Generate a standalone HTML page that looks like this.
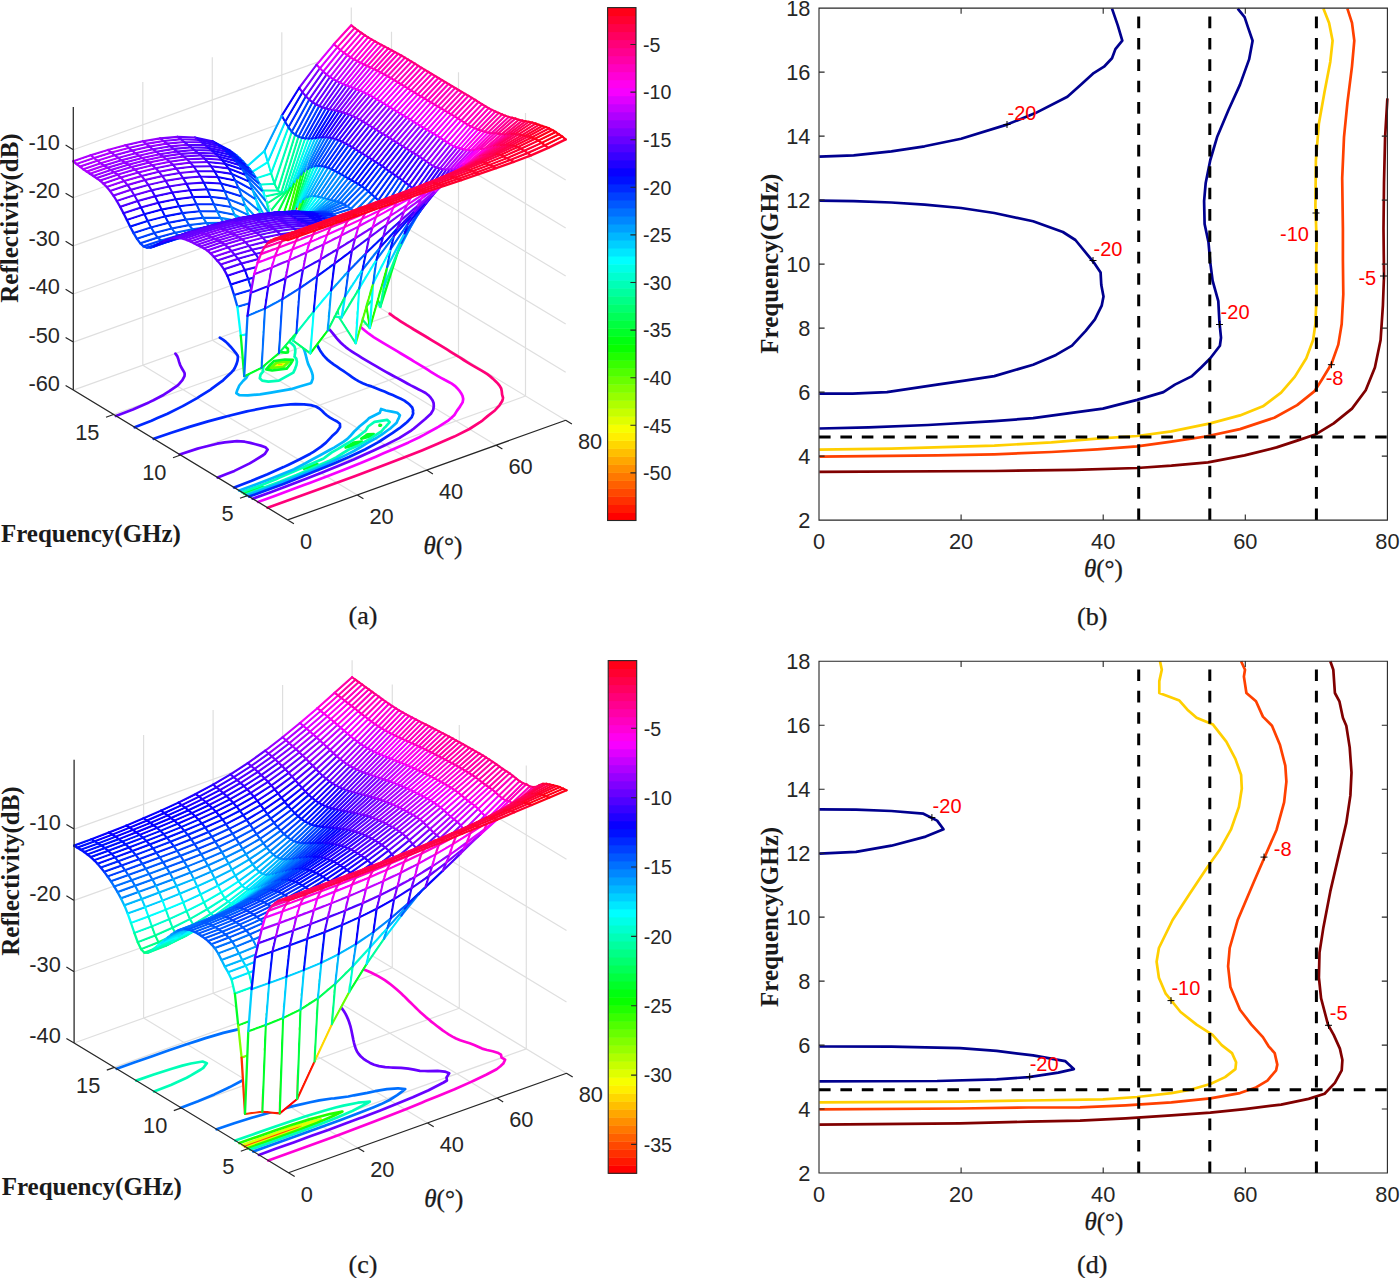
<!DOCTYPE html><html><head><meta charset="utf-8"><style>
html,body{margin:0;padding:0;background:#fff}
svg{display:block}
text{font-family:"Liberation Sans",sans-serif}
.tk{font-size:21.8px;fill:#262626}
.cb{font-size:19.6px;fill:#262626}
.cl{font-size:20px;fill:#f00}
.lb{font-family:"Liberation Serif",serif;font-weight:bold;font-size:25px;fill:#1a1a1a}
.lb text,.th text,.cp text{font-family:"Liberation Serif",serif}
.th{font-size:25px;fill:#1a1a1a;stroke:#1a1a1a;stroke-width:.3px}
.cp{font-size:26px;fill:#1a1a1a;stroke:#1a1a1a;stroke-width:.25px}
.m path{fill:#fff}
.m .s{fill:none;stroke-width:2.3px;stroke-linejoin:round;stroke-linecap:round}
</style></head><body><svg width="1400" height="1278" viewBox="0 0 1400 1278">
<rect width="1400" height="1278" fill="#fff"/>
<path stroke="#000" stroke-opacity=".13" stroke-width="1.2" fill="none" d="M287.7 519.9L73.3 390.1M73.3 390.1L73.3 107M357.2 495L142.8 365.2M142.8 365.2L142.8 82.1M426.7 470.1L212.3 340.3M212.3 340.3L212.3 57.2M496.2 445.2L281.8 315.4M281.8 315.4L281.8 32.3M565.7 420.3L351.3 290.5M351.3 290.5L351.3 7.4M247.5 495.6L525.5 396M525.5 396L525.5 112.9M180.5 455L458.5 355.4M458.5 355.4L458.5 72.3M113.5 414.5L391.5 314.9M391.5 314.9L391.5 31.8M73.3 149.7L351.3 50.1M351.3 50.1L565.7 179.9M73.3 197.8L351.3 98.2M351.3 98.2L565.7 228M73.3 245.9L351.3 146.3M351.3 146.3L565.7 276.1M73.3 294L351.3 194.4M351.3 194.4L565.7 324.1M73.3 342.1L351.3 242.5M351.3 242.5L565.7 372.2M73.3 390.1L351.3 290.5M351.3 290.5L565.7 420.3M351.3 290.5L351.3 7.4M565.7 420.3L351.3 290.5"/>
<g fill="none" stroke-width="2.7" stroke-linejoin="round" stroke-linecap="round">
<path d="M281.1 365.2l-4.5 .5 2.3-1.8 4.2-.5-2 1.8" stroke="#ff7800"/>
<path d="M282.3 365.9l-9.1 1.1 4.6-3.8 8.6-1-4.1 3.7" stroke="#f7ff00"/>
<path d="M283.7 366.8l-1.7 .2-12.3 1.2 7-5.6 13-1.6-5.6 5.2-.4 .6" stroke="#68ff00"/>
<path d="M243.9 493.4l17.6-6.1 1.2-.4-1.1 .4-17.3 6.3" stroke="#00ff28"/>
<path d="M310.8 466.9l-6.7 1.9 5.7-2.5 7.6-2.2-6.6 2.8" stroke="#00ff28"/>
<path d="M356.9 444.6l-11.3 2.9 8.1-4.8 8.3-1.1-5.1 3" stroke="#00ff28"/>
<path d="M370.7 436.2l-9.4 2.5 6.3-4.4 6.1-.1-3 2" stroke="#00ff28"/>
<path d="M380.7 425.5l-1.2 .2 .2-.8 1.3 .2-.3 .4" stroke="#00ff28"/>
<path d="M286.7 368.6l-.5 .1-14.1 1.8-5.8-1.1 4-4.7 3.8-3.7 10.9-1.5 8 .3-2.5 4.2-3.8 4.6 0 0" stroke="#00ff28"/>
<path d="M287.8 352.5l-2 .2-7.1-.7-2.9-2.1-.7-3-.2-2.2 4.9 .5 5.4 1.3 2.7 2.3 0 3.2-.1 .5" stroke="#00ff28"/>
<path d="M241.8 492.1l17.3-6.2 16.9-6.6 2.4-1.3 13.5-5.8 16.2-6.9 15-6.5 1-.6 7.7-5.8 5.4-3 9.1-5.4 4.8-2.9 6.9-4.5 5.8-4.6 1.9-1.4 2.4-4.1 6.4-4.7 12.6-2 2.5 2.3-3.9 4.6-1.3 1.1-3.1 3.7-8.9 5.7-2.6 1.6-11.5 6.6-9.4 4.1-5.8 3.5-6.5 4.2-7.8 3.9-16.2 6.9-13.7 5.9-2.5 1.1-16.5 6.7-17 6.4-17.3 6.3" stroke="#00ffb7"/>
<path d="M278.8 380.6l-10.4 1-6.2-1-2.4-2.4 .7-3.5 2.8-3.5-.4-.6 .3-3.3 2.6-4.2 3.7-4.5 .2-.3 .5-3.2-1.6-2.7-1.2-2.8-1.1-2.8-1.2-2.8-1.3-2.8-1.4-2.7-1.1-2 2.2-1.6 9.6-6.7 1.2-.6 .3 .1 5 1.4 3.5 2 2.4 2.4 .9 1.5-.7 1.6 1 2.9 2.6 2.3 2.9 2.2 2.2 2.4 .9 2.9-.1 3.3-.6 3.5-.1 .5 1.8 2.1 .6 3-.5 3.4-1.3 3.7-1.8 3.8 0 0-14.5 8" stroke="#00ffb7"/>
<path d="M239.2 490.6l17.2-6.4 16.8-6.5 16.6-6.7 4.2-1.8 11.1-5.7 7.1-4 7.5-4 10.4-5.7 4-2.2 9.2-5.7 4.1-3 2.6-2.6 4.2-4.8 3.5-3.2 2-2 7-5.7 2.1-2.3 11-5.6 1.3-3.7 4.6 1.5 6.1 1.1 5.5 1.2 2.6 2.4-1.5 3.7-.3 .4-1.5 3.5-5.8 5.3-2.7 1.9-6.4 4.6-6.8 4.2-7.4 4.1-6.7 4.1-6.9 4-7.6 3.9-15.6 7.3-4 1.8-12.1 5.2-16.4 6.8-16.9 6.6-17.1 6.3-17.3 6.3" stroke="#00b7ff"/>
<path d="M260.3 323.1l4.9-1 6.1 .3 6.9 .8 5.5 1.2 4.3 1.7 3.4 2 2.8 2.3 2.2 2.4 1.8 2.6 1.3 2.8 .8 2.9 .3 2.5 .4 .5 1.7 2.6 1.3 2.7 1 2.9 .8 3 .7 2.9 .8 3 .9 2.9 .5 1.1 .8 1.6 1.3 2.8 1.1 2.8 .8 3 .1 3.2-1.3 3.7-.7 .9-11.2 3.3-7.2 2.3-15.9 2.8-5.6 1-10.9 1.7-12.1 1.1-.1 0-8.5-.2-3-2.1 1.2-3.7 .2-.2 1.6-3.7 3.7-4.5 3.4-3.3 .7-1.4 3.1-4.4 4.5-4.8 .6-.7 .8-3 1.4-3.7 1.2-3.7 .9-3.6 0-.2-1.8-2.3-2.1-2.5-2.1-2.5-2.2-2.4-2.3-2.4-2.2-2.5-2.1-2.4-1.9-2.6-1.3-2.7" stroke="#00b7ff"/>
<path d="M234.1 487.5l.1-.1 16.9-6.4 16.4-6.8 16-7.1 5.1-2.4 10.2-5 11.6-6 3.1-1.9 7.6-5.2 4.9-4 1.4-1.5 4.5-4.8 4.5-4.1 1-1.1 2.7-4.2-.2-3.2-2.8-2.2-3.6-1.9-3.5-2-3-2.1-2.6-2.3-2.4-2.4-2.7-2.3-3.5-2-4.9-1.4-6.8-.8-8.6-.2-5 .3-6.5 .6-14.4 1.9-2 .4-17.7 3.5-3.1 .6-19.7 4.8-6 1.7-13.1 3.5-18.6 5.5-18.1 5.8-17.6 6.1" stroke="#0028ff"/>
<path d="M134.7 427.3l16.8-6.5 5.9-2.7 10.1-4.4 15.2-7.6 1.4-.8 13-7.2 2.2-1.5 11.3-7 .5-.4 8.5-6.3 3.5-2.6 3.1-3 5.4-5.1 2-2.2 1.3-2.2 1.7-3.9 1-3.6 .3-3.3-.3-1.4-.9-1.4-2-2.5-2-2.5-2.1-2.5-2.3-2.4-2.4-2.4-2.9-2.2-3.2-2" stroke="#0028ff"/>
<path d="M277.5 317l6.1 1 4.6 1.3 .5 .1 4.9 1.5 4 1.8 3.3 2 2.8 2.3 2.4 2.3 1.3 1.6 .9 .9 2.3 2.4 2 2.5 1.7 2.6 1.4 2.7 1.4 2.8 1.3 2.7 1.5 2.7 1.7 2.6 1.9 2.6 2.2 2.4 2.4 2.4 .3 .2 2.5 2 3 2.2 3.1 2.1 3.1 2.1 3.2 2.1 3 2.1 3.1 2.2 3 2.1 3.1 2.1 3.4 2 3.8 1.9 4.3 1.7 4.5 1.4 .2 .1 4.4 1.7 4.2 1.7 4.2 1.7 4.1 1.8 4.1 1.7 4.1 1.8 4 1.8 3.6 1.9 3 2.2 2.6 2.3 2.2 2.4 .9 2.9-.2 1.1 .3 2.1-1.6 3.8-4.7 4.9-1.7 1.3-5.7 4.6-6.8 4.6-3.9 2.5-9.4 6.2-1.5 .9-12.9 7.1-5.8 2.8-9.7 4.5-16.1 7-16.6 6.8-6.2 2.4-10.4 4.2-16.7 6.7-17.1 6.4-17.2 6.3" stroke="#0028ff"/>
<path d="M217.7 477.6l9.5-3.8 7.2-2.9 15.3-7.5 3.8-2.3 9.9-6.1 1.4-1.1 2.9-4.3-2.3-2.4-4.7-1.6-5.2-1.3-5.2-1.4-5.6-1.2-3.9-.4-3.8-.1-12.3 1.2-7.6 1.3-16.3 4-3.2 .9-17.9 5.9" stroke="#6800ff"/>
<path d="M115.9 415.9l17-6.5 16-7 4.5-2.2 10.4-5.5 5.5-3.5 7.7-5.3 1.3-1.1 4.1-4.7 2.1-4 .2-2.2-.2-1-1.5-2.7-1.6-2.7-1.3-2.7-1-2.9-.8-2.9-1.1-2.9-1.8-2.5" stroke="#6800ff"/>
<path d="M295.3 310.6l5.4 1.3 4.8 1.5 1.8 .7 2.6 1 3.9 1.8 3.4 2 3 2.1 2.8 2.3 .9 .9 1.6 1.4 2.5 2.3 2.3 2.5 2.1 2.4 2 2.5 2 2.5 2.1 2.5 2.3 2.4 2.5 2.3 2.7 2.3 2.9 2.2 3.1 2.1 3.2 2.1 3.3 2 3.4 2.1 3.4 2 3.4 2 3.4 2 3.5 2 3.4 2 3.4 2 3.5 2 3.5 1.9 3.6 2 3.6 1.9 3.6 1.9 3.6 2 3.5 2 3.5 1.9 3.7 1.9 3.8 1.9 3.8 1.9 3.5 1.9 2.8 2.2 2.3 2.5 1.8 2.5 1.1 2.9 .2 3.1-.2 1.1-.3 2.3-2.4 4.1-5.7 5.3 0 0-6.8 5.7-4.8 4-2.1 1.6-11.2 7.1-.7 .5-14.3 7.2-11.1 5.1-4.5 2.1-15.9 7.2-16.3 6.8-4.3 1.8-12.3 5-16.7 6.5-17 6.5-17.2 6.4-17.3 6.2" stroke="#6800ff"/>
<path d="M319.3 302l5.1 1.4 4.7 1.6 4.2 1.7 3.8 1.8 3.5 2 3.2 2.1 3 2.1 2.8 2.3 2.7 2.2 2.6 2.3 2.5 2.4 2.5 2.3 2.5 2.3 2.7 2.3 2.8 2.2 3 2.2 3.1 2.1 3.3 2 3.3 2.1 3.3 2 3.4 2 3.4 2 3.4 2 3.4 2 3.4 2.1 3.4 2 3.3 2 3.4 2 3.3 2.1 3.4 2 3.3 2 3.4 2 3.2 2.1 3.3 2.1 3.3 2 3.3 2 3.5 2 3.6 2 3.7 1.9 3.5 1.9 3 2.2 2.2 2.2 .2 .2 2.1 2.4 1.8 2.6 1.4 2.7 .7 3-.6 3.5-2.6 4.1 0 .1-3.1 4.3-2.5 4.1-3.2 3-2.7 2.3-10.2 6.6-1.5 .8-12.9 7.2-4.5 2.3-10.8 5.2-16 7.1-9.1 3.8-7.1 3.1-16.3 6.9-16.7 6.6-16.8 6.6-17 6.4-5.7 2.1-11.4 4.3-17.2 6.4-17.3 6.2" stroke="#f700ff"/>
<path d="M389.6 313.7l1.7 1.2 3 2.2 3.1 2.1 3.2 2.1 3.3 2.1 3.2 2 3.4 2 3.3 2.1 3.4 2 3.4 2 3.4 2 3.3 2 3.4 2.1 3.3 2 3.4 2 3.3 2.1 3.3 2 3.3 2 3.3 2.1 3.3 2 3.3 2.1 3.3 2 3.2 2.1 3.3 2.1 3.3 2 3.4 2 3.5 2 3.5 2 3.4 2 3.2 2.1 2.9 2.2 2.6 2.2 2.5 2.4 2.4 2.4 2 2.4 1.5 2.7 .6 3.1 .3 3.1 .9 2.9-.2 1.4-.6 2.1-2.7 4.2-4.4 4.8-.6 .6-6.6 5.2-5.2 4.4-2.2 1.5-11.1 7.2 0 0-15.1 7.6-12.6 5.5-3.4 1.5-16.4 6.9-16.7 6.6-16.9 6.5-17.1 6.4-17.2 6.4-17.2 6.3-17.2 6.3-17.3 6.2-17.4 6.3-17.3 6.2" stroke="#ff0078"/>
<path d="M350.4 290.9l4.2 1.7 .4 .2" stroke="#ff0078"/>
</g>
<g class="m">
<path class="s" d="M354.7 28.1l-3.4-2.7" stroke="#ff0078"/>
<path class="s" d="M333.9 44.4l17.4-19" stroke="#ff00bf"/>
<path d="M337.3 47.4l16.6-18.5-2.5-2-16.7 18.2z"/>
<path class="s" d="M354.7 28.1l-17.4 19.3-3.4-3" stroke="#ff00bf"/>
<path class="s" d="M316.6 64.9l17.3-20.5" stroke="#df00ff"/>
<path d="M319.9 68.4l16.7-20.1-2.6-2.3-16.7 19.7z"/>
<path class="s" d="M337.3 47.4l-17.4 21-3.3-3.5" stroke="#df00ff"/>
<path class="s" d="M299.2 88l17.4-23.1" stroke="#8000ff"/>
<path d="M302.5 92.4l16.7-23.1-2.6-2.7-16.7 22.3z"/>
<path class="s" d="M319.9 68.4l-17.4 24-3.3-4.4" stroke="#8000ff"/>
<path class="s" d="M281.8 115.9l17.4-27.9" stroke="#0800ff"/>
<path d="M285.2 122l16.7-28.6-2.6-3.5-16.9 27.1z"/>
<path class="s" d="M302.5 92.4l-17.3 29.6-3.4-6.1" stroke="#0010ff"/>
<path class="s" d="M264.4 151.2l17.4-35.3" stroke="#009fff"/>
<path d="M267.8 162.3l16.8-39-2.7-5-17 34.5z"/>
<path class="s" d="M285.2 122l-17.4 40.3-3.4-11.1" stroke="#00e7ff"/>
<path class="s" d="M247 166.6l17.4-15.4" stroke="#00e7ff"/>
<path d="M250.4 173.1l16.4-10.2-2.9-9.7-16.3 14.4z"/>
<path class="s" d="M267.8 162.3l-17.4 10.8-3.4-6.5" stroke="#0ff"/>
<path class="s" d="M229.7 150.6l17.3 16" stroke="#0058ff"/>
<path class="s" d="M250.4 173.1l-17.4-20.2-3.3-2.3" stroke="#0058ff"/>
<path class="s" d="M212.3 141.3l17.4 9.3" stroke="#0800ff"/>
<path class="s" d="M233 152.9l-17.4-9.5-3.3-2.1" stroke="#0800ff"/>
<path class="s" d="M194.9 137.6l17.4 3.7" stroke="#3800ff"/>
<path d="M198.3 139.8l14.2 2.9-.6-.4-14.5-3.1z"/>
<path class="s" d="M215.6 143.4l-17.3-3.6-3.4-2.2" stroke="#3800ff"/>
<path class="s" d="M177.5 137l17.4 .6" stroke="#6800ff"/>
<path d="M180.9 139.4l15.3 .4-1.6-1.2-15.5-.4z"/>
<path class="s" d="M198.3 139.8l-17.4-.4-3.4-2.4" stroke="#6800ff"/>
<path class="s" d="M160.2 138.5l17.3-1.5" stroke="#8000ff"/>
<path d="M163.5 141.1l15.7-1.5-2-1.4-15.7 1.3z"/>
<path class="s" d="M180.9 139.4l-17.4 1.7-3.3-2.6" stroke="#8000ff"/>
<path class="s" d="M142.8 141.4l17.4-2.9" stroke="#9700ff"/>
<path d="M146.1 144l15.9-2.7-2.1-1.6-15.9 2.6z"/>
<path class="s" d="M163.5 141.1l-17.4 2.9-3.3-2.6" stroke="#9700ff"/>
<path class="s" d="M125.4 145.3l17.4-3.9" stroke="#9700ff"/>
<path d="M128.8 148l16-3.7-2.3-1.7-16 3.6z"/>
<path class="s" d="M146.1 144l-17.3 4-3.4-2.7" stroke="#9700ff"/>
<path class="s" d="M108 150l17.4-4.7" stroke="#af00ff"/>
<path d="M111.4 152.7l16.1-4.4-2.3-1.8-16.1 4.3z"/>
<path class="s" d="M128.8 148l-17.4 4.7-3.4-2.7" stroke="#af00ff"/>
<path class="s" d="M90.7 155.3l17.3-5.3" stroke="#af00ff"/>
<path d="M94 158.1l16.1-5-2.3-1.9-16.1 5z"/>
<path class="s" d="M111.4 152.7l-17.4 5.4-3.3-2.8" stroke="#af00ff"/>
<path class="s" d="M73.3 161.3l17.4-6" stroke="#af00ff"/>
<path d="M76.6 164l16.2-5.5-2.3-1.9-16.2 5.5z"/>
<path class="s" d="M94 158.1l-17.4 5.9-3.3-2.7" stroke="#af00ff"/>
<path class="s" d="M358 30.6l-3.3-2.5" stroke="#ff0078"/>
<path d="M340.6 50.3l16.7-18.8-2.5-1.9-16.7 18.5z"/>
<path class="s" d="M358 30.6l-17.4 19.7-3.3-2.9" stroke="#ff00d7"/>
<path d="M323.2 71.7l16.7-20.5-2.5-2.2-16.7 20.2z"/>
<path class="s" d="M340.6 50.3l-17.4 21.4-3.3-3.3" stroke="#df00ff"/>
<path d="M305.9 96.4l16.7-23.8-2.6-2.5-16.7 23.2z"/>
<path class="s" d="M323.2 71.7l-17.3 24.7-3.4-4" stroke="#6800ff"/>
<path d="M288.5 127.5l16.8-30.1-2.6-3.1-16.9 28.8z"/>
<path class="s" d="M305.9 96.4l-17.4 31.1-3.3-5.5" stroke="#0028ff"/>
<path d="M271.1 173.7l16.9-44.9-2.7-4.4-17 39.6z"/>
<path class="s" d="M288.5 127.5l-17.4 46.2-3.3-11.4" stroke="#00ffe7"/>
<path d="M253.7 179.2l16.4-5.1-3-10.1-16.2 10.1z"/>
<path class="s" d="M271.1 173.7l-17.4 5.5-3.3-6.1" stroke="#00ffe7"/>
<path class="s" d="M253.7 179.2l-17.3-23.8-3.4-2.5" stroke="#0058ff"/>
<path class="s" d="M236.4 155.4l-17.4-9.6-3.4-2.4" stroke="#0800ff"/>
<path d="M201.6 142.3l14.8 3-1.2-.9-14.9-3z"/>
<path class="s" d="M219 145.8l-17.4-3.5-3.3-2.5" stroke="#3800ff"/>
<path d="M184.2 142.1l15.6 .2-1.9-1.4-15.5-.3z"/>
<path class="s" d="M201.6 142.3l-17.4-.2-3.3-2.7" stroke="#6800ff"/>
<path d="M166.9 143.7l15.8-1.5-2.1-1.6-15.8 1.4z"/>
<path class="s" d="M184.2 142.1l-17.3 1.6-3.4-2.6" stroke="#8000ff"/>
<path d="M149.5 146.7l15.9-2.7-2.2-1.8-15.9 2.7z"/>
<path class="s" d="M166.9 143.7l-17.4 3-3.4-2.7" stroke="#9700ff"/>
<path d="M132.1 150.7l16-3.7-2.2-1.8-16 3.7z"/>
<path class="s" d="M149.5 146.7l-17.4 4-3.3-2.7" stroke="#9700ff"/>
<path d="M114.7 155.4l16.1-4.4-2.3-1.8-16 4.4z"/>
<path class="s" d="M132.1 150.7l-17.4 4.7-3.3-2.7" stroke="#9700ff"/>
<path d="M97.4 160.8l16.1-5-2.3-1.9-16.1 5z"/>
<path class="s" d="M114.7 155.4l-17.3 5.4-3.4-2.7" stroke="#af00ff"/>
<path d="M80 166.7l16.1-5.5-2.3-1.9-16.1 5.5z"/>
<path class="s" d="M97.4 160.8l-17.4 5.9-3.4-2.7" stroke="#af00ff"/>
<path class="s" d="M361.4 33l-3.4-2.4" stroke="#ff0078"/>
<path d="M344 52.9l16.6-19-2.4-1.8-16.7 18.9z"/>
<path class="s" d="M361.4 33l-17.4 19.9-3.4-2.6" stroke="#ff00d7"/>
<path d="M326.6 74.6l16.7-20.8-2.5-2-16.7 20.6z"/>
<path class="s" d="M344 52.9l-17.4 21.7-3.4-2.9" stroke="#c700ff"/>
<path d="M309.2 99.7l16.8-24.2-2.6-2.1-16.7 23.7z"/>
<path class="s" d="M326.6 74.6l-17.4 25.1-3.3-3.3" stroke="#6800ff"/>
<path d="M291.8 131.8l16.9-31.1-2.6-2.5-16.9 30.2z"/>
<path class="s" d="M309.2 99.7l-17.4 32.1-3.3-4.3" stroke="#0040ff"/>
<path d="M274.5 183.9l16.9-50.8-2.6-3.4-17.1 45.7z"/>
<path class="s" d="M291.8 131.8l-17.3 52.1-3.4-10.2" stroke="#00ffb7"/>
<path d="M257.1 184.9l16.2-.9-2.9-8.9-16.1 5z"/>
<path class="s" d="M274.5 183.9l-17.4 1-3.4-5.7" stroke="#00ffcf"/>
<path class="s" d="M257.1 184.9l-17.4-26.5-3.3-3" stroke="#0070ff"/>
<path class="s" d="M239.7 158.4l-17.3-9.8-3.4-2.8" stroke="#0010ff"/>
<path d="M205 145.1l15 3-1.5-1.2-15-3.1z"/>
<path class="s" d="M222.4 148.6l-17.4-3.5-3.4-2.8" stroke="#3800ff"/>
<path d="M187.6 144.8l15.6 .2-2-1.6-15.6-.2z"/>
<path class="s" d="M205 145.1l-17.4-.3-3.4-2.7" stroke="#5000ff"/>
<path d="M170.2 146.4l15.8-1.5-2.1-1.7-15.8 1.5z"/>
<path class="s" d="M187.6 144.8l-17.4 1.6-3.3-2.7" stroke="#8000ff"/>
<path d="M152.8 149.4l16-2.7-2.2-1.8-15.9 2.7z"/>
<path class="s" d="M170.2 146.4l-17.4 3-3.3-2.7" stroke="#8000ff"/>
<path d="M135.5 153.3l16-3.6-2.3-1.8-16 3.7z"/>
<path class="s" d="M152.8 149.4l-17.3 3.9-3.4-2.6" stroke="#9700ff"/>
<path d="M118.1 158l16-4.3-2.2-1.8-16.1 4.3z"/>
<path class="s" d="M135.5 153.3l-17.4 4.7-3.4-2.6" stroke="#9700ff"/>
<path d="M100.7 163.3l16.1-4.9-2.3-1.8-16.1 5z"/>
<path class="s" d="M118.1 158l-17.4 5.3-3.3-2.5" stroke="#af00ff"/>
<path d="M83.4 169.3l16.1-5.5-2.3-1.8-16.1 5.5z"/>
<path class="s" d="M100.7 163.3l-17.3 6-3.4-2.6" stroke="#af00ff"/>
<path class="s" d="M364.7 35.3l-3.3-2.3" stroke="#ff0078"/>
<path d="M347.3 55.3l16.7-19.2-2.5-1.6-16.6 19.1z"/>
<path class="s" d="M364.7 35.3l-17.4 20-3.3-2.4" stroke="#ff00d7"/>
<path d="M330 77.1l16.6-20.9-2.4-1.8-16.7 20.9z"/>
<path class="s" d="M347.3 55.3l-17.3 21.8-3.4-2.5" stroke="#c700ff"/>
<path d="M312.6 102.3l16.7-24.3-2.4-1.8-16.8 24.2z"/>
<path class="s" d="M330 77.1l-17.4 25.2-3.4-2.6" stroke="#6800ff"/>
<path d="M295.2 134.8l16.8-31.5-2.4-1.9-16.9 31.2z"/>
<path class="s" d="M312.6 102.3l-17.4 32.5-3.4-3" stroke="#0040ff"/>
<path d="M277.8 190.7l17-54.7-2.4-2.3-17.2 51.6z"/>
<path class="s" d="M295.2 134.8l-17.4 55.9-3.3-6.8" stroke="#00ff9f"/>
<path d="M260.4 190.7l16.2 0-2.8-5.6-16.1 .9z"/>
<path class="s" d="M277.8 190.7l-17.4 0-3.3-5.8" stroke="#00ffb7"/>
<path class="s" d="M260.4 190.7l-17.3-29-3.4-3.3" stroke="#0070ff"/>
<path class="s" d="M243.1 161.7l-17.4-10.2-3.3-2.9" stroke="#0010ff"/>
<path d="M208.3 147.9l15.2 3.2-1.7-1.5-15.1-3.1z"/>
<path class="s" d="M225.7 151.5l-17.4-3.6-3.3-2.8" stroke="#3800ff"/>
<path d="M191 147.5l15.6 .3-2-1.6-15.6-.3z"/>
<path class="s" d="M208.3 147.9l-17.3-.4-3.4-2.7" stroke="#5000ff"/>
<path d="M173.6 149l15.8-1.4-2.1-1.7-15.8 1.5z"/>
<path class="s" d="M191 147.5l-17.4 1.5-3.4-2.6" stroke="#6800ff"/>
<path d="M156.2 151.9l15.9-2.6-2.2-1.7-15.8 2.7z"/>
<path class="s" d="M173.6 149l-17.4 2.9-3.4-2.5" stroke="#8000ff"/>
<path d="M138.8 155.8l16-3.6-2.2-1.6-16 3.6z"/>
<path class="s" d="M156.2 151.9l-17.4 3.9-3.3-2.5" stroke="#9700ff"/>
<path d="M121.4 160.4l16.1-4.3-2.3-1.6-15.9 4.3z"/>
<path class="s" d="M138.8 155.8l-17.4 4.6-3.3-2.4" stroke="#9700ff"/>
<path d="M104.1 165.7l16-4.9-2.2-1.6-16 4.9z"/>
<path class="s" d="M121.4 160.4l-17.3 5.3-3.4-2.4" stroke="#9700ff"/>
<path d="M86.7 171.6l16.1-5.5-2.3-1.5-16 5.5z"/>
<path class="s" d="M104.1 165.7l-17.4 5.9-3.3-2.3" stroke="#af00ff"/>
<path class="s" d="M368.1 37.4l-3.4-2.1" stroke="#ff0078"/>
<path d="M350.7 57.5l16.6-19.2-2.4-1.6-16.6 19.2z"/>
<path class="s" d="M368.1 37.4l-17.4 20.1-3.4-2.2" stroke="#ff00d7"/>
<path d="M333.3 79.3l16.7-21-2.4-1.5-16.7 20.9z"/>
<path class="s" d="M350.7 57.5l-17.4 21.8-3.3-2.2" stroke="#c700ff"/>
<path d="M315.9 104.4l16.8-24.2-2.4-1.6-16.8 24.3z"/>
<path class="s" d="M333.3 79.3l-17.4 25.1-3.3-2.1" stroke="#6800ff"/>
<path d="M298.5 136.8l16.9-31.4-2.4-1.5-16.8 31.5z"/>
<path class="s" d="M315.9 104.4l-17.4 32.4-3.3-2" stroke="#0040ff"/>
<path d="M281.2 193.1l17-55.3-2.4-1.3-17 54.9z"/>
<path class="s" d="M298.5 136.8l-17.3 56.3-3.4-2.4" stroke="#00ff9f"/>
<path d="M263.8 196.8l15.9-3.4-2.2-1.6-16.4 0z"/>
<path class="s" d="M281.2 193.1l-17.4 3.7-3.4-6.1" stroke="#00ff9f"/>
<path class="s" d="M263.8 196.8l-17.4-31.5-3.3-3.6" stroke="#0070ff"/>
<path d="M229 154.6l13.9 8.5-.5-.5-12.9-7.6z"/>
<path class="s" d="M246.4 165.3l-17.4-10.7-3.3-3.1" stroke="#0010ff"/>
<path d="M211.7 150.7l15.2 3.4-1.7-1.6-15.1-3.1z"/>
<path class="s" d="M229 154.6l-17.3-3.9-3.4-2.8" stroke="#2000ff"/>
<path d="M194.3 150.1l15.6 .5-2-1.6-15.5-.4z"/>
<path class="s" d="M211.7 150.7l-17.4-.6-3.3-2.6" stroke="#5000ff"/>
<path d="M176.9 151.6l15.8-1.3-2.1-1.7-15.7 1.4z"/>
<path class="s" d="M194.3 150.1l-17.4 1.5-3.3-2.6" stroke="#6800ff"/>
<path d="M159.5 154.3l15.9-2.5-2.1-1.6-15.8 2.6z"/>
<path class="s" d="M176.9 151.6l-17.4 2.7-3.3-2.4" stroke="#8000ff"/>
<path d="M142.2 158.1l15.9-3.5-2.1-1.5-15.9 3.5z"/>
<path class="s" d="M159.5 154.3l-17.3 3.8-3.4-2.3" stroke="#9700ff"/>
<path d="M124.8 162.7l16-4.2-2.2-1.5-15.9 4.2z"/>
<path class="s" d="M142.2 158.1l-17.4 4.6-3.4-2.3" stroke="#9700ff"/>
<path d="M107.4 167.9l16-4.8-2.1-1.5-16 4.9z"/>
<path class="s" d="M124.8 162.7l-17.4 5.2-3.3-2.2" stroke="#9700ff"/>
<path d="M90 173.8l16.1-5.4-2.2-1.5-16 5.5z"/>
<path class="s" d="M107.4 167.9l-17.4 5.9-3.3-2.2" stroke="#af00ff"/>
<path class="s" d="M371.4 39.4l-3.3-2" stroke="#ff0078"/>
<path d="M354 59.4l16.7-19.1-2.4-1.5-16.7 19.2z"/>
<path class="s" d="M371.4 39.4l-17.4 20-3.3-1.9" stroke="#ff00d7"/>
<path d="M336.7 81.1l16.6-20.8-2.4-1.4-16.6 20.9z"/>
<path class="s" d="M354 59.4l-17.3 21.7-3.4-1.8" stroke="#c700ff"/>
<path d="M319.3 106.1l16.7-24.1-2.4-1.3-16.7 24.2z"/>
<path class="s" d="M336.7 81.1l-17.4 25-3.4-1.7" stroke="#6800ff"/>
<path d="M301.9 137.9l16.8-30.9-2.3-1.1-16.8 31.2z"/>
<path class="s" d="M319.3 106.1l-17.4 31.8-3.4-1.1" stroke="#0040ff"/>
<path d="M284.5 192.2l17.1-53.3-2.3-.7-16.9 54.6z"/>
<path class="s" d="M301.9 137.9l-17.4 54.3-3.3 .9" stroke="#00ffb7"/>
<path d="M267.2 203.6l14.5-9.5-.3 .1-17.1 3.6z"/>
<path class="s" d="M284.5 192.2l-17.3 11.4-3.4-6.8" stroke="#00ff87"/>
<path class="s" d="M267.2 203.6l-17.4-34.5-3.4-3.8" stroke="#0087ff"/>
<path d="M232.4 157.8l14 9.2-.7-.9-12.9-7.9z"/>
<path class="s" d="M249.8 169.1l-17.4-11.3-3.4-3.2" stroke="#0010ff"/>
<path d="M215 153.6l15.3 3.7-1.8-1.7-15-3.4z"/>
<path class="s" d="M232.4 157.8l-17.4-4.2-3.3-2.9" stroke="#2000ff"/>
<path d="M197.6 152.8l15.6 .7-1.9-1.7-15.5-.5z"/>
<path class="s" d="M215 153.6l-17.4-.8-3.3-2.7" stroke="#5000ff"/>
<path d="M180.3 154l15.7-1.1-2-1.6-15.7 1.2z"/>
<path class="s" d="M197.6 152.8l-17.3 1.2-3.4-2.4" stroke="#6800ff"/>
<path d="M162.9 156.7l15.8-2.4-2.1-1.6-15.8 2.5z"/>
<path class="s" d="M180.3 154l-17.4 2.7-3.4-2.4" stroke="#8000ff"/>
<path d="M145.5 160.3l15.9-3.3-2.1-1.5-15.9 3.4z"/>
<path class="s" d="M162.9 156.7l-17.4 3.6-3.3-2.2" stroke="#9700ff"/>
<path d="M128.1 164.8l16-4.1-2.1-1.4-16 4.2z"/>
<path class="s" d="M145.5 160.3l-17.4 4.5-3.3-2.1" stroke="#9700ff"/>
<path d="M110.8 170.1l16-4.8-2.2-1.4-16 4.8z"/>
<path class="s" d="M128.1 164.8l-17.3 5.3-3.4-2.2" stroke="#9700ff"/>
<path d="M93.4 176l16-5.5-2.1-1.4-16.1 5.5z"/>
<path class="s" d="M110.8 170.1l-17.4 5.9-3.4-2.2" stroke="#9700ff"/>
<path class="s" d="M374.8 41.3l-3.4-1.9" stroke="#ff0078"/>
<path d="M357.4 61.2l16.6-19-2.4-1.4-16.6 19.1z"/>
<path class="s" d="M374.8 41.3l-17.4 19.9-3.4-1.8" stroke="#ff00d7"/>
<path d="M340 82.8l16.7-20.7-2.4-1.3-16.6 20.8z"/>
<path class="s" d="M357.4 61.2l-17.4 21.6-3.3-1.7" stroke="#c700ff"/>
<path d="M322.6 107.4l16.8-23.7-2.4-1.2-16.7 24z"/>
<path class="s" d="M340 82.8l-17.4 24.6-3.3-1.3" stroke="#6800ff"/>
<path d="M305.2 138.5l16.9-30.1-2.3-.9-16.8 30.6z"/>
<path class="s" d="M322.6 107.4l-17.4 31.1-3.3-.6" stroke="#0028ff"/>
<path d="M287.9 189.6l17-50.1-2.2-.4-16.6 52z"/>
<path class="s" d="M305.2 138.5l-17.3 51.1-3.4 2.6" stroke="#00ffcf"/>
<path d="M270.5 211.5l14.5-18.2 .2-.2-17.6 11.5z"/>
<path class="s" d="M287.9 189.6l-17.4 21.9-3.3-7.9" stroke="#00ff70"/>
<path class="s" d="M270.5 211.5l-17.4-38.1-3.3-4.3" stroke="#0087ff"/>
<path d="M235.7 161.2l14.3 10-1-1.2-13-8.5z"/>
<path class="s" d="M253.1 173.4l-17.4-12.2-3.3-3.4" stroke="#0028ff"/>
<path d="M218.4 156.6l15.3 4.1-1.9-1.9-15-3.7z"/>
<path class="s" d="M235.7 161.2l-17.3-4.6-3.4-3" stroke="#2000ff"/>
<path d="M201 155.5l15.6 1-2-1.8-15.5-.8z"/>
<path class="s" d="M218.4 156.6l-17.4-1.1-3.4-2.7" stroke="#5000ff"/>
<path d="M183.6 156.6l15.8-1-2.1-1.7-15.7 1.1z"/>
<path class="s" d="M201 155.5l-17.4 1.1-3.3-2.6" stroke="#6800ff"/>
<path d="M166.2 159.1l15.9-2.3-2.1-1.6-15.8 2.4z"/>
<path class="s" d="M183.6 156.6l-17.4 2.5-3.3-2.4" stroke="#8000ff"/>
<path d="M148.9 162.7l15.9-3.3-2.1-1.6-15.9 3.4z"/>
<path class="s" d="M166.2 159.1l-17.3 3.6-3.4-2.4" stroke="#9700ff"/>
<path d="M131.5 167.1l16-4.1-2.2-1.5-15.9 4.2z"/>
<path class="s" d="M148.9 162.7l-17.4 4.4-3.4-2.3" stroke="#9700ff"/>
<path d="M114.1 172.3l16-4.8-2.1-1.5-16 4.9z"/>
<path class="s" d="M131.5 167.1l-17.4 5.2-3.3-2.2" stroke="#9700ff"/>
<path d="M96.7 178.2l16.1-5.5-2.2-1.4-16 5.4z"/>
<path class="s" d="M114.1 172.3l-17.4 5.9-3.3-2.2" stroke="#9700ff"/>
<path class="s" d="M378.1 43.2l-3.3-1.9" stroke="#ff0078"/>
<path d="M360.7 62.9l16.7-18.9-2.4-1.3-16.6 19z"/>
<path class="s" d="M378.1 43.2l-17.4 19.7-3.3-1.7" stroke="#ff00d7"/>
<path d="M343.4 84.3l16.6-20.5-2.3-1.2-16.7 20.6z"/>
<path class="s" d="M360.7 62.9l-17.3 21.4-3.4-1.5" stroke="#df00ff"/>
<path d="M326 108.5l16.7-23.3-2.3-1.1-16.7 23.7z"/>
<path class="s" d="M343.4 84.3l-17.4 24.2-3.4-1.1" stroke="#6800ff"/>
<path d="M308.6 138.6l16.8-29.1-2.3-.8-16.6 29.8z"/>
<path class="s" d="M326 108.5l-17.4 30.1-3.4-.1" stroke="#0028ff"/>
<path d="M291.2 186.1l17-46.4-2.2-.1-16.3 48.2z"/>
<path class="s" d="M308.6 138.6l-17.4 47.5-3.3 3.5" stroke="#00ffe7"/>
<path d="M273.8 221l15.8-31.5-.9 .9-17.8 22.3z"/>
<path class="s" d="M291.2 186.1l-17.4 34.9-3.3-9.5" stroke="#00ff40"/>
<path class="s" d="M273.8 221l-17.3-42.7-3.4-4.9" stroke="#009fff"/>
<path d="M239.1 165.1l14.6 11.1-1.4-2-13.5-9.5z"/>
<path class="s" d="M256.5 178.3l-17.4-13.2-3.4-3.9" stroke="#0028ff"/>
<path d="M221.7 159.9l15.4 4.6-2-2.3-15.2-4.1z"/>
<path class="s" d="M239.1 165.1l-17.4-5.2-3.3-3.3" stroke="#2000ff"/>
<path d="M204.4 158.6l15.6 1.2-2.1-2.2-15.6-.9z"/>
<path class="s" d="M221.7 159.9l-17.3-1.3-3.4-3.1" stroke="#5000ff"/>
<path d="M187 159.4l15.8-.8-2.2-2-15.8 1z"/>
<path class="s" d="M204.4 158.6l-17.4 .8-3.4-2.8" stroke="#6800ff"/>
<path d="M169.6 161.8l15.9-2.2-2.2-1.9-15.9 2.3z"/>
<path class="s" d="M187 159.4l-17.4 2.4-3.4-2.7" stroke="#8000ff"/>
<path d="M152.2 165.3l16-3.2-2.2-1.8-16 3.3z"/>
<path class="s" d="M169.6 161.8l-17.4 3.5-3.3-2.6" stroke="#9700ff"/>
<path d="M134.8 169.6l16.1-4-2.3-1.7-16 4z"/>
<path class="s" d="M152.2 165.3l-17.4 4.3-3.3-2.5" stroke="#9700ff"/>
<path d="M117.5 174.8l16-4.8-2.2-1.7-16.1 4.8z"/>
<path class="s" d="M134.8 169.6l-17.3 5.2-3.4-2.5" stroke="#9700ff"/>
<path d="M100.1 180.6l16.1-5.4-2.3-1.7-16.1 5.5z"/>
<path class="s" d="M117.5 174.8l-17.4 5.8-3.4-2.4" stroke="#9700ff"/>
<path class="s" d="M381.5 45l-3.4-1.8" stroke="#ff0078"/>
<path d="M364.1 64.6l16.6-18.8-2.4-1.2-16.5 18.8z"/>
<path class="s" d="M381.5 45l-17.4 19.6-3.4-1.7" stroke="#ff00d7"/>
<path d="M346.7 85.6l16.7-20.2-2.4-1.1-16.6 20.4z"/>
<path class="s" d="M364.1 64.6l-17.4 21-3.3-1.3" stroke="#df00ff"/>
<path d="M329.3 109.4l16.7-22.9-2.3-.9-16.6 23.2z"/>
<path class="s" d="M346.7 85.6l-17.4 23.8-3.3-.9" stroke="#6800ff"/>
<path d="M312 138.5l16.7-28.2-2.2-.5-16.6 28.8z"/>
<path class="s" d="M329.3 109.4l-17.3 29.1-3.4 .1" stroke="#0010ff"/>
<path d="M294.6 182.2l16.9-42.6-2.1 .1-16.1 44z"/>
<path class="s" d="M312 138.5l-17.4 43.7-3.4 3.9" stroke="#00e7ff"/>
<path d="M277.2 232.6l16.4-47.5-1.4 1.7-17.9 35.8z"/>
<path class="s" d="M294.6 182.2l-17.4 50.4-3.4-11.6" stroke="#00ff10"/>
<path class="s" d="M277.2 232.6l-17.4-48.2-3.3-6.1" stroke="#00b7ff"/>
<path d="M242.4 169.6l15 12.8-1.8-3.3-14.2-10.9z"/>
<path class="s" d="M259.8 184.4l-17.4-14.8-3.3-4.5" stroke="#0040ff"/>
<path d="M225.1 163.8l15.5 5.2-2.2-3-15.4-4.6z"/>
<path class="s" d="M242.4 169.6l-17.3-5.8-3.4-3.9" stroke="#0800ff"/>
<path d="M207.7 162.1l15.8 1.6-2.3-2.7-15.7-1.3z"/>
<path class="s" d="M225.1 163.8l-17.4-1.7-3.3-3.5" stroke="#3800ff"/>
<path d="M190.3 162.7l15.9-.5-2.3-2.5-15.9 .8z"/>
<path class="s" d="M207.7 162.1l-17.4 .6-3.3-3.3" stroke="#6800ff"/>
<path d="M173 164.9l15.9-2-2.3-2.3-16 2.2z"/>
<path class="s" d="M190.3 162.7l-17.3 2.2-3.4-3.1" stroke="#8000ff"/>
<path d="M155.6 168.3l16-3.1-2.3-2.2-16.1 3.2z"/>
<path class="s" d="M173 164.9l-17.4 3.4-3.4-3" stroke="#8000ff"/>
<path d="M138.2 172.6l16.1-4-2.4-2.1-16.1 4z"/>
<path class="s" d="M155.6 168.3l-17.4 4.3-3.4-3" stroke="#9700ff"/>
<path d="M120.8 177.7l16.2-4.7-2.4-2.1-16.1 4.7z"/>
<path class="s" d="M138.2 172.6l-17.4 5.1-3.3-2.9" stroke="#9700ff"/>
<path d="M103.4 183.6l16.2-5.5-2.4-2.1-16.1 5.5z"/>
<path class="s" d="M120.8 177.7l-17.4 5.9-3.3-3" stroke="#9700ff"/>
<path class="s" d="M384.8 46.8l-3.3-1.8" stroke="#ff0078"/>
<path d="M367.4 66.1l16.6-18.5-2.3-1.2-16.6 18.6z"/>
<path class="s" d="M384.8 46.8l-17.4 19.3-3.3-1.5" stroke="#ff00bf"/>
<path d="M350.1 86.9l16.6-19.9-2.3-1.1-16.6 20.1z"/>
<path class="s" d="M367.4 66.1l-17.3 20.8-3.4-1.3" stroke="#df00ff"/>
<path d="M332.7 110.1l16.7-22.3-2.3-.9-16.6 22.7z"/>
<path class="s" d="M350.1 86.9l-17.4 23.2-3.4-.7" stroke="#8000ff"/>
<path d="M315.3 138.1l16.8-27-2.2-.5-16.6 27.7z"/>
<path class="s" d="M332.7 110.1l-17.4 28-3.3 .4" stroke="#0010ff"/>
<path d="M297.9 178.2l16.9-38.9-2.1 .2-15.9 40z"/>
<path class="s" d="M315.3 138.1l-17.4 40.1-3.3 4" stroke="#00cfff"/>
<path d="M280.5 243.7l16.8-63-1.8 2-17.8 51.7z"/>
<path class="s" d="M297.9 178.2l-17.4 65.5-3.3-11.1" stroke="#38ff00"/>
<path class="s" d="M280.5 243.7l-17.3-51.7-3.4-7.6" stroke="#00cfff"/>
<path d="M245.8 175.1l15.3 14.9-2.2-5-14.6-12.4z"/>
<path class="s" d="M263.2 192l-17.4-16.9-3.4-5.5" stroke="#0058ff"/>
<path d="M228.4 168.5l15.7 6-2.4-4-15.5-5.2z"/>
<path class="s" d="M245.8 175.1l-17.4-6.6-3.3-4.7" stroke="#0800ff"/>
<path d="M211 166.3l15.9 2-2.4-3.4-15.8-1.6z"/>
<path class="s" d="M228.4 168.5l-17.4-2.2-3.3-4.2" stroke="#3800ff"/>
<path d="M193.7 166.7l16-.4-2.5-3.1-16 .6z"/>
<path class="s" d="M211 166.3l-17.3 .4-3.4-4" stroke="#5000ff"/>
<path d="M176.3 168.7l16.1-1.9-2.5-2.9-16.1 2z"/>
<path class="s" d="M193.7 166.7l-17.4 2-3.3-3.8" stroke="#6800ff"/>
<path d="M158.9 171.9l16.1-3-2.5-2.8-16 3.1z"/>
<path class="s" d="M176.3 168.7l-17.4 3.2-3.3-3.6" stroke="#8000ff"/>
<path d="M141.5 176.1l16.2-3.9-2.5-2.7-16.1 4z"/>
<path class="s" d="M158.9 171.9l-17.4 4.2-3.3-3.5" stroke="#8000ff"/>
<path d="M124.2 181.2l16.2-4.7-2.5-2.7-16.2 4.8z"/>
<path class="s" d="M141.5 176.1l-17.3 5.1-3.4-3.5" stroke="#9700ff"/>
<path d="M106.8 187l16.2-5.4-2.5-2.6-16.2 5.4z"/>
<path class="s" d="M124.2 181.2l-17.4 5.8-3.4-3.4" stroke="#9700ff"/>
<path class="s" d="M388.2 48.5l-3.4-1.7" stroke="#ff0078"/>
<path d="M370.8 67.7l16.6-18.3-2.4-1.3-16.5 18.5z"/>
<path class="s" d="M388.2 48.5l-17.4 19.2-3.4-1.6" stroke="#ff00bf"/>
<path d="M353.4 88.1l16.6-19.5-2.3-1.1-16.6 19.8z"/>
<path class="s" d="M370.8 67.7l-17.4 20.4-3.3-1.2" stroke="#df00ff"/>
<path d="M336 110.8l16.7-21.8-2.3-.8-16.5 22.2z"/>
<path class="s" d="M353.4 88.1l-17.4 22.7-3.3-.7" stroke="#8000ff"/>
<path d="M318.6 137.7l16.8-25.9-2.2-.5-16.5 26.6z"/>
<path class="s" d="M336 110.8l-17.4 26.9-3.3 .4" stroke="#0800ff"/>
<path d="M301.3 174.6l16.8-35.7-2 .2-15.9 36.6z"/>
<path class="s" d="M318.6 137.7l-17.3 36.9-3.4 3.6" stroke="#00b7ff"/>
<path d="M283.9 244.6l16.8-67.8-1.8 2-17.3 65.2z"/>
<path class="s" d="M301.3 174.6l-17.4 70-3.4-.9" stroke="#20ff00"/>
<path class="s" d="M283.9 244.6l-17.4-42.8-3.3-9.8" stroke="#0ff"/>
<path d="M249.2 181.8l15.4 17.8-2.4-7-14.9-14.5z"/>
<path class="s" d="M266.5 201.8l-17.3-20-3.4-6.7" stroke="#0070ff"/>
<path d="M231.8 174l15.8 7.1-2.6-5.1-15.7-6z"/>
<path class="s" d="M249.2 181.8l-17.4-7.8-3.4-5.5" stroke="#0010ff"/>
<path d="M214.4 171.3l16 2.5-2.6-4.3-15.9-2z"/>
<path class="s" d="M231.8 174l-17.4-2.7-3.4-5" stroke="#2000ff"/>
<path d="M197 171.3l16.1 0-2.6-3.9-16 .4z"/>
<path class="s" d="M214.4 171.3l-17.4 0-3.3-4.6" stroke="#3800ff"/>
<path d="M179.6 173.1l16.2-1.7-2.6-3.6-16.1 1.9z"/>
<path class="s" d="M197 171.3l-17.4 1.8-3.3-4.4" stroke="#6800ff"/>
<path d="M162.3 176.1l16.1-2.8-2.6-3.4-16.1 3z"/>
<path class="s" d="M179.6 173.1l-17.3 3-3.4-4.2" stroke="#6800ff"/>
<path d="M144.9 180.2l16.2-3.8-2.6-3.3-16.2 4z"/>
<path class="s" d="M162.3 176.1l-17.4 4.1-3.4-4.1" stroke="#8000ff"/>
<path d="M127.5 185.2l16.3-4.6-2.6-3.2-16.3 4.7z"/>
<path class="s" d="M144.9 180.2l-17.4 5-3.3-4" stroke="#8000ff"/>
<path d="M110.1 191.1l16.3-5.5-2.6-3.1-16.2 5.4z"/>
<path class="s" d="M127.5 185.2l-17.4 5.9-3.3-4.1" stroke="#8000ff"/>
<path class="s" d="M391.5 50.3l-3.3-1.8" stroke="#ff0078"/>
<path d="M374.1 69.3l16.6-18.2-2.3-1.2-16.6 18.3z"/>
<path class="s" d="M391.5 50.3l-17.4 19-3.3-1.6" stroke="#ff00bf"/>
<path d="M356.8 89.4l16.6-19.3-2.3-1.1-16.6 19.6z"/>
<path class="s" d="M374.1 69.3l-17.3 20.1-3.4-1.3" stroke="#df00ff"/>
<path d="M339.4 111.5l16.6-21.2-2.2-.8-16.6 21.6z"/>
<path class="s" d="M356.8 89.4l-17.4 22.1-3.4-.7" stroke="#8000ff"/>
<path d="M322 137.4l16.7-24.9-2.2-.5-16.5 25.6z"/>
<path class="s" d="M339.4 111.5l-17.4 25.9-3.4 .3" stroke="#2000ff"/>
<path d="M304.6 171.4l16.8-32.9-2 .2-16 33.8z"/>
<path class="s" d="M322 137.4l-17.4 34-3.3 3.2" stroke="#0087ff"/>
<path d="M287.2 234.1l16.9-60.6-1.8 1.6-13.4 53.8z"/>
<path class="s" d="M304.6 171.4l-17.4 62.7-3.3 10.5" stroke="#00ff28"/>
<path d="M269.9 214.9l16.5 18.3-2.6 8.2-19.3-47.5z"/>
<path class="s" d="M287.2 234.1l-17.3-19.2-3.4-13.1" stroke="#00ffb7"/>
<path d="M252.5 189.9l15.6 22.4-2.6-9.9-15-17.4z"/>
<path class="s" d="M269.9 214.9l-17.4-25-3.3-8.1" stroke="#0087ff"/>
<path d="M235.1 180.6l15.9 8.5-2.7-6.5-15.7-7z"/>
<path class="s" d="M252.5 189.9l-17.4-9.3-3.3-6.6" stroke="#0028ff"/>
<path d="M217.7 177.1l16 3.2-2.6-5.3-16-2.5z"/>
<path class="s" d="M235.1 180.6l-17.4-3.5-3.3-5.8" stroke="#0800ff"/>
<path d="M200.4 176.6l16.1 .4-2.7-4.6-16.1 0z"/>
<path class="s" d="M217.7 177.1l-17.3-.5-3.4-5.3" stroke="#3800ff"/>
<path d="M183 178.1l16.1-1.4-2.6-4.3-16.2 1.7z"/>
<path class="s" d="M200.4 176.6l-17.4 1.5-3.4-5" stroke="#5000ff"/>
<path d="M165.6 181l16.2-2.7-2.7-4-16.1 2.8z"/>
<path class="s" d="M183 178.1l-17.4 2.9-3.3-4.9" stroke="#6800ff"/>
<path d="M148.2 185l16.3-3.7-2.7-3.9-16.2 3.8z"/>
<path class="s" d="M165.6 181l-17.4 4-3.3-4.8" stroke="#6800ff"/>
<path d="M130.9 189.9l16.2-4.6-2.6-3.8-16.3 4.7z"/>
<path class="s" d="M148.2 185l-17.3 4.9-3.4-4.7" stroke="#6800ff"/>
<path d="M113.5 195.7l16.3-5.4-2.7-3.8-16.3 5.5z"/>
<path class="s" d="M130.9 189.9l-17.4 5.8-3.4-4.6" stroke="#8000ff"/>
<path class="s" d="M394.8 52.1l-3.3-1.8" stroke="#ff0078"/>
<path d="M377.5 70.9l16.6-18-2.4-1.2-16.5 18.1z"/>
<path class="s" d="M394.8 52.1l-17.3 18.8-3.4-1.6" stroke="#ff00bf"/>
<path d="M360.1 90.8l16.6-19-2.3-1.2-16.6 19.2z"/>
<path class="s" d="M377.5 70.9l-17.4 19.9-3.3-1.4" stroke="#f700ff"/>
<path d="M342.7 112.4l16.7-20.7-2.3-1-16.6 21.2z"/>
<path class="s" d="M360.1 90.8l-17.4 21.6-3.3-.9" stroke="#9700ff"/>
<path d="M325.4 137.3l16.7-23.9-2.2-.6-16.6 24.6z"/>
<path class="s" d="M342.7 112.4l-17.3 24.9-3.4 .1" stroke="#2000ff"/>
<path d="M308 169l16.7-30.6-2 .1-16.1 31.5z"/>
<path class="s" d="M325.4 137.3l-17.4 31.7-3.4 2.4" stroke="#0070ff"/>
<path d="M290.6 222.6l16.8-51.8-1.8 1.3 8.6-31.2z"/>
<path class="s" d="M308 169l-17.4 53.6-3.4 11.5" stroke="#00ff70"/>
<path class="s" d="M290.6 222.6l-17.4 10.7-3.3-18.4" stroke="#00ff58"/>
<path d="M255.8 199.6l15.7 30.3-2.7-14.6-15-21.6z"/>
<path class="s" d="M273.2 233.3l-17.4-33.7-3.3-9.7" stroke="#00b7ff"/>
<path d="M238.5 188.1l15.8 10.5-2.7-7.9-15.7-8.5z"/>
<path class="s" d="M255.8 199.6l-17.3-11.5-3.4-7.5" stroke="#0058ff"/>
<path d="M221.1 183.7l16 4.1-2.7-6.3-16-3.2z"/>
<path class="s" d="M238.5 188.1l-17.4-4.4-3.4-6.6" stroke="#0010ff"/>
<path d="M203.7 182.7l16.1 .9-2.7-5.4-16.1-.5z"/>
<path class="s" d="M221.1 183.7l-17.4-1-3.3-6.1" stroke="#2000ff"/>
<path d="M186.4 183.9l16.1-1.1-2.7-5-16.2 1.4z"/>
<path class="s" d="M203.7 182.7l-17.3 1.2-3.4-5.8" stroke="#3800ff"/>
<path d="M169 186.6l16.2-2.5-2.8-4.8-16.2 2.7z"/>
<path class="s" d="M186.4 183.9l-17.4 2.7-3.4-5.6" stroke="#5000ff"/>
<path d="M151.6 190.4l16.2-3.6-2.7-4.5-16.2 3.7z"/>
<path class="s" d="M169 186.6l-17.4 3.8-3.4-5.4" stroke="#5000ff"/>
<path d="M134.2 195.3l16.3-4.6-2.7-4.4-16.3 4.6z"/>
<path class="s" d="M151.6 190.4l-17.4 4.9-3.3-5.4" stroke="#6800ff"/>
<path d="M116.8 201l16.4-5.4-2.8-4.3-16.3 5.4z"/>
<path class="s" d="M134.2 195.3l-17.4 5.7-3.3-5.3" stroke="#6800ff"/>
<path class="s" d="M398.2 53.9l-3.4-1.8" stroke="#ff0078"/>
<path d="M380.8 72.6l16.6-17.8-2.3-1.3-16.6 17.9z"/>
<path class="s" d="M398.2 53.9l-17.4 18.7-3.3-1.7" stroke="#ff00bf"/>
<path d="M363.5 92.2l16.6-18.7-2.4-1.2-16.5 18.9z"/>
<path class="s" d="M380.8 72.6l-17.3 19.6-3.4-1.4" stroke="#f700ff"/>
<path d="M346.1 113.5l16.6-20.4-2.3-1-16.6 20.7z"/>
<path class="s" d="M363.5 92.2l-17.4 21.3-3.4-1.1" stroke="#9700ff"/>
<path d="M328.7 137.6l16.7-23.2-2.2-.7-16.6 23.7z"/>
<path class="s" d="M346.1 113.5l-17.4 24.1-3.3-.3" stroke="#3800ff"/>
<path d="M311.3 167.3l16.8-28.7-2.1-.1-16.3 29.6z"/>
<path class="s" d="M328.7 137.6l-17.4 29.7-3.3 1.7" stroke="#0058ff"/>
<path d="M294 213.4l16.8-44.6-1.9 1-8.4 25.7z"/>
<path class="s" d="M311.3 167.3l-17.3 46.1-3.4 9.2" stroke="#00ffb7"/>
<path class="s" d="M294 213.4l-17.4 50-3.4-30.1" stroke="#50ff00"/>
<path d="M259.2 211.1l15.7 47.3-2.7-24.8-14.7-28.5z"/>
<path class="s" d="M276.6 263.4l-17.4-52.3-3.4-11.5" stroke="#00e7ff"/>
<path d="M241.8 196.7l15.9 13.1-2.8-9.5-15.7-10.4z"/>
<path class="s" d="M259.2 211.1l-17.4-14.4-3.3-8.6" stroke="#0070ff"/>
<path d="M224.4 191.1l16.1 5.1-2.8-7.2-16-4z"/>
<path class="s" d="M241.8 196.7l-17.4-5.6-3.3-7.4" stroke="#0028ff"/>
<path d="M207.1 189.5l16.1 1.4-2.8-6.2-16.1-.9z"/>
<path class="s" d="M224.4 191.1l-17.3-1.6-3.4-6.8" stroke="#0010ff"/>
<path d="M189.7 190.3l16.2-.8-2.8-5.6-16.2 1z"/>
<path class="s" d="M207.1 189.5l-17.4 .8-3.3-6.4" stroke="#2000ff"/>
<path d="M172.3 192.7l16.2-2.3-2.8-5.3-16.2 2.5z"/>
<path class="s" d="M189.7 190.3l-17.4 2.4-3.3-6.1" stroke="#3800ff"/>
<path d="M155 196.4l16.2-3.5-2.8-5.1-16.2 3.6z"/>
<path class="s" d="M172.3 192.7l-17.3 3.7-3.4-6" stroke="#3800ff"/>
<path d="M137.6 201.2l16.3-4.5-2.8-5-16.3 4.5z"/>
<path class="s" d="M155 196.4l-17.4 4.8-3.4-5.9" stroke="#5000ff"/>
<path d="M120.2 206.9l16.3-5.4-2.8-4.9-16.3 5.4z"/>
<path class="s" d="M137.6 201.2l-17.4 5.7-3.4-5.9" stroke="#5000ff"/>
<path class="s" d="M401.6 55.8l-3.4-1.9" stroke="#ff0078"/>
<path d="M384.2 74.4l16.6-17.7-2.4-1.4-16.6 17.8z"/>
<path class="s" d="M401.6 55.8l-17.4 18.6-3.4-1.8" stroke="#ff00bf"/>
<path d="M366.8 93.9l16.6-18.6-2.3-1.3-16.6 18.7z"/>
<path class="s" d="M384.2 74.4l-17.4 19.5-3.3-1.7" stroke="#f700ff"/>
<path d="M349.4 114.8l16.7-20.1-2.3-1.1-16.6 20.3z"/>
<path class="s" d="M366.8 93.9l-17.4 20.9-3.3-1.3" stroke="#9700ff"/>
<path d="M332 138.2l16.7-22.5-2.2-.9-16.6 23z"/>
<path class="s" d="M349.4 114.8l-17.4 23.4-3.3-.6" stroke="#3800ff"/>
<path d="M314.7 166.3l16.7-27.1-2.1-.4-16.4 28.1z"/>
<path class="s" d="M332 138.2l-17.3 28.1-3.4 1" stroke="#0058ff"/>
<path d="M297.3 206.8l16.8-39.1-1.9 .5-13.6 36.1z"/>
<path class="s" d="M314.7 166.3l-17.4 40.5-3.3 6.6" stroke="#00ffe7"/>
<path d="M279.9 340l17-129.9-1.9 3.8-18.3 52.5z"/>
<path class="s" d="M297.3 206.8l-17.4 133.2-3.3-76.6" stroke="#f00"/>
<path d="M262.5 224.2l15.9 105.4-2.9-66-12.4-37.3z"/>
<path class="s" d="M279.9 340l-17.4-115.8-3.3-13.1" stroke="#00ffcf"/>
<path d="M245.2 205.9l15.8 16.6-2.8-10.8-15.6-13z"/>
<path class="s" d="M262.5 224.2l-17.3-18.3-3.4-9.2" stroke="#009fff"/>
<path d="M227.8 199l16 6.4-2.8-7.9-16-5.1z"/>
<path class="s" d="M245.2 205.9l-17.4-6.9-3.4-7.9" stroke="#0058ff"/>
<path d="M210.4 196.8l16.1 2-2.8-6.7-16.1-1.5z"/>
<path class="s" d="M227.8 199l-17.4-2.2-3.3-7.3" stroke="#0028ff"/>
<path d="M193 197.2l16.2-.4-2.8-6.2-16.2 .7z"/>
<path class="s" d="M210.4 196.8l-17.4 .4-3.3-6.9" stroke="#0800ff"/>
<path d="M175.7 199.4l16.2-2.1-2.8-5.8-16.3 2.2z"/>
<path class="s" d="M193 197.2l-17.3 2.2-3.4-6.7" stroke="#2000ff"/>
<path d="M158.3 202.9l16.3-3.3-2.9-5.6-16.2 3.4z"/>
<path class="s" d="M175.7 199.4l-17.4 3.5-3.3-6.5" stroke="#2000ff"/>
<path d="M140.9 207.6l16.3-4.4-2.8-5.5-16.3 4.5z"/>
<path class="s" d="M158.3 202.9l-17.4 4.7-3.3-6.4" stroke="#3800ff"/>
<path d="M123.5 213.3l16.4-5.4-2.9-5.4-16.3 5.4z"/>
<path class="s" d="M140.9 207.6l-17.4 5.7-3.3-6.4" stroke="#3800ff"/>
<path class="s" d="M404.9 57.8l-3.3-2" stroke="#ff0078"/>
<path d="M387.5 76.3l16.6-17.7-2.3-1.4-16.6 17.8z"/>
<path class="s" d="M404.9 57.8l-17.4 18.5-3.3-1.9" stroke="#ff00bf"/>
<path d="M370.2 95.6l16.6-18.5-2.4-1.3-16.6 18.6z"/>
<path class="s" d="M387.5 76.3l-17.3 19.3-3.4-1.7" stroke="#f700ff"/>
<path d="M352.8 116.3l16.6-19.8-2.3-1.3-16.6 20z"/>
<path class="s" d="M370.2 95.6l-17.4 20.7-3.4-1.5" stroke="#9700ff"/>
<path d="M335.4 139.1l16.7-21.9-2.3-1.1-16.6 22.4z"/>
<path class="s" d="M352.8 116.3l-17.4 22.8-3.4-.9" stroke="#3800ff"/>
<path d="M318 166l16.8-25.9-2.2-.6-16.5 26.7z"/>
<path class="s" d="M335.4 139.1l-17.4 26.9-3.3 .3" stroke="#0040ff"/>
<path d="M300.6 202.2l16.9-35-2.1 .2-15.2 35.3z"/>
<path class="s" d="M318 166l-17.4 36.2-3.3 4.6" stroke="#00e7ff"/>
<path d="M283.3 273.6l16.7-68.6-4.4 6-15 115.1z"/>
<path class="s" d="M300.6 202.2l-17.3 71.4-3.4 66.4" stroke="#68ff00"/>
<path d="M265.9 237.3l16.4 34.2-2.9 57.4-14.1-94.1z"/>
<path class="s" d="M283.3 273.6l-17.4-36.3-3.4-13.1" stroke="#00ff87"/>
<path d="M248.5 215.3l15.7 19.9-2.6-10.5-15.5-16.2z"/>
<path class="s" d="M265.9 237.3l-17.4-22-3.3-9.4" stroke="#00cfff"/>
<path d="M231.2 207.1l15.9 7.6-2.8-7.9-15.9-6.4z"/>
<path class="s" d="M248.5 215.3l-17.3-8.2-3.4-8.1" stroke="#0070ff"/>
<path d="M213.8 204.3l16.1 2.6-2.9-6.9-16-2.1z"/>
<path class="s" d="M231.2 207.1l-17.4-2.8-3.4-7.5" stroke="#0040ff"/>
<path d="M196.4 204.3l16.2 0-2.9-6.4-16.1 .4z"/>
<path class="s" d="M213.8 204.3l-17.4 0-3.4-7.1" stroke="#0028ff"/>
<path d="M179 206.3l16.2-1.9-2.8-6-16.2 2z"/>
<path class="s" d="M196.4 204.3l-17.4 2-3.3-6.9" stroke="#0010ff"/>
<path d="M161.6 209.7l16.3-3.2-2.8-5.9-16.3 3.3z"/>
<path class="s" d="M179 206.3l-17.4 3.4-3.3-6.8" stroke="#0800ff"/>
<path d="M144.3 214.3l16.3-4.3-2.9-5.8-16.3 4.4z"/>
<path class="s" d="M161.6 209.7l-17.3 4.6-3.4-6.7" stroke="#0800ff"/>
<path d="M126.9 220l16.3-5.4-2.8-5.7-16.4 5.4z"/>
<path class="s" d="M144.3 214.3l-17.4 5.7-3.4-6.7" stroke="#2000ff"/>
<path class="s" d="M408.2 59.8l-3.3-2" stroke="#ff0078"/>
<path d="M390.9 78.2l16.6-17.6-2.4-1.4-16.6 17.7z"/>
<path class="s" d="M408.2 59.8l-17.3 18.4-3.4-1.9" stroke="#ff00bf"/>
<path d="M373.5 97.5l16.6-18.4-2.4-1.4-16.6 18.5z"/>
<path class="s" d="M390.9 78.2l-17.4 19.3-3.3-1.9" stroke="#f700ff"/>
<path d="M356.1 117.9l16.7-19.6-2.4-1.3-16.6 19.8z"/>
<path class="s" d="M373.5 97.5l-17.4 20.4-3.3-1.6" stroke="#9700ff"/>
<path d="M338.8 140.3l16.6-21.5-2.3-1.2-16.6 21.9z"/>
<path class="s" d="M356.1 117.9l-17.3 22.4-3.4-1.2" stroke="#3800ff"/>
<path d="M321.4 166.2l16.7-24.9-2.3-.8-16.5 25.6z"/>
<path class="s" d="M338.8 140.3l-17.4 25.9-3.4-.2" stroke="#0040ff"/>
<path d="M304 199.1l16.8-31.8-2.1-.1-15.9 33z"/>
<path class="s" d="M321.4 166.2l-17.4 32.9-3.4 3.1" stroke="#00cfff"/>
<path class="s" d="M304 199.1l-17.4 49.5-3.3 25" stroke="#00ff28"/>
<path d="M269.2 246.1l16.3 2.3-2.8 21.4-21.7-45.2z"/>
<path class="s" d="M286.6 248.6l-17.4-2.5-3.3-8.8" stroke="#00ff58"/>
<path d="M251.9 223.7l15 19.4-2-5.2-14.9-19z"/>
<path class="s" d="M269.2 246.1l-17.3-22.4-3.4-8.4" stroke="#0ff"/>
<path d="M234.5 214.8l15.9 8.1-2.7-6.8-15.9-7.5z"/>
<path class="s" d="M251.9 223.7l-17.4-8.9-3.3-7.7" stroke="#009fff"/>
<path d="M217.1 211.5l16.1 3-2.8-6.4-16.1-2.6z"/>
<path class="s" d="M234.5 214.8l-17.4-3.3-3.3-7.2" stroke="#0058ff"/>
<path d="M199.7 211.4l16.2 .1-2.8-6.1-16.2 0z"/>
<path class="s" d="M217.1 211.5l-17.4-.1-3.3-7.1" stroke="#0040ff"/>
<path d="M182.4 213.2l16.2-1.7-2.9-6-16.2 1.8z"/>
<path class="s" d="M199.7 211.4l-17.3 1.8-3.4-6.9" stroke="#0028ff"/>
<path d="M165 216.5l16.3-3.1-2.9-5.9-16.2 3.2z"/>
<path class="s" d="M182.4 213.2l-17.4 3.3-3.4-6.8" stroke="#0010ff"/>
<path d="M147.6 221l16.3-4.2-2.8-5.8-16.3 4.3z"/>
<path class="s" d="M165 216.5l-17.4 4.5-3.3-6.7" stroke="#0010ff"/>
<path d="M130.2 226.7l16.4-5.3-2.9-5.8-16.3 5.4z"/>
<path class="s" d="M147.6 221l-17.4 5.7-3.3-6.7" stroke="#0010ff"/>
<path class="s" d="M411.6 61.8l-3.4-2" stroke="#ff0078"/>
<path d="M394.2 80.2l16.6-17.6-2.4-1.4-16.6 17.6z"/>
<path class="s" d="M411.6 61.8l-17.4 18.4-3.3-2" stroke="#ff00bf"/>
<path d="M376.8 99.4l16.7-18.3-2.4-1.5-16.6 18.4z"/>
<path class="s" d="M394.2 80.2l-17.4 19.2-3.3-1.9" stroke="#f700ff"/>
<path d="M359.5 119.7l16.6-19.5-2.4-1.3-16.6 19.5z"/>
<path class="s" d="M376.8 99.4l-17.3 20.3-3.4-1.8" stroke="#9700ff"/>
<path d="M342.1 141.8l16.7-21.2-2.4-1.3-16.6 21.5z"/>
<path class="s" d="M359.5 119.7l-17.4 22.1-3.3-1.5" stroke="#3800ff"/>
<path d="M324.7 166.9l16.8-24.2-2.4-1-16.6 24.7z"/>
<path class="s" d="M342.1 141.8l-17.4 25.1-3.3-.7" stroke="#0028ff"/>
<path d="M307.4 197.2l16.7-29.3-2.1-.4-16.2 30.6z"/>
<path class="s" d="M324.7 166.9l-17.3 30.3-3.4 1.9" stroke="#00b7ff"/>
<path class="s" d="M307.4 197.2l-17.4 38.7-3.4 12.7" stroke="#00ff87"/>
<path d="M272.6 246.4l16-9.7-2.8 10.7 5.7 .8z"/>
<path class="s" d="M290 235.9l-17.4 10.5-3.4-.3" stroke="#00ff70"/>
<path class="s" d="M272.6 246.4l-17.4-16.8-3.3-5.9" stroke="#00ffe7"/>
<path d="M237.8 221.2l15.7 7.6-2.4-4.3-15.7-8z"/>
<path class="s" d="M255.2 229.6l-17.4-8.4-3.3-6.4" stroke="#00b7ff"/>
<path d="M220.5 218l16 2.9-2.7-5.1-16-3z"/>
<path class="s" d="M237.8 221.2l-17.3-3.2-3.4-6.5" stroke="#0087ff"/>
<path d="M203.1 217.8l16.1 .2-2.7-5.4-16.2-.1z"/>
<path class="s" d="M220.5 218l-17.4-.2-3.4-6.4" stroke="#0058ff"/>
<path d="M185.7 219.6l16.2-1.6-2.8-5.5-16.2 1.7z"/>
<path class="s" d="M203.1 217.8l-17.4 1.8-3.3-6.4" stroke="#0040ff"/>
<path d="M168.4 222.9l16.2-3-2.8-5.5-16.3 3.1z"/>
<path class="s" d="M185.7 219.6l-17.3 3.3-3.4-6.4" stroke="#0028ff"/>
<path d="M151 227.5l16.3-4.3-2.9-5.4-16.3 4.2z"/>
<path class="s" d="M168.4 222.9l-17.4 4.6-3.4-6.5" stroke="#0028ff"/>
<path d="M133.6 233.1l16.3-5.3-2.8-5.4-16.3 5.3z"/>
<path class="s" d="M151 227.5l-17.4 5.6-3.4-6.4" stroke="#0028ff"/>
<path class="s" d="M415 63.8l-3.4-2" stroke="#ff0078"/>
<path d="M397.6 82.2l16.6-17.5-2.4-1.5-16.6 17.6z"/>
<path class="s" d="M415 63.8l-17.4 18.4-3.4-2" stroke="#ff00bf"/>
<path d="M380.2 101.4l16.6-18.3-2.4-1.5-16.6 18.4z"/>
<path class="s" d="M397.6 82.2l-17.4 19.2-3.4-2" stroke="#f700ff"/>
<path d="M362.8 121.6l16.7-19.4-2.4-1.4-16.7 19.5z"/>
<path class="s" d="M380.2 101.4l-17.4 20.2-3.3-1.9" stroke="#9700ff"/>
<path d="M345.4 143.5l16.7-21-2.3-1.4-16.7 21.2z"/>
<path class="s" d="M362.8 121.6l-17.4 21.9-3.3-1.7" stroke="#5000ff"/>
<path d="M328.1 167.9l16.7-23.5-2.3-1.2-16.7 24z"/>
<path class="s" d="M345.4 143.5l-17.3 24.4-3.4-1" stroke="#0028ff"/>
<path d="M310.7 196.4l16.8-27.5-2.3-.7-16.4 28.7z"/>
<path class="s" d="M328.1 167.9l-17.4 28.5-3.3 .8" stroke="#009fff"/>
<path class="s" d="M310.7 196.4l-17.4 32-3.3 7.5" stroke="#00ffb7"/>
<path d="M276 241.4l15.5-11.6-2.4 5.4-15.1 9z"/>
<path class="s" d="M293.3 228.4l-17.3 13-3.4 5" stroke="#00ff9f"/>
<path d="M258.6 232l16.4 8.9-2.6 3.8-11-10.6z"/>
<path class="s" d="M276 241.4l-17.4-9.4-3.4-2.4" stroke="#00ffe7"/>
<path d="M241.2 225.5l13.4 5 .1 .1-15.3-7.5z"/>
<path class="s" d="M258.6 232l-17.4-6.5-3.4-4.3" stroke="#00b7ff"/>
<path d="M223.8 223l15.8 2.2-2.4-3-15.9-2.9z"/>
<path class="s" d="M241.2 225.5l-17.4-2.5-3.3-5" stroke="#0087ff"/>
<path d="M206.4 223.2l16.1-.2-2.6-3.9-16.1-.2z"/>
<path class="s" d="M223.8 223l-17.4 .2-3.3-5.4" stroke="#0070ff"/>
<path d="M189.1 225.2l16.1-1.9-2.7-4.3-16.1 1.7z"/>
<path class="s" d="M206.4 223.2l-17.3 2-3.4-5.6" stroke="#0058ff"/>
<path d="M171.7 228.6l16.2-3.2-2.7-4.5-16.3 3z"/>
<path class="s" d="M189.1 225.2l-17.4 3.4-3.3-5.7" stroke="#0040ff"/>
<path d="M154.3 233.2l16.3-4.3-2.8-4.7-16.2 4.3z"/>
<path class="s" d="M171.7 228.6l-17.4 4.6-3.3-5.7" stroke="#0040ff"/>
<path d="M137 238.9l16.3-5.4-2.8-4.7-16.3 5.3z"/>
<path class="s" d="M154.3 233.2l-17.3 5.7-3.4-5.8" stroke="#0040ff"/>
<path class="s" d="M418.3 65.9l-3.3-2.1" stroke="#ff0078"/>
<path d="M400.9 84.3l16.6-17.6-2.4-1.5-16.6 17.6z"/>
<path class="s" d="M418.3 65.9l-17.4 18.4-3.3-2.1" stroke="#ff00bf"/>
<path d="M383.6 103.4l16.6-18.3-2.4-1.4-16.6 18.3z"/>
<path class="s" d="M400.9 84.3l-17.3 19.1-3.4-2" stroke="#f700ff"/>
<path d="M366.2 123.6l16.6-19.3-2.4-1.5-16.6 19.4z"/>
<path class="s" d="M383.6 103.4l-17.4 20.2-3.4-2" stroke="#9700ff"/>
<path d="M348.8 145.3l16.7-20.8-2.4-1.5-16.7 21z"/>
<path class="s" d="M366.2 123.6l-17.4 21.7-3.4-1.8" stroke="#5000ff"/>
<path d="M331.4 169.3l16.7-23.1-2.3-1.3-16.7 23.5z"/>
<path class="s" d="M348.8 145.3l-17.4 24-3.3-1.4" stroke="#0028ff"/>
<path d="M314 196.2l16.8-25.9-2.3-1-16.5 27z"/>
<path class="s" d="M331.4 169.3l-17.4 26.9-3.3 .2" stroke="#009fff"/>
<path d="M296.7 223.6l16.6-26.2-1.9 0-12.6 23.2z"/>
<path class="s" d="M314 196.2l-17.3 27.4-3.4 4.8" stroke="#00ffe7"/>
<path d="M279.3 235.6l14.8-10.2-1.6 2.2-15.1 11.4z"/>
<path class="s" d="M296.7 223.6l-17.4 12-3.3 5.8" stroke="#00ffb7"/>
<path d="M261.9 231.4l16.3 3.9-2.7 4.6-15.2-8.2z"/>
<path class="s" d="M279.3 235.6l-17.4-4.2-3.3 .6" stroke="#0ff"/>
<path class="s" d="M261.9 231.4l-17.3-4.1-3.4-1.8" stroke="#00b7ff"/>
<path d="M227.2 226l14.7 1.1-1.1-.6-15.5-2.2z"/>
<path class="s" d="M244.6 227.3l-17.4-1.3-3.4-3" stroke="#009fff"/>
<path d="M209.8 226.9l15.8-.8-2.2-2-16 .2z"/>
<path class="s" d="M227.2 226l-17.4 .9-3.4-3.7" stroke="#0070ff"/>
<path d="M192.4 229.3l16.1-2.3-2.5-2.7-16.1 1.9z"/>
<path class="s" d="M209.8 226.9l-17.4 2.4-3.3-4.1" stroke="#0058ff"/>
<path d="M175 232.9l16.2-3.4-2.6-3.1-16.2 3.2z"/>
<path class="s" d="M192.4 229.3l-17.4 3.6-3.3-4.3" stroke="#0058ff"/>
<path d="M157.7 237.7l16.2-4.5-2.6-3.4-16.3 4.3z"/>
<path class="s" d="M175 232.9l-17.3 4.8-3.4-4.5" stroke="#0040ff"/>
<path d="M140.3 243.4l16.3-5.4-2.7-3.5-16.3 5.3z"/>
<path class="s" d="M157.7 237.7l-17.4 5.7-3.3-4.5" stroke="#0040ff"/>
<path class="s" d="M421.6 67.9l-3.3-2" stroke="#ff0078"/>
<path d="M404.3 86.3l16.6-17.6-2.4-1.4-16.6 17.6z"/>
<path class="s" d="M421.6 67.9l-17.3 18.4-3.4-2" stroke="#ff00bf"/>
<path d="M386.9 105.5l16.6-18.3-2.4-1.5-16.6 18.3z"/>
<path class="s" d="M404.3 86.3l-17.4 19.2-3.3-2.1" stroke="#f700ff"/>
<path d="M369.5 125.7l16.7-19.4-2.4-1.5-16.7 19.4z"/>
<path class="s" d="M386.9 105.5l-17.4 20.2-3.3-2.1" stroke="#9700ff"/>
<path d="M352.2 147.3l16.6-20.8-2.4-1.5-16.6 20.9z"/>
<path class="s" d="M369.5 125.7l-17.3 21.6-3.4-2" stroke="#5000ff"/>
<path d="M334.8 170.9l16.7-22.7-2.4-1.4-16.7 23z"/>
<path class="s" d="M352.2 147.3l-17.4 23.6-3.4-1.6" stroke="#0028ff"/>
<path d="M317.4 196.6l16.8-24.7-2.4-1.2-16.5 25.7z"/>
<path class="s" d="M334.8 170.9l-17.4 25.7-3.4-.4" stroke="#0087ff"/>
<path d="M300 220.5l16.7-22.9-2.1-.2-14.7 23.2z"/>
<path class="s" d="M317.4 196.6l-17.4 23.9-3.3 3.1" stroke="#0ff"/>
<path d="M282.6 230.6l13.2-7.6 .2-.2-15 10.3z"/>
<path class="s" d="M300 220.5l-17.4 10.1-3.3 5" stroke="#00ffe7"/>
<path d="M265.3 229.1l16.1 1.4-2.6 3.8-15.6-3.7z"/>
<path class="s" d="M282.6 230.6l-17.3-1.5-3.4 2.3" stroke="#00e7ff"/>
<path d="M247.9 227.1l15.7 1.9-1.9 1.2-13.3-3.1z"/>
<path class="s" d="M265.3 229.1l-17.4-2-3.3 .2" stroke="#00b7ff"/>
<path d="M230.5 227.1l-1.1 0-1.7 .1 4.1 .3z"/>
<path class="s" d="M247.9 227.1l-17.4 0-3.3-1.1" stroke="#0087ff"/>
<path d="M213.2 228.7l14.5-1.4-.7-.2-15.4 .8z"/>
<path class="s" d="M230.5 227.1l-17.3 1.6-3.4-1.8" stroke="#0070ff"/>
<path d="M195.8 231.6l15.6-2.6-1.8-1-15.9 2.2z"/>
<path class="s" d="M213.2 228.7l-17.4 2.9-3.4-2.3" stroke="#0058ff"/>
<path d="M178.4 235.7l15.9-3.7-2.1-1.5-16 3.3z"/>
<path class="s" d="M195.8 231.6l-17.4 4.1-3.4-2.8" stroke="#0058ff"/>
<path d="M161 240.6l16.1-4.6-2.3-1.9-16.1 4.4z"/>
<path class="s" d="M178.4 235.7l-17.4 4.9-3.3-2.9" stroke="#0058ff"/>
<path d="M143.6 246.4l16.2-5.4-2.4-2.1-16.1 5.4z"/>
<path class="s" d="M161 240.6l-17.4 5.8-3.3-3" stroke="#0040ff"/>
<path class="s" d="M425 70l-3.4-2.1" stroke="#ff0078"/>
<path d="M407.6 88.4l16.6-17.6-2.4-1.5-16.6 17.6z"/>
<path class="s" d="M425 70l-17.4 18.4-3.3-2.1" stroke="#ff00bf"/>
<path d="M390.2 107.5l16.7-18.3-2.4-1.4-16.6 18.3z"/>
<path class="s" d="M407.6 88.4l-17.4 19.1-3.3-2" stroke="#f700ff"/>
<path d="M372.9 127.7l16.6-19.3-2.4-1.5-16.6 19.3z"/>
<path class="s" d="M390.2 107.5l-17.3 20.2-3.4-2" stroke="#9700ff"/>
<path d="M355.5 149.3l16.7-20.7-2.4-1.5-16.7 20.8z"/>
<path class="s" d="M372.9 127.7l-17.4 21.6-3.3-2" stroke="#5000ff"/>
<path d="M338.1 172.7l16.7-22.5-2.4-1.4-16.6 22.7z"/>
<path class="s" d="M355.5 149.3l-17.4 23.4-3.3-1.8" stroke="#0028ff"/>
<path d="M320.8 197.4l16.7-23.8-2.4-1.2-16.5 24.5z"/>
<path class="s" d="M338.1 172.7l-17.3 24.7-3.4-.8" stroke="#0087ff"/>
<path d="M303.4 218.3l16.6-20-2.1-.4-15.3 20.9z"/>
<path class="s" d="M320.8 197.4l-17.4 20.9-3.4 2.2" stroke="#00e7ff"/>
<path d="M286 226.5l9.8-4.6 3.6-2.3-14.7 8.6z"/>
<path class="s" d="M303.4 218.3l-17.4 8.2-3.4 4.1" stroke="#00e7ff"/>
<path d="M268.6 226.3l16 .2-2.4 3-15.8-1.4z"/>
<path class="s" d="M286 226.5l-17.4-.2-3.3 2.8" stroke="#00cfff"/>
<path d="M251.2 225.7l15.8 .5-2.1 1.8-15-1.7z"/>
<path class="s" d="M268.6 226.3l-17.4-.6-3.3 1.4" stroke="#009fff"/>
<path class="s" d="M251.2 225.7l-17.3 .9-3.4 .5" stroke="#0087ff"/>
<path class="s" d="M233.9 226.6l-17.4 2.3-3.3-.2" stroke="#0070ff"/>
<path class="s" d="M216.5 228.9l-17.4 3.5-3.3-.8" stroke="#0058ff"/>
<path d="M181.7 236.7l15-3.7-.9-.2-15.3 3.5z"/>
<path class="s" d="M199.1 232.4l-17.4 4.3-3.3-1" stroke="#0058ff"/>
<path d="M164.4 241.8l15.5-4.5-1.5-.5-15.6 4.4z"/>
<path class="s" d="M181.7 236.7l-17.3 5.1-3.4-1.2" stroke="#0040ff"/>
<path d="M147 247.7l15.7-5.3-1.7-.7-15.8 5.3z"/>
<path class="s" d="M164.4 241.8l-17.4 5.9-3.4-1.3" stroke="#0040ff"/>
<path class="s" d="M428.4 72l-3.4-2" stroke="#ff0078"/>
<path d="M411 90.5l16.6-17.7-2.4-1.4-16.6 17.6z"/>
<path class="s" d="M428.4 72l-17.4 18.5-3.4-2.1" stroke="#ff00bf"/>
<path d="M393.6 109.6l16.6-18.3-2.4-1.5-16.6 18.3z"/>
<path class="s" d="M411 90.5l-17.4 19.1-3.4-2.1" stroke="#f700ff"/>
<path d="M376.2 129.8l16.7-19.3-2.4-1.5-16.7 19.3z"/>
<path class="s" d="M393.6 109.6l-17.4 20.2-3.3-2.1" stroke="#9700ff"/>
<path d="M358.8 151.4l16.7-20.7-2.4-1.5-16.7 20.7z"/>
<path class="s" d="M376.2 129.8l-17.4 21.6-3.3-2.1" stroke="#5000ff"/>
<path d="M341.5 174.6l16.7-22.3-2.4-1.5-16.7 22.5z"/>
<path class="s" d="M358.8 151.4l-17.3 23.2-3.4-1.9" stroke="#0028ff"/>
<path d="M324.1 198.3l16.7-22.8-2.3-1.3-16.6 23.5z"/>
<path class="s" d="M341.5 174.6l-17.4 23.7-3.3-.9" stroke="#0087ff"/>
<path d="M306.7 216.7l16.5-17.5-2.1-.6-15.3 18.6z"/>
<path class="s" d="M324.1 198.3l-17.4 18.4-3.3 1.6" stroke="#00cfff"/>
<path d="M289.4 223.2l6.7-2.6 6.8-3.3-14.6 7z"/>
<path class="s" d="M306.7 216.7l-17.3 6.5-3.4 3.3" stroke="#00cfff"/>
<path d="M272 223.3l15.8-.1-2.3 2.2-15.6-.2z"/>
<path class="s" d="M289.4 223.2l-17.4 .1-3.4 3" stroke="#009fff"/>
<path d="M254.6 223.5l15.7-.1-2.1 1.8-15.3-.6z"/>
<path class="s" d="M272 223.3l-17.4 .2-3.4 2.2" stroke="#0087ff"/>
<path d="M237.2 225.1l15-1.4-1.3 .9-14.2 .7z"/>
<path class="s" d="M254.6 223.5l-17.4 1.6-3.3 1.5" stroke="#0070ff"/>
<path class="s" d="M237.2 225.1l-17.4 2.8-3.3 1" stroke="#0058ff"/>
<path class="s" d="M219.8 227.9l-17.3 3.9-3.4 .6" stroke="#0040ff"/>
<path class="s" d="M202.5 231.8l-17.4 4.6-3.4 .3" stroke="#0040ff"/>
<path class="s" d="M185.1 236.4l-17.4 5.3-3.3 .1" stroke="#0040ff"/>
<path class="s" d="M167.7 241.7l-17.3 5.9-3.4 .1" stroke="#0040ff"/>
<path class="s" d="M431.7 74l-3.3-2" stroke="#ff0078"/>
<path d="M414.3 92.5l16.6-17.6-2.4-1.5-16.6 17.6z"/>
<path class="s" d="M431.7 74l-17.4 18.5-3.3-2" stroke="#ff00bf"/>
<path d="M397 111.7l16.6-18.4-2.4-1.4-16.6 18.3z"/>
<path class="s" d="M414.3 92.5l-17.3 19.2-3.4-2.1" stroke="#f700ff"/>
<path d="M379.6 131.9l16.6-19.4-2.4-1.5-16.6 19.4z"/>
<path class="s" d="M397 111.7l-17.4 20.2-3.4-2.1" stroke="#9700ff"/>
<path d="M362.2 153.5l16.7-20.7-2.4-1.5-16.7 20.7z"/>
<path class="s" d="M379.6 131.9l-17.4 21.6-3.4-2.1" stroke="#5000ff"/>
<path d="M344.8 176.5l16.7-22.1-2.4-1.5-16.7 22.3z"/>
<path class="s" d="M362.2 153.5l-17.4 23-3.3-1.9" stroke="#0028ff"/>
<path d="M327.4 199.2l16.8-21.8-2.4-1.3-16.6 22.5z"/>
<path class="s" d="M344.8 176.5l-17.4 22.7-3.3-.9" stroke="#0087ff"/>
<path d="M310.1 215.3l16.4-15.2-2.1-.6-15.1 16.1z"/>
<path class="s" d="M327.4 199.2l-17.3 16.1-3.4 1.4" stroke="#00b7ff"/>
<path d="M292.7 220.2l8.9-2.5 4.7-2-14.7 5.4z"/>
<path class="s" d="M310.1 215.3l-17.4 4.9-3.3 3" stroke="#00b7ff"/>
<path d="M275.3 220.5l15.7-.3-2.1 1.9-15.6 .1z"/>
<path class="s" d="M292.7 220.2l-17.4 .3-3.3 2.8" stroke="#0087ff"/>
<path d="M258 221.1l15.6-.5-2 1.6-15.4 .2z"/>
<path class="s" d="M275.3 220.5l-17.3 .6-3.4 2.4" stroke="#0070ff"/>
<path d="M240.6 223.1l15.1-1.7-1.5 1.1-14.8 1.3z"/>
<path class="s" d="M258 221.1l-17.4 2-3.4 2" stroke="#0058ff"/>
<path d="M223.2 226.3l14.3-2.6-.7 .4-13.7 2.2z"/>
<path class="s" d="M240.6 223.1l-17.4 3.2-3.4 1.6" stroke="#0040ff"/>
<path class="s" d="M223.2 226.3l-17.4 4-3.3 1.5" stroke="#0040ff"/>
<path class="s" d="M205.8 230.3l-17.4 4.8-3.3 1.3" stroke="#0028ff"/>
<path class="s" d="M188.4 235.1l-17.3 5.4-3.4 1.2" stroke="#0028ff"/>
<path class="s" d="M171.1 240.5l-17.4 6-3.3 1.1" stroke="#0028ff"/>
<path class="s" d="M435.1 76.1l-3.4-2.1" stroke="#ff0078"/>
<path d="M417.7 94.5l16.6-17.6-2.4-1.5-16.6 17.7z"/>
<path class="s" d="M435.1 76.1l-17.4 18.4-3.4-2" stroke="#ff00bf"/>
<path d="M400.3 113.7l16.6-18.3-2.4-1.5-16.6 18.4z"/>
<path class="s" d="M417.7 94.5l-17.4 19.2-3.3-2" stroke="#f700ff"/>
<path d="M382.9 134l16.7-19.4-2.4-1.5-16.7 19.4z"/>
<path class="s" d="M400.3 113.7l-17.4 20.3-3.3-2.1" stroke="#9700ff"/>
<path d="M365.5 155.6l16.7-20.7-2.4-1.5-16.7 20.7z"/>
<path class="s" d="M382.9 134l-17.4 21.6-3.3-2.1" stroke="#5000ff"/>
<path d="M348.2 178.4l16.7-21.9-2.4-1.5-16.7 22.1z"/>
<path class="s" d="M365.5 155.6l-17.3 22.8-3.4-1.9" stroke="#0028ff"/>
<path d="M330.8 200.1l16.7-20.8-2.4-1.4-16.5 21.6z"/>
<path class="s" d="M348.2 178.4l-17.4 21.7-3.4-.9" stroke="#0070ff"/>
<path d="M313.4 213.9l16.3-13-1.9-.5-14.8 13.7z"/>
<path class="s" d="M330.8 200.1l-17.4 13.8-3.3 1.4" stroke="#009fff"/>
<path d="M296 217.5l11.5-2.4 2.2-.9-14.8 4.2z"/>
<path class="s" d="M313.4 213.9l-17.4 3.6-3.3 2.7" stroke="#009fff"/>
<path d="M278.7 217.8l15.5-.2-1.9 1.5-15.6 .3z"/>
<path class="s" d="M296 217.5l-17.3 .3-3.4 2.7" stroke="#0070ff"/>
<path d="M261.3 218.7l15.5-.8-1.9 1.5-15.4 .6z"/>
<path class="s" d="M278.7 217.8l-17.4 .9-3.3 2.4" stroke="#0058ff"/>
<path d="M243.9 220.9l15.1-1.9-1.5 1.1-14.9 1.7z"/>
<path class="s" d="M261.3 218.7l-17.4 2.2-3.3 2.2" stroke="#0040ff"/>
<path d="M226.6 224.2l14.5-2.8-.9 .7-14.4 2.6z"/>
<path class="s" d="M243.9 220.9l-17.3 3.3-3.4 2.1" stroke="#0028ff"/>
<path d="M209.2 228.4l13.8-3.3-.2 .1-13.5 3.2z"/>
<path class="s" d="M226.6 224.2l-17.4 4.2-3.4 1.9" stroke="#0028ff"/>
<path class="s" d="M209.2 228.4l-17.4 4.9-3.4 1.8" stroke="#0010ff"/>
<path class="s" d="M191.8 233.3l-17.4 5.5-3.3 1.7" stroke="#0010ff"/>
<path class="s" d="M174.4 238.8l-17.4 6-3.3 1.7" stroke="#0010ff"/>
<path class="s" d="M438.4 78.1l-3.3-2" stroke="#ff0078"/>
<path d="M421 96.6l16.6-17.7-2.4-1.4-16.6 17.6z"/>
<path class="s" d="M438.4 78.1l-17.4 18.5-3.3-2.1" stroke="#ff00bf"/>
<path d="M403.7 115.8l16.6-18.4-2.4-1.5-16.6 18.4z"/>
<path class="s" d="M421 96.6l-17.3 19.2-3.4-2.1" stroke="#f700ff"/>
<path d="M386.3 136.1l16.6-19.5-2.4-1.4-16.6 19.4z"/>
<path class="s" d="M403.7 115.8l-17.4 20.3-3.4-2.1" stroke="#9700ff"/>
<path d="M368.9 157.7l16.7-20.8-2.4-1.5-16.7 20.8z"/>
<path class="s" d="M386.3 136.1l-17.4 21.6-3.4-2.1" stroke="#5000ff"/>
<path d="M351.5 180.3l16.7-21.7-2.4-1.5-16.7 21.8z"/>
<path class="s" d="M368.9 157.7l-17.4 22.6-3.3-1.9" stroke="#0010ff"/>
<path d="M334.2 200.9l16.6-19.8-2.3-1.3-16.5 20.6z"/>
<path class="s" d="M351.5 180.3l-17.3 20.6-3.4-.8" stroke="#0070ff"/>
<path d="M316.8 212.7l16.1-11-1.8-.4-14.5 11.5z"/>
<path class="s" d="M334.2 200.9l-17.4 11.8-3.4 1.2" stroke="#0087ff"/>
<path d="M299.4 215.3l11.7-1.7 2-.8-14.6 3.1z"/>
<path class="s" d="M316.8 212.7l-17.4 2.6-3.4 2.2" stroke="#0087ff"/>
<path d="M282 215.5l15.4-.2-1.7 1.1-15.4 .3z"/>
<path class="s" d="M299.4 215.3l-17.4 .2-3.3 2.3" stroke="#0058ff"/>
<path d="M264.6 216.5l15.3-.9-1.6 1.1-15.2 .8z"/>
<path class="s" d="M282 215.5l-17.4 1-3.3 2.2" stroke="#0040ff"/>
<path d="M247.3 218.8l14.8-2-1.2 .8-14.7 1.9z"/>
<path class="s" d="M264.6 216.5l-17.3 2.3-3.4 2.1" stroke="#0028ff"/>
<path d="M229.9 222.2l14.3-2.8-.7 .5-14.2 2.7z"/>
<path class="s" d="M247.3 218.8l-17.4 3.4-3.3 2" stroke="#0010ff"/>
<path class="s" d="M229.9 222.2l-17.4 4.3-3.3 1.9" stroke="#0010ff"/>
<path class="s" d="M212.5 226.5l-17.4 5-3.3 1.8" stroke="#0800ff"/>
<path class="s" d="M195.1 231.5l-17.3 5.4-3.4 1.9" stroke="#0800ff"/>
<path class="s" d="M177.8 236.9l-17.4 6-3.4 1.9" stroke="#0800ff"/>
<path class="s" d="M441.8 80.1l-3.4-2" stroke="#ff0078"/>
<path d="M424.4 98.6l16.6-17.7-2.4-1.4-16.6 17.6z"/>
<path class="s" d="M441.8 80.1l-17.4 18.5-3.4-2" stroke="#ff00bf"/>
<path d="M407 117.8l16.6-18.4-2.4-1.4-16.6 18.4z"/>
<path class="s" d="M424.4 98.6l-17.4 19.2-3.3-2" stroke="#f700ff"/>
<path d="M389.6 138.1l16.7-19.4-2.4-1.5-16.7 19.5z"/>
<path class="s" d="M407 117.8l-17.4 20.3-3.3-2" stroke="#9700ff"/>
<path d="M372.2 159.8l16.7-20.8-2.4-1.5-16.7 20.8z"/>
<path class="s" d="M389.6 138.1l-17.4 21.7-3.3-2.1" stroke="#5000ff"/>
<path d="M354.9 182.2l16.7-21.6-2.4-1.5-16.7 21.7z"/>
<path class="s" d="M372.2 159.8l-17.3 22.4-3.4-1.9" stroke="#0010ff"/>
<path d="M337.5 201.8l16.6-18.8-2.3-1.3-16.5 19.5z"/>
<path class="s" d="M354.9 182.2l-17.4 19.6-3.3-.9" stroke="#0070ff"/>
<path d="M320.1 211.9l16.1-9.3-1.8-.5-14.6 9.9z"/>
<path class="s" d="M337.5 201.8l-17.4 10.1-3.3 .8" stroke="#0087ff"/>
<path class="s" d="M320.1 211.9l-17.3 1.7-3.4 1.7" stroke="#0070ff"/>
<path d="M285.4 213.7l14.9-.1-1.2 .6-15 .2z"/>
<path class="s" d="M302.8 213.6l-17.4 .1-3.4 1.8" stroke="#0040ff"/>
<path d="M268 214.7l14.8-.9-1.1 .6-14.7 .9z"/>
<path class="s" d="M285.4 213.7l-17.4 1-3.4 1.8" stroke="#0028ff"/>
<path d="M250.6 217.1l14.3-2-.6 .3-14.2 1.9z"/>
<path class="s" d="M268 214.7l-17.4 2.4-3.3 1.7" stroke="#0010ff"/>
<path class="s" d="M250.6 217.1l-17.4 3.4-3.3 1.7" stroke="#0800ff"/>
<path class="s" d="M233.2 220.5l-17.3 4.3-3.4 1.7" stroke="#0800ff"/>
<path class="s" d="M215.9 224.8l-17.4 4.9-3.4 1.8" stroke="#2000ff"/>
<path class="s" d="M198.5 229.7l-17.4 5.5-3.3 1.7" stroke="#2000ff"/>
<path class="s" d="M181.1 235.2l-17.3 6-3.4 1.7" stroke="#2000ff"/>
<path class="s" d="M445.1 82.1l-3.3-2" stroke="#ff0078"/>
<path d="M427.7 100.6l16.6-17.7-2.4-1.4-16.6 17.7z"/>
<path class="s" d="M445.1 82.1l-17.4 18.5-3.3-2" stroke="#ff00bf"/>
<path d="M410.4 119.8l16.6-18.4-2.4-1.4-16.6 18.4z"/>
<path class="s" d="M427.7 100.6l-17.3 19.2-3.4-2" stroke="#f700ff"/>
<path d="M393 140.2l16.6-19.5-2.4-1.5-16.6 19.5z"/>
<path class="s" d="M410.4 119.8l-17.4 20.4-3.4-2.1" stroke="#9700ff"/>
<path d="M375.6 161.9l16.7-20.8-2.4-1.5-16.7 20.8z"/>
<path class="s" d="M393 140.2l-17.4 21.7-3.4-2.1" stroke="#5000ff"/>
<path d="M358.2 184.1l16.7-21.3-2.4-1.6-16.7 21.5z"/>
<path class="s" d="M375.6 161.9l-17.4 22.2-3.3-1.9" stroke="#0010ff"/>
<path d="M340.8 202.9l16.7-17.9-2.4-1.4-16.5 18.6z"/>
<path class="s" d="M358.2 184.1l-17.4 18.8-3.3-1.1" stroke="#0070ff"/>
<path d="M323.5 211.6l16-8-1.9-.6-14.9 8.7z"/>
<path class="s" d="M340.8 202.9l-17.3 8.7-3.4 .3" stroke="#0070ff"/>
<path d="M306.1 212.6l-11.7 .6 25.6-2.4-12.2 1.2z"/>
<path class="s" d="M323.5 211.6l-17.4 1-3.3 1" stroke="#0058ff"/>
<path d="M288.7 212.4l13.9 .1 0 0-14.3 .1z"/>
<path class="s" d="M306.1 212.6l-17.4-.2-3.3 1.3" stroke="#0028ff"/>
<path class="s" d="M288.7 212.4l-17.4 1-3.3 1.3" stroke="#0010ff"/>
<path class="s" d="M271.3 213.4l-17.3 2.3-3.4 1.4" stroke="#0800ff"/>
<path class="s" d="M254 215.7l-17.4 3.4-3.4 1.4" stroke="#2000ff"/>
<path class="s" d="M236.6 219.1l-17.4 4.3-3.3 1.4" stroke="#2000ff"/>
<path class="s" d="M219.2 223.4l-17.4 4.9-3.3 1.4" stroke="#2000ff"/>
<path class="s" d="M201.8 228.3l-17.3 5.5-3.4 1.4" stroke="#3800ff"/>
<path class="s" d="M184.5 233.8l-17.4 6-3.3 1.4" stroke="#3800ff"/>
<path class="s" d="M448.4 84.1l-3.3-2" stroke="#ff0078"/>
<path d="M431.1 102.6l16.6-17.7-2.4-1.4-16.6 17.7z"/>
<path class="s" d="M448.4 84.1l-17.3 18.5-3.4-2" stroke="#ff00bf"/>
<path d="M413.7 121.9l16.6-18.5-2.4-1.4-16.6 18.4z"/>
<path class="s" d="M431.1 102.6l-17.4 19.3-3.3-2.1" stroke="#f700ff"/>
<path d="M396.3 142.3l16.7-19.6-2.4-1.4-16.7 19.5z"/>
<path class="s" d="M413.7 121.9l-17.4 20.4-3.3-2.1" stroke="#9700ff"/>
<path d="M379 164.1l16.6-20.9-2.4-1.5-16.7 20.8z"/>
<path class="s" d="M396.3 142.3l-17.3 21.8-3.4-2.2" stroke="#3800ff"/>
<path d="M361.6 186.3l16.7-21.4-2.5-1.5-16.6 21.3z"/>
<path class="s" d="M379 164.1l-17.4 22.2-3.4-2.2" stroke="#0010ff"/>
<path d="M344.2 204.4l16.6-17.3-2.4-1.5-16.5 17.8z"/>
<path class="s" d="M361.6 186.3l-17.4 18.1-3.4-1.5" stroke="#0058ff"/>
<path d="M326.8 211.8l16-6.8-1.9-.9-15.3 7.6z"/>
<path class="s" d="M344.2 204.4l-17.4 7.4-3.3-.2" stroke="#0070ff"/>
<path class="s" d="M326.8 211.8l-17.4 .3-3.3 .5" stroke="#0040ff"/>
<path class="s" d="M309.4 212.1l-17.3-.4-3.4 .7" stroke="#0028ff"/>
<path class="s" d="M292.1 211.7l-17.4 .9-3.4 .8" stroke="#0800ff"/>
<path class="s" d="M274.7 212.6l-17.4 2.3-3.3 .8" stroke="#2000ff"/>
<path class="s" d="M257.3 214.9l-17.3 3.3-3.4 .9" stroke="#2000ff"/>
<path class="s" d="M240 218.2l-17.4 4.2-3.4 1" stroke="#3800ff"/>
<path class="s" d="M222.6 222.4l-17.4 4.9-3.4 1" stroke="#3800ff"/>
<path class="s" d="M205.2 227.3l-17.4 5.5-3.3 1" stroke="#3800ff"/>
<path class="s" d="M187.8 232.8l-17.4 6-3.3 1" stroke="#3800ff"/>
<path class="s" d="M451.8 86.1l-3.4-2" stroke="#ff0078"/>
<path d="M434.4 104.6l16.6-17.7-2.4-1.4-16.6 17.7z"/>
<path class="s" d="M451.8 86.1l-17.4 18.5-3.3-2" stroke="#ff00bf"/>
<path d="M417.1 123.9l16.6-18.5-2.4-1.4-16.6 18.5z"/>
<path class="s" d="M434.4 104.6l-17.3 19.3-3.4-2" stroke="#f700ff"/>
<path d="M399.7 144.4l16.6-19.6-2.4-1.5-16.6 19.6z"/>
<path class="s" d="M417.1 123.9l-17.4 20.5-3.4-2.1" stroke="#9700ff"/>
<path d="M382.3 166.3l16.7-21-2.4-1.5-16.7 20.9z"/>
<path class="s" d="M399.7 144.4l-17.4 21.9-3.3-2.2" stroke="#3800ff"/>
<path d="M364.9 188.7l16.7-21.5-2.4-1.6-16.7 21.4z"/>
<path class="s" d="M382.3 166.3l-17.4 22.4-3.3-2.4" stroke="#0028ff"/>
<path d="M347.5 206.4l16.6-16.9-2.4-1.7-16.5 17.2z"/>
<path class="s" d="M364.9 188.7l-17.4 17.7-3.3-2" stroke="#0058ff"/>
<path d="M330.2 212.7l16-5.8-2.1-1.2-15.5 6.6z"/>
<path class="s" d="M347.5 206.4l-17.3 6.3-3.4-.9" stroke="#0058ff"/>
<path class="s" d="M330.2 212.7l-17.4-.4-3.4-.2" stroke="#0040ff"/>
<path class="s" d="M312.8 212.3l-17.4-.7-3.3 .1" stroke="#0010ff"/>
<path class="s" d="M295.4 211.6l-17.4 .7-3.3 .3" stroke="#0800ff"/>
<path class="s" d="M278 212.3l-17.3 2.2-3.4 .4" stroke="#2000ff"/>
<path d="M243.3 217.7l1.6-.3 12.6-1.4 4.4-.9z"/>
<path class="s" d="M260.7 214.5l-17.4 3.2-3.3 .5" stroke="#3800ff"/>
<path class="s" d="M243.3 217.7l-17.4 4.2-3.3 .5" stroke="#5000ff"/>
<path class="s" d="M225.9 221.9l-17.3 4.8-3.4 .6" stroke="#5000ff"/>
<path class="s" d="M208.6 226.7l-17.4 5.5-3.4 .6" stroke="#5000ff"/>
<path class="s" d="M191.2 232.2l-17.4 5.9-3.4 .7" stroke="#5000ff"/>
<path class="s" d="M455.2 88.1l-3.4-2" stroke="#ff0078"/>
<path d="M437.8 106.6l16.6-17.7-2.4-1.4-16.6 17.7z"/>
<path class="s" d="M455.2 88.1l-17.4 18.5-3.4-2" stroke="#ff00bf"/>
<path d="M420.4 125.9l16.6-18.5-2.4-1.4-16.6 18.5z"/>
<path class="s" d="M437.8 106.6l-17.4 19.3-3.3-2" stroke="#f700ff"/>
<path d="M403 146.6l16.7-19.8-2.4-1.5-16.7 19.7z"/>
<path class="s" d="M420.4 125.9l-17.4 20.7-3.3-2.2" stroke="#9700ff"/>
<path d="M385.6 168.7l16.7-21.3-2.4-1.5-16.7 21.1z"/>
<path class="s" d="M403 146.6l-17.4 22.1-3.3-2.4" stroke="#3800ff"/>
<path d="M368.3 191.4l16.7-21.8-2.5-1.8-16.7 21.6z"/>
<path class="s" d="M385.6 168.7l-17.3 22.7-3.4-2.7" stroke="#0028ff"/>
<path d="M350.9 208.9l16.6-16.8-2.5-1.9-16.6 16.9z"/>
<path class="s" d="M368.3 191.4l-17.4 17.5-3.4-2.5" stroke="#0070ff"/>
<path d="M333.5 214.3l16.1-5-2.2-1.7-15.8 5.8z"/>
<path class="s" d="M350.9 208.9l-17.4 5.4-3.3-1.6" stroke="#0058ff"/>
<path class="s" d="M333.5 214.3l-17.3-1.2-3.4-.8" stroke="#0028ff"/>
<path class="s" d="M316.2 213.1l-17.4-1.1-3.4-.4" stroke="#0010ff"/>
<path class="s" d="M298.8 212l-17.4 .6-3.4-.3" stroke="#2000ff"/>
<path class="s" d="M281.4 212.6l-17.4 2-3.3-.1" stroke="#3800ff"/>
<path class="s" d="M264 214.6l-17.4 3.1-3.3 0" stroke="#5000ff"/>
<path class="s" d="M246.6 217.7l-17.3 4.1-3.4 .1" stroke="#5000ff"/>
<path class="s" d="M229.3 221.8l-17.4 4.8-3.3 .1" stroke="#5000ff"/>
<path class="s" d="M211.9 226.6l-17.4 5.4-3.3 .2" stroke="#6800ff"/>
<path class="s" d="M194.5 232l-17.4 6-3.3 .1" stroke="#6800ff"/>
<path class="s" d="M458.5 90.1l-3.3-2" stroke="#ff0078"/>
<path d="M441.1 108.5l16.6-17.6-2.4-1.4-16.6 17.6z"/>
<path class="s" d="M458.5 90.1l-17.4 18.4-3.3-1.9" stroke="#ff00bf"/>
<path d="M423.8 127.9l16.6-18.5-2.4-1.4-16.6 18.5z"/>
<path class="s" d="M441.1 108.5l-17.3 19.4-3.4-2" stroke="#f700ff"/>
<path d="M406.4 148.7l16.6-19.9-2.4-1.4-16.6 19.7z"/>
<path class="s" d="M423.8 127.9l-17.4 20.8-3.4-2.1" stroke="#9700ff"/>
<path d="M389 171.1l16.7-21.6-2.4-1.5-16.8 21.3z"/>
<path class="s" d="M406.4 148.7l-17.4 22.4-3.4-2.4" stroke="#3800ff"/>
<path d="M371.6 194.3l16.7-22.3-2.4-1.8-16.8 21.9z"/>
<path class="s" d="M389 171.1l-17.4 23.2-3.3-2.9" stroke="#0028ff"/>
<path d="M354.2 212.1l16.7-17-2.6-2.2-16.6 16.8z"/>
<path class="s" d="M371.6 194.3l-17.4 17.8-3.3-3.2" stroke="#0070ff"/>
<path d="M336.9 216.6l16.1-4.2-2.4-2.2-15.9 4.9z"/>
<path class="s" d="M354.2 212.1l-17.3 4.5-3.4-2.3" stroke="#0058ff"/>
<path d="M319.5 214.5l15 1.8-1.3-.9-14-1z"/>
<path class="s" d="M336.9 216.6l-17.4-2.1-3.3-1.4" stroke="#0028ff"/>
<path class="s" d="M319.5 214.5l-17.4-1.5-3.3-1" stroke="#0800ff"/>
<path class="s" d="M302.1 213l-17.3 .3-3.4-.7" stroke="#2000ff"/>
<path class="s" d="M284.8 213.3l-17.4 1.8-3.4-.5" stroke="#3800ff"/>
<path class="s" d="M267.4 215.1l-17.4 3.1-3.4-.5" stroke="#5000ff"/>
<path d="M232.6 222.2l14.4-3.3-.3 0-14.2 3.3z"/>
<path class="s" d="M250 218.2l-17.4 4-3.3-.4" stroke="#5000ff"/>
<path d="M215.2 226.9l14.5-3.9-.3-.1-14.4 4z"/>
<path class="s" d="M232.6 222.2l-17.4 4.7-3.3-.3" stroke="#6800ff"/>
<path d="M197.9 232.3l14.6-4.5-.5-.1-14.6 4.6z"/>
<path class="s" d="M215.2 226.9l-17.3 5.4-3.4-.3" stroke="#6800ff"/>
<path d="M180.5 238.2l14.8-5-.6-.1-14.8 5.1z"/>
<path class="s" d="M197.9 232.3l-17.4 5.9-3.4-.2" stroke="#6800ff"/>
<path class="s" d="M461.8 92l-3.3-1.9" stroke="#ff0078"/>
<path d="M444.5 110.5l16.6-17.7-2.4-1.3-16.6 17.6z"/>
<path class="s" d="M461.8 92l-17.3 18.5-3.4-2" stroke="#ff00bf"/>
<path d="M427.1 129.9l16.6-18.6-2.4-1.4-16.6 18.6z"/>
<path class="s" d="M444.5 110.5l-17.4 19.4-3.3-2" stroke="#f700ff"/>
<path d="M409.7 150.8l16.7-20-2.4-1.4-16.7 19.9z"/>
<path class="s" d="M427.1 129.9l-17.4 20.9-3.3-2.1" stroke="#9700ff"/>
<path d="M392.3 173.5l16.8-21.9-2.5-1.5-16.7 21.6z"/>
<path class="s" d="M409.7 150.8l-17.4 22.7-3.3-2.4" stroke="#3800ff"/>
<path d="M375 197.4l16.7-23-2.5-1.8-16.8 22.4z"/>
<path class="s" d="M392.3 173.5l-17.3 23.9-3.4-3.1" stroke="#0028ff"/>
<path d="M357.6 215.8l16.6-17.6-2.5-2.4-16.7 17.1z"/>
<path class="s" d="M375 197.4l-17.4 18.4-3.4-3.7" stroke="#0070ff"/>
<path d="M340.2 219.6l16.2-3.5-2.5-2.8-16 4.1z"/>
<path class="s" d="M357.6 215.8l-17.4 3.8-3.3-3" stroke="#0070ff"/>
<path d="M322.8 216.6l15.4 2.6-1.8-1.6-14.7-1.7z"/>
<path class="s" d="M340.2 219.6l-17.4-3-3.3-2.1" stroke="#0028ff"/>
<path d="M305.5 214.6l14.8 1.7-1.2-.7-14-1.2z"/>
<path class="s" d="M322.8 216.6l-17.3-2-3.4-1.6" stroke="#0800ff"/>
<path d="M288.1 214.5l14.7 .1-.9-.5-14.3 .2z"/>
<path class="s" d="M305.5 214.6l-17.4-.1-3.3-1.2" stroke="#2000ff"/>
<path d="M270.7 216.2l14.9-1.4-1-.4-14.6 1.6z"/>
<path class="s" d="M288.1 214.5l-17.4 1.7-3.3-1.1" stroke="#3800ff"/>
<path d="M253.3 219.1l15-2.5-1-.3-14.8 2.6z"/>
<path class="s" d="M270.7 216.2l-17.4 2.9-3.3-.9" stroke="#5000ff"/>
<path d="M236 223l15.1-3.4-1.1-.3-15 3.5z"/>
<path class="s" d="M253.3 219.1l-17.3 3.9-3.4-.8" stroke="#6800ff"/>
<path d="M218.6 227.7l15.2-4.1-1.2-.3-15.1 4.1z"/>
<path class="s" d="M236 223l-17.4 4.7-3.4-.8" stroke="#6800ff"/>
<path d="M201.2 233l15.3-4.7-1.2-.2-15.3 4.7z"/>
<path class="s" d="M218.6 227.7l-17.4 5.3-3.3-.7" stroke="#6800ff"/>
<path d="M183.8 239l15.4-5.3-1.3-.3-15.3 5.3z"/>
<path class="s" d="M201.2 233l-17.4 6-3.3-.8" stroke="#6800ff"/>
<path class="s" d="M465.2 94l-3.4-2" stroke="#ff0078"/>
<path d="M447.8 112.4l16.6-17.6-2.3-1.4-16.6 17.7z"/>
<path class="s" d="M465.2 94l-17.4 18.4-3.3-1.9" stroke="#ff00bf"/>
<path d="M430.4 131.9l16.7-18.6-2.4-1.4-16.6 18.6z"/>
<path class="s" d="M447.8 112.4l-17.4 19.5-3.3-2" stroke="#f700ff"/>
<path d="M413.1 152.8l16.6-20.1-2.3-1.4-16.7 20z"/>
<path class="s" d="M430.4 131.9l-17.3 20.9-3.4-2" stroke="#9700ff"/>
<path d="M395.7 175.8l16.7-22.1-2.4-1.5-16.7 21.9z"/>
<path class="s" d="M413.1 152.8l-17.4 23-3.4-2.3" stroke="#3800ff"/>
<path d="M378.3 200.4l16.8-23.7-2.5-1.7-16.8 23.1z"/>
<path class="s" d="M395.7 175.8l-17.4 24.6-3.3-3" stroke="#0028ff"/>
<path d="M361 219.9l16.6-18.7-2.6-2.3-16.7 17.8z"/>
<path class="s" d="M378.3 200.4l-17.3 19.5-3.4-4.1" stroke="#0087ff"/>
<path d="M343.6 223l16.1-2.9-2.5-3.1-16.1 3.5z"/>
<path class="s" d="M361 219.9l-17.4 3.1-3.4-3.4" stroke="#0070ff"/>
<path d="M326.2 219.1l15.4 3.5-1.9-2-14.9-2.5z"/>
<path class="s" d="M343.6 223l-17.4-3.9-3.4-2.5" stroke="#0028ff"/>
<path d="M308.8 216.5l15.1 2.3-1.5-1.1-14.5-1.8z"/>
<path class="s" d="M326.2 219.1l-17.4-2.6-3.3-1.9" stroke="#0800ff"/>
<path d="M291.4 216.2l15.2 .3-1.4-.8-14.9-.1z"/>
<path class="s" d="M308.8 216.5l-17.4-.3-3.3-1.7" stroke="#2000ff"/>
<path d="M274.1 217.7l15.2-1.3-1.4-.7-15.1 1.4z"/>
<path class="s" d="M291.4 216.2l-17.3 1.5-3.4-1.5" stroke="#5000ff"/>
<path d="M256.7 220.4l15.4-2.4-1.5-.7-15.3 2.6z"/>
<path class="s" d="M274.1 217.7l-17.4 2.7-3.4-1.3" stroke="#5000ff"/>
<path d="M239.3 224.3l15.5-3.4-1.5-.6-15.4 3.4z"/>
<path class="s" d="M256.7 220.4l-17.4 3.9-3.3-1.3" stroke="#6800ff"/>
<path d="M222 228.9l15.5-4.2-1.6-.5-15.5 4.1z"/>
<path class="s" d="M239.3 224.3l-17.3 4.6-3.4-1.2" stroke="#6800ff"/>
<path d="M204.6 234.2l15.6-4.8-1.6-.6-15.6 4.8z"/>
<path class="s" d="M222 228.9l-17.4 5.3-3.4-1.2" stroke="#8000ff"/>
<path d="M187.2 240.1l15.7-5.3-1.7-.6-15.6 5.3z"/>
<path class="s" d="M204.6 234.2l-17.4 5.9-3.4-1.1" stroke="#8000ff"/>
<path class="s" d="M468.6 95.9l-3.4-1.9" stroke="#ff0078"/>
<path d="M451.2 114.4l16.6-17.6-2.4-1.4-16.6 17.6z"/>
<path class="s" d="M468.6 95.9l-17.4 18.5-3.4-2" stroke="#ff00bf"/>
<path d="M433.8 133.8l16.6-18.6-2.4-1.4-16.6 18.6z"/>
<path class="s" d="M451.2 114.4l-17.4 19.4-3.4-1.9" stroke="#f700ff"/>
<path d="M416.4 154.8l16.7-20.1-2.4-1.4-16.7 20.1z"/>
<path class="s" d="M433.8 133.8l-17.4 21-3.3-2" stroke="#9700ff"/>
<path d="M399 178.1l16.8-22.4-2.4-1.5-16.8 22.2z"/>
<path class="s" d="M416.4 154.8l-17.4 23.3-3.3-2.3" stroke="#3800ff"/>
<path d="M381.7 203.4l16.7-24.4-2.4-1.7-16.9 23.9z"/>
<path class="s" d="M399 178.1l-17.3 25.3-3.4-3" stroke="#0040ff"/>
<path d="M364.3 224l16.7-19.7-2.6-2.3-16.7 18.7z"/>
<path class="s" d="M381.7 203.4l-17.4 20.6-3.3-4.1" stroke="#0087ff"/>
<path d="M346.9 226.6l16.1-2.4-2.5-3.1-16 2.9z"/>
<path class="s" d="M364.3 224l-17.4 2.6-3.3-3.6" stroke="#0070ff"/>
<path d="M329.5 221.7l15.4 4.3-1.9-2-14.8-3.3z"/>
<path class="s" d="M346.9 226.6l-17.4-4.9-3.3-2.6" stroke="#0040ff"/>
<path d="M312.2 218.7l15.1 2.6-1.6-1.2-14.6-2.1z"/>
<path class="s" d="M329.5 221.7l-17.3-3-3.4-2.2" stroke="#0800ff"/>
<path d="M294.8 218.1l15.2 .5-1.5-1-15-.3z"/>
<path class="s" d="M312.2 218.7l-17.4-.6-3.4-1.9" stroke="#2000ff"/>
<path d="M277.4 219.4l15.4-1.2-1.6-.9-15.3 1.3z"/>
<path class="s" d="M294.8 218.1l-17.4 1.3-3.3-1.7" stroke="#5000ff"/>
<path d="M260 222.1l15.6-2.4-1.7-.9-15.5 2.5z"/>
<path class="s" d="M277.4 219.4l-17.4 2.7-3.3-1.7" stroke="#5000ff"/>
<path d="M242.7 225.8l15.6-3.4-1.7-.8-15.6 3.4z"/>
<path class="s" d="M260 222.1l-17.3 3.7-3.4-1.5" stroke="#6800ff"/>
<path d="M225.3 230.4l15.7-4.2-1.8-.8-15.6 4.2z"/>
<path class="s" d="M242.7 225.8l-17.4 4.6-3.3-1.5" stroke="#6800ff"/>
<path d="M207.9 235.6l15.8-4.8-1.8-.8-15.8 4.9z"/>
<path class="s" d="M225.3 230.4l-17.4 5.2-3.3-1.4" stroke="#8000ff"/>
<path d="M190.5 241.5l15.9-5.3-1.9-.8-15.8 5.4z"/>
<path class="s" d="M207.9 235.6l-17.4 5.9-3.3-1.4" stroke="#8000ff"/>
<path class="s" d="M471.9 98l-3.3-2.1" stroke="#ff0078"/>
<path d="M454.5 116.4l16.6-17.6-2.4-1.5-16.6 17.7z"/>
<path class="s" d="M471.9 98l-17.4 18.4-3.3-2" stroke="#ff00bf"/>
<path d="M437.2 135.9l16.6-18.7-2.4-1.4-16.6 18.6z"/>
<path class="s" d="M454.5 116.4l-17.3 19.5-3.4-2.1" stroke="#f700ff"/>
<path d="M419.8 156.9l16.6-20.2-2.4-1.4-16.6 20.1z"/>
<path class="s" d="M437.2 135.9l-17.4 21-3.4-2.1" stroke="#9700ff"/>
<path d="M402.4 180.4l16.7-22.6-2.4-1.5-16.7 22.4z"/>
<path class="s" d="M419.8 156.9l-17.4 23.5-3.4-2.3" stroke="#3800ff"/>
<path d="M385 206.4l16.8-25.1-2.5-1.7-16.8 24.6z"/>
<path class="s" d="M402.4 180.4l-17.4 26-3.3-3" stroke="#0040ff"/>
<path d="M367.6 227.9l16.7-20.6-2.5-2.3-16.8 19.8z"/>
<path class="s" d="M385 206.4l-17.4 21.5-3.3-3.9" stroke="#009fff"/>
<path d="M350.3 230l16-1.9-2.4-3-16 2.5z"/>
<path class="s" d="M367.6 227.9l-17.3 2.1-3.4-3.4" stroke="#0087ff"/>
<path d="M332.9 224.3l15.1 5-1.7-1.7-14.4-4.1z"/>
<path class="s" d="M350.3 230l-17.4-5.7-3.4-2.6" stroke="#0040ff"/>
<path d="M315.5 220.8l15 3-1.4-1-14.5-2.6z"/>
<path class="s" d="M332.9 224.3l-17.4-3.5-3.3-2.1" stroke="#0800ff"/>
<path d="M298.2 220l15.1 .7-1.5-.9-15-.6z"/>
<path class="s" d="M315.5 220.8l-17.3-.8-3.4-1.9" stroke="#2000ff"/>
<path d="M280.8 221.2l15.4-1-1.7-1-15.3 1.1z"/>
<path class="s" d="M298.2 220l-17.4 1.2-3.4-1.8" stroke="#5000ff"/>
<path d="M263.4 223.8l15.6-2.3-1.8-1-15.5 2.4z"/>
<path class="s" d="M280.8 221.2l-17.4 2.6-3.4-1.7" stroke="#6800ff"/>
<path d="M246 227.5l15.7-3.3-1.8-1-15.7 3.4z"/>
<path class="s" d="M263.4 223.8l-17.4 3.7-3.3-1.7" stroke="#6800ff"/>
<path d="M228.6 232l15.8-4.1-1.8-.9-15.8 4.1z"/>
<path class="s" d="M246 227.5l-17.4 4.5-3.3-1.6" stroke="#8000ff"/>
<path d="M211.3 237.3l15.8-4.8-1.9-1-15.8 4.8z"/>
<path class="s" d="M228.6 232l-17.3 5.3-3.4-1.7" stroke="#8000ff"/>
<path d="M193.9 243.2l15.9-5.4-1.9-1-15.9 5.4z"/>
<path class="s" d="M211.3 237.3l-17.4 5.9-3.4-1.7" stroke="#8000ff"/>
<path class="s" d="M475.3 100l-3.4-2" stroke="#ff0078"/>
<path d="M457.9 118.5l16.6-17.7-2.4-1.4-16.6 17.6z"/>
<path class="s" d="M475.3 100l-17.4 18.5-3.4-2.1" stroke="#ff00bf"/>
<path d="M440.5 138l16.6-18.7-2.4-1.5-16.6 18.7z"/>
<path class="s" d="M457.9 118.5l-17.4 19.5-3.3-2.1" stroke="#f700ff"/>
<path d="M423.1 159.2l16.7-20.3-2.4-1.6-16.7 20.3z"/>
<path class="s" d="M440.5 138l-17.4 21.2-3.3-2.3" stroke="#9700ff"/>
<path d="M405.8 182.9l16.7-22.8-2.5-1.7-16.7 22.7z"/>
<path class="s" d="M423.1 159.2l-17.3 23.7-3.4-2.5" stroke="#3800ff"/>
<path d="M388.4 209.4l16.7-25.6-2.4-1.8-16.9 25.1z"/>
<path class="s" d="M405.8 182.9l-17.4 26.5-3.4-3" stroke="#0040ff"/>
<path d="M371 231.7l16.7-21.4-2.5-2.3-16.8 20.8z"/>
<path class="s" d="M388.4 209.4l-17.4 22.3-3.4-3.8" stroke="#009fff"/>
<path d="M353.6 233l16-1.2-2.4-2.7-15.8 1.9z"/>
<path class="s" d="M371 231.7l-17.4 1.3-3.3-3" stroke="#0087ff"/>
<path d="M336.2 226.6l14.6 5.4-1.1-1-13.6-4.5z"/>
<path class="s" d="M353.6 233l-17.4-6.4-3.3-2.3" stroke="#0040ff"/>
<path d="M318.9 222.9l14.5 3.1-.9-.6-14.2-2.9z"/>
<path class="s" d="M336.2 226.6l-17.3-3.7-3.4-2.1" stroke="#0800ff"/>
<path d="M301.5 221.9l15 .8-1.3-.8-14.9-.7z"/>
<path class="s" d="M318.9 222.9l-17.4-1-3.3-1.9" stroke="#2000ff"/>
<path d="M284.1 223l15.4-.9-1.6-1-15.3 1.1z"/>
<path class="s" d="M301.5 221.9l-17.4 1.1-3.3-1.8" stroke="#5000ff"/>
<path d="M266.8 225.6l15.5-2.3-1.7-1-15.6 2.4z"/>
<path class="s" d="M284.1 223l-17.3 2.6-3.4-1.8" stroke="#6800ff"/>
<path d="M249.4 229.2l15.7-3.3-1.9-.9-15.6 3.3z"/>
<path class="s" d="M266.8 225.6l-17.4 3.6-3.4-1.7" stroke="#6800ff"/>
<path d="M232 233.7l15.8-4.1-1.9-1-15.8 4.2z"/>
<path class="s" d="M249.4 229.2l-17.4 4.5-3.4-1.7" stroke="#8000ff"/>
<path d="M214.6 239l15.9-4.8-2-1-15.8 4.8z"/>
<path class="s" d="M232 233.7l-17.4 5.3-3.3-1.7" stroke="#8000ff"/>
<path d="M197.2 244.9l16-5.4-2-1-15.9 5.4z"/>
<path class="s" d="M214.6 239l-17.4 5.9-3.3-1.7" stroke="#8000ff"/>
<path class="s" d="M478.6 102.1l-3.3-2.1" stroke="#ff0078"/>
<path d="M461.2 120.6l16.6-17.7-2.4-1.5-16.6 17.7z"/>
<path class="s" d="M478.6 102.1l-17.4 18.5-3.3-2.1" stroke="#ff00bf"/>
<path d="M443.8 140.2l16.7-18.7-2.4-1.6-16.7 18.7z"/>
<path class="s" d="M461.2 120.6l-17.4 19.6-3.3-2.2" stroke="#f700ff"/>
<path d="M426.5 161.6l16.7-20.5-2.5-1.6-16.7 20.3z"/>
<path class="s" d="M443.8 140.2l-17.3 21.4-3.4-2.4" stroke="#9700ff"/>
<path d="M409.1 185.5l16.7-23.1-2.4-1.7-16.8 22.9z"/>
<path class="s" d="M426.5 161.6l-17.4 23.9-3.3-2.6" stroke="#3800ff"/>
<path d="M391.7 212.5l16.8-26.1-2.5-1.9-16.8 25.7z"/>
<path class="s" d="M409.1 185.5l-17.4 27-3.3-3.1" stroke="#0040ff"/>
<path d="M374.3 235.1l16.8-21.7-2.6-2.4-16.7 21.4z"/>
<path class="s" d="M391.7 212.5l-17.4 22.6-3.3-3.4" stroke="#009fff"/>
<path d="M357 235.5l15.8-.4-2.2-2.3-15.6 1.2z"/>
<path class="s" d="M374.3 235.1l-17.3 .4-3.4-2.5" stroke="#0087ff"/>
<path class="s" d="M357 235.5l-17.4-6.9-3.4-2" stroke="#0040ff"/>
<path d="M322.2 224.7l14 3.2-.4-.2-13.6-3z"/>
<path class="s" d="M339.6 228.6l-17.4-3.9-3.3-1.8" stroke="#0800ff"/>
<path d="M304.8 223.7l14.9 .9-1.1-.6-14.8-.8z"/>
<path class="s" d="M322.2 224.7l-17.4-1-3.3-1.8" stroke="#2000ff"/>
<path d="M287.5 224.8l15.3-.9-1.5-.9-15.3 1z"/>
<path class="s" d="M304.8 223.7l-17.3 1.1-3.4-1.8" stroke="#5000ff"/>
<path d="M270.1 227.3l15.5-2.2-1.7-.9-15.5 2.2z"/>
<path class="s" d="M287.5 224.8l-17.4 2.5-3.3-1.7" stroke="#6800ff"/>
<path d="M252.7 231l15.7-3.3-1.8-1-15.7 3.3z"/>
<path class="s" d="M270.1 227.3l-17.4 3.7-3.3-1.8" stroke="#6800ff"/>
<path d="M235.3 235.5l15.8-4.1-1.9-1-15.7 4.1z"/>
<path class="s" d="M252.7 231l-17.4 4.5-3.3-1.8" stroke="#8000ff"/>
<path d="M218 240.7l15.8-4.8-1.9-1-15.9 4.8z"/>
<path class="s" d="M235.3 235.5l-17.3 5.2-3.4-1.7" stroke="#8000ff"/>
<path d="M200.6 246.6l15.9-5.4-2-1-15.9 5.4z"/>
<path class="s" d="M218 240.7l-17.4 5.9-3.4-1.7" stroke="#8000ff"/>
<path class="s" d="M482 104.3l-3.4-2.2" stroke="#ff0078"/>
<path d="M464.6 122.8l16.6-17.7-2.4-1.6-16.6 17.8z"/>
<path class="s" d="M482 104.3l-17.4 18.5-3.4-2.2" stroke="#ff00bf"/>
<path d="M447.2 142.5l16.6-18.8-2.4-1.6-16.6 18.8z"/>
<path class="s" d="M464.6 122.8l-17.4 19.7-3.4-2.3" stroke="#f700ff"/>
<path d="M429.8 163.9l16.7-20.5-2.4-1.7-16.7 20.5z"/>
<path class="s" d="M447.2 142.5l-17.4 21.4-3.3-2.3" stroke="#9700ff"/>
<path d="M412.4 188.1l16.8-23.3-2.5-1.7-16.7 23.1z"/>
<path class="s" d="M429.8 163.9l-17.4 24.2-3.3-2.6" stroke="#3800ff"/>
<path d="M395.1 215.4l16.8-26.4-2.5-1.9-16.8 26.1z"/>
<path class="s" d="M412.4 188.1l-17.3 27.3-3.4-2.9" stroke="#0058ff"/>
<path d="M377.7 238l16.7-21.7-2.5-2.2-16.7 21.7z"/>
<path class="s" d="M395.1 215.4l-17.4 22.6-3.4-2.9" stroke="#00b7ff"/>
<path d="M360.3 237.7l15.7 .3-2.1-1.8-15.3 .4z"/>
<path class="s" d="M377.7 238l-17.4-.3-3.3-2.2" stroke="#0087ff"/>
<path class="s" d="M360.3 237.7l-17.3-7.2-3.4-1.9" stroke="#0040ff"/>
<path class="s" d="M343 230.5l-17.4-4-3.4-1.8" stroke="#0800ff"/>
<path d="M308.2 225.5l14.8 .9-1.1-.6-14.8-.8z"/>
<path class="s" d="M325.6 226.5l-17.4-1-3.4-1.8" stroke="#3800ff"/>
<path d="M290.8 226.6l15.3-.9-1.5-.9-15.3 1z"/>
<path class="s" d="M308.2 225.5l-17.4 1.1-3.3-1.8" stroke="#5000ff"/>
<path d="M273.4 229.2l15.6-2.3-1.7-1-15.6 2.3z"/>
<path class="s" d="M290.8 226.6l-17.4 2.6-3.3-1.9" stroke="#6800ff"/>
<path d="M256.1 232.8l15.7-3.3-1.9-1-15.7 3.3z"/>
<path class="s" d="M273.4 229.2l-17.3 3.6-3.4-1.8" stroke="#6800ff"/>
<path d="M238.7 237.3l15.8-4.1-1.9-1.1-15.8 4.1z"/>
<path class="s" d="M256.1 232.8l-17.4 4.5-3.4-1.8" stroke="#8000ff"/>
<path d="M221.3 242.5l15.9-4.8-2-1.1-15.9 4.8z"/>
<path class="s" d="M238.7 237.3l-17.4 5.2-3.3-1.8" stroke="#8000ff"/>
<path d="M204 248.4l15.9-5.4-2-1.1-16 5.4z"/>
<path class="s" d="M221.3 242.5l-17.3 5.9-3.4-1.8" stroke="#8000ff"/>
<path class="s" d="M485.3 106.3l-3.3-2" stroke="#ff0078"/>
<path d="M467.9 124.9l16.6-17.7-2.4-1.5-16.6 17.7z"/>
<path class="s" d="M485.3 106.3l-17.4 18.6-3.3-2.1" stroke="#ff00bf"/>
<path d="M450.6 144.7l16.6-18.9-2.4-1.5-16.7 18.8z"/>
<path class="s" d="M467.9 124.9l-17.3 19.8-3.4-2.2" stroke="#f700ff"/>
<path d="M433.2 166.1l16.7-20.6-2.5-1.5-16.6 20.5z"/>
<path class="s" d="M450.6 144.7l-17.4 21.4-3.4-2.2" stroke="#9700ff"/>
<path d="M415.8 190.3l16.7-23.3-2.4-1.6-16.7 23.3z"/>
<path class="s" d="M433.2 166.1l-17.4 24.2-3.4-2.2" stroke="#3800ff"/>
<path d="M398.4 217.8l16.8-26.6-2.4-1.6-16.8 26.5z"/>
<path class="s" d="M415.8 190.3l-17.4 27.5-3.3-2.4" stroke="#0058ff"/>
<path d="M381 240.7l16.8-22-2.5-1.8-16.7 21.8z"/>
<path class="s" d="M398.4 217.8l-17.4 22.9-3.3-2.7" stroke="#00b7ff"/>
<path d="M363.7 240.2l15.5 .4-1.9-1.5-15.5-.3z"/>
<path class="s" d="M381 240.7l-17.3-.5-3.4-2.5" stroke="#0087ff"/>
<path class="s" d="M363.7 240.2l-17.4-7.3-3.3-2.4" stroke="#0040ff"/>
<path d="M328.9 228.8l14.6 3.4-1-.7-14.4-3.3z"/>
<path class="s" d="M346.3 232.9l-17.4-4.1-3.3-2.3" stroke="#0800ff"/>
<path d="M311.5 227.8l15.3 .9-1.6-1.1-15.2-.8z"/>
<path class="s" d="M328.9 228.8l-17.4-1-3.3-2.3" stroke="#2000ff"/>
<path d="M294.2 228.8l15.5-.9-1.8-1.2-15.5 .9z"/>
<path class="s" d="M311.5 227.8l-17.3 1-3.4-2.2" stroke="#5000ff"/>
<path d="M276.8 231.3l15.7-2.2-1.9-1.3-15.8 2.3z"/>
<path class="s" d="M294.2 228.8l-17.4 2.5-3.4-2.1" stroke="#6800ff"/>
<path d="M259.4 235l15.9-3.3-2.1-1.4-15.8 3.3z"/>
<path class="s" d="M276.8 231.3l-17.4 3.7-3.3-2.2" stroke="#6800ff"/>
<path d="M242 239.4l16-4.1-2.1-1.3-15.9 4.1z"/>
<path class="s" d="M259.4 235l-17.4 4.4-3.3-2.1" stroke="#8000ff"/>
<path d="M224.7 244.7l16-4.8-2.2-1.4-16 4.8z"/>
<path class="s" d="M242 239.4l-17.3 5.3-3.4-2.2" stroke="#8000ff"/>
<path d="M207.3 250.6l16-5.5-2.1-1.4-16.1 5.5z"/>
<path class="s" d="M224.7 244.7l-17.4 5.9-3.3-2.2" stroke="#8000ff"/>
<path class="s" d="M488.6 108.3l-3.3-2" stroke="#ff0078"/>
<path d="M471.3 126.8l16.6-17.7-2.4-1.4-16.6 17.8z"/>
<path class="s" d="M488.6 108.3l-17.3 18.5-3.4-1.9" stroke="#ff00bf"/>
<path d="M453.9 146.4l16.6-18.8-2.3-1.3-16.6 18.9z"/>
<path class="s" d="M471.3 126.8l-17.4 19.6-3.3-1.7" stroke="#f700ff"/>
<path d="M436.5 167.7l16.7-20.4-2.4-1.3-16.6 20.6z"/>
<path class="s" d="M453.9 146.4l-17.4 21.3-3.3-1.6" stroke="#9700ff"/>
<path d="M419.2 191.7l16.7-23.1-2.4-1.1-16.7 23.2z"/>
<path class="s" d="M436.5 167.7l-17.3 24-3.4-1.4" stroke="#3800ff"/>
<path d="M401.8 219.4l16.8-26.7-2.4-1-16.8 26.6z"/>
<path class="s" d="M419.2 191.7l-17.4 27.7-3.4-1.6" stroke="#0058ff"/>
<path d="M384.4 244.2l16.7-23.9-2.3-1.1-17 22.3z"/>
<path class="s" d="M401.8 219.4l-17.4 24.8-3.4-3.5" stroke="#00b7ff"/>
<path d="M367 245l15.9-.8-2.3-2.4-16.1-.4z"/>
<path class="s" d="M384.4 244.2l-17.4 .8-3.3-4.8" stroke="#009fff"/>
<path d="M349.6 237.1l15.4 7-2-3-15.3-6.4z"/>
<path class="s" d="M367 245l-17.4-7.9-3.3-4.2" stroke="#0040ff"/>
<path d="M332.3 232.5l15.6 4.1-2.2-2.7-15.5-3.6z"/>
<path class="s" d="M349.6 237.1l-17.3-4.6-3.4-3.7" stroke="#0010ff"/>
<path d="M314.9 231.2l15.8 1.2-2.3-2.5-15.7-.9z"/>
<path class="s" d="M332.3 232.5l-17.4-1.3-3.4-3.4" stroke="#2000ff"/>
<path d="M297.5 232l15.9-.8-2.3-2.3-15.8 1z"/>
<path class="s" d="M314.9 231.2l-17.4 .8-3.3-3.2" stroke="#3800ff"/>
<path d="M280.2 234.4l15.9-2.2-2.3-2.2-15.9 2.3z"/>
<path class="s" d="M297.5 232l-17.3 2.4-3.4-3.1" stroke="#5000ff"/>
<path d="M262.8 237.9l16-3.2-2.3-2.2-16 3.4z"/>
<path class="s" d="M280.2 234.4l-17.4 3.5-3.4-2.9" stroke="#6800ff"/>
<path d="M245.4 242.3l16.1-4.1-2.4-2-16 4.1z"/>
<path class="s" d="M262.8 237.9l-17.4 4.4-3.4-2.9" stroke="#8000ff"/>
<path d="M228 247.5l16.2-4.8-2.4-2-16.1 4.8z"/>
<path class="s" d="M245.4 242.3l-17.4 5.2-3.3-2.8" stroke="#8000ff"/>
<path d="M210.6 253.4l16.2-5.4-2.4-2.1-16.1 5.5z"/>
<path class="s" d="M228 247.5l-17.4 5.9-3.3-2.8" stroke="#8000ff"/>
<path class="s" d="M492 110l-3.4-1.7" stroke="#ff0078"/>
<path d="M474.6 128.3l16.6-17.5-2.3-1.2-16.6 17.7z"/>
<path class="s" d="M492 110l-17.4 18.3-3.3-1.5" stroke="#ff00bf"/>
<path d="M457.3 147.7l16.6-18.5-2.3-1.1-16.6 18.7z"/>
<path class="s" d="M474.6 128.3l-17.3 19.4-3.4-1.3" stroke="#f700ff"/>
<path d="M439.9 168.7l16.6-20.1-2.3-.9-16.5 20.4z"/>
<path class="s" d="M457.3 147.7l-17.4 21-3.4-1" stroke="#9700ff"/>
<path d="M422.5 192.5l16.7-22.8-2.2-.7-16.7 23z"/>
<path class="s" d="M439.9 168.7l-17.4 23.8-3.3-.8" stroke="#3800ff"/>
<path d="M405.1 220.6l16.8-27.1-2.2-.5-16.9 26.7z"/>
<path class="s" d="M422.5 192.5l-17.4 28.1-3.3-1.2" stroke="#0040ff"/>
<path d="M387.8 250.2l16.8-28.6-2.4-.9-17.2 24.5z"/>
<path class="s" d="M405.1 220.6l-17.3 29.6-3.4-6" stroke="#00cfff"/>
<path d="M370.4 254.5l16.2-4.1-2.8-5.1-16.4 .8z"/>
<path class="s" d="M387.8 250.2l-17.4 4.3-3.4-9.5" stroke="#00cfff"/>
<path d="M353 244.2l15.9 9.4-2.8-7.8-15.7-7.2z"/>
<path class="s" d="M370.4 254.5l-17.4-10.3-3.4-7.1" stroke="#0070ff"/>
<path d="M335.6 238.1l15.9 5.6-2.6-5.7-15.8-4.1z"/>
<path class="s" d="M353 244.2l-17.4-6.1-3.3-5.6" stroke="#0028ff"/>
<path d="M318.2 235.9l16 2.1-2.6-4.4-15.9-1.3z"/>
<path class="s" d="M335.6 238.1l-17.4-2.2-3.3-4.7" stroke="#0800ff"/>
<path d="M300.9 236.3l16-.3-2.6-3.7-15.9 .8z"/>
<path class="s" d="M318.2 235.9l-17.3 .4-3.4-4.3" stroke="#3800ff"/>
<path d="M283.5 238.4l16.1-2-2.6-3.2-16 2.2z"/>
<path class="s" d="M300.9 236.3l-17.4 2.1-3.3-4" stroke="#5000ff"/>
<path d="M266.1 241.7l16.2-3.1-2.6-3-16.1 3.3z"/>
<path class="s" d="M283.5 238.4l-17.4 3.3-3.3-3.8" stroke="#6800ff"/>
<path d="M248.8 246l16.1-4-2.5-2.9-16.1 4.2z"/>
<path class="s" d="M266.1 241.7l-17.3 4.3-3.4-3.7" stroke="#6800ff"/>
<path d="M231.4 251.1l16.2-4.8-2.5-2.7-16.2 4.8z"/>
<path class="s" d="M248.8 246l-17.4 5.1-3.4-3.6" stroke="#6800ff"/>
<path d="M214 256.9l16.2-5.4-2.5-2.7-16.2 5.5z"/>
<path class="s" d="M231.4 251.1l-17.4 5.8-3.4-3.5" stroke="#8000ff"/>
<path class="s" d="M495.4 111.6l-3.4-1.6" stroke="#ff0078"/>
<path d="M478 129.6l16.5-17.2-2.2-1.1-16.6 17.5z"/>
<path class="s" d="M495.4 111.6l-17.4 18-3.4-1.3" stroke="#ff00bf"/>
<path d="M460.6 148.7l16.6-18.2-2.3-.9-16.5 18.4z"/>
<path class="s" d="M478 129.6l-17.4 19.1-3.3-1" stroke="#f700ff"/>
<path d="M443.2 169.4l16.6-19.8-2.2-.6-16.5 20z"/>
<path class="s" d="M460.6 148.7l-17.4 20.7-3.3-.7" stroke="#af00ff"/>
<path d="M425.8 192.9l16.7-22.5-2.1-.4-16.6 22.7z"/>
<path class="s" d="M443.2 169.4l-17.4 23.5-3.3-.4" stroke="#3800ff"/>
<path d="M408.5 221.3l16.7-27.4-2.1-.2-16.8 27.1z"/>
<path class="s" d="M425.8 192.9l-17.3 28.4-3.4-.7" stroke="#0040ff"/>
<path d="M391.1 257.6l16.9-35.3-2.3-.5-17.4 29.6z"/>
<path class="s" d="M408.5 221.3l-17.4 36.3-3.3-7.4" stroke="#0ff"/>
<path d="M373.7 271.6l16.5-13.3-3.1-6.9-16.5 4.2z"/>
<path class="s" d="M391.1 257.6l-17.4 14-3.3-17.1" stroke="#00ffe7"/>
<path d="M356.3 254.8l16 15.5-2.9-15.1-15.9-9.4z"/>
<path class="s" d="M373.7 271.6l-17.4-16.8-3.3-10.6" stroke="#009fff"/>
<path d="M339 245.5l16 8.5-2.9-8.9-15.8-5.6z"/>
<path class="s" d="M356.3 254.8l-17.3-9.3-3.4-7.4" stroke="#0040ff"/>
<path d="M321.6 241.8l16 3.4-2.7-6-16-2.1z"/>
<path class="s" d="M339 245.5l-17.4-3.7-3.4-5.9" stroke="#0800ff"/>
<path d="M304.2 241.3l16.1 .4-2.7-4.6-16 .3z"/>
<path class="s" d="M321.6 241.8l-17.4-.5-3.3-5" stroke="#2000ff"/>
<path d="M286.8 242.8l16.2-1.4-2.7-3.9-16 1.9z"/>
<path class="s" d="M304.2 241.3l-17.4 1.5-3.3-4.4" stroke="#3800ff"/>
<path d="M269.5 245.8l16.1-2.8-2.6-3.4-16.1 3z"/>
<path class="s" d="M286.8 242.8l-17.3 3-3.4-4.1" stroke="#5000ff"/>
<path d="M252.1 249.9l16.2-3.8-2.6-3.2-16.2 4z"/>
<path class="s" d="M269.5 245.8l-17.4 4.1-3.3-3.9" stroke="#6800ff"/>
<path d="M234.7 254.9l16.2-4.7-2.5-3-16.2 4.8z"/>
<path class="s" d="M252.1 249.9l-17.4 5-3.3-3.8" stroke="#6800ff"/>
<path d="M217.3 260.7l16.3-5.4-2.6-2.9-16.2 5.4z"/>
<path class="s" d="M234.7 254.9l-17.4 5.8-3.3-3.8" stroke="#6800ff"/>
<path class="s" d="M498.7 113l-3.3-1.4" stroke="#ff0078"/>
<path d="M481.3 130.8l16.6-16.9-2.3-1-16.5 17.1z"/>
<path class="s" d="M498.7 113l-17.4 17.8-3.3-1.2" stroke="#ff00a7"/>
<path d="M464 149.5l16.5-17.8-2.2-.8-16.5 18.1z"/>
<path class="s" d="M481.3 130.8l-17.3 18.7-3.4-.8" stroke="#ff00ef"/>
<path d="M446.6 169.7l16.5-19.3-2.1-.5-16.4 19.6z"/>
<path class="s" d="M464 149.5l-17.4 20.2-3.4-.3" stroke="#af00ff"/>
<path d="M429.2 192.5l16.6-21.8-2.1-.1-16.4 22.1z"/>
<path class="s" d="M446.6 169.7l-17.4 22.8-3.4 .4" stroke="#5000ff"/>
<path d="M411.8 220.2l16.7-26.5-2 .2-16.4 26.8z"/>
<path class="s" d="M429.2 192.5l-17.4 27.7-3.3 1.1" stroke="#0028ff"/>
<path d="M394.4 258.9l16.8-37.4-1.9 .7-17.2 35.8z"/>
<path class="s" d="M411.8 220.2l-17.4 38.7-3.3-1.3" stroke="#00e7ff"/>
<path d="M377.1 297.9l16.9-38-2.7-1-17.4 14z"/>
<path class="s" d="M394.4 258.9l-17.3 39-3.4-26.3" stroke="#00ff58"/>
<path d="M359.7 267.8l16 27.6-3-23.2-15.8-15.4z"/>
<path class="s" d="M377.1 297.9l-17.4-30.1-3.4-13" stroke="#00cfff"/>
<path d="M342.3 253.6l16 13-2.9-11.1-15.8-8.4z"/>
<path class="s" d="M359.7 267.8l-17.4-14.2-3.3-8.1" stroke="#0058ff"/>
<path d="M325 248l16 5.2-2.8-6.8-15.9-3.4z"/>
<path class="s" d="M342.3 253.6l-17.3-5.6-3.4-6.2" stroke="#0028ff"/>
<path d="M307.6 246.5l16 1.4-2.7-5-16-.5z"/>
<path class="s" d="M325 248l-17.4-1.5-3.4-5.2" stroke="#0800ff"/>
<path d="M290.2 247.5l16.1-.9-2.6-4.2-16.1 1.5z"/>
<path class="s" d="M307.6 246.5l-17.4 1-3.4-4.7" stroke="#3800ff"/>
<path d="M272.8 250.1l16.2-2.4-2.6-3.7-16.2 2.8z"/>
<path class="s" d="M290.2 247.5l-17.4 2.6-3.3-4.3" stroke="#5000ff"/>
<path d="M255.4 254l16.2-3.6-2.6-3.4-16.1 3.8z"/>
<path class="s" d="M272.8 250.1l-17.4 3.9-3.3-4.1" stroke="#5000ff"/>
<path d="M238.1 258.9l16.2-4.6-2.6-3.1-16.2 4.6z"/>
<path class="s" d="M255.4 254l-17.3 4.9-3.4-4" stroke="#5000ff"/>
<path d="M220.7 264.6l16.3-5.4-2.6-3-16.3 5.4z"/>
<path class="s" d="M238.1 258.9l-17.4 5.7-3.4-3.9" stroke="#6800ff"/>
<path class="s" d="M502.1 114.5l-3.4-1.5" stroke="#ff0060"/>
<path d="M484.7 131.9l16.5-16.6-2.2-.9-16.5 16.8z"/>
<path class="s" d="M502.1 114.5l-17.4 17.4-3.4-1.1" stroke="#ff00a7"/>
<path d="M467.3 150.1l16.5-17.3-2.1-.7-16.5 17.6z"/>
<path class="s" d="M484.7 131.9l-17.4 18.2-3.3-.6" stroke="#ff00ef"/>
<path d="M449.9 169.7l16.6-18.6-2.1-.4-16.4 19z"/>
<path class="s" d="M467.3 150.1l-17.4 19.6-3.3 0" stroke="#c700ff"/>
<path d="M432.6 191.5l16.4-20.7-1.9 0-16.1 21.1z"/>
<path class="s" d="M449.9 169.7l-17.3 21.8-3.4 1" stroke="#6800ff"/>
<path d="M415.2 217.3l16.4-24.4-1.7 .5-15.2 24.3z"/>
<path class="s" d="M432.6 191.5l-17.4 25.8-3.4 2.9" stroke="#0010ff"/>
<path d="M397.8 251.9l16.1-32.1-1.2 1 3.2-6.9z"/>
<path class="s" d="M415.2 217.3l-17.4 34.6-3.4 7" stroke="#00b7ff"/>
<path d="M380.4 306.7l15-47.1 0-.2-17.8 39.9z"/>
<path class="s" d="M397.8 251.9l-17.4 54.8-3.3-8.8" stroke="#00ff28"/>
<path d="M363 282.8l15 20.5-1.9-5-15.6-27z"/>
<path class="s" d="M380.4 306.7l-17.4-23.9-3.3-15" stroke="#00ffcf"/>
<path d="M345.7 263.1l15.8 18-2.8-12.7-15.7-12.8z"/>
<path class="s" d="M363 282.8l-17.3-19.7-3.4-9.5" stroke="#0087ff"/>
<path d="M328.3 255.3l16 7.2-2.8-8-15.9-5.1z"/>
<path class="s" d="M345.7 263.1l-17.4-7.8-3.3-7.3" stroke="#0040ff"/>
<path d="M310.9 252.8l16.1 2.4-2.8-6.1-16-1.4z"/>
<path class="s" d="M328.3 255.3l-17.4-2.5-3.3-6.3" stroke="#0010ff"/>
<path d="M293.6 253.1l16.1-.3-2.8-5.1-16.1 .9z"/>
<path class="s" d="M310.9 252.8l-17.3 .3-3.4-5.6" stroke="#2000ff"/>
<path d="M276.2 255.3l16.2-2-2.8-4.6-16.1 2.4z"/>
<path class="s" d="M293.6 253.1l-17.4 2.2-3.4-5.2" stroke="#3800ff"/>
<path d="M258.8 259l16.2-3.4-2.7-4.2-16.2 3.6z"/>
<path class="s" d="M276.2 255.3l-17.4 3.7-3.4-5" stroke="#3800ff"/>
<path d="M241.4 263.7l16.3-4.4-2.7-4.1-16.3 4.6z"/>
<path class="s" d="M258.8 259l-17.4 4.7-3.3-4.8" stroke="#5000ff"/>
<path d="M224 269.4l16.3-5.3-2.7-3.9-16.2 5.4z"/>
<path class="s" d="M241.4 263.7l-17.4 5.7-3.3-4.8" stroke="#5000ff"/>
<path class="s" d="M505.4 115.9l-3.3-1.4" stroke="#ff0060"/>
<path d="M488 132.8l16.5-16.1-2.2-.9-16.4 16.5z"/>
<path class="s" d="M505.4 115.9l-17.4 16.9-3.3-.9" stroke="#ff00a7"/>
<path d="M470.6 150.5l16.5-16.8-2.1-.5-16.3 17.1z"/>
<path class="s" d="M488 132.8l-17.4 17.7-3.3-.4" stroke="#ff00ef"/>
<path d="M453.3 169.3l16.4-17.8-2-.2-16.1 18.2z"/>
<path class="s" d="M470.6 150.5l-17.3 18.8-3.4 .4" stroke="#c700ff"/>
<path d="M435.9 189.8l16.3-19.3-1.7 .2-15.6 19.6z"/>
<path class="s" d="M453.3 169.3l-17.4 20.5-3.3 1.7" stroke="#8000ff"/>
<path d="M418.5 213.4l16-21.7-1.2 .6-11.9 17.7z"/>
<path class="s" d="M435.9 189.8l-17.4 23.6-3.3 3.9" stroke="#0800ff"/>
<path class="s" d="M418.5 213.4l-17.3 29.5-3.4 9" stroke="#0070ff"/>
<path class="s" d="M401.2 242.9l-17.4 44.4-3.4 19.4" stroke="#00ff9f"/>
<path class="s" d="M383.8 287.3l-17.4 19.3-3.4-23.8" stroke="#00ff58"/>
<path d="M349 277.4l15.9 26.7-2.9-20.8-15.8-17.9z"/>
<path class="s" d="M366.4 306.6l-17.4-29.2-3.3-14.3" stroke="#00cfff"/>
<path d="M331.6 265.9l16.1 10.6-3-12.6-16-7.2z"/>
<path class="s" d="M349 277.4l-17.4-11.5-3.3-10.6" stroke="#0070ff"/>
<path d="M314.3 261.5l16.1 4-2.9-9.2-16.1-2.3z"/>
<path class="s" d="M331.6 265.9l-17.3-4.4-3.4-8.7" stroke="#0028ff"/>
<path d="M296.9 260.8l16.2 .7-2.9-7.6-16.2 .3z"/>
<path class="s" d="M314.3 261.5l-17.4-.7-3.3-7.7" stroke="#0010ff"/>
<path d="M279.5 262.4l16.2-1.5-2.8-6.6-16.2 2.1z"/>
<path class="s" d="M296.9 260.8l-17.4 1.6-3.3-7.1" stroke="#2000ff"/>
<path d="M262.2 265.7l16.2-3.1-2.8-6-16.3 3.4z"/>
<path class="s" d="M279.5 262.4l-17.3 3.3-3.4-6.7" stroke="#2000ff"/>
<path d="M244.8 270.2l16.3-4.2-2.9-5.7-16.3 4.4z"/>
<path class="s" d="M262.2 265.7l-17.4 4.5-3.4-6.5" stroke="#3800ff"/>
<path d="M227.4 275.9l16.3-5.3-2.8-5.6-16.3 5.4z"/>
<path class="s" d="M244.8 270.2l-17.4 5.7-3.4-6.5" stroke="#3800ff"/>
<path class="s" d="M508.8 117l-3.4-1.1" stroke="#ff0060"/>
<path d="M491.4 133.4l16.4-15.6-2.1-.7-16.3 16z"/>
<path class="s" d="M508.8 117l-17.4 16.4-3.4-.6" stroke="#ff00a7"/>
<path d="M474 150.3l16.4-16-2-.3-16.1 16.4z"/>
<path class="s" d="M491.4 133.4l-17.4 16.9-3.4 .2" stroke="#ff00d7"/>
<path d="M456.6 168.1l16.3-16.6-1.7 .1-15.7 16.9z"/>
<path class="s" d="M474 150.3l-17.4 17.8-3.3 1.2" stroke="#df00ff"/>
<path d="M439.2 187.2l15.9-17.4-1.2 .4-13.7 16.2z"/>
<path class="s" d="M456.6 168.1l-17.4 19.1-3.3 2.6" stroke="#9700ff"/>
<path class="s" d="M439.2 187.2l-17.3 21.2-3.4 5" stroke="#3800ff"/>
<path class="s" d="M421.9 208.4l-17.4 25-3.3 9.5" stroke="#0040ff"/>
<path d="M387.1 266.9l13.8-26.5-.8 2.1-15.5 39.6z"/>
<path class="s" d="M404.5 233.4l-17.4 33.5-3.3 20.4" stroke="#00cfff"/>
<path d="M369.8 328l14.7-51.9-2.4 14.7-15.5 17.2z"/>
<path class="s" d="M387.1 266.9l-17.3 61.1-3.4-21.4" stroke="#20ff00"/>
<path d="M352.4 308.3l16 18.2-3.1-19.5-16-27z"/>
<path class="s" d="M369.8 328l-17.4-19.7-3.4-30.9" stroke="#00ff87"/>
<path d="M335 284l16.1 22.5-3.1-28.5-16.1-10.6z"/>
<path class="s" d="M352.4 308.3l-17.4-24.3-3.4-18.1" stroke="#00cfff"/>
<path d="M317.6 275.1l16.2 8.3-3.1-16.6-16.1-4.1z"/>
<path class="s" d="M335 284l-17.4-8.9-3.3-13.6" stroke="#0070ff"/>
<path d="M300.2 272.2l16.2 2.7-3-12.3-16.2-.7z"/>
<path class="s" d="M317.6 275.1l-17.4-2.9-3.3-11.4" stroke="#0040ff"/>
<path d="M282.9 272.5l16.2-.3-3-10.2-16.2 1.5z"/>
<path class="s" d="M300.2 272.2l-17.3 .3-3.4-10.1" stroke="#0010ff"/>
<path d="M265.5 275l16.3-2.3-3-9-16.3 3z"/>
<path class="s" d="M282.9 272.5l-17.4 2.5-3.3-9.3" stroke="#0010ff"/>
<path d="M248.1 279.1l16.3-3.8-2.9-8.3-16.3 4.3z"/>
<path class="s" d="M265.5 275l-17.4 4.1-3.3-8.9" stroke="#0800ff"/>
<path d="M230.8 284.7l16.3-5.2-3-7.9-16.3 5.3z"/>
<path class="s" d="M248.1 279.1l-17.3 5.6-3.4-8.8" stroke="#0800ff"/>
<path class="s" d="M512.1 117.8l-3.3-.8" stroke="#ff0060"/>
<path d="M494.7 133.5l16.4-14.8-2-.5-16.2 15.2z"/>
<path class="s" d="M512.1 117.8l-17.4 15.7-3.3-.1" stroke="#ff008f"/>
<path d="M477.4 149.5l16.2-15-1.8 0-15.7 15.3z"/>
<path class="s" d="M494.7 133.5l-17.3 16-3.4 .8" stroke="#ff00bf"/>
<path d="M460 166.2l15.8-15.2-1.2 .3-14.5 14.8z"/>
<path class="s" d="M477.4 149.5l-17.4 16.7-3.4 1.9" stroke="#f700ff"/>
<path d="M442.6 183.7l14.5-14.6 .2-.1 10-10.9z"/>
<path class="s" d="M460 166.2l-17.4 17.5-3.4 3.5" stroke="#af00ff"/>
<path class="s" d="M442.6 183.7l-17.4 18.9-3.3 5.8" stroke="#6800ff"/>
<path d="M407.8 223.7l13.1-15.9 0 0-15.1 21.8z"/>
<path class="s" d="M425.2 202.6l-17.4 21.1-3.3 9.7" stroke="#0800ff"/>
<path d="M390.5 249l15-21.9-2 5.9-15.7 30.2z"/>
<path class="s" d="M407.8 223.7l-17.3 25.3-3.4 17.9" stroke="#0058ff"/>
<path d="M373.1 283.3l15.6-30.8-2.6 14.1-15.9 55.9z"/>
<path class="s" d="M390.5 249l-17.4 34.3-3.3 44.7" stroke="#0ff"/>
<path class="s" d="M373.1 283.3l-17.4 59.8-3.3-34.8" stroke="#50ff00"/>
<path d="M338.3 316l16.1 25.1-3.1-32.4-16.1-22.4z"/>
<path class="s" d="M355.7 343.1l-17.4-27.1-3.3-32" stroke="#00ff87"/>
<path d="M321 295.1l16.1 19.4-3.1-29.8-16.1-8.2z"/>
<path class="s" d="M338.3 316l-17.3-20.9-3.4-20" stroke="#00e7ff"/>
<path d="M303.6 287.3l16.2 7.3-3.1-18.5-16.2-2.8z"/>
<path class="s" d="M321 295.1l-17.4-7.8-3.4-15.1" stroke="#0087ff"/>
<path d="M286.2 285.2l16.2 2-3-13.9-16.2 .3z"/>
<path class="s" d="M303.6 287.3l-17.4-2.1-3.3-12.7" stroke="#0058ff"/>
<path d="M268.8 286.4l16.3-1.1-3-11.6-16.3 2.4z"/>
<path class="s" d="M286.2 285.2l-17.4 1.2-3.3-11.4" stroke="#0040ff"/>
<path d="M251.5 289.8l16.3-3.2-3.1-10.3-16.2 3.9z"/>
<path class="s" d="M268.8 286.4l-17.3 3.4-3.4-10.7" stroke="#0028ff"/>
<path d="M234.1 295.1l16.3-5-3-9.6-16.3 5.3z"/>
<path class="s" d="M251.5 289.8l-17.4 5.3-3.3-10.4" stroke="#0028ff"/>
<path class="s" d="M515.4 118.7l-3.3-.9" stroke="#ff0048"/>
<path d="M498.1 133.7l16.3-14.1-2-.6-16.1 14.6z"/>
<path class="s" d="M515.4 118.7l-17.3 15-3.4-.2" stroke="#ff008f"/>
<path d="M480.7 148.9l16.2-14.2-1.8-.1-15.7 14.6z"/>
<path class="s" d="M498.1 133.7l-17.4 15.2-3.3 .6" stroke="#ff00bf"/>
<path d="M463.3 164.5l15.8-14.2-1.2 .3-14.6 13.9z"/>
<path class="s" d="M480.7 148.9l-17.4 15.6-3.3 1.7" stroke="#ff00ef"/>
<path class="s" d="M463.3 164.5l-17.3 16.1-3.4 3.1" stroke="#c700ff"/>
<path class="s" d="M446 180.6l-17.4 17-3.4 5" stroke="#9700ff"/>
<path d="M411.2 215.9l12.9-13.6 .2-.4-14.9 18.2z"/>
<path class="s" d="M428.6 197.6l-17.4 18.3-3.4 7.8" stroke="#5000ff"/>
<path d="M393.8 236.1l15-17.5-1.9 4.6-15.6 22.7z"/>
<path class="s" d="M411.2 215.9l-17.4 20.2-3.3 12.9" stroke="#0010ff"/>
<path d="M376.4 259.7l15.7-21.2-2.7 10.1-15.8 31.4z"/>
<path class="s" d="M393.8 236.1l-17.4 23.6-3.3 23.6" stroke="#0070ff"/>
<path d="M359.1 288.5l15.9-26.4-3 21-16 55z"/>
<path class="s" d="M376.4 259.7l-17.3 28.8-3.4 54.6" stroke="#0ff"/>
<path d="M341.7 317.3l16.1-26.8-3 49.2-14.7-23z"/>
<path class="s" d="M359.1 288.5l-17.4 28.8-3.4-1.3" stroke="#00ff87"/>
<path d="M324.3 315.3l21.8 2.5-11.3-4.3-13.5-16.2z"/>
<path class="s" d="M341.7 317.3l-17.4-2-3.3-20.2" stroke="#00ffb7"/>
<path d="M307 304.6l16.1 9.9-3.1-18.6-16.1-7.2z"/>
<path class="s" d="M324.3 315.3l-17.3-10.7-3.4-17.3" stroke="#00e7ff"/>
<path d="M289.6 299.7l16.2 4.6-3.1-16-16.2-1.9z"/>
<path class="s" d="M307 304.6l-17.4-4.9-3.4-14.5" stroke="#009fff"/>
<path d="M272.2 299.2l16.2 .5-3-13.3-16.3 1z"/>
<path class="s" d="M289.6 299.7l-17.4-.5-3.4-12.8" stroke="#0087ff"/>
<path d="M254.8 301.8l16.3-2.4-3.1-11.8-16.2 3.3z"/>
<path class="s" d="M272.2 299.2l-17.4 2.6-3.3-12" stroke="#0070ff"/>
<path d="M237.4 306.8l16.4-4.7-3.1-10.9-16.3 5z"/>
<path class="s" d="M254.8 301.8l-17.4 5-3.3-11.7" stroke="#0058ff"/>
<path class="s" d="M518.8 119.9l-3.4-1.2" stroke="#ff0048"/>
<path d="M501.4 134.5l16.4-13.8-2.1-.8-16.3 14.1z"/>
<path class="s" d="M518.8 119.9l-17.4 14.6-3.3-.8" stroke="#ff0078"/>
<path d="M484.1 149.1l16.3-13.7-2-.5-16.1 14.1z"/>
<path class="s" d="M501.4 134.5l-17.3 14.6-3.4-.2" stroke="#ff00a7"/>
<path d="M466.7 163.9l16.1-13.8-1.7-.1-15.7 14.1z"/>
<path class="s" d="M484.1 149.1l-17.4 14.8-3.4 .6" stroke="#ff00d7"/>
<path d="M449.3 179l15.8-13.7-1.3 .2-14.5 13.5z"/>
<path class="s" d="M466.7 163.9l-17.4 15.1-3.3 1.6" stroke="#df00ff"/>
<path class="s" d="M449.3 179l-17.4 15.6-3.3 3" stroke="#af00ff"/>
<path class="s" d="M431.9 194.6l-17.3 16.4-3.4 4.9" stroke="#6800ff"/>
<path d="M397.2 228.4l13.1-13.2 0 0-15 17.5z"/>
<path class="s" d="M414.6 211l-17.4 17.4-3.4 7.7" stroke="#3800ff"/>
<path d="M379.8 247.7l15.1-16.7-2 4.6-15.6 21.2z"/>
<path class="s" d="M397.2 228.4l-17.4 19.3-3.4 12" stroke="#0010ff"/>
<path d="M362.4 269.7l15.6-19.8-2.6 9.4-15.8 26.2z"/>
<path class="s" d="M379.8 247.7l-17.4 22-3.3 18.8" stroke="#0070ff"/>
<path d="M345 296.3l15.9-24.3-2.9 16.1-15.8 26.3z"/>
<path class="s" d="M362.4 269.7l-17.4 26.6-3.3 21" stroke="#00e7ff"/>
<path class="s" d="M345 296.3l-17.3 34.1-3.4-15.1" stroke="#00ff70"/>
<path d="M310.3 353.2l16.5-21.7-3.4-15.5-16.4-10z"/>
<path class="s" d="M327.7 330.4l-17.4 22.8-3.3-48.6" stroke="#00ff10"/>
<path d="M292.9 340.4l16.2 11.9-3.2-46.8-16.2-4.6z"/>
<path class="s" d="M310.3 353.2l-17.4-12.8-3.3-40.7" stroke="#00ff70"/>
<path d="M275.6 332.5l16.2 7.3-3.2-39-16.3-.5z"/>
<path class="s" d="M292.9 340.4l-17.3-7.9-3.4-33.3" stroke="#00ffcf"/>
<path d="M258.2 331.6l16.2 .9-3.2-32-16.3 2.4z"/>
<path class="s" d="M275.6 332.5l-17.4-.9-3.4-29.8" stroke="#0ff"/>
<path d="M240.8 335.7l16.3-3.8-3.2-28.7-16.3 4.7z"/>
<path class="s" d="M258.2 331.6l-17.4 4.1-3.4-28.9" stroke="#0ff"/>
<path class="s" d="M522.2 120.7l-3.4-.8" stroke="#ff0048"/>
<path d="M504.8 134.6l16.3-13-2-.5-16 13.4z"/>
<path class="s" d="M522.2 120.7l-17.4 13.9-3.4-.1" stroke="#ff0078"/>
<path d="M487.4 148.5l16-12.9-1.6 0-15.5 13.1z"/>
<path class="s" d="M504.8 134.6l-17.4 13.9-3.3 .6" stroke="#ff00a7"/>
<path d="M470 162.4l15.6-12.5-1.1 .2-14.3 12.2z"/>
<path class="s" d="M487.4 148.5l-17.4 13.9-3.3 1.5" stroke="#ff00d7"/>
<path class="s" d="M470 162.4l-17.4 14.1-3.3 2.5" stroke="#f700ff"/>
<path d="M435.3 190.8l-1.3 1.1-4.1 3 8.3-7.4z"/>
<path class="s" d="M452.6 176.5l-17.3 14.3-3.4 3.8" stroke="#c700ff"/>
<path d="M417.9 205.5l11.6-9.8 1.6-1.9-14.4 13.6z"/>
<path class="s" d="M435.3 190.8l-17.4 14.7-3.3 5.5" stroke="#9700ff"/>
<path d="M400.5 220.6l14.6-12.7-1.4 2.4-15.3 15.4z"/>
<path class="s" d="M417.9 205.5l-17.4 15.1-3.3 7.8" stroke="#6800ff"/>
<path d="M383.2 236.5l15.4-14.1-2.4 5.4-15.7 17.4z"/>
<path class="s" d="M400.5 220.6l-17.3 15.9-3.4 11.2" stroke="#3800ff"/>
<path d="M365.8 253.2l15.7-15.2-2.7 9.1-15.9 20.2z"/>
<path class="s" d="M383.2 236.5l-17.4 16.7-3.4 16.5" stroke="#0010ff"/>
<path d="M348.4 271.1l16-16.4-3 14.5-16 24.6z"/>
<path class="s" d="M365.8 253.2l-17.4 17.9-3.4 25.2" stroke="#0058ff"/>
<path d="M331 290.5l16.1-17.9-3.1 23.4-16.1 31.5z"/>
<path class="s" d="M348.4 271.1l-17.4 19.4-3.3 39.9" stroke="#009fff"/>
<path d="M313.6 311.3l16.2-19.4-3.2 38.1-16.1 21.1z"/>
<path class="s" d="M331 290.5l-17.4 20.8-3.3 41.9" stroke="#0ff"/>
<path d="M296.3 333l16.1-20.2-3 38.3-16-11.8z"/>
<path class="s" d="M313.6 311.3l-17.3 21.7-3.4 7.4" stroke="#00ffb7"/>
<path d="M278.9 353.1l14.8-17.1-2.2 4.9-15.7-7.1z"/>
<path class="s" d="M296.3 333l-17.4 20.1-3.3-20.6" stroke="#00ff58"/>
<path d="M261.5 367.7l16.4-13.8-3.3-20.3-16.3-.9z"/>
<path class="s" d="M278.9 353.1l-17.4 14.6-3.3-36.1" stroke="#00ff28"/>
<path d="M244.2 376.2l16.3-8-3.3-35.2-16.3 3.8z"/>
<path class="s" d="M261.5 367.7l-17.3 8.5-3.4-40.5" stroke="#00ff28"/>
<path class="s" d="M525.5 121.3l-3.3-.6" stroke="#ff0048"/>
<path d="M508.1 134.4l16.2-12.2-1.9-.3-15.7 12.6z"/>
<path class="s" d="M525.5 121.3l-17.4 13.1-3.3 .2" stroke="#ff0060"/>
<path d="M490.8 147.4l15.7-11.8-1.3 .1-14.8 11.8z"/>
<path class="s" d="M508.1 134.4l-17.3 13-3.4 1.1" stroke="#ff008f"/>
<path class="s" d="M490.8 147.4l-17.4 12.9-3.4 2.1" stroke="#ff00bf"/>
<path d="M456 173.2l5.3-4-6.5 4.2 5.5-4.5z"/>
<path class="s" d="M473.4 160.3l-17.4 12.9-3.4 3.3" stroke="#ff00d7"/>
<path d="M438.6 186l11.4-8.4 1.9-1.9-14.3 11.8z"/>
<path class="s" d="M456 173.2l-17.4 12.8-3.3 4.8" stroke="#f700ff"/>
<path d="M421.2 198.8l14.7-10.8-1.4 2.1-15.3 12.9z"/>
<path class="s" d="M438.6 186l-17.4 12.8-3.3 6.7" stroke="#c700ff"/>
<path d="M403.9 211.7l15.4-11.4-2.3 4.5-15.7 13.6z"/>
<path class="s" d="M421.2 198.8l-17.3 12.9-3.4 8.9" stroke="#af00ff"/>
<path d="M386.5 224.6l15.7-11.7-2.6 7.1-15.9 14.4z"/>
<path class="s" d="M403.9 211.7l-17.4 12.9-3.3 11.9" stroke="#8000ff"/>
<path d="M369.1 237.6l15.9-11.9-2.8 10.2-16 15.4z"/>
<path class="s" d="M386.5 224.6l-17.4 13-3.3 15.6" stroke="#6800ff"/>
<path d="M351.8 250.7l16-12.1-3 14.1-16.1 16.5z"/>
<path class="s" d="M369.1 237.6l-17.3 13.1-3.4 20.4" stroke="#3800ff"/>
<path d="M334.4 263.6l16.1-12-3.1 19-16.1 18z"/>
<path class="s" d="M351.8 250.7l-17.4 12.9-3.4 26.9" stroke="#0800ff"/>
<path d="M317 276.2l16.2-11.7-3.2 25.5-16.2 19.4z"/>
<path class="s" d="M334.4 263.6l-17.4 12.6-3.4 35.1" stroke="#0010ff"/>
<path d="M299.6 288.2l16.2-11.2-3.2 33.9-16.2 20.2z"/>
<path class="s" d="M317 276.2l-17.4 12-3.3 44.8" stroke="#0040ff"/>
<path d="M282.2 299.2l16.3-10.2-3.3 43.6-16.2 18.7z"/>
<path class="s" d="M299.6 288.2l-17.4 11-3.3 53.9" stroke="#0058ff"/>
<path d="M264.9 308.5l16.2-8.7-3.3 52.7-16.2 13.7z"/>
<path class="s" d="M282.2 299.2l-17.3 9.3-3.4 59.2" stroke="#0070ff"/>
<path d="M247.5 315.8l16.2-6.8-3.2 58-16.3 8z"/>
<path class="s" d="M264.9 308.5l-17.4 7.3-3.3 60.4" stroke="#0070ff"/>
<path class="s" d="M528.8 121.9l-3.3-.6" stroke="#ff0030"/>
<path d="M511.5 134.2l16.1-11.4-1.8-.3-15.7 11.8z"/>
<path class="s" d="M528.8 121.9l-17.3 12.3-3.4 .2" stroke="#ff0060"/>
<path d="M494.1 146.3l15.7-10.9-1.3 .1-14.6 10.9z"/>
<path class="s" d="M511.5 134.2l-17.4 12.1-3.3 1.1" stroke="#ff0078"/>
<path class="s" d="M494.1 146.3l-17.4 12-3.3 2" stroke="#ff00a7"/>
<path class="s" d="M476.7 158.3l-17.3 11.9-3.4 3" stroke="#ff00bf"/>
<path class="s" d="M459.4 170.2l-17.4 11.6-3.4 4.2" stroke="#ff00d7"/>
<path d="M424.6 193.4l14.3-9.5-1 1.3-15.1 11.1z"/>
<path class="s" d="M442 181.8l-17.4 11.6-3.4 5.4" stroke="#f700ff"/>
<path d="M407.2 204.8l15.2-10-2 3.3-15.5 11.5z"/>
<path class="s" d="M424.6 193.4l-17.4 11.4-3.3 6.9" stroke="#df00ff"/>
<path d="M389.8 216.1l15.6-10.1-2.4 5-15.7 11.7z"/>
<path class="s" d="M407.2 204.8l-17.4 11.3-3.3 8.5" stroke="#c700ff"/>
<path d="M372.5 227.3l15.8-10.2-2.7 6.8-15.9 11.9z"/>
<path class="s" d="M389.8 216.1l-17.3 11.2-3.4 10.3" stroke="#af00ff"/>
<path d="M355.1 238.3l15.9-10.1-2.8 8.8-16 11.9z"/>
<path class="s" d="M372.5 227.3l-17.4 11-3.3 12.4" stroke="#8000ff"/>
<path d="M337.7 249l16-9.8-2.9 10.8-16 11.9z"/>
<path class="s" d="M355.1 238.3l-17.4 10.7-3.3 14.6" stroke="#6800ff"/>
<path d="M320.3 259.4l16.1-9.6-3 13.1-16.1 11.7z"/>
<path class="s" d="M337.7 249l-17.4 10.4-3.3 16.8" stroke="#5000ff"/>
<path d="M303 269.1l16.1-9-3.1 15.5-16.1 11.1z"/>
<path class="s" d="M320.3 259.4l-17.3 9.7-3.4 19.1" stroke="#3800ff"/>
<path d="M285.6 278.1l16.1-8.4-3.1 17.9-16.1 10.1z"/>
<path class="s" d="M303 269.1l-17.4 9-3.4 21.1" stroke="#3800ff"/>
<path d="M268.2 286l16.2-7.4-3.2 19.9-16.1 8.6z"/>
<path class="s" d="M285.6 278.1l-17.4 7.9-3.3 22.5" stroke="#2000ff"/>
<path d="M250.8 292.8l16.2-6.3-3.1 21.2-16.2 6.8z"/>
<path class="s" d="M268.2 286l-17.4 6.8-3.3 23" stroke="#2000ff"/>
<path class="s" d="M532.2 122.6l-3.4-.7" stroke="#ff0030"/>
<path d="M514.8 134.1l16.1-10.7-1.8-.3-15.7 11z"/>
<path class="s" d="M532.2 122.6l-17.4 11.5-3.3 .1" stroke="#ff0048"/>
<path d="M497.4 145.4l15.7-10.2-1.3 .1-14.5 10.1z"/>
<path class="s" d="M514.8 134.1l-17.4 11.3-3.3 .9" stroke="#ff0060"/>
<path class="s" d="M497.4 145.4l-17.3 11-3.4 1.9" stroke="#ff008f"/>
<path d="M462.7 167.2l-9.4 5.8-.1 0 12.3-8.4z"/>
<path class="s" d="M480.1 156.4l-17.4 10.8-3.3 3" stroke="#ff00a7"/>
<path d="M445.3 177.6l12.4-7.4 1-.9-14.5 9.7z"/>
<path class="s" d="M462.7 167.2l-17.4 10.4-3.3 4.2" stroke="#ff00bf"/>
<path d="M428 187.8l14.7-8.6-1.5 1.8-15.3 10.2z"/>
<path class="s" d="M445.3 177.6l-17.3 10.2-3.4 5.6" stroke="#ff00d7"/>
<path d="M410.6 197.8l15.4-8.8-2.2 3.6-15.7 10.3z"/>
<path class="s" d="M428 187.8l-17.4 10-3.4 7" stroke="#ff00ef"/>
<path d="M393.2 207.6l15.7-8.9-2.5 5.4-15.9 10.3z"/>
<path class="s" d="M410.6 197.8l-17.4 9.8-3.4 8.5" stroke="#f700ff"/>
<path d="M375.8 217.1l15.9-8.7-2.7 7-16 10.2z"/>
<path class="s" d="M393.2 207.6l-17.4 9.5-3.3 10.2" stroke="#f700ff"/>
<path d="M358.4 226.5l16-8.6-2.8 8.7-16.1 10.1z"/>
<path class="s" d="M375.8 217.1l-17.4 9.4-3.3 11.8" stroke="#df00ff"/>
<path d="M341.1 235.5l16-8.3-2.9 10.4-16.1 9.9z"/>
<path class="s" d="M358.4 226.5l-17.3 9-3.4 13.5" stroke="#c700ff"/>
<path d="M323.7 244.2l16.1-8-3 12.1-16.1 9.6z"/>
<path class="s" d="M341.1 235.5l-17.4 8.7-3.4 15.2" stroke="#c700ff"/>
<path d="M306.3 252.5l16.1-7.7-3 13.9-16.1 9z"/>
<path class="s" d="M323.7 244.2l-17.4 8.3-3.3 16.6" stroke="#af00ff"/>
<path d="M289 260.3l16.1-7.2-3.1 15.3-16.1 8.3z"/>
<path class="s" d="M306.3 252.5l-17.3 7.8-3.4 17.8" stroke="#af00ff"/>
<path d="M271.6 267.5l16.1-6.7-3.1 16.5-16.1 7.4z"/>
<path class="s" d="M289 260.3l-17.4 7.2-3.4 18.5" stroke="#9700ff"/>
<path d="M254.2 274.1l16.2-6.1-3.1 17.2-16.2 6.4z"/>
<path class="s" d="M271.6 267.5l-17.4 6.6-3.4 18.7" stroke="#9700ff"/>
<path class="s" d="M535.6 123.7l-3.4-1.1" stroke="#ff0030"/>
<path d="M518.2 134.6l16.1-10.2-1.9-.6-16 10.6z"/>
<path class="s" d="M535.6 123.7l-17.4 10.9-3.4-.5" stroke="#ff0048"/>
<path d="M500.8 145.3l15.9-9.8-1.6-.2-15.6 10.1z"/>
<path class="s" d="M518.2 134.6l-17.4 10.7-3.4 .1" stroke="#ff0060"/>
<path d="M483.4 155.7l15.5-9.2-1.1 0-14.5 9.2z"/>
<path class="s" d="M500.8 145.3l-17.4 10.4-3.3 .7" stroke="#ff0078"/>
<path class="s" d="M483.4 155.7l-17.4 9.9-3.3 1.6" stroke="#ff008f"/>
<path class="s" d="M466 165.6l-17.3 9.6-3.4 2.4" stroke="#ff00a7"/>
<path class="s" d="M448.7 175.2l-17.4 9.3-3.3 3.3" stroke="#ff00a7"/>
<path d="M413.9 193.5l14.1-7.3-.7 .7-14.9 8.6z"/>
<path class="s" d="M431.3 184.5l-17.4 9-3.3 4.3" stroke="#ff00bf"/>
<path d="M396.6 202.3l15-7.6-1.8 2.3-15.4 8.6z"/>
<path class="s" d="M413.9 193.5l-17.3 8.8-3.4 5.3" stroke="#ff00d7"/>
<path d="M379.2 210.7l15.5-7.5-2.3 3.5-15.6 8.7z"/>
<path class="s" d="M396.6 202.3l-17.4 8.4-3.4 6.4" stroke="#ff00d7"/>
<path d="M361.8 219l15.7-7.5-2.5 4.8-15.8 8.5z"/>
<path class="s" d="M379.2 210.7l-17.4 8.3-3.4 7.5" stroke="#ff00ef"/>
<path d="M344.4 227l15.9-7.3-2.7 6-15.9 8.2z"/>
<path class="s" d="M361.8 219l-17.4 8-3.3 8.5" stroke="#ff00ef"/>
<path d="M327 234.8l16-7.1-2.8 7-16 8z"/>
<path class="s" d="M344.4 227l-17.4 7.8-3.3 9.4" stroke="#f700ff"/>
<path d="M309.7 242.3l16-6.9-2.9 8-16 7.7z"/>
<path class="s" d="M327 234.8l-17.3 7.5-3.4 10.2" stroke="#f700ff"/>
<path d="M292.3 249.4l16-6.6-2.9 8.9-16 7.2z"/>
<path class="s" d="M309.7 242.3l-17.4 7.1-3.3 10.9" stroke="#f700ff"/>
<path d="M274.9 256.2l16.1-6.3-2.9 9.6-16.1 6.6z"/>
<path class="s" d="M292.3 249.4l-17.4 6.8-3.3 11.3" stroke="#f700ff"/>
<path d="M257.6 262.6l16-5.9-2.9 10-16.1 6z"/>
<path class="s" d="M274.9 256.2l-17.3 6.4-3.4 11.5" stroke="#f700ff"/>
<path class="s" d="M538.9 124.9l-3.3-1.2" stroke="#ff0018"/>
<path d="M521.5 135.4l16.2-9.8-2-.7-16 10.1z"/>
<path class="s" d="M538.9 124.9l-17.4 10.5-3.3-.8" stroke="#ff0048"/>
<path d="M504.2 145.5l15.9-9.3-1.7-.4-15.7 9.6z"/>
<path class="s" d="M521.5 135.4l-17.3 10.1-3.4-.2" stroke="#ff0048"/>
<path d="M486.8 155.2l15.6-8.7-1.3-.1-14.9 8.9z"/>
<path class="s" d="M504.2 145.5l-17.4 9.7-3.4 .5" stroke="#ff0060"/>
<path class="s" d="M486.8 155.2l-17.4 9.3-3.4 1.1" stroke="#ff0078"/>
<path class="s" d="M469.4 164.5l-17.4 8.9-3.3 1.8" stroke="#ff008f"/>
<path class="s" d="M452 173.4l-17.4 8.5-3.3 2.6" stroke="#ff008f"/>
<path d="M417.3 190.1l12.9-6.1 .5-.4-14.3 7.4z"/>
<path class="s" d="M434.6 181.9l-17.3 8.2-3.4 3.4" stroke="#ff00a7"/>
<path d="M399.9 198l14.6-6.7-1.2 1.3-15.1 7.6z"/>
<path class="s" d="M417.3 190.1l-17.4 7.9-3.3 4.3" stroke="#ff00a7"/>
<path d="M382.5 205.7l15.3-6.8-2 2.5-15.4 7.5z"/>
<path class="s" d="M399.9 198l-17.4 7.7-3.3 5" stroke="#ff00bf"/>
<path d="M365.2 213.1l15.5-6.6-2.3 3.4-15.6 7.4z"/>
<path class="s" d="M382.5 205.7l-17.3 7.4-3.4 5.9" stroke="#ff00bf"/>
<path d="M347.8 220.4l15.7-6.6-2.5 4.4-15.8 7.3z"/>
<path class="s" d="M365.2 213.1l-17.4 7.3-3.4 6.6" stroke="#ff00bf"/>
<path d="M330.4 227.5l15.8-6.4-2.6 5.1-15.8 7.1z"/>
<path class="s" d="M347.8 220.4l-17.4 7.1-3.4 7.3" stroke="#ff00bf"/>
<path d="M313 234.5l15.9-6.4-2.7 5.9-15.9 6.8z"/>
<path class="s" d="M330.4 227.5l-17.4 7-3.3 7.8" stroke="#ff00d7"/>
<path d="M295.6 241.2l16-6.2-2.8 6.4-15.9 6.6z"/>
<path class="s" d="M313 234.5l-17.4 6.7-3.3 8.2" stroke="#ff00d7"/>
<path d="M278.3 247.7l15.9-6-2.7 6.9-16 6.2z"/>
<path class="s" d="M295.6 241.2l-17.3 6.5-3.4 8.5" stroke="#ff00d7"/>
<path d="M260.9 254.1l16-5.9-2.8 7.1-16 6z"/>
<path class="s" d="M278.3 247.7l-17.4 6.4-3.3 8.5" stroke="#ff00d7"/>
<path class="s" d="M542.2 126l-3.3-1.1" stroke="#ff0018"/>
<path d="M524.9 136l16.1-9.3-2-.6-15.8 9.6z"/>
<path class="s" d="M542.2 126l-17.3 10-3.4-.6" stroke="#ff0030"/>
<path d="M507.5 145.5l15.8-8.7-1.6-.3-15.4 9z"/>
<path class="s" d="M524.9 136l-17.4 9.5-3.3 0" stroke="#ff0048"/>
<path d="M490.1 154.7l15.3-8.1-1 0-14.3 8.1z"/>
<path class="s" d="M507.5 145.5l-17.4 9.2-3.3 .5" stroke="#ff0060"/>
<path class="s" d="M490.1 154.7l-17.3 8.6-3.4 1.2" stroke="#ff0060"/>
<path class="s" d="M472.8 163.3l-17.4 8.2-3.4 1.9" stroke="#ff0078"/>
<path class="s" d="M455.4 171.5l-17.4 7.9-3.4 2.5" stroke="#ff0078"/>
<path d="M420.6 186.9l13.2-5.7 .3-.2-14.3 6.7z"/>
<path class="s" d="M438 179.4l-17.4 7.5-3.3 3.2" stroke="#ff008f"/>
<path d="M403.2 194.2l14.6-6.1-1.1 1.1-15 6.8z"/>
<path class="s" d="M420.6 186.9l-17.4 7.3-3.3 3.8" stroke="#ff008f"/>
<path d="M385.9 201.3l15-6.1-1.7 1.9-15.3 6.7z"/>
<path class="s" d="M403.2 194.2l-17.3 7.1-3.4 4.4" stroke="#ff008f"/>
<path d="M368.5 208.3l15.4-6.2-2.1 2.7-15.5 6.6z"/>
<path class="s" d="M385.9 201.3l-17.4 7-3.3 4.8" stroke="#ff008f"/>
<path d="M351.1 215.1l15.6-6.1-2.3 3.3-15.6 6.5z"/>
<path class="s" d="M368.5 208.3l-17.4 6.8-3.3 5.3" stroke="#ff008f"/>
<path d="M333.8 221.8l15.6-6-2.4 3.7-15.7 6.5z"/>
<path class="s" d="M351.1 215.1l-17.3 6.7-3.4 5.7" stroke="#ff008f"/>
<path d="M316.4 228.4l15.7-6-2.5 4.3-15.7 6.2z"/>
<path class="s" d="M333.8 221.8l-17.4 6.6-3.4 6.1" stroke="#ff00a7"/>
<path d="M299 234.9l15.8-5.9-2.5 4.6-15.9 6.1z"/>
<path class="s" d="M316.4 228.4l-17.4 6.5-3.4 6.3" stroke="#ff00a7"/>
<path d="M281.6 241.3l15.9-5.8-2.6 4.8-15.9 6z"/>
<path class="s" d="M299 234.9l-17.4 6.4-3.3 6.4" stroke="#ff00a7"/>
<path d="M264.2 247.6l15.9-5.8-2.6 5-15.9 5.8z"/>
<path class="s" d="M281.6 241.3l-17.4 6.3-3.3 6.5" stroke="#ff00a7"/>
<path class="s" d="M545.6 127.1l-3.4-1.1" stroke="#ff0018"/>
<path d="M528.2 136.6l16.1-8.8-1.9-.6-15.9 9.1z"/>
<path class="s" d="M545.6 127.1l-17.4 9.5-3.3-.6" stroke="#ff0030"/>
<path d="M510.8 145.7l15.9-8.3-1.6-.3-15.5 8.5z"/>
<path class="s" d="M528.2 136.6l-17.4 9.1-3.3-.2" stroke="#ff0048"/>
<path d="M493.5 154.3l15.3-7.6-1.1-.1-14.6 7.7z"/>
<path class="s" d="M510.8 145.7l-17.3 8.6-3.4 .4" stroke="#ff0048"/>
<path class="s" d="M493.5 154.3l-17.4 8.1-3.3 .9" stroke="#ff0060"/>
<path class="s" d="M476.1 162.4l-17.4 7.7-3.3 1.4" stroke="#ff0060"/>
<path class="s" d="M458.7 170.1l-17.3 7.4-3.4 1.9" stroke="#ff0060"/>
<path class="s" d="M441.4 177.5l-17.4 7.1-3.4 2.3" stroke="#ff0060"/>
<path class="s" d="M424 184.6l-17.4 6.9-3.4 2.7" stroke="#ff0078"/>
<path d="M389.2 198.3l14-5.5-.5 .5-14.5 5.9z"/>
<path class="s" d="M406.6 191.5l-17.4 6.8-3.3 3" stroke="#ff0078"/>
<path d="M371.8 204.9l14.6-5.6-1.1 1.1-14.9 5.9z"/>
<path class="s" d="M389.2 198.3l-17.4 6.6-3.3 3.4" stroke="#ff0078"/>
<path d="M354.5 211.4l14.9-5.6-1.5 1.5-15.1 6z"/>
<path class="s" d="M371.8 204.9l-17.3 6.5-3.4 3.7" stroke="#ff0078"/>
<path d="M337.1 217.9l15.1-5.6-1.7 1.9-15.2 5.8z"/>
<path class="s" d="M354.5 211.4l-17.4 6.5-3.3 3.9" stroke="#ff0078"/>
<path d="M319.7 224.3l15.3-5.6-1.9 2.2-15.3 5.8z"/>
<path class="s" d="M337.1 217.9l-17.4 6.4-3.3 4.1" stroke="#ff0078"/>
<path d="M302.3 230.7l15.4-5.6-2 2.4-15.4 5.7z"/>
<path class="s" d="M319.7 224.3l-17.4 6.4-3.3 4.2" stroke="#ff0078"/>
<path d="M285 237l15.4-5.6-2.1 2.6-15.4 5.6z"/>
<path class="s" d="M302.3 230.7l-17.3 6.3-3.4 4.3" stroke="#ff0078"/>
<path d="M267.6 243.3l15.4-5.6-2 2.7-15.5 5.5z"/>
<path class="s" d="M285 237l-17.4 6.3-3.4 4.3" stroke="#ff0078"/>
<path class="s" d="M549 128.4l-3.4-1.3" stroke="#ff0018"/>
<path d="M531.6 137.6l16.1-8.5-2-.8-16 8.7z"/>
<path class="s" d="M549 128.4l-17.4 9.2-3.4-1" stroke="#ff0030"/>
<path d="M514.2 146.2l15.9-7.9-1.8-.5-15.6 8.2z"/>
<path class="s" d="M531.6 137.6l-17.4 8.6-3.4-.5" stroke="#ff0030"/>
<path d="M496.8 154.4l15.6-7.3-1.4-.3-15.2 7.6z"/>
<path class="s" d="M514.2 146.2l-17.4 8.2-3.3-.1" stroke="#ff0048"/>
<path d="M479.4 162.1l15.1-6.7-.8 0-14.4 6.7z"/>
<path class="s" d="M496.8 154.4l-17.4 7.7-3.3 .3" stroke="#ff0048"/>
<path class="s" d="M479.4 162.1l-17.3 7.3-3.4 .7" stroke="#ff0048"/>
<path class="s" d="M462.1 169.4l-17.4 7-3.3 1.1" stroke="#ff0048"/>
<path class="s" d="M444.7 176.4l-17.4 6.8-3.3 1.4" stroke="#ff0060"/>
<path class="s" d="M427.3 183.2l-17.3 6.6-3.4 1.7" stroke="#ff0060"/>
<path class="s" d="M410 189.8l-17.4 6.5-3.4 2" stroke="#ff0060"/>
<path class="s" d="M392.6 196.3l-17.4 6.5-3.4 2.1" stroke="#ff0060"/>
<path class="s" d="M375.2 202.8l-17.4 6.3-3.3 2.3" stroke="#ff0060"/>
<path class="s" d="M357.8 209.1l-17.4 6.4-3.3 2.4" stroke="#ff0060"/>
<path d="M323.1 221.8l13.7-5-.2 .1-13.9 5.2z"/>
<path class="s" d="M340.4 215.5l-17.3 6.3-3.4 2.5" stroke="#ff0060"/>
<path d="M305.7 228l14-5-.5 .4-14.1 5.1z"/>
<path class="s" d="M323.1 221.8l-17.4 6.2-3.4 2.7" stroke="#ff0060"/>
<path d="M288.3 234.3l14.2-5.1-.7 .5-14.2 5.2z"/>
<path class="s" d="M305.7 228l-17.4 6.3-3.3 2.7" stroke="#ff0060"/>
<path d="M271 240.5l14.2-5.1-.8 .6-14.2 5.2z"/>
<path class="s" d="M288.3 234.3l-17.3 6.2-3.4 2.8" stroke="#ff0060"/>
<path class="s" d="M552.3 130.1l-3.3-1.7" stroke="#ff0018"/>
<path d="M534.9 138.9l16.2-8.2-2.1-1-16.1 8.4z"/>
<path class="s" d="M552.3 130.1l-17.4 8.8-3.3-1.3" stroke="#ff0018"/>
<path d="M517.6 147.3l16-7.7-2-.8-15.9 7.9z"/>
<path class="s" d="M534.9 138.9l-17.3 8.4-3.4-1.1" stroke="#ff0030"/>
<path d="M500.2 155.1l15.9-7.1-1.8-.6-15.7 7.4z"/>
<path class="s" d="M517.6 147.3l-17.4 7.8-3.4-.7" stroke="#ff0030"/>
<path d="M482.8 162.5l15.6-6.6-1.5-.4-15.3 6.8z"/>
<path class="s" d="M500.2 155.1l-17.4 7.4-3.4-.4" stroke="#ff0048"/>
<path d="M465.4 169.5l15.3-6.2-1.1-.1-14.8 6.3z"/>
<path class="s" d="M482.8 162.5l-17.4 7-3.3-.1" stroke="#ff0048"/>
<path d="M448 176.2l14.7-5.7-.4 0-14.1 5.7z"/>
<path class="s" d="M465.4 169.5l-17.4 6.7-3.3 .2" stroke="#ff0048"/>
<path class="s" d="M448 176.2l-17.3 6.5-3.4 .5" stroke="#ff0048"/>
<path class="s" d="M430.7 182.7l-17.4 6.4-3.3 .7" stroke="#ff0048"/>
<path class="s" d="M413.3 189.1l-17.4 6.3-3.3 .9" stroke="#ff0048"/>
<path d="M378.6 201.7l4.5-1.7 9.8-2.6 5.7-2.1z"/>
<path class="s" d="M395.9 195.4l-17.3 6.3-3.4 1.1" stroke="#ff0048"/>
<path class="s" d="M378.6 201.7l-17.4 6.2-3.4 1.2" stroke="#ff0048"/>
<path class="s" d="M361.2 207.9l-17.4 6.3-3.4 1.3" stroke="#ff0048"/>
<path class="s" d="M343.8 214.2l-17.4 6.2-3.3 1.4" stroke="#ff0048"/>
<path d="M309 226.6l-2.7 1 16.4-6.9-1.1 .4z"/>
<path class="s" d="M326.4 220.4l-17.4 6.2-3.3 1.4" stroke="#ff0048"/>
<path class="s" d="M309 226.6l-17.3 6.2-3.4 1.5" stroke="#ff0048"/>
<path class="s" d="M291.7 232.8l-17.4 6.2-3.3 1.5" stroke="#ff0048"/>
<path class="s" d="M555.7 132.1l-3.4-2" stroke="#ff0018"/>
<path d="M538.3 140.8l16.2-8.1-2.2-1.4-16.2 8.3z"/>
<path class="s" d="M555.7 132.1l-17.4 8.7-3.4-1.9" stroke="#ff0018"/>
<path d="M520.9 148.9l16.1-7.5-2.1-1.2-16.1 7.7z"/>
<path class="s" d="M538.3 140.8l-17.4 8.1-3.3-1.6" stroke="#ff0030"/>
<path d="M503.5 156.5l16.1-7-2.1-1-15.9 7.2z"/>
<path class="s" d="M520.9 148.9l-17.4 7.6-3.3-1.4" stroke="#ff0030"/>
<path d="M486.2 163.5l15.9-6.4-1.9-.8-15.8 6.7z"/>
<path class="s" d="M503.5 156.5l-17.3 7-3.4-1" stroke="#ff0030"/>
<path d="M468.8 170.2l15.7-6-1.7-.6-15.5 6.3z"/>
<path class="s" d="M486.2 163.5l-17.4 6.7-3.4-.7" stroke="#ff0030"/>
<path d="M451.4 176.7l15.5-5.8-1.4-.3-15.3 5.9z"/>
<path class="s" d="M468.8 170.2l-17.4 6.5-3.4-.5" stroke="#ff0048"/>
<path d="M434 183l15.2-5.5-1-.2-15 5.6z"/>
<path class="s" d="M451.4 176.7l-17.4 6.3-3.3-.3" stroke="#ff0048"/>
<path d="M416.6 189.2l14.9-5.3-.7-.1-14.6 5.4z"/>
<path class="s" d="M434 183l-17.4 6.2-3.3-.1" stroke="#ff0048"/>
<path d="M399.3 195.4l14.5-5.2-.3 0-14.2 5.2z"/>
<path class="s" d="M416.6 189.2l-17.3 6.2-3.4 0" stroke="#ff0048"/>
<path class="s" d="M399.3 195.4l-17.4 6.1-3.3 .2" stroke="#ff0048"/>
<path class="s" d="M381.9 201.5l-17.4 6.1-3.3 .3" stroke="#ff0030"/>
<path class="s" d="M364.5 207.6l-17.3 6.2-3.4 .4" stroke="#ff0030"/>
<path class="s" d="M347.2 213.8l-17.4 6.1-3.4 .5" stroke="#ff0030"/>
<path class="s" d="M329.8 219.9l-17.4 6.2-3.4 .5" stroke="#ff0030"/>
<path class="s" d="M312.4 226.1l-17.4 6.2-3.3 .5" stroke="#ff0030"/>
<path class="s" d="M295 232.3l-17.4 6.2-3.3 .5" stroke="#ff0030"/>
<path class="s" d="M559 134.4l-3.3-2.3" stroke="#ff0018"/>
<path d="M541.6 143l16.3-8.1-2.3-1.5-16.3 8.1z"/>
<path class="s" d="M559 134.4l-17.4 8.6-3.3-2.2" stroke="#ff0018"/>
<path d="M524.2 150.9l16.2-7.3-2.2-1.5-16.2 7.5z"/>
<path class="s" d="M541.6 143l-17.4 7.9-3.3-2" stroke="#ff0030"/>
<path d="M506.9 158.2l16.1-6.7-2.2-1.3-16 6.9z"/>
<path class="s" d="M524.2 150.9l-17.3 7.3-3.4-1.7" stroke="#ff0030"/>
<path d="M489.5 165l16-6.3-2-1-15.9 6.4z"/>
<path class="s" d="M506.9 158.2l-17.4 6.8-3.3-1.5" stroke="#ff0030"/>
<path d="M472.1 171.4l15.9-5.9-1.9-.8-15.7 6.1z"/>
<path class="s" d="M489.5 165l-17.4 6.4-3.3-1.2" stroke="#ff0030"/>
<path d="M454.8 177.7l15.7-5.7-1.7-.6-15.6 5.8z"/>
<path class="s" d="M472.1 171.4l-17.3 6.3-3.4-1" stroke="#ff0030"/>
<path d="M437.4 183.8l15.6-5.5-1.6-.4-15.4 5.6z"/>
<path class="s" d="M454.8 177.7l-17.4 6.1-3.4-.8" stroke="#ff0030"/>
<path d="M420 189.8l15.4-5.3-1.3-.4-15.3 5.5z"/>
<path class="s" d="M437.4 183.8l-17.4 6-3.4-.6" stroke="#ff0030"/>
<path d="M402.6 195.9l15.3-5.3-1.2-.3-15.1 5.4z"/>
<path class="s" d="M420 189.8l-17.4 6.1-3.3-.5" stroke="#ff0030"/>
<path d="M385.2 201.9l15.2-5.3-1-.1-15 5.3z"/>
<path class="s" d="M402.6 195.9l-17.4 6-3.3-.4" stroke="#ff0030"/>
<path d="M367.9 208l15-5.3-.9-.1-14.9 5.3z"/>
<path class="s" d="M385.2 201.9l-17.3 6.1-3.4-.4" stroke="#ff0030"/>
<path d="M350.5 214.1l14.9-5.3-.7 0-14.9 5.2z"/>
<path class="s" d="M367.9 208l-17.4 6.1-3.3-.3" stroke="#ff0030"/>
<path d="M333.1 220.2l14.8-5.3-.6 0-14.8 5.2z"/>
<path class="s" d="M350.5 214.1l-17.4 6.1-3.3-.3" stroke="#ff0030"/>
<path d="M315.8 226.3l14.7-5.2-.6 0-14.7 5.2z"/>
<path class="s" d="M333.1 220.2l-17.3 6.1-3.4-.2" stroke="#ff0030"/>
<path d="M298.4 232.5l14.7-5.2-.5-.1-14.7 5.3z"/>
<path class="s" d="M315.8 226.3l-17.4 6.2-3.4-.2" stroke="#ff0030"/>
<path d="M281 238.7l14.7-5.3-.5 0-14.7 5.3z"/>
<path class="s" d="M298.4 232.5l-17.4 6.2-3.4-.2" stroke="#ff0030"/>
<path class="s" d="M562.4 136.8l-3.4-2.4" stroke="#ff0018"/>
<path d="M545 145.4l16.2-8-2.3-1.7-16.3 8.1z"/>
<path class="s" d="M562.4 136.8l-17.4 8.6-3.4-2.4" stroke="#ff0018"/>
<path d="M527.6 153.1l16.2-7.1-2.3-1.7-16.2 7.4z"/>
<path class="s" d="M545 145.4l-17.4 7.7-3.4-2.2" stroke="#ff0030"/>
<path d="M510.2 160.1l16.2-6.5-2.3-1.4-16 6.7z"/>
<path class="s" d="M527.6 153.1l-17.4 7-3.3-1.9" stroke="#ff0030"/>
<path d="M492.8 166.6l16.1-6-2.1-1.2-15.9 6.2z"/>
<path class="s" d="M510.2 160.1l-17.4 6.5-3.3-1.6" stroke="#ff0030"/>
<path d="M475.5 172.8l15.9-5.7-2-.9-15.8 5.8z"/>
<path class="s" d="M492.8 166.6l-17.3 6.2-3.4-1.4" stroke="#ff0030"/>
<path d="M458.1 178.8l15.8-5.5-1.8-.7-15.7 5.6z"/>
<path class="s" d="M475.5 172.8l-17.4 6-3.3-1.1" stroke="#ff0030"/>
<path d="M440.7 184.8l15.7-5.4-1.6-.6-15.6 5.5z"/>
<path class="s" d="M458.1 178.8l-17.4 6-3.3-1" stroke="#ff0030"/>
<path d="M423.4 190.7l15.5-5.3-1.5-.5-15.5 5.4z"/>
<path class="s" d="M440.7 184.8l-17.3 5.9-3.4-.9" stroke="#ff0030"/>
<path d="M406 196.7l15.5-5.3-1.5-.4-15.4 5.3z"/>
<path class="s" d="M423.4 190.7l-17.4 6-3.4-.8" stroke="#ff0030"/>
<path d="M388.6 202.6l15.4-5.3-1.3-.3-15.4 5.4z"/>
<path class="s" d="M406 196.7l-17.4 5.9-3.4-.7" stroke="#ff0030"/>
<path d="M371.2 208.7l15.4-5.4-1.3-.3-15.3 5.4z"/>
<path class="s" d="M388.6 202.6l-17.4 6.1-3.3-.7" stroke="#ff0030"/>
<path d="M353.8 214.7l15.4-5.3-1.2-.3-15.4 5.4z"/>
<path class="s" d="M371.2 208.7l-17.4 6-3.3-.6" stroke="#ff0030"/>
<path d="M336.5 220.8l15.3-5.4-1.2-.2-15.3 5.4z"/>
<path class="s" d="M353.8 214.7l-17.3 6.1-3.4-.6" stroke="#ff0030"/>
<path d="M319.1 226.9l15.3-5.4-1.2-.2-15.3 5.4z"/>
<path class="s" d="M336.5 220.8l-17.4 6.1-3.3-.6" stroke="#ff0030"/>
<path d="M301.7 233.1l15.3-5.4-1.2-.3-15.2 5.5z"/>
<path class="s" d="M319.1 226.9l-17.4 6.2-3.3-.6" stroke="#ff0030"/>
<path d="M284.3 239.3l15.3-5.5-1.1-.2-15.3 5.5z"/>
<path class="s" d="M301.7 233.1l-17.4 6.2-3.3-.6" stroke="#ff0030"/>
<path class="s" d="M565.7 139.4l-3.3-2.6" stroke="#ff0018"/>
<path d="M548.3 147.9l16.3-7.9-2.4-1.9-16.2 8.1z"/>
<path class="s" d="M565.7 139.4l-17.4 8.5-3.3-2.5" stroke="#ff0030"/>
<path d="M531 155.4l16.2-7-2.4-1.7-16.1 7.2z"/>
<path class="s" d="M548.3 147.9l-17.3 7.5-3.4-2.3" stroke="#ff0030"/>
<path d="M513.6 162l16.1-6.2-2.2-1.4-16.1 6.4z"/>
<path class="s" d="M531 155.4l-17.4 6.6-3.4-1.9" stroke="#ff0030"/>
<path d="M496.2 168.2l16-5.7-2.1-1.2-15.9 6z"/>
<path class="s" d="M513.6 162l-17.4 6.2-3.4-1.6" stroke="#ff0030"/>
<path d="M478.8 174.2l15.9-5.5-1.9-.9-15.8 5.6z"/>
<path class="s" d="M496.2 168.2l-17.4 6-3.3-1.4" stroke="#ff0030"/>
<path d="M461.4 180.1l15.8-5.4-1.8-.7-15.7 5.4z"/>
<path class="s" d="M478.8 174.2l-17.4 5.9-3.3-1.3" stroke="#ff0030"/>
<path d="M444.1 185.9l15.7-5.3-1.7-.6-15.6 5.4z"/>
<path class="s" d="M461.4 180.1l-17.3 5.8-3.4-1.1" stroke="#ff0030"/>
<path d="M426.7 191.7l15.6-5.2-1.6-.6-15.5 5.4z"/>
<path class="s" d="M444.1 185.9l-17.4 5.8-3.3-1" stroke="#ff0030"/>
<path d="M409.3 197.6l15.6-5.3-1.5-.4-15.6 5.3z"/>
<path class="s" d="M426.7 191.7l-17.4 5.9-3.3-.9" stroke="#ff0030"/>
<path d="M392 203.6l15.5-5.3-1.5-.5-15.5 5.4z"/>
<path class="s" d="M409.3 197.6l-17.3 6-3.4-1" stroke="#ff0030"/>
<path d="M374.6 209.5l15.5-5.3-1.5-.4-15.5 5.4z"/>
<path class="s" d="M392 203.6l-17.4 5.9-3.4-.8" stroke="#ff0018"/>
<path d="M357.2 215.6l15.5-5.4-1.4-.4-15.5 5.4z"/>
<path class="s" d="M374.6 209.5l-17.4 6.1-3.4-.9" stroke="#ff0018"/>
<path d="M339.8 221.6l15.5-5.4-1.4-.3-15.5 5.4z"/>
<path class="s" d="M357.2 215.6l-17.4 6-3.3-.8" stroke="#ff0018"/>
<path d="M322.4 227.8l15.6-5.5-1.5-.4-15.5 5.5z"/>
<path class="s" d="M339.8 221.6l-17.4 6.2-3.3-.9" stroke="#ff0018"/>
<path d="M305.1 233.9l15.5-5.5-1.4-.3-15.5 5.5z"/>
<path class="s" d="M322.4 227.8l-17.3 6.1-3.4-.8" stroke="#ff0018"/>
<path d="M287.7 240.1l15.5-5.5-1.4-.4-15.5 5.6z"/>
<path class="s" d="M305.1 233.9l-17.4 6.2-3.4-.8" stroke="#ff0018"/>
</g>
<path stroke="#262626" stroke-width="1.2" fill="none" d="M73.3 390.1L73.3 107M73.3 390.1L287.7 519.9M287.7 519.9L565.7 420.3M287.7 519.9L293.9 523.7M357.2 495L363.4 498.8M426.7 470.1L432.9 473.9M496.2 445.2L502.4 449M565.7 420.3L571.9 424.1M247.5 495.6L240 498.3M180.5 455L173 457.7M113.5 414.5L106 417.2M73.3 149.7L65.6 145.1M73.3 197.8L65.6 193.2M73.3 245.9L65.6 241.2M73.3 294L65.6 289.3M73.3 342.1L65.6 337.4M73.3 390.1L65.6 385.5"/>
<g class="tk"><text x="299.9" y="548.8">0</text><text x="369.4" y="523.9">20</text><text x="438.9" y="499">40</text><text x="508.4" y="474.1">60</text><text x="577.9" y="449.2">80</text><text x="233.5" y="520.9" text-anchor="end">5</text><text x="166.5" y="480.3" text-anchor="end">10</text><text x="99.5" y="439.8" text-anchor="end">15</text><text x="60" y="150.1" text-anchor="end">-10</text><text x="60" y="198.2" text-anchor="end">-20</text><text x="60" y="246.3" text-anchor="end">-30</text><text x="60" y="294.4" text-anchor="end">-40</text><text x="60" y="342.5" text-anchor="end">-50</text><text x="60" y="390.5" text-anchor="end">-60</text></g>
<path stroke="#000" stroke-opacity=".13" stroke-width="1.2" fill="none" d="M288.5 1172.8L74.1 1043M74.1 1043L74.1 759.8M358 1147.9L143.6 1018.1M143.6 1018.1L143.6 734.9M427.5 1123L213.1 993.2M213.1 993.2L213.1 710M497 1098.1L282.6 968.3M282.6 968.3L282.6 685.1M566.5 1073.2L352.1 943.4M352.1 943.4L352.1 660.2M248.3 1148.5L526.3 1048.9M526.3 1048.9L526.3 765.6M181.3 1107.9L459.3 1008.3M459.3 1008.3L459.3 725M114.3 1067.4L392.3 967.8M392.3 967.8L392.3 684.5M74.1 829.1L352.1 729.5M352.1 729.5L566.5 859.3M74.1 900.4L352.1 800.8M352.1 800.8L566.5 930.6M74.1 971.7L352.1 872.1M352.1 872.1L566.5 1001.9M74.1 1043L352.1 943.4M352.1 943.4L566.5 1073.2M352.1 943.4L352.1 660.2M566.5 1073.2L352.1 943.4"/>
<g fill="none" stroke-width="2.7" stroke-linejoin="round" stroke-linecap="round">
<path d="M244.8 1146.3l17.1-6.3 17.1-6.5 17.7-5.9 4.2-1.2-3.6 1.5-17.1 6.4-17.6 6.1-17.5 6.1" stroke="#ff4800"/>
<path d="M242.6 1145l17.3-6.3 17.3-6.2 17.6-6.1 18.7-5.4 7.2-1.7-5.7 2.6-16.4 6.8-17.2 6.3-17.5 6.2-17.4 6.2" stroke="#dfff00"/>
<path d="M239.4 1143.1l17.4-6.2 17.5-6.2 17.8-5.9 18.3-5.7 7.2-1.9 12.1-3.2 12.7-2.5-9.3 4.6-16.2 6.9-17 6.5-17.2 6.3-17.4 6.2-17.4 6.2" stroke="#20ff00"/>
<path d="M235.4 1140.6l17.4-6.2 17.5-6.1 17.6-6.1 17.9-5.9 18.3-5.6 11.5-3.2 7.8-1.9 14.5-2.9 7.3-.7 4.6-.3-2.6 1.6-14.9 7.7-3 1.3-13.2 5.6-16.8 6.6-17.1 6.4-17.3 6.3-17.3 6.2-17.4 6.2" stroke="#00ffb7"/>
<path d="M136.2 1080.6l17.6-6.1 18-5.8 10.5-3.1 8.6-2.1 11.7-2 4.3 1.7-3.6 4.6-2.4 1.7-10 5.9-4.2 2.3-15.8 7.2-16.9 6.5" stroke="#00ffb7"/>
<path d="M216.6 1129.3l17.6-6.1 18.3-5.7 4.7-1.3 13.9-4.1 19.1-5.2 6.2-1.5 13.8-3.2 9.1-1.8 12.4-1.9 2.7-.2 13.9-1.8 5.7-1.2 13.3-2.4 7.7-1.7 12-2.1 10.9-.8 .3 0 7 .7-2.6 2.2-5.4 3.9-7.7 4.9-8.3 4.1-7.5 3.1-16.7 6.6-17.1 6.4-17.2 6.4-17.3 6.2-17.3 6.3-17.4 6.2-17.4 6.2" stroke="#0070ff"/>
<path d="M116.7 1068.8l17.4-6.2 17.4-6.2 17.5-6.1 17.7-6 11.3-3.7 6.7-2.2 18.6-5.5 15.8-3.8 4.1-.9 12.7-1.9 10.4-.9 1 .1 7.3 .6 5.3 1.3 3.6 2 2.1 2.4 1 2.9 0 3 0 .2-1 3.6-1.8 3.9-2.3 4-.9 1.4-2.6 3.1-4.5 4.8-2.8 2.9-3.3 2.6-8.3 6.2-.7 .5-11.7 7.1-2.1 1.3-14.8 7.8-2.4 1.1-13.1 6.2-16.3 6.9-17 6.4" stroke="#0070ff"/>
<path d="M235.1 985.4l6.2 1 6.5 .9 6.8 .8 6.1 .5 1.1 .1 6.8 .8 7.3 .6 7.7 .5 7.8 .4 1.1 0 6.1 .6 6.9 .8 6.4 .9 5.8 1.2 5.1 1.4 4.5 1.6 3.8 1.9 3.4 2 2.8 2.2 2.5 2.4 2.1 2.4 1.9 2.6 1.6 2.6 1.4 2.8 1.2 2.7 1.1 2.9 .9 2.9 .4 1.2 .4 1.7 .7 3 .6 3 .6 3 .6 3 .7 3 .7 2.7 .1 .3 .9 2.9 1.3 2.7 1.7 2.6 2.2 2.5 2.6 2.3 3.1 2.1 3.5 2 4 1.8 4.9 1.4 6.2 1.1 5.8 .3 1.9 .1 8.2 .3 7.2 .7 5.7 1.1 5.9 1.1 4.6 .2 3.5 .2 9.7-.3 7 .7 4.5 1.7-2.7 4.1 .4 3.1-3.3 2-15 7.7-1.1 .5-14.7 6.6-16.5 6.8-16.7 6.6-17 6.5-3.1 1.1-14.1 5.2-17.2 6.4-17.3 6.2-17.3 6.3-17.4 6.2-17.3 6.3" stroke="#6800ff"/>
<path d="M321 954.6l4.7 1.5 4.6 1.6 4.6 1.6 4.6 1.6 4.6 1.6 4.5 1.6 4.6 1.6 4.5 1.6 4.4 1.6 4.3 1.7 4.1 1.7 3.9 1.9 3.7 1.9 3.4 2 3.3 2 3.1 2.2 2.9 2.2 2.7 2.2 2.7 2.3 2.6 2.3 2.5 2.3 2.5 2.3 2.4 2.4 2.4 2.4 2.4 2.3 2.4 2.4 2.4 2.4 2.4 2.3 2.5 2.4 2.6 2.3 2.6 2.3 2.7 2.2 2.7 2.3 2.8 2.2 2.8 2.2 2.9 2.2 2.9 2.2 3.1 2.1 3.2 2.1 3.4 2 3.6 1.9 4.2 1.8 4.6 1.5 4.9 1.5 4.5 1.7 3.9 1.8 4 1.8 4.9 1.4 5.7 1.2 4.8 1.5 3.5 2 .6 3 3.5 2-1.8 3.9-3.2 2.9-3.5 2.7-10.5 5.6-12.5 5.9-3 1.4-16 7.1-16.4 6.8-12.7 5.1-3.8 1.6-16.5 6.8-16.7 6.6-16.9 6.5-17.1 6.5-17.1 6.3-17.2 6.4-17.3 6.3-17.3 6.2-17.3 6.3" stroke="#ff00d7"/>
</g>
<g class="m">
<path class="s" d="M355.4 679.8l-3.3-2.5" stroke="#ff0078"/>
<path class="s" d="M334.7 692.9l17.4-15.6" stroke="#ff00a7"/>
<path d="M338.1 695.5l16.5-15-2.4-1.7-16.6 14.8z"/>
<path class="s" d="M355.4 679.8l-17.3 15.7-3.4-2.6" stroke="#ff00a7"/>
<path class="s" d="M317.4 708.3l17.3-15.4" stroke="#ff00d7"/>
<path d="M320.7 711l16.5-14.7-2.4-1.9-16.6 14.6z"/>
<path class="s" d="M338.1 695.5l-17.4 15.5-3.3-2.7" stroke="#ff00d7"/>
<path class="s" d="M300 723.1l17.4-14.8" stroke="#f700ff"/>
<path d="M303.3 726l16.6-14.3-2.5-2-16.6 14.2z"/>
<path class="s" d="M320.7 711l-17.4 15-3.3-2.9" stroke="#df00ff"/>
<path class="s" d="M282.6 737.4l17.4-14.3" stroke="#c700ff"/>
<path d="M286 740.3l16.5-13.6-2.5-2.1-16.6 13.5z"/>
<path class="s" d="M303.3 726l-17.3 14.3-3.4-2.9" stroke="#af00ff"/>
<path class="s" d="M265.2 750.8l17.4-13.4" stroke="#9700ff"/>
<path d="M268.6 753.7l16.5-12.7-2.5-2.2-16.5 12.7z"/>
<path class="s" d="M286 740.3l-17.4 13.4-3.4-2.9" stroke="#9700ff"/>
<path class="s" d="M247.8 763.2l17.4-12.4" stroke="#6800ff"/>
<path d="M251.2 766.1l16.5-11.7-2.5-2.2-16.5 11.7z"/>
<path class="s" d="M268.6 753.7l-17.4 12.4-3.4-2.9" stroke="#6800ff"/>
<path class="s" d="M230.5 774.5l17.3-11.3" stroke="#5000ff"/>
<path d="M233.8 777.3l16.4-10.6-2.4-2.2-16.4 10.7z"/>
<path class="s" d="M251.2 766.1l-17.4 11.2-3.3-2.8" stroke="#5000ff"/>
<path class="s" d="M213.1 784.7l17.4-10.2" stroke="#3800ff"/>
<path d="M216.4 787.4l16.4-9.5-2.4-2.1-16.4 9.7z"/>
<path class="s" d="M233.8 777.3l-17.4 10.1-3.3-2.7" stroke="#3800ff"/>
<path class="s" d="M195.7 794.1l17.4-9.4" stroke="#2000ff"/>
<path d="M199.1 796.7l16.3-8.7-2.4-2-16.3 8.8z"/>
<path class="s" d="M216.4 787.4l-17.3 9.3-3.4-2.6" stroke="#2000ff"/>
<path class="s" d="M178.4 802.7l17.3-8.6" stroke="#2000ff"/>
<path d="M181.7 805.2l16.3-8-2.4-1.8-16.3 8z"/>
<path class="s" d="M199.1 796.7l-17.4 8.5-3.3-2.5" stroke="#2000ff"/>
<path class="s" d="M161 810.8l17.4-8.1" stroke="#0800ff"/>
<path d="M164.3 813.1l16.3-7.4-2.4-1.7-16.2 7.5z"/>
<path class="s" d="M181.7 805.2l-17.4 7.9-3.3-2.3" stroke="#0800ff"/>
<path class="s" d="M143.6 818.4l17.4-7.6" stroke="#0800ff"/>
<path d="M147 820.6l16.1-7-2.3-1.6-16.1 7.1z"/>
<path class="s" d="M164.3 813.1l-17.3 7.5-3.4-2.2" stroke="#0800ff"/>
<path class="s" d="M126.2 825.7l17.4-7.3" stroke="#0800ff"/>
<path d="M129.6 827.8l16.1-6.7-2.2-1.5-16.2 6.8z"/>
<path class="s" d="M147 820.6l-17.4 7.2-3.4-2.1" stroke="#0800ff"/>
<path class="s" d="M108.8 832.6l17.4-6.9" stroke="#0800ff"/>
<path d="M112.2 834.7l16.1-6.4-2.2-1.4-16.1 6.5z"/>
<path class="s" d="M129.6 827.8l-17.4 6.9-3.4-2.1" stroke="#0800ff"/>
<path class="s" d="M91.5 839.3l17.3-6.7" stroke="#0800ff"/>
<path d="M94.8 841.4l16.1-6.2-2.2-1.3-16 6.1z"/>
<path class="s" d="M112.2 834.7l-17.4 6.7-3.3-2.1" stroke="#0800ff"/>
<path class="s" d="M74.1 845.7l17.4-6.4" stroke="#0010ff"/>
<path d="M77.4 847.7l16.1-5.9-2.1-1.3-16.1 5.9z"/>
<path class="s" d="M94.8 841.4l-17.4 6.3-3.3-2" stroke="#0010ff"/>
<path class="s" d="M358.8 682.2l-3.4-2.4" stroke="#ff0078"/>
<path d="M341.4 698.2l16.6-15.2-2.5-1.8-16.5 15z"/>
<path class="s" d="M358.8 682.2l-17.4 16-3.3-2.7" stroke="#ff00a7"/>
<path d="M324 713.8l16.6-14.9-2.5-1.9-16.5 14.7z"/>
<path class="s" d="M341.4 698.2l-17.4 15.6-3.3-2.8" stroke="#ff00ef"/>
<path d="M306.7 728.9l16.5-14.4-2.5-2.1-16.5 14.3z"/>
<path class="s" d="M324 713.8l-17.3 15.1-3.4-2.9" stroke="#df00ff"/>
<path d="M289.3 743.3l16.5-13.7-2.5-2.2-16.5 13.6z"/>
<path class="s" d="M306.7 728.9l-17.4 14.4-3.3-3" stroke="#af00ff"/>
<path d="M271.9 756.7l16.5-12.8-2.5-2.2-16.5 12.8z"/>
<path class="s" d="M289.3 743.3l-17.4 13.4-3.3-3" stroke="#8000ff"/>
<path d="M254.6 769l16.4-11.7-2.5-2.2-16.5 11.7z"/>
<path class="s" d="M271.9 756.7l-17.3 12.3-3.4-2.9" stroke="#6800ff"/>
<path d="M237.2 780.2l16.4-10.6-2.5-2.2-16.4 10.6z"/>
<path class="s" d="M254.6 769l-17.4 11.2-3.4-2.9" stroke="#5000ff"/>
<path d="M219.8 790.2l16.4-9.4-2.5-2.2-16.3 9.6z"/>
<path class="s" d="M237.2 780.2l-17.4 10-3.4-2.8" stroke="#3800ff"/>
<path d="M202.4 799.3l16.3-8.5-2.4-2-16.3 8.6z"/>
<path class="s" d="M219.8 790.2l-17.4 9.1-3.3-2.6" stroke="#2000ff"/>
<path d="M185 807.7l16.3-7.8-2.4-1.9-16.2 7.9z"/>
<path class="s" d="M202.4 799.3l-17.4 8.4-3.3-2.5" stroke="#2000ff"/>
<path d="M167.7 815.5l16.2-7.3-2.3-1.8-16.2 7.5z"/>
<path class="s" d="M185 807.7l-17.3 7.8-3.4-2.4" stroke="#0800ff"/>
<path d="M150.3 823l16.2-7-2.3-1.6-16.2 7z"/>
<path class="s" d="M167.7 815.5l-17.4 7.5-3.3-2.4" stroke="#0800ff"/>
<path d="M132.9 830l16.2-6.6-2.3-1.5-16.1 6.7z"/>
<path class="s" d="M150.3 823l-17.4 7-3.3-2.2" stroke="#0800ff"/>
<path d="M115.5 836.9l16.2-6.4-2.3-1.4-16.1 6.4z"/>
<path class="s" d="M132.9 830l-17.4 6.9-3.3-2.2" stroke="#0800ff"/>
<path d="M98.2 843.5l16.1-6.1-2.2-1.4-16.1 6.1z"/>
<path class="s" d="M115.5 836.9l-17.3 6.6-3.4-2.1" stroke="#0010ff"/>
<path d="M80.8 849.8l16.1-5.9-2.2-1.3-16.1 5.8z"/>
<path class="s" d="M98.2 843.5l-17.4 6.3-3.4-2.1" stroke="#0010ff"/>
<path class="s" d="M362.2 684.6l-3.4-2.4" stroke="#ff0078"/>
<path d="M344.8 700.8l16.5-15.4-2.4-1.8-16.6 15.2z"/>
<path class="s" d="M362.2 684.6l-17.4 16.2-3.4-2.6" stroke="#ff00bf"/>
<path d="M327.4 716.5l16.5-15-2.4-1.9-16.6 14.9z"/>
<path class="s" d="M344.8 700.8l-17.4 15.7-3.4-2.7" stroke="#ff00ef"/>
<path d="M310 731.8l16.6-14.5-2.5-2.1-16.6 14.4z"/>
<path class="s" d="M327.4 716.5l-17.4 15.3-3.3-2.9" stroke="#df00ff"/>
<path d="M292.6 746.3l16.6-13.8-2.5-2.2-16.6 13.7z"/>
<path class="s" d="M310 731.8l-17.4 14.5-3.3-3" stroke="#af00ff"/>
<path d="M275.3 759.7l16.5-12.8-2.6-2.2-16.4 12.7z"/>
<path class="s" d="M292.6 746.3l-17.3 13.4-3.4-3" stroke="#8000ff"/>
<path d="M257.9 772l16.5-11.6-2.6-2.3-16.4 11.7z"/>
<path class="s" d="M275.3 759.7l-17.4 12.3-3.3-3" stroke="#6800ff"/>
<path d="M240.5 783.1l16.4-10.4-2.5-2.3-16.4 10.5z"/>
<path class="s" d="M257.9 772l-17.4 11.1-3.3-2.9" stroke="#5000ff"/>
<path d="M223.2 793.1l16.3-9.4-2.5-2.2-16.3 9.5z"/>
<path class="s" d="M240.5 783.1l-17.3 10-3.4-2.9" stroke="#3800ff"/>
<path d="M205.8 802.1l16.3-8.4-2.5-2.2-16.3 8.6z"/>
<path class="s" d="M223.2 793.1l-17.4 9-3.4-2.8" stroke="#2000ff"/>
<path d="M188.4 810.4l16.3-7.8-2.4-2-16.3 7.9z"/>
<path class="s" d="M205.8 802.1l-17.4 8.3-3.4-2.7" stroke="#0800ff"/>
<path d="M171 818.1l16.3-7.2-2.4-1.9-16.2 7.3z"/>
<path class="s" d="M188.4 810.4l-17.4 7.7-3.3-2.6" stroke="#0800ff"/>
<path d="M153.6 825.4l16.3-6.8-2.4-1.8-16.2 6.9z"/>
<path class="s" d="M171 818.1l-17.4 7.3-3.3-2.4" stroke="#0800ff"/>
<path d="M136.3 832.4l16.1-6.5-2.3-1.7-16.1 6.6z"/>
<path class="s" d="M153.6 825.4l-17.3 7-3.4-2.4" stroke="#0800ff"/>
<path d="M118.9 839.2l16.1-6.3-2.2-1.6-16.2 6.3z"/>
<path class="s" d="M136.3 832.4l-17.4 6.8-3.4-2.3" stroke="#0800ff"/>
<path d="M101.5 845.7l16.1-6.1-2.2-1.5-16.1 6.1z"/>
<path class="s" d="M118.9 839.2l-17.4 6.5-3.3-2.2" stroke="#0010ff"/>
<path d="M84.2 852l16-5.8-2.2-1.5-16.1 5.9z"/>
<path class="s" d="M101.5 845.7l-17.3 6.3-3.4-2.2" stroke="#0010ff"/>
<path class="s" d="M365.5 687.1l-3.3-2.5" stroke="#ff0078"/>
<path d="M348.1 703.4l16.6-15.6-2.5-1.7-16.5 15.4z"/>
<path class="s" d="M365.5 687.1l-17.4 16.3-3.3-2.6" stroke="#ff00bf"/>
<path d="M330.8 719.3l16.5-15.2-2.5-1.9-16.5 15.1z"/>
<path class="s" d="M348.1 703.4l-17.3 15.9-3.4-2.8" stroke="#ff00ef"/>
<path d="M313.4 734.7l16.5-14.6-2.5-2.1-16.5 14.5z"/>
<path class="s" d="M330.8 719.3l-17.4 15.4-3.4-2.9" stroke="#df00ff"/>
<path d="M296 749.3l16.5-13.9-2.5-2.2-16.5 13.8z"/>
<path class="s" d="M313.4 734.7l-17.4 14.6-3.4-3" stroke="#af00ff"/>
<path d="M278.6 762.8l16.5-12.8-2.5-2.3-16.5 12.8z"/>
<path class="s" d="M296 749.3l-17.4 13.5-3.3-3.1" stroke="#8000ff"/>
<path d="M261.2 775.2l16.5-11.7-2.5-2.4-16.5 11.7z"/>
<path class="s" d="M278.6 762.8l-17.4 12.4-3.3-3.2" stroke="#5000ff"/>
<path d="M243.9 786.2l16.4-10.4-2.5-2.4-16.4 10.5z"/>
<path class="s" d="M261.2 775.2l-17.3 11-3.4-3.1" stroke="#3800ff"/>
<path d="M226.5 796.2l16.4-9.4-2.5-2.3-16.4 9.4z"/>
<path class="s" d="M243.9 786.2l-17.4 10-3.3-3.1" stroke="#2000ff"/>
<path d="M209.1 805.1l16.4-8.4-2.5-2.3-16.3 8.5z"/>
<path class="s" d="M226.5 796.2l-17.4 8.9-3.3-3" stroke="#2000ff"/>
<path d="M191.8 813.2l16.2-7.6-2.4-2.2-16.3 7.8z"/>
<path class="s" d="M209.1 805.1l-17.3 8.1-3.4-2.8" stroke="#0800ff"/>
<path d="M174.4 820.8l16.2-7.1-2.4-2-16.2 7.2z"/>
<path class="s" d="M191.8 813.2l-17.4 7.6-3.4-2.7" stroke="#0800ff"/>
<path d="M157 828l16.2-6.7-2.4-1.9-16.2 6.8z"/>
<path class="s" d="M174.4 820.8l-17.4 7.2-3.4-2.6" stroke="#0800ff"/>
<path d="M139.6 835l16.2-6.5-2.3-1.8-16.2 6.5z"/>
<path class="s" d="M157 828l-17.4 7-3.3-2.6" stroke="#0800ff"/>
<path d="M122.2 841.7l16.2-6.3-2.3-1.7-16.2 6.2z"/>
<path class="s" d="M139.6 835l-17.4 6.7-3.3-2.5" stroke="#0010ff"/>
<path d="M104.9 848.1l16.1-6-2.3-1.7-16.1 6.1z"/>
<path class="s" d="M122.2 841.7l-17.3 6.4-3.4-2.4" stroke="#0010ff"/>
<path d="M87.5 854.5l16.1-5.9-2.3-1.7-16.1 5.9z"/>
<path class="s" d="M104.9 848.1l-17.4 6.4-3.3-2.5" stroke="#0010ff"/>
<path class="s" d="M368.8 689.5l-3.3-2.4" stroke="#ff0078"/>
<path d="M351.5 706l16.5-15.7-2.4-1.8-16.6 15.6z"/>
<path class="s" d="M368.8 689.5l-17.3 16.5-3.4-2.6" stroke="#ff00bf"/>
<path d="M334.1 722.2l16.6-15.4-2.5-2-16.6 15.3z"/>
<path class="s" d="M351.5 706l-17.4 16.2-3.3-2.9" stroke="#ff00ef"/>
<path d="M316.7 737.7l16.6-14.8-2.5-2.1-16.6 14.7z"/>
<path class="s" d="M334.1 722.2l-17.4 15.5-3.3-3" stroke="#df00ff"/>
<path d="M299.4 752.4l16.5-14-2.5-2.2-16.6 13.9z"/>
<path class="s" d="M316.7 737.7l-17.3 14.7-3.4-3.1" stroke="#9700ff"/>
<path d="M282 766.1l16.5-13-2.6-2.3-16.5 12.8z"/>
<path class="s" d="M299.4 752.4l-17.4 13.7-3.4-3.3" stroke="#8000ff"/>
<path d="M264.6 778.5l16.5-11.8-2.6-2.4-16.5 11.7z"/>
<path class="s" d="M282 766.1l-17.4 12.4-3.4-3.3" stroke="#5000ff"/>
<path d="M247.2 789.5l16.4-10.4-2.5-2.5-16.4 10.4z"/>
<path class="s" d="M264.6 778.5l-17.4 11-3.3-3.3" stroke="#3800ff"/>
<path d="M229.8 799.4l16.4-9.3-2.5-2.5-16.4 9.3z"/>
<path class="s" d="M247.2 789.5l-17.4 9.9-3.3-3.2" stroke="#2000ff"/>
<path d="M212.5 808.3l16.3-8.4-2.5-2.4-16.3 8.4z"/>
<path class="s" d="M229.8 799.4l-17.3 8.9-3.4-3.2" stroke="#0800ff"/>
<path d="M195.1 816.3l16.3-7.5-2.5-2.4-16.3 7.6z"/>
<path class="s" d="M212.5 808.3l-17.4 8-3.3-3.1" stroke="#0800ff"/>
<path d="M177.7 823.9l16.3-7.1-2.5-2.3-16.2 7.1z"/>
<path class="s" d="M195.1 816.3l-17.4 7.6-3.3-3.1" stroke="#0800ff"/>
<path d="M160.4 831l16.2-6.7-2.4-2.2-16.3 6.8z"/>
<path class="s" d="M177.7 823.9l-17.3 7.1-3.4-3" stroke="#0010ff"/>
<path d="M143 837.8l16.2-6.4-2.4-2.1-16.2 6.5z"/>
<path class="s" d="M160.4 831l-17.4 6.8-3.4-2.8" stroke="#0010ff"/>
<path d="M125.6 844.4l16.2-6.1-2.4-2.1-16.2 6.3z"/>
<path class="s" d="M143 837.8l-17.4 6.6-3.4-2.7" stroke="#0010ff"/>
<path d="M108.2 850.9l16.2-6-2.4-2-16.1 6.1z"/>
<path class="s" d="M125.6 844.4l-17.4 6.5-3.3-2.8" stroke="#0010ff"/>
<path d="M90.8 857.2l16.2-5.9-2.3-1.9-16.2 5.9z"/>
<path class="s" d="M108.2 850.9l-17.4 6.3-3.3-2.7" stroke="#0010ff"/>
<path class="s" d="M372.2 691.9l-3.4-2.4" stroke="#ff0078"/>
<path d="M354.8 708.7l16.6-16-2.5-1.8-16.6 15.8z"/>
<path class="s" d="M372.2 691.9l-17.4 16.8-3.3-2.7" stroke="#ff00bf"/>
<path d="M337.4 725l16.6-15.6-2.5-1.9-16.6 15.4z"/>
<path class="s" d="M354.8 708.7l-17.4 16.3-3.3-2.8" stroke="#ff00ef"/>
<path d="M320.1 740.8l16.5-15-2.5-2.2-16.6 14.9z"/>
<path class="s" d="M337.4 725l-17.3 15.8-3.4-3.1" stroke="#c700ff"/>
<path d="M302.7 755.7l16.5-14.2-2.5-2.3-16.6 14z"/>
<path class="s" d="M320.1 740.8l-17.4 14.9-3.3-3.3" stroke="#9700ff"/>
<path d="M285.3 769.4l16.5-13.1-2.5-2.4-16.5 13z"/>
<path class="s" d="M302.7 755.7l-17.4 13.7-3.3-3.3" stroke="#6800ff"/>
<path d="M268 781.9l16.4-11.8-2.5-2.6-16.5 11.8z"/>
<path class="s" d="M285.3 769.4l-17.3 12.5-3.4-3.4" stroke="#5000ff"/>
<path d="M250.6 793.1l16.4-10.6-2.6-2.6-16.4 10.5z"/>
<path class="s" d="M268 781.9l-17.4 11.2-3.4-3.6" stroke="#3800ff"/>
<path d="M233.2 802.9l16.4-9.3-2.6-2.7-16.4 9.3z"/>
<path class="s" d="M250.6 793.1l-17.4 9.8-3.4-3.5" stroke="#2000ff"/>
<path d="M215.8 811.7l16.4-8.3-2.6-2.6-16.3 8.3z"/>
<path class="s" d="M233.2 802.9l-17.4 8.8-3.3-3.4" stroke="#0800ff"/>
<path d="M198.4 819.7l16.4-7.5-2.6-2.6-16.3 7.6z"/>
<path class="s" d="M215.8 811.7l-17.4 8-3.3-3.4" stroke="#0800ff"/>
<path d="M181.1 827.2l16.3-7-2.6-2.6-16.2 7.1z"/>
<path class="s" d="M198.4 819.7l-17.3 7.5-3.4-3.3" stroke="#0010ff"/>
<path d="M163.7 834.2l16.3-6.6-2.5-2.5-16.3 6.7z"/>
<path class="s" d="M181.1 827.2l-17.4 7-3.3-3.2" stroke="#0010ff"/>
<path d="M146.3 841l16.3-6.3-2.5-2.4-16.2 6.3z"/>
<path class="s" d="M163.7 834.2l-17.4 6.8-3.3-3.2" stroke="#0010ff"/>
<path d="M129 847.6l16.2-6.2-2.5-2.3-16.2 6.2z"/>
<path class="s" d="M146.3 841l-17.3 6.6-3.4-3.2" stroke="#0010ff"/>
<path d="M111.6 854l16.2-6-2.5-2.3-16.2 6z"/>
<path class="s" d="M129 847.6l-17.4 6.4-3.4-3.1" stroke="#0010ff"/>
<path d="M94.2 860.3l16.2-5.9-2.4-2.2-16.2 5.8z"/>
<path class="s" d="M111.6 854l-17.4 6.3-3.4-3.1" stroke="#0010ff"/>
<path class="s" d="M375.5 694.4l-3.3-2.5" stroke="#ff0078"/>
<path d="M358.2 711.3l16.6-16.1-2.5-1.8-16.6 16z"/>
<path class="s" d="M375.5 694.4l-17.3 16.9-3.4-2.6" stroke="#ff00bf"/>
<path d="M340.8 727.9l16.6-15.8-2.5-2-16.6 15.6z"/>
<path class="s" d="M358.2 711.3l-17.4 16.6-3.4-2.9" stroke="#f700ff"/>
<path d="M323.4 743.9l16.6-15.3-2.5-2.1-16.6 15z"/>
<path class="s" d="M340.8 727.9l-17.4 16-3.3-3.1" stroke="#c700ff"/>
<path d="M306 759l16.6-14.4-2.6-2.4-16.5 14.2z"/>
<path class="s" d="M323.4 743.9l-17.4 15.1-3.3-3.3" stroke="#9700ff"/>
<path d="M288.7 773l16.5-13.3-2.6-2.6-16.5 13.1z"/>
<path class="s" d="M306 759l-17.3 14-3.4-3.6" stroke="#6800ff"/>
<path d="M271.3 785.6l16.5-12-2.6-2.7-16.5 11.8z"/>
<path class="s" d="M288.7 773l-17.4 12.6-3.3-3.7" stroke="#3800ff"/>
<path d="M253.9 796.8l16.5-10.6-2.6-2.8-16.5 10.5z"/>
<path class="s" d="M271.3 785.6l-17.4 11.2-3.3-3.7" stroke="#2000ff"/>
<path d="M236.6 806.7l16.3-9.3-2.6-2.9-16.4 9.3z"/>
<path class="s" d="M253.9 796.8l-17.3 9.9-3.4-3.8" stroke="#0800ff"/>
<path d="M219.2 815.5l16.3-8.3-2.6-2.9-16.3 8.3z"/>
<path class="s" d="M236.6 806.7l-17.4 8.8-3.4-3.8" stroke="#0800ff"/>
<path d="M201.8 823.5l16.3-7.5-2.6-2.9-16.3 7.5z"/>
<path class="s" d="M219.2 815.5l-17.4 8-3.4-3.8" stroke="#0010ff"/>
<path d="M184.4 830.9l16.3-6.9-2.5-2.9-16.3 6.9z"/>
<path class="s" d="M201.8 823.5l-17.4 7.4-3.3-3.7" stroke="#0010ff"/>
<path d="M167 837.9l16.3-6.6-2.5-2.8-16.3 6.6z"/>
<path class="s" d="M184.4 830.9l-17.4 7-3.3-3.7" stroke="#0010ff"/>
<path d="M149.7 844.6l16.2-6.3-2.5-2.8-16.3 6.4z"/>
<path class="s" d="M167 837.9l-17.3 6.7-3.4-3.6" stroke="#0010ff"/>
<path d="M132.3 851.1l16.3-6.1-2.6-2.7-16.2 6.1z"/>
<path class="s" d="M149.7 844.6l-17.4 6.5-3.3-3.5" stroke="#0010ff"/>
<path d="M114.9 857.5l16.3-6-2.5-2.6-16.3 6z"/>
<path class="s" d="M132.3 851.1l-17.4 6.4-3.3-3.5" stroke="#0010ff"/>
<path d="M97.5 863.8l16.3-5.9-2.5-2.6-16.3 5.8z"/>
<path class="s" d="M114.9 857.5l-17.4 6.3-3.3-3.5" stroke="#0010ff"/>
<path class="s" d="M378.9 696.8l-3.4-2.4" stroke="#ff008f"/>
<path d="M361.5 714l16.6-16.4-2.4-1.8-16.7 16.2z"/>
<path class="s" d="M378.9 696.8l-17.4 17.2-3.3-2.7" stroke="#ff00bf"/>
<path d="M344.2 730.8l16.5-16-2.5-2-16.6 15.8z"/>
<path class="s" d="M361.5 714l-17.3 16.8-3.4-2.9" stroke="#f700ff"/>
<path d="M326.8 747l16.5-15.5-2.5-2.1-16.6 15.2z"/>
<path class="s" d="M344.2 730.8l-17.4 16.2-3.4-3.1" stroke="#c700ff"/>
<path d="M309.4 762.4l16.5-14.6-2.5-2.5-16.6 14.5z"/>
<path class="s" d="M326.8 747l-17.4 15.4-3.4-3.4" stroke="#9700ff"/>
<path d="M292 776.7l16.5-13.6-2.5-2.6-16.6 13.3z"/>
<path class="s" d="M309.4 762.4l-17.4 14.3-3.3-3.7" stroke="#6800ff"/>
<path d="M274.6 789.5l16.5-12.2-2.6-2.9-16.5 12z"/>
<path class="s" d="M292 776.7l-17.4 12.8-3.3-3.9" stroke="#3800ff"/>
<path d="M257.3 800.9l16.4-10.8-2.6-3-16.5 10.6z"/>
<path class="s" d="M274.6 789.5l-17.3 11.4-3.4-4.1" stroke="#2000ff"/>
<path d="M239.9 810.9l16.4-9.5-2.6-3.2-16.4 9.4z"/>
<path class="s" d="M257.3 800.9l-17.4 10-3.3-4.2" stroke="#0800ff"/>
<path d="M222.5 819.7l16.4-8.3-2.6-3.3-16.4 8.3z"/>
<path class="s" d="M239.9 810.9l-17.4 8.8-3.3-4.2" stroke="#0010ff"/>
<path d="M205.2 827.6l16.3-7.4-2.6-3.3-16.4 7.5z"/>
<path class="s" d="M222.5 819.7l-17.3 7.9-3.4-4.1" stroke="#0010ff"/>
<path d="M187.8 834.9l16.3-6.8-2.6-3.3-16.3 7z"/>
<path class="s" d="M205.2 827.6l-17.4 7.3-3.4-4" stroke="#0028ff"/>
<path d="M170.4 841.9l16.3-6.5-2.6-3.2-16.3 6.5z"/>
<path class="s" d="M187.8 834.9l-17.4 7-3.4-4" stroke="#0028ff"/>
<path d="M153 848.5l16.3-6.2-2.6-3.1-16.3 6.3z"/>
<path class="s" d="M170.4 841.9l-17.4 6.6-3.3-3.9" stroke="#0028ff"/>
<path d="M135.6 855l16.3-6.1-2.6-3-16.2 6.1z"/>
<path class="s" d="M153 848.5l-17.4 6.5-3.3-3.9" stroke="#0028ff"/>
<path d="M118.3 861.4l16.2-6-2.5-3-16.3 6z"/>
<path class="s" d="M135.6 855l-17.3 6.4-3.4-3.9" stroke="#0028ff"/>
<path d="M100.9 867.7l16.3-5.9-2.6-3-16.3 5.9z"/>
<path class="s" d="M118.3 861.4l-17.4 6.3-3.4-3.9" stroke="#0028ff"/>
<path class="s" d="M382.2 699.2l-3.3-2.4" stroke="#ff008f"/>
<path d="M364.9 716.6l16.6-16.6-2.5-1.7-16.6 16.4z"/>
<path class="s" d="M382.2 699.2l-17.3 17.4-3.4-2.6" stroke="#ff00bf"/>
<path d="M347.5 733.7l16.6-16.3-2.5-2-16.6 16.1z"/>
<path class="s" d="M364.9 716.6l-17.4 17.1-3.3-2.9" stroke="#f700ff"/>
<path d="M330.1 750.2l16.6-15.7-2.5-2.2-16.6 15.5z"/>
<path class="s" d="M347.5 733.7l-17.4 16.5-3.3-3.2" stroke="#af00ff"/>
<path d="M312.8 765.9l16.5-14.9-2.6-2.5-16.5 14.7z"/>
<path class="s" d="M330.1 750.2l-17.3 15.7-3.4-3.5" stroke="#8000ff"/>
<path d="M295.4 780.5l16.5-13.9-2.6-2.7-16.6 13.6z"/>
<path class="s" d="M312.8 765.9l-17.4 14.6-3.4-3.8" stroke="#5000ff"/>
<path d="M278 793.6l16.5-12.5-2.6-3-16.6 12.3z"/>
<path class="s" d="M295.4 780.5l-17.4 13.1-3.4-4.1" stroke="#2000ff"/>
<path d="M260.6 805.2l16.5-11-2.7-3.2-16.4 10.8z"/>
<path class="s" d="M278 793.6l-17.4 11.6-3.3-4.3" stroke="#0800ff"/>
<path d="M243.2 815.3l16.5-9.5-2.7-3.5-16.4 9.4z"/>
<path class="s" d="M260.6 805.2l-17.4 10.1-3.3-4.4" stroke="#0010ff"/>
<path d="M225.9 824.2l16.4-8.4-2.7-3.5-16.4 8.3z"/>
<path class="s" d="M243.2 815.3l-17.3 8.9-3.4-4.5" stroke="#0010ff"/>
<path d="M208.5 832.1l16.4-7.5-2.7-3.5-16.4 7.4z"/>
<path class="s" d="M225.9 824.2l-17.4 7.9-3.3-4.5" stroke="#0028ff"/>
<path d="M191.1 839.4l16.4-6.9-2.7-3.5-16.3 6.9z"/>
<path class="s" d="M208.5 832.1l-17.4 7.3-3.3-4.5" stroke="#0028ff"/>
<path d="M173.8 846.3l16.3-6.5-2.7-3.5-16.3 6.5z"/>
<path class="s" d="M191.1 839.4l-17.3 6.9-3.4-4.4" stroke="#0028ff"/>
<path d="M156.4 852.9l16.3-6.2-2.7-3.5-16.3 6.2z"/>
<path class="s" d="M173.8 846.3l-17.4 6.6-3.4-4.4" stroke="#0028ff"/>
<path d="M139 859.3l16.3-6-2.7-3.5-16.2 6.1z"/>
<path class="s" d="M156.4 852.9l-17.4 6.4-3.4-4.3" stroke="#0028ff"/>
<path d="M121.6 865.7l16.3-6-2.6-3.4-16.3 6z"/>
<path class="s" d="M139 859.3l-17.4 6.4-3.3-4.3" stroke="#0028ff"/>
<path d="M104.2 871.9l16.3-5.8-2.6-3.4-16.3 5.9z"/>
<path class="s" d="M121.6 865.7l-17.4 6.2-3.3-4.2" stroke="#0028ff"/>
<path class="s" d="M385.6 701.6l-3.4-2.4" stroke="#ff008f"/>
<path d="M368.2 719.2l16.6-16.8-2.4-1.7-16.6 16.6z"/>
<path class="s" d="M385.6 701.6l-17.4 17.6-3.3-2.6" stroke="#ff00d7"/>
<path d="M350.8 736.6l16.6-16.6-2.4-1.9-16.7 16.3z"/>
<path class="s" d="M368.2 719.2l-17.4 17.4-3.3-2.9" stroke="#f700ff"/>
<path d="M333.5 753.4l16.6-16.1-2.6-2.1-16.6 15.8z"/>
<path class="s" d="M350.8 736.6l-17.3 16.8-3.4-3.2" stroke="#af00ff"/>
<path d="M316.1 769.4l16.6-15.3-2.6-2.4-16.6 15z"/>
<path class="s" d="M333.5 753.4l-17.4 16-3.3-3.5" stroke="#8000ff"/>
<path d="M298.7 784.3l16.6-14.2-2.6-2.7-16.6 13.9z"/>
<path class="s" d="M316.1 769.4l-17.4 14.9-3.3-3.8" stroke="#5000ff"/>
<path d="M281.4 797.8l16.5-12.8-2.7-3-16.5 12.5z"/>
<path class="s" d="M298.7 784.3l-17.3 13.5-3.4-4.2" stroke="#2000ff"/>
<path d="M264 809.7l16.4-11.3-2.6-3.3-16.5 11z"/>
<path class="s" d="M281.4 797.8l-17.4 11.9-3.4-4.5" stroke="#0800ff"/>
<path d="M246.6 820l16.4-9.8-2.7-3.6-16.4 9.6z"/>
<path class="s" d="M264 809.7l-17.4 10.3-3.4-4.7" stroke="#0010ff"/>
<path d="M229.2 828.9l16.4-8.4-2.7-3.8-16.4 8.4z"/>
<path class="s" d="M246.6 820l-17.4 8.9-3.3-4.7" stroke="#0028ff"/>
<path d="M211.8 836.9l16.4-7.5-2.7-3.9-16.4 7.5z"/>
<path class="s" d="M229.2 828.9l-17.4 8-3.3-4.8" stroke="#0040ff"/>
<path d="M194.5 844.1l16.3-6.8-2.7-3.8-16.3 6.8z"/>
<path class="s" d="M211.8 836.9l-17.3 7.2-3.4-4.7" stroke="#0040ff"/>
<path d="M177.1 851l16.3-6.5-2.7-3.8-16.3 6.5z"/>
<path class="s" d="M194.5 844.1l-17.4 6.9-3.3-4.7" stroke="#0040ff"/>
<path d="M159.7 857.5l16.3-6.1-2.7-3.8-16.3 6.2z"/>
<path class="s" d="M177.1 851l-17.4 6.5-3.3-4.6" stroke="#0040ff"/>
<path d="M142.4 863.9l16.3-6-2.7-3.7-16.3 6z"/>
<path class="s" d="M159.7 857.5l-17.3 6.4-3.4-4.6" stroke="#0040ff"/>
<path d="M125 870.3l16.3-6-2.7-3.7-16.3 6z"/>
<path class="s" d="M142.4 863.9l-17.4 6.4-3.4-4.6" stroke="#0040ff"/>
<path d="M107.6 876.5l16.3-5.9-2.7-3.6-16.3 5.8z"/>
<path class="s" d="M125 870.3l-17.4 6.2-3.4-4.6" stroke="#0040ff"/>
<path class="s" d="M389 703.9l-3.4-2.3" stroke="#ff008f"/>
<path d="M371.6 721.7l16.6-17-2.5-1.6-16.6 16.8z"/>
<path class="s" d="M389 703.9l-17.4 17.8-3.4-2.5" stroke="#ff00d7"/>
<path d="M354.2 739.3l16.6-16.8-2.5-1.8-16.6 16.6z"/>
<path class="s" d="M371.6 721.7l-17.4 17.6-3.4-2.7" stroke="#f700ff"/>
<path d="M336.8 756.4l16.6-16.3-2.5-2.1-16.6 16.1z"/>
<path class="s" d="M354.2 739.3l-17.4 17.1-3.3-3" stroke="#af00ff"/>
<path d="M319.4 772.8l16.6-15.6-2.5-2.3-16.6 15.3z"/>
<path class="s" d="M336.8 756.4l-17.4 16.4-3.3-3.4" stroke="#6800ff"/>
<path d="M302.1 788.1l16.5-14.6-2.6-2.6-16.5 14.3z"/>
<path class="s" d="M319.4 772.8l-17.3 15.3-3.4-3.8" stroke="#3800ff"/>
<path d="M284.7 802l16.5-13.2-2.6-3-16.6 12.9z"/>
<path class="s" d="M302.1 788.1l-17.4 13.9-3.3-4.2" stroke="#0800ff"/>
<path d="M267.3 814.2l16.5-11.6-2.7-3.3-16.5 11.3z"/>
<path class="s" d="M284.7 802l-17.4 12.2-3.3-4.5" stroke="#0010ff"/>
<path d="M250 824.7l16.4-9.9-2.7-3.7-16.5 9.8z"/>
<path class="s" d="M267.3 814.2l-17.3 10.5-3.4-4.7" stroke="#0028ff"/>
<path d="M232.6 833.8l16.4-8.6-2.7-3.8-16.5 8.4z"/>
<path class="s" d="M250 824.7l-17.4 9.1-3.4-4.9" stroke="#0040ff"/>
<path d="M215.2 841.8l16.4-7.5-2.8-4-16.3 7.5z"/>
<path class="s" d="M232.6 833.8l-17.4 8-3.4-4.9" stroke="#0040ff"/>
<path d="M197.8 849.1l16.4-6.8-2.8-4.1-16.3 6.9z"/>
<path class="s" d="M215.2 841.8l-17.4 7.3-3.3-5" stroke="#0040ff"/>
<path d="M180.4 855.9l16.4-6.4-2.7-4-16.4 6.4z"/>
<path class="s" d="M197.8 849.1l-17.4 6.8-3.3-4.9" stroke="#0058ff"/>
<path d="M163.1 862.4l16.3-6.1-2.7-4-16.3 6.2z"/>
<path class="s" d="M180.4 855.9l-17.3 6.5-3.4-4.9" stroke="#0058ff"/>
<path d="M145.7 868.8l16.3-6-2.7-3.9-16.3 6z"/>
<path class="s" d="M163.1 862.4l-17.4 6.4-3.3-4.9" stroke="#0058ff"/>
<path d="M128.3 875.1l16.3-5.9-2.7-3.9-16.3 5.9z"/>
<path class="s" d="M145.7 868.8l-17.4 6.3-3.3-4.8" stroke="#0058ff"/>
<path d="M111 881.4l16.3-5.9-2.8-3.9-16.3 5.8z"/>
<path class="s" d="M128.3 875.1l-17.3 6.3-3.4-4.9" stroke="#0058ff"/>
<path class="s" d="M392.3 706.2l-3.3-2.3" stroke="#ff008f"/>
<path d="M374.9 724.1l16.6-17.1-2.4-1.6-16.6 17z"/>
<path class="s" d="M392.3 706.2l-17.4 17.9-3.3-2.4" stroke="#ff00d7"/>
<path d="M357.5 741.9l16.6-17-2.4-1.7-16.6 16.8z"/>
<path class="s" d="M374.9 724.1l-17.4 17.8-3.3-2.6" stroke="#df00ff"/>
<path d="M340.2 759.3l16.6-16.7-2.5-1.9-16.6 16.4z"/>
<path class="s" d="M357.5 741.9l-17.3 17.4-3.4-2.9" stroke="#af00ff"/>
<path d="M322.8 776l16.6-16-2.5-2.1-16.7 15.7z"/>
<path class="s" d="M340.2 759.3l-17.4 16.7-3.4-3.2" stroke="#6800ff"/>
<path d="M305.4 791.7l16.6-15-2.6-2.4-16.6 14.6z"/>
<path class="s" d="M322.8 776l-17.4 15.7-3.3-3.6" stroke="#3800ff"/>
<path d="M288 806l16.6-13.6-2.6-2.8-16.6 13.2z"/>
<path class="s" d="M305.4 791.7l-17.4 14.3-3.3-4" stroke="#0800ff"/>
<path d="M270.7 818.7l16.5-12-2.7-3.2-16.5 11.6z"/>
<path class="s" d="M288 806l-17.3 12.7-3.4-4.5" stroke="#0028ff"/>
<path d="M253.3 829.5l16.4-10.3-2.7-3.5-16.4 9.9z"/>
<path class="s" d="M270.7 818.7l-17.4 10.8-3.3-4.8" stroke="#0040ff"/>
<path d="M235.9 838.8l16.4-8.8-2.7-3.8-16.4 8.5z"/>
<path class="s" d="M253.3 829.5l-17.4 9.3-3.3-5" stroke="#0058ff"/>
<path d="M218.6 847l16.3-7.7-2.7-4.1-16.4 7.6z"/>
<path class="s" d="M235.9 838.8l-17.3 8.2-3.4-5.2" stroke="#0058ff"/>
<path d="M201.2 854.3l16.3-6.9-2.7-4.2-16.4 6.8z"/>
<path class="s" d="M218.6 847l-17.4 7.3-3.4-5.2" stroke="#0058ff"/>
<path d="M183.8 861.1l16.3-6.4-2.7-4.2-16.3 6.4z"/>
<path class="s" d="M201.2 854.3l-17.4 6.8-3.4-5.2" stroke="#0058ff"/>
<path d="M166.4 867.7l16.3-6.2-2.7-4.3-16.3 6.2z"/>
<path class="s" d="M183.8 861.1l-17.4 6.6-3.3-5.3" stroke="#0058ff"/>
<path d="M149 874l16.4-5.9-2.8-4.3-16.3 6z"/>
<path class="s" d="M166.4 867.7l-17.4 6.3-3.3-5.2" stroke="#0070ff"/>
<path d="M131.7 880.3l16.3-5.9-2.7-4.2-16.4 5.9z"/>
<path class="s" d="M149 874l-17.3 6.3-3.4-5.2" stroke="#0070ff"/>
<path d="M114.3 886.6l16.3-5.9-2.7-4.2-16.3 5.8z"/>
<path class="s" d="M131.7 880.3l-17.4 6.3-3.3-5.2" stroke="#0070ff"/>
<path class="s" d="M395.6 708.3l-3.3-2.1" stroke="#ff008f"/>
<path d="M378.3 726.4l16.6-17.3-2.4-1.5-16.6 17.1z"/>
<path class="s" d="M395.6 708.3l-17.3 18.1-3.4-2.3" stroke="#ff00d7"/>
<path d="M360.9 744.2l16.6-17-2.4-1.7-16.6 17z"/>
<path class="s" d="M378.3 726.4l-17.4 17.8-3.4-2.3" stroke="#df00ff"/>
<path d="M343.5 761.9l16.6-16.9-2.4-1.7-16.6 16.6z"/>
<path class="s" d="M360.9 744.2l-17.4 17.7-3.3-2.6" stroke="#af00ff"/>
<path d="M326.2 778.9l16.5-16.3-2.4-1.9-16.7 16z"/>
<path class="s" d="M343.5 761.9l-17.3 17-3.4-2.9" stroke="#6800ff"/>
<path d="M308.8 795l16.5-15.3-2.5-2.2-16.6 15z"/>
<path class="s" d="M326.2 778.9l-17.4 16.1-3.4-3.3" stroke="#3800ff"/>
<path d="M291.4 809.8l16.5-14-2.5-2.6-16.6 13.7z"/>
<path class="s" d="M308.8 795l-17.4 14.8-3.4-3.8" stroke="#0010ff"/>
<path d="M274 822.9l16.5-12.4-2.6-3-16.5 12z"/>
<path class="s" d="M291.4 809.8l-17.4 13.1-3.3-4.2" stroke="#0028ff"/>
<path d="M256.6 834.3l16.5-10.8-2.7-3.4-16.5 10.3z"/>
<path class="s" d="M274 822.9l-17.4 11.4-3.3-4.8" stroke="#0040ff"/>
<path d="M239.3 843.9l16.4-9.1-2.7-3.8-16.5 8.8z"/>
<path class="s" d="M256.6 834.3l-17.3 9.6-3.4-5.1" stroke="#0058ff"/>
<path d="M221.9 852.3l16.4-7.9-2.8-4.2-16.4 7.7z"/>
<path class="s" d="M239.3 843.9l-17.4 8.4-3.3-5.3" stroke="#0070ff"/>
<path d="M204.5 859.8l16.4-7.1-2.8-4.3-16.3 6.9z"/>
<path class="s" d="M221.9 852.3l-17.4 7.5-3.3-5.5" stroke="#0070ff"/>
<path d="M187.2 866.7l16.3-6.5-2.8-4.5-16.3 6.4z"/>
<path class="s" d="M204.5 859.8l-17.3 6.9-3.4-5.6" stroke="#0070ff"/>
<path d="M169.8 873.2l16.3-6.1-2.8-4.6-16.3 6.1z"/>
<path class="s" d="M187.2 866.7l-17.4 6.5-3.4-5.5" stroke="#0070ff"/>
<path d="M152.4 879.6l16.3-6-2.7-4.6-16.4 6z"/>
<path class="s" d="M169.8 873.2l-17.4 6.4-3.4-5.6" stroke="#0070ff"/>
<path d="M135 885.9l16.3-5.9-2.7-4.6-16.4 5.9z"/>
<path class="s" d="M152.4 879.6l-17.4 6.3-3.3-5.6" stroke="#0070ff"/>
<path d="M117.6 892.2l16.4-5.9-2.8-4.6-16.3 5.8z"/>
<path class="s" d="M135 885.9l-17.4 6.3-3.3-5.6" stroke="#0070ff"/>
<path class="s" d="M399 710.4l-3.4-2.1" stroke="#ff008f"/>
<path d="M381.6 728.4l16.6-17.2-2.4-1.5-16.6 17.2z"/>
<path class="s" d="M399 710.4l-17.4 18-3.3-2" stroke="#ff00d7"/>
<path d="M364.2 746.4l16.6-17.1-2.4-1.5-16.6 17.1z"/>
<path class="s" d="M381.6 728.4l-17.4 18-3.3-2.2" stroke="#df00ff"/>
<path d="M346.9 764.2l16.6-17-2.4-1.5-16.7 16.8z"/>
<path class="s" d="M364.2 746.4l-17.3 17.8-3.4-2.3" stroke="#af00ff"/>
<path d="M329.5 781.5l16.6-16.5-2.5-1.7-16.6 16.3z"/>
<path class="s" d="M346.9 764.2l-17.4 17.3-3.3-2.6" stroke="#6800ff"/>
<path d="M312.1 798l16.6-15.7-2.5-2-16.6 15.5z"/>
<path class="s" d="M329.5 781.5l-17.4 16.5-3.3-3" stroke="#2000ff"/>
<path d="M294.8 813.3l16.5-14.5-2.5-2.3-16.6 14.1z"/>
<path class="s" d="M312.1 798l-17.3 15.3-3.4-3.5" stroke="#0010ff"/>
<path d="M277.4 827l16.5-13-2.6-2.7-16.6 12.5z"/>
<path class="s" d="M294.8 813.3l-17.4 13.7-3.4-4.1" stroke="#0040ff"/>
<path d="M260 838.9l16.5-11.3-2.7-3.2-16.5 10.8z"/>
<path class="s" d="M277.4 827l-17.4 11.9-3.4-4.6" stroke="#0058ff"/>
<path d="M242.6 849.1l16.4-9.6-2.7-3.8-16.4 9.2z"/>
<path class="s" d="M260 838.9l-17.4 10.2-3.3-5.2" stroke="#0070ff"/>
<path d="M225.2 857.8l16.4-8.2-2.7-4.3-16.4 7.9z"/>
<path class="s" d="M242.6 849.1l-17.4 8.7-3.3-5.5" stroke="#0087ff"/>
<path d="M207.9 865.6l16.3-7.3-2.7-4.6-16.4 7z"/>
<path class="s" d="M225.2 857.8l-17.3 7.8-3.4-5.8" stroke="#0087ff"/>
<path d="M190.5 872.7l16.3-6.7-2.8-4.9-16.3 6.5z"/>
<path class="s" d="M207.9 865.6l-17.4 7.1-3.3-6" stroke="#0087ff"/>
<path d="M173.1 879.3l16.4-6.2-2.8-5.1-16.4 6.2z"/>
<path class="s" d="M190.5 872.7l-17.4 6.6-3.3-6.1" stroke="#0087ff"/>
<path d="M155.8 885.8l16.3-6.1-2.8-5.1-16.4 6z"/>
<path class="s" d="M173.1 879.3l-17.3 6.5-3.4-6.2" stroke="#0087ff"/>
<path d="M138.4 892.1l16.3-5.9-2.8-5.2-16.3 5.9z"/>
<path class="s" d="M155.8 885.8l-17.4 6.3-3.4-6.2" stroke="#0087ff"/>
<path d="M121 898.4l16.3-5.9-2.8-5.2-16.3 5.9z"/>
<path class="s" d="M138.4 892.1l-17.4 6.3-3.4-6.2" stroke="#0087ff"/>
<path class="s" d="M402.4 712.3l-3.4-1.9" stroke="#ff008f"/>
<path d="M385 730.4l16.6-17.2-2.4-1.4-16.6 17.2z"/>
<path class="s" d="M402.4 712.3l-17.4 18.1-3.4-2" stroke="#ff00d7"/>
<path d="M367.6 748.4l16.6-17.2-2.4-1.4-16.6 17.2z"/>
<path class="s" d="M385 730.4l-17.4 18-3.4-2" stroke="#df00ff"/>
<path d="M350.2 766.3l16.6-17.1-2.4-1.4-16.6 17z"/>
<path class="s" d="M367.6 748.4l-17.4 17.9-3.3-2.1" stroke="#af00ff"/>
<path d="M332.8 783.8l16.6-16.7-2.4-1.5-16.6 16.5z"/>
<path class="s" d="M350.2 766.3l-17.4 17.5-3.3-2.3" stroke="#6800ff"/>
<path d="M315.5 800.7l16.5-16.1-2.4-1.7-16.6 15.8z"/>
<path class="s" d="M332.8 783.8l-17.3 16.9-3.4-2.7" stroke="#2000ff"/>
<path d="M298.1 816.4l16.5-15-2.4-2-16.6 14.7z"/>
<path class="s" d="M315.5 800.7l-17.4 15.7-3.3-3.1" stroke="#0010ff"/>
<path d="M280.7 830.8l16.5-13.6-2.5-2.4-16.6 13z"/>
<path class="s" d="M298.1 816.4l-17.4 14.4-3.3-3.8" stroke="#0040ff"/>
<path d="M263.4 843.4l16.4-12-2.6-2.9-16.5 11.3z"/>
<path class="s" d="M280.7 830.8l-17.3 12.6-3.4-4.5" stroke="#0070ff"/>
<path d="M246 854.3l16.4-10.3-2.7-3.6-16.5 9.6z"/>
<path class="s" d="M263.4 843.4l-17.4 10.9-3.4-5.2" stroke="#0087ff"/>
<path d="M228.6 863.6l16.4-8.8-2.8-4.3-16.4 8.3z"/>
<path class="s" d="M246 854.3l-17.4 9.3-3.4-5.8" stroke="#009fff"/>
<path d="M211.2 871.8l16.4-7.7-2.8-4.9-16.4 7.3z"/>
<path class="s" d="M228.6 863.6l-17.4 8.2-3.3-6.2" stroke="#009fff"/>
<path d="M193.8 879.2l16.4-6.9-2.8-5.3-16.4 6.6z"/>
<path class="s" d="M211.2 871.8l-17.4 7.4-3.3-6.5" stroke="#009fff"/>
<path d="M176.5 886.1l16.3-6.5-2.8-5.6-16.4 6.3z"/>
<path class="s" d="M193.8 879.2l-17.3 6.9-3.4-6.8" stroke="#00b7ff"/>
<path d="M159.1 892.7l16.3-6.2-2.8-5.8-16.4 6.1z"/>
<path class="s" d="M176.5 886.1l-17.4 6.6-3.3-6.9" stroke="#00b7ff"/>
<path d="M141.7 899.2l16.4-6.1-2.9-5.9-16.3 5.9z"/>
<path class="s" d="M159.1 892.7l-17.4 6.5-3.3-7.1" stroke="#00b7ff"/>
<path d="M124.4 905.4l16.3-5.9-2.9-6-16.3 5.9z"/>
<path class="s" d="M141.7 899.2l-17.3 6.2-3.4-7" stroke="#00b7ff"/>
<path class="s" d="M405.7 714.2l-3.3-1.9" stroke="#ff008f"/>
<path d="M388.3 732.2l16.6-17.2-2.3-1.3-16.6 17.3z"/>
<path class="s" d="M405.7 714.2l-17.4 18-3.3-1.8" stroke="#ff00d7"/>
<path d="M371 750.2l16.5-17.1-2.3-1.3-16.6 17.2z"/>
<path class="s" d="M388.3 732.2l-17.3 18-3.4-1.8" stroke="#df00ff"/>
<path d="M353.6 768.1l16.6-17-2.4-1.3-16.6 17z"/>
<path class="s" d="M371 750.2l-17.4 17.9-3.4-1.8" stroke="#af00ff"/>
<path d="M336.2 785.8l16.6-16.8-2.4-1.3-16.6 16.7z"/>
<path class="s" d="M353.6 768.1l-17.4 17.7-3.4-2" stroke="#6800ff"/>
<path d="M318.8 802.9l16.6-16.3-2.4-1.4-16.6 16.1z"/>
<path class="s" d="M336.2 785.8l-17.4 17.1-3.3-2.2" stroke="#2000ff"/>
<path d="M301.4 819.2l16.6-15.5-2.4-1.7-16.6 15.2z"/>
<path class="s" d="M318.8 802.9l-17.4 16.3-3.3-2.8" stroke="#0010ff"/>
<path d="M284.1 834.2l16.5-14.3-2.5-2-16.6 13.7z"/>
<path class="s" d="M301.4 819.2l-17.3 15-3.4-3.4" stroke="#0040ff"/>
<path d="M266.7 847.7l16.5-12.8-2.6-2.7-16.6 12.1z"/>
<path class="s" d="M284.1 834.2l-17.4 13.5-3.3-4.3" stroke="#0070ff"/>
<path d="M249.3 859.5l16.5-11.2-2.7-3.4-16.5 10.3z"/>
<path class="s" d="M266.7 847.7l-17.4 11.8-3.3-5.2" stroke="#009fff"/>
<path d="M232 869.7l16.4-9.7-2.8-4.3-16.5 8.9z"/>
<path class="s" d="M249.3 859.5l-17.3 10.2-3.4-6.1" stroke="#00b7ff"/>
<path d="M214.6 878.6l16.4-8.4-2.9-5.1-16.4 7.7z"/>
<path class="s" d="M232 869.7l-17.4 8.9-3.4-6.8" stroke="#00b7ff"/>
<path d="M197.2 886.5l16.4-7.4-2.9-5.9-16.4 7z"/>
<path class="s" d="M214.6 878.6l-17.4 7.9-3.4-7.3" stroke="#00cfff"/>
<path d="M179.8 893.8l16.4-6.8-2.9-6.4-16.4 6.5z"/>
<path class="s" d="M197.2 886.5l-17.4 7.3-3.3-7.7" stroke="#00cfff"/>
<path d="M162.4 900.7l16.4-6.4-2.9-6.8-16.4 6.3z"/>
<path class="s" d="M179.8 893.8l-17.4 6.9-3.3-8" stroke="#00cfff"/>
<path d="M145.1 907.3l16.3-6.2-2.9-7-16.4 6.1z"/>
<path class="s" d="M162.4 900.7l-17.3 6.6-3.4-8.1" stroke="#00cfff"/>
<path d="M127.7 913.6l16.3-6-2.9-7.1-16.3 6z"/>
<path class="s" d="M145.1 907.3l-17.4 6.3-3.3-8.2" stroke="#00cfff"/>
<path class="s" d="M409 716l-3.3-1.8" stroke="#ff008f"/>
<path d="M391.7 734l16.6-17.1-2.4-1.3-16.6 17.2z"/>
<path class="s" d="M409 716l-17.3 18-3.4-1.8" stroke="#ff00d7"/>
<path d="M374.3 751.9l16.6-17.1-2.4-1.2-16.5 17.2z"/>
<path class="s" d="M391.7 734l-17.4 17.9-3.3-1.7" stroke="#df00ff"/>
<path d="M356.9 769.8l16.6-17.1-2.3-1.1-16.6 17.1z"/>
<path class="s" d="M374.3 751.9l-17.4 17.9-3.3-1.7" stroke="#af00ff"/>
<path d="M339.5 787.5l16.6-16.9-2.3-1.1-16.6 16.8z"/>
<path class="s" d="M356.9 769.8l-17.4 17.7-3.3-1.7" stroke="#6800ff"/>
<path d="M322.2 804.8l16.5-16.5-2.3-1.2-16.6 16.4z"/>
<path class="s" d="M339.5 787.5l-17.3 17.3-3.4-1.9" stroke="#2000ff"/>
<path d="M304.8 821.5l16.5-15.9-2.3-1.3-16.6 15.5z"/>
<path class="s" d="M322.2 804.8l-17.4 16.7-3.4-2.3" stroke="#0010ff"/>
<path d="M287.4 837.2l16.6-14.9-2.5-1.7-16.6 14.4z"/>
<path class="s" d="M304.8 821.5l-17.4 15.7-3.3-3" stroke="#0058ff"/>
<path d="M270 851.6l16.6-13.7-2.6-2.3-16.6 12.9z"/>
<path class="s" d="M287.4 837.2l-17.4 14.4-3.3-3.9" stroke="#0087ff"/>
<path d="M252.7 864.5l16.5-12.2-2.7-3.1-16.6 11.2z"/>
<path class="s" d="M270 851.6l-17.3 12.9-3.4-5" stroke="#009fff"/>
<path d="M235.3 875.8l16.5-10.7-2.8-4.1-16.5 9.7z"/>
<path class="s" d="M252.7 864.5l-17.4 11.3-3.3-6.1" stroke="#00cfff"/>
<path d="M217.9 885.7l16.4-9.3-2.8-5.2-16.5 8.4z"/>
<path class="s" d="M235.3 875.8l-17.4 9.9-3.3-7.1" stroke="#00cfff"/>
<path d="M200.5 894.5l16.4-8.3-2.9-6.1-16.4 7.5z"/>
<path class="s" d="M217.9 885.7l-17.4 8.8-3.3-8" stroke="#00e7ff"/>
<path d="M183.2 902.5l16.3-7.5-2.9-7-16.4 6.9z"/>
<path class="s" d="M200.5 894.5l-17.3 8-3.4-8.7" stroke="#00e7ff"/>
<path d="M165.8 909.8l16.4-6.9-3-7.6-16.4 6.4z"/>
<path class="s" d="M183.2 902.5l-17.4 7.3-3.4-9.1" stroke="#0ff"/>
<path d="M148.4 916.6l16.4-6.4-3-8.1-16.4 6.2z"/>
<path class="s" d="M165.8 909.8l-17.4 6.8-3.3-9.3" stroke="#0ff"/>
<path d="M131 923l16.4-6-3-8.3-16.3 5.9z"/>
<path class="s" d="M148.4 916.6l-17.4 6.4-3.3-9.4" stroke="#0ff"/>
<path class="s" d="M412.4 717.8l-3.4-1.8" stroke="#ff008f"/>
<path d="M395 735.6l16.6-17-2.3-1.2-16.6 17.1z"/>
<path class="s" d="M412.4 717.8l-17.4 17.8-3.3-1.6" stroke="#ff00d7"/>
<path d="M377.6 753.4l16.6-17-2.3-1.1-16.5 17.1z"/>
<path class="s" d="M395 735.6l-17.4 17.8-3.3-1.5" stroke="#f700ff"/>
<path d="M360.3 771.2l16.5-16.9-2.3-1.1-16.5 17z"/>
<path class="s" d="M377.6 753.4l-17.3 17.8-3.4-1.4" stroke="#af00ff"/>
<path d="M342.9 788.9l16.5-16.8-2.2-1-16.6 16.8z"/>
<path class="s" d="M360.3 771.2l-17.4 17.7-3.4-1.4" stroke="#6800ff"/>
<path d="M325.5 806.4l16.6-16.6-2.3-1-16.6 16.5z"/>
<path class="s" d="M342.9 788.9l-17.4 17.5-3.3-1.6" stroke="#2000ff"/>
<path d="M308.2 823.3l16.5-16.1-2.3-1.1-16.6 15.9z"/>
<path class="s" d="M325.5 806.4l-17.3 16.9-3.4-1.8" stroke="#0010ff"/>
<path d="M290.8 839.6l16.5-15.5-2.3-1.3-16.7 15.1z"/>
<path class="s" d="M308.2 823.3l-17.4 16.3-3.4-2.4" stroke="#0058ff"/>
<path d="M273.4 854.9l16.5-14.5-2.4-1.8-16.7 13.8z"/>
<path class="s" d="M290.8 839.6l-17.4 15.3-3.4-3.3" stroke="#0087ff"/>
<path d="M256 868.8l16.5-13.3-2.5-2.5-16.7 12.4z"/>
<path class="s" d="M273.4 854.9l-17.4 13.9-3.3-4.3" stroke="#00b7ff"/>
<path d="M238.6 881.4l16.5-11.9-2.7-3.5-16.5 10.8z"/>
<path class="s" d="M256 868.8l-17.4 12.6-3.3-5.6" stroke="#00cfff"/>
<path d="M221.3 892.6l16.4-10.6-2.8-4.7-16.5 9.4z"/>
<path class="s" d="M238.6 881.4l-17.3 11.2-3.4-6.9" stroke="#0ff"/>
<path d="M203.9 902.5l16.4-9.4-2.9-5.9-16.4 8.4z"/>
<path class="s" d="M221.3 892.6l-17.4 9.9-3.4-8" stroke="#00ffe7"/>
<path d="M186.5 911.3l16.4-8.3-2.9-7-16.4 7.5z"/>
<path class="s" d="M203.9 902.5l-17.4 8.8-3.3-8.8" stroke="#00ffe7"/>
<path d="M169.2 919.3l16.3-7.5-3-7.9-16.3 6.9z"/>
<path class="s" d="M186.5 911.3l-17.3 8-3.4-9.5" stroke="#00ffcf"/>
<path d="M151.8 926.5l16.3-6.8-3-8.5-16.3 6.4z"/>
<path class="s" d="M169.2 919.3l-17.4 7.2-3.4-9.9" stroke="#00ffcf"/>
<path d="M134.4 933l16.3-6.2-3-8.8-16.3 6z"/>
<path class="s" d="M151.8 926.5l-17.4 6.5-3.4-10" stroke="#00ffcf"/>
<path class="s" d="M415.8 719.5l-3.4-1.7" stroke="#ff008f"/>
<path d="M398.4 737.2l16.5-16.8-2.3-1.2-16.5 16.9z"/>
<path class="s" d="M415.8 719.5l-17.4 17.7-3.4-1.6" stroke="#ff00bf"/>
<path d="M381 754.9l16.6-16.9-2.3-1.1-16.6 17z"/>
<path class="s" d="M398.4 737.2l-17.4 17.7-3.4-1.5" stroke="#f700ff"/>
<path d="M363.6 772.5l16.6-16.8-2.3-1-16.5 17z"/>
<path class="s" d="M381 754.9l-17.4 17.6-3.3-1.3" stroke="#af00ff"/>
<path d="M346.2 790.2l16.6-16.8-2.3-.9-16.5 16.8z"/>
<path class="s" d="M363.6 772.5l-17.4 17.7-3.3-1.3" stroke="#6800ff"/>
<path d="M328.9 807.6l16.5-16.6-2.2-.8-16.5 16.6z"/>
<path class="s" d="M346.2 790.2l-17.3 17.4-3.4-1.2" stroke="#2000ff"/>
<path d="M311.5 824.8l16.5-16.3-2.2-.9-16.5 16.2z"/>
<path class="s" d="M328.9 807.6l-17.4 17.2-3.3-1.5" stroke="#0010ff"/>
<path d="M294.1 841.4l16.5-15.8-2.2-1-16.6 15.6z"/>
<path class="s" d="M311.5 824.8l-17.4 16.6-3.3-1.8" stroke="#0058ff"/>
<path d="M276.8 857.2l16.5-15-2.4-1.3-16.6 14.6z"/>
<path class="s" d="M294.1 841.4l-17.3 15.8-3.4-2.3" stroke="#0087ff"/>
<path d="M259.4 872.1l16.5-14.1-2.5-1.8-16.6 13.4z"/>
<path class="s" d="M276.8 857.2l-17.4 14.9-3.4-3.3" stroke="#00b7ff"/>
<path d="M242 885.8l16.5-13-2.6-2.5-16.6 12z"/>
<path class="s" d="M259.4 872.1l-17.4 13.7-3.4-4.4" stroke="#00e7ff"/>
<path d="M224.6 898.2l16.5-11.7-2.7-3.6-16.6 10.6z"/>
<path class="s" d="M242 885.8l-17.4 12.4-3.3-5.6" stroke="#00ffe7"/>
<path d="M207.2 909.3l16.5-10.5-2.8-4.7-16.5 9.4z"/>
<path class="s" d="M224.6 898.2l-17.4 11.1-3.3-6.8" stroke="#00ffcf"/>
<path d="M189.9 919.2l16.4-9.3-2.9-5.9-16.4 8.3z"/>
<path class="s" d="M207.2 909.3l-17.3 9.9-3.4-7.9" stroke="#00ffb7"/>
<path d="M172.5 927.9l16.4-8.2-2.9-6.9-16.5 7.5z"/>
<path class="s" d="M189.9 919.2l-17.4 8.7-3.3-8.6" stroke="#00ffb7"/>
<path d="M155.1 935.6l16.4-7.2-3-7.7-16.3 6.8z"/>
<path class="s" d="M172.5 927.9l-17.4 7.7-3.3-9.1" stroke="#00ff9f"/>
<path d="M137.8 942.3l16.3-6.3-3-8.1-16.3 6.1z"/>
<path class="s" d="M155.1 935.6l-17.3 6.7-3.4-9.3" stroke="#00ff9f"/>
<path class="s" d="M419.1 721.3l-3.3-1.8" stroke="#ff008f"/>
<path d="M401.7 738.7l16.6-16.6-2.3-1.2-16.6 16.8z"/>
<path class="s" d="M419.1 721.3l-17.4 17.4-3.3-1.5" stroke="#ff00bf"/>
<path d="M384.4 756.3l16.5-16.7-2.3-1.1-16.5 16.8z"/>
<path class="s" d="M401.7 738.7l-17.3 17.6-3.4-1.4" stroke="#f700ff"/>
<path d="M367 773.8l16.5-16.7-2.2-.9-16.5 16.8z"/>
<path class="s" d="M384.4 756.3l-17.4 17.5-3.4-1.3" stroke="#af00ff"/>
<path d="M349.6 791.3l16.5-16.7-2.2-.8-16.5 16.7z"/>
<path class="s" d="M367 773.8l-17.4 17.5-3.4-1.1" stroke="#6800ff"/>
<path d="M332.2 808.6l16.5-16.5-2.1-.7-16.5 16.6z"/>
<path class="s" d="M349.6 791.3l-17.4 17.3-3.3-1" stroke="#3800ff"/>
<path d="M314.8 825.8l16.5-16.3-2.1-.6-16.5 16.2z"/>
<path class="s" d="M332.2 808.6l-17.4 17.2-3.3-1" stroke="#0010ff"/>
<path d="M297.5 842.5l16.4-15.9-2.1-.6-16.5 15.8z"/>
<path class="s" d="M314.8 825.8l-17.3 16.7-3.4-1.1" stroke="#0058ff"/>
<path d="M280.1 858.7l16.5-15.3-2.2-.8-16.5 15.1z"/>
<path class="s" d="M297.5 842.5l-17.4 16.2-3.3-1.5" stroke="#0087ff"/>
<path d="M262.7 874.1l16.5-14.6-2.3-1-16.5 14.2z"/>
<path class="s" d="M280.1 858.7l-17.4 15.4-3.3-2" stroke="#00b7ff"/>
<path d="M245.4 888.6l16.4-13.7-2.3-1.4-16.6 13z"/>
<path class="s" d="M262.7 874.1l-17.3 14.5-3.4-2.8" stroke="#00e7ff"/>
<path d="M228 901.9l16.5-12.6-2.5-2.1-16.6 11.8z"/>
<path class="s" d="M245.4 888.6l-17.4 13.3-3.4-3.7" stroke="#00ffe7"/>
<path d="M210.6 914l16.5-11.4-2.7-2.9-16.5 10.5z"/>
<path class="s" d="M228 901.9l-17.4 12.1-3.4-4.7" stroke="#00ffcf"/>
<path d="M193.2 924.8l16.5-10.2-2.8-3.8-16.5 9.3z"/>
<path class="s" d="M210.6 914l-17.4 10.8-3.3-5.6" stroke="#00ffb7"/>
<path d="M175.8 934.2l16.5-8.9-2.8-4.7-16.5 8.3z"/>
<path class="s" d="M193.2 924.8l-17.4 9.4-3.3-6.3" stroke="#00ff9f"/>
<path d="M158.5 942.4l16.4-7.7-2.9-5.4-16.4 7.3z"/>
<path class="s" d="M175.8 934.2l-17.3 8.2-3.4-6.8" stroke="#00ff87"/>
<path d="M141.1 949.3l16.3-6.5-2.8-5.8-16.4 6.3z"/>
<path class="s" d="M158.5 942.4l-17.4 6.9-3.3-7" stroke="#00ff87"/>
<path class="s" d="M422.4 723l-3.3-1.7" stroke="#ff008f"/>
<path d="M405.1 740.3l16.5-16.5-2.3-1.2-16.5 16.6z"/>
<path class="s" d="M422.4 723l-17.3 17.3-3.4-1.6" stroke="#ff00bf"/>
<path d="M387.7 757.6l16.5-16.5-2.2-1-16.5 16.6z"/>
<path class="s" d="M405.1 740.3l-17.4 17.3-3.3-1.3" stroke="#f700ff"/>
<path d="M370.3 774.9l16.6-16.5-2.3-.9-16.5 16.7z"/>
<path class="s" d="M387.7 757.6l-17.4 17.3-3.3-1.1" stroke="#af00ff"/>
<path d="M353 792.2l16.5-16.4-2.2-.8-16.5 16.6z"/>
<path class="s" d="M370.3 774.9l-17.3 17.3-3.4-.9" stroke="#8000ff"/>
<path d="M335.6 809.4l16.5-16.3-2.2-.6-16.4 16.4z"/>
<path class="s" d="M353 792.2l-17.4 17.2-3.4-.8" stroke="#3800ff"/>
<path d="M318.2 826.5l16.4-16.1-2-.6-16.5 16.2z"/>
<path class="s" d="M335.6 809.4l-17.4 17.1-3.4-.7" stroke="#0010ff"/>
<path d="M300.8 843.2l16.4-15.8-2-.4-16.4 15.8z"/>
<path class="s" d="M318.2 826.5l-17.4 16.7-3.3-.7" stroke="#0040ff"/>
<path d="M283.4 859.4l16.4-15.3-2-.4-16.4 15.3z"/>
<path class="s" d="M300.8 843.2l-17.4 16.2-3.3-.7" stroke="#0087ff"/>
<path d="M266.1 875l16.3-14.7-2-.4-16.4 14.6z"/>
<path class="s" d="M283.4 859.4l-17.3 15.6-3.4-.9" stroke="#00b7ff"/>
<path d="M248.7 889.7l16.3-13.8-2-.6-16.4 13.7z"/>
<path class="s" d="M266.1 875l-17.4 14.7-3.3-1.1" stroke="#00e7ff"/>
<path d="M231.3 903.5l16.4-13-2.1-.7-16.5 12.6z"/>
<path class="s" d="M248.7 889.7l-17.4 13.8-3.3-1.6" stroke="#00ffe7"/>
<path d="M214 916.1l16.3-11.9-2.2-1-16.5 11.4z"/>
<path class="s" d="M231.3 903.5l-17.3 12.6-3.4-2.1" stroke="#00ffcf"/>
<path d="M196.6 927.4l16.3-10.7-2.3-1.4-16.4 10.2z"/>
<path class="s" d="M214 916.1l-17.4 11.3-3.4-2.6" stroke="#00ff9f"/>
<path d="M179.2 937.3l16.3-9.3-2.4-1.9-16.4 8.9z"/>
<path class="s" d="M196.6 927.4l-17.4 9.9-3.4-3.1" stroke="#00ff9f"/>
<path d="M161.8 945.7l16.3-7.9-2.4-2.2-16.4 7.6z"/>
<path class="s" d="M179.2 937.3l-17.4 8.4-3.3-3.3" stroke="#00ff87"/>
<path d="M144.4 952.7l16.3-6.5-2.5-2.5-16.3 6.4z"/>
<path class="s" d="M161.8 945.7l-17.4 7-3.3-3.4" stroke="#00ff87"/>
<path class="s" d="M425.8 724.6l-3.4-1.6" stroke="#ff0078"/>
<path d="M408.4 741.8l16.6-16.3-2.3-1.2-16.6 16.5z"/>
<path class="s" d="M425.8 724.6l-17.4 17.2-3.3-1.5" stroke="#ff00bf"/>
<path d="M391 758.9l16.6-16.3-2.3-1-16.5 16.4z"/>
<path class="s" d="M408.4 741.8l-17.4 17.1-3.3-1.3" stroke="#f700ff"/>
<path d="M373.7 776.1l16.5-16.3-2.2-.9-16.5 16.4z"/>
<path class="s" d="M391 758.9l-17.3 17.2-3.4-1.2" stroke="#c700ff"/>
<path d="M356.3 793.2l16.5-16.3-2.2-.7-16.4 16.4z"/>
<path class="s" d="M373.7 776.1l-17.4 17.1-3.3-1" stroke="#8000ff"/>
<path d="M338.9 810.1l16.5-16.1-2.1-.5-16.4 16.2z"/>
<path class="s" d="M356.3 793.2l-17.4 16.9-3.3-.7" stroke="#3800ff"/>
<path d="M321.5 826.9l16.5-15.8-2.1-.5-16.3 16.1z"/>
<path class="s" d="M338.9 810.1l-17.4 16.8-3.3-.4" stroke="#0800ff"/>
<path d="M304.2 843.4l16.3-15.5-1.9-.3-16.3 15.7z"/>
<path class="s" d="M321.5 826.9l-17.3 16.5-3.4-.2" stroke="#0040ff"/>
<path d="M286.8 859.5l16.3-15.1-1.9-.1-16.2 15.1z"/>
<path class="s" d="M304.2 843.4l-17.4 16.1-3.4-.1" stroke="#0070ff"/>
<path d="M269.4 875l16.2-14.4-1.7-.1-16.2 14.5z"/>
<path class="s" d="M286.8 859.5l-17.4 15.5-3.3 0" stroke="#009fff"/>
<path d="M252 889.6l16.1-13.5-1.6 0-16 13.6z"/>
<path class="s" d="M269.4 875l-17.4 14.6-3.3 .1" stroke="#00cfff"/>
<path d="M234.7 903.4l15.9-12.6-1.5 0-15.9 12.6z"/>
<path class="s" d="M252 889.6l-17.3 13.8-3.4 .1" stroke="#0ff"/>
<path d="M217.3 916l15.8-11.5-1.4 .1-15.8 11.4z"/>
<path class="s" d="M234.7 903.4l-17.4 12.6-3.3 .1" stroke="#00ffcf"/>
<path d="M199.9 927.4l15.7-10.3-1.3 .1-15.7 10.2z"/>
<path class="s" d="M217.3 916l-17.4 11.4-3.3 0" stroke="#00ffb7"/>
<path d="M182.5 937.3l15.5-8.8-1.1 0-15.6 8.8z"/>
<path class="s" d="M199.9 927.4l-17.4 9.9-3.3 0" stroke="#00ff9f"/>
<path d="M165.2 945.9l15.2-7.5-1 0-15.2 7.4z"/>
<path class="s" d="M182.5 937.3l-17.3 8.6-3.4-.2" stroke="#00ff87"/>
<path d="M147.8 952.8l14.9-5.9-.7-.1-14.9 6z"/>
<path class="s" d="M165.2 945.9l-17.4 6.9-3.4-.1" stroke="#00ff87"/>
<path class="s" d="M429.2 726.3l-3.4-1.7" stroke="#ff0078"/>
<path d="M411.8 743.3l16.5-16.1-2.3-1.2-16.5 16.3z"/>
<path class="s" d="M429.2 726.3l-17.4 17-3.4-1.5" stroke="#ff00bf"/>
<path d="M394.4 760.3l16.5-16.2-2.2-1-16.5 16.3z"/>
<path class="s" d="M411.8 743.3l-17.4 17-3.4-1.4" stroke="#f700ff"/>
<path d="M377 777.2l16.5-16.1-2.2-.9-16.5 16.3z"/>
<path class="s" d="M394.4 760.3l-17.4 16.9-3.3-1.1" stroke="#c700ff"/>
<path d="M359.6 794l16.5-16-2.1-.7-16.5 16.2z"/>
<path class="s" d="M377 777.2l-17.4 16.8-3.3-.8" stroke="#8000ff"/>
<path d="M342.3 810.8l16.4-15.9-2.1-.5-16.4 16z"/>
<path class="s" d="M359.6 794l-17.3 16.8-3.4-.7" stroke="#5000ff"/>
<path d="M324.9 827.3l16.4-15.6-2-.4-16.3 15.8z"/>
<path class="s" d="M342.3 810.8l-17.4 16.5-3.4-.4" stroke="#0800ff"/>
<path d="M307.5 843.5l16.3-15.2-1.9-.2-16.2 15.4z"/>
<path class="s" d="M324.9 827.3l-17.4 16.2-3.3-.1" stroke="#0028ff"/>
<path d="M290.2 859.3l16.1-14.7-1.7-.1-16 14.9z"/>
<path class="s" d="M307.5 843.5l-17.3 15.8-3.4 .2" stroke="#0070ff"/>
<path d="M272.8 874.4l16-13.9-1.5 .1-15.9 14z"/>
<path class="s" d="M290.2 859.3l-17.4 15.1-3.4 .6" stroke="#009fff"/>
<path d="M255.4 888.8l15.7-13-1.2 .2-15.5 13.1z"/>
<path class="s" d="M272.8 874.4l-17.4 14.4-3.4 .8" stroke="#00cfff"/>
<path d="M238 902.3l15.3-11.8-.8 .2-14.8 11.7z"/>
<path class="s" d="M255.4 888.8l-17.4 13.5-3.3 1.1" stroke="#0ff"/>
<path class="s" d="M238 902.3l-17.4 12.4-3.3 1.3" stroke="#00ffe7"/>
<path class="s" d="M220.6 914.7l-17.3 11.1-3.4 1.6" stroke="#00ffcf"/>
<path class="s" d="M203.3 925.8l-17.4 9.9-3.4 1.6" stroke="#00ffb7"/>
<path class="s" d="M185.9 935.7l-17.4 8.4-3.3 1.8" stroke="#00ff9f"/>
<path class="s" d="M168.5 944.1l-17.3 6.9-3.4 1.8" stroke="#00ff9f"/>
<path class="s" d="M432.5 728l-3.3-1.7" stroke="#ff0078"/>
<path d="M415.1 744.8l16.6-16-2.3-1.1-16.6 16.1z"/>
<path class="s" d="M432.5 728l-17.4 16.8-3.3-1.5" stroke="#ff00bf"/>
<path d="M397.8 761.6l16.5-16-2.3-1-16.5 16.1z"/>
<path class="s" d="M415.1 744.8l-17.3 16.8-3.4-1.3" stroke="#ff00ef"/>
<path d="M380.4 778.3l16.5-15.9-2.2-.9-16.5 16.1z"/>
<path class="s" d="M397.8 761.6l-17.4 16.7-3.4-1.1" stroke="#c700ff"/>
<path d="M363 794.9l16.5-15.8-2.2-.7-16.4 16z"/>
<path class="s" d="M380.4 778.3l-17.4 16.6-3.4-.9" stroke="#8000ff"/>
<path d="M345.6 811.4l16.5-15.6-2.1-.5-16.4 15.7z"/>
<path class="s" d="M363 794.9l-17.4 16.5-3.3-.6" stroke="#5000ff"/>
<path d="M328.2 827.6l16.4-15.3-2-.4-16.2 15.5z"/>
<path class="s" d="M345.6 811.4l-17.4 16.2-3.3-.3" stroke="#2000ff"/>
<path d="M310.9 843.5l16.2-14.9-1.8-.2-16.1 15.1z"/>
<path class="s" d="M328.2 827.6l-17.3 15.9-3.4 0" stroke="#0028ff"/>
<path d="M293.5 858.9l16.1-14.3-1.6 0-16 14.4z"/>
<path class="s" d="M310.9 843.5l-17.4 15.4-3.3 .4" stroke="#0058ff"/>
<path d="M276.1 873.7l15.9-13.5-1.4 .1-15.6 13.6z"/>
<path class="s" d="M293.5 858.9l-17.4 14.8-3.3 .7" stroke="#0087ff"/>
<path d="M258.8 887.7l15.4-12.5-.9 .2-15 12.4z"/>
<path class="s" d="M276.1 873.7l-17.3 14-3.4 1.1" stroke="#00b7ff"/>
<path class="s" d="M258.8 887.7l-17.4 13.1-3.4 1.5" stroke="#00e7ff"/>
<path class="s" d="M241.4 900.8l-17.4 12-3.4 1.9" stroke="#0ff"/>
<path class="s" d="M224 912.8l-17.4 10.9-3.3 2.1" stroke="#00ffe7"/>
<path class="s" d="M206.6 923.7l-17.4 9.6-3.3 2.4" stroke="#00ffcf"/>
<path class="s" d="M189.2 933.3l-17.3 8.3-3.4 2.5" stroke="#00ffb7"/>
<path d="M154.5 948.5l13.5-5.4 0 0-13.6 5.5z"/>
<path class="s" d="M171.9 941.6l-17.4 6.9-3.3 2.5" stroke="#00ffb7"/>
<path class="s" d="M435.8 729.7l-3.3-1.7" stroke="#ff0078"/>
<path d="M418.5 746.4l16.5-15.8-2.3-1.2-16.5 15.9z"/>
<path class="s" d="M435.8 729.7l-17.3 16.7-3.4-1.6" stroke="#ff00bf"/>
<path d="M401.1 762.9l16.5-15.7-2.3-1.1-16.4 15.9z"/>
<path class="s" d="M418.5 746.4l-17.4 16.5-3.3-1.3" stroke="#ff00ef"/>
<path d="M383.7 779.4l16.5-15.6-2.2-.9-16.4 15.8z"/>
<path class="s" d="M401.1 762.9l-17.4 16.5-3.3-1.1" stroke="#c700ff"/>
<path d="M366.4 795.8l16.4-15.5-2.1-.8-16.5 15.7z"/>
<path class="s" d="M383.7 779.4l-17.3 16.4-3.4-.9" stroke="#9700ff"/>
<path d="M349 812l16.4-15.3-2.1-.6-16.3 15.5z"/>
<path class="s" d="M366.4 795.8l-17.4 16.2-3.4-.6" stroke="#5000ff"/>
<path d="M331.6 827.9l16.4-15-2-.4-16.3 15.2z"/>
<path class="s" d="M349 812l-17.4 15.9-3.4-.3" stroke="#2000ff"/>
<path d="M314.2 843.4l16.3-14.5-1.9-.2-16.1 14.7z"/>
<path class="s" d="M331.6 827.9l-17.4 15.5-3.3 .1" stroke="#0010ff"/>
<path d="M296.8 858.4l16.1-13.9-1.6 .1-15.9 14z"/>
<path class="s" d="M314.2 843.4l-17.4 15-3.3 .5" stroke="#0040ff"/>
<path d="M279.5 872.8l15.8-13-1.3 .1-15.5 13.2z"/>
<path class="s" d="M296.8 858.4l-17.3 14.4-3.4 .9" stroke="#0070ff"/>
<path d="M262.1 886.5l15.3-12-.8 .2-14.6 11.8z"/>
<path class="s" d="M279.5 872.8l-17.4 13.7-3.3 1.2" stroke="#009fff"/>
<path class="s" d="M262.1 886.5l-17.4 12.7-3.3 1.6" stroke="#00cfff"/>
<path class="s" d="M244.7 899.2l-17.3 11.6-3.4 2" stroke="#00e7ff"/>
<path class="s" d="M227.4 910.8l-17.4 10.6-3.4 2.3" stroke="#0ff"/>
<path class="s" d="M210 921.4l-17.4 9.4-3.4 2.5" stroke="#00ffe7"/>
<path class="s" d="M192.6 930.8l-17.4 8.1-3.3 2.7" stroke="#00ffe7"/>
<path d="M157.8 945.7l13.9-5.5-.4 .4-14 5.5z"/>
<path class="s" d="M175.2 938.9l-17.4 6.8-3.3 2.8" stroke="#00ffcf"/>
<path class="s" d="M439.2 731.5l-3.4-1.8" stroke="#ff0078"/>
<path d="M421.8 747.9l16.6-15.6-2.4-1.2-16.5 15.8z"/>
<path class="s" d="M439.2 731.5l-17.4 16.4-3.3-1.5" stroke="#ff00bf"/>
<path d="M404.4 764.3l16.6-15.6-2.3-1-16.5 15.7z"/>
<path class="s" d="M421.8 747.9l-17.4 16.4-3.3-1.4" stroke="#ff00ef"/>
<path d="M387.1 780.6l16.5-15.5-2.3-.9-16.4 15.6z"/>
<path class="s" d="M404.4 764.3l-17.3 16.3-3.4-1.2" stroke="#c700ff"/>
<path d="M369.7 796.7l16.5-15.3-2.2-.7-16.4 15.4z"/>
<path class="s" d="M387.1 780.6l-17.4 16.1-3.3-.9" stroke="#9700ff"/>
<path d="M352.3 812.6l16.4-15-2-.6-16.4 15.2z"/>
<path class="s" d="M369.7 796.7l-17.4 15.9-3.3-.6" stroke="#6800ff"/>
<path d="M335 828.2l16.3-14.7-2-.4-16.2 14.9z"/>
<path class="s" d="M352.3 812.6l-17.3 15.6-3.4-.3" stroke="#2000ff"/>
<path d="M317.6 843.4l16.2-14.2-1.8-.2-16.1 14.4z"/>
<path class="s" d="M335 828.2l-17.4 15.2-3.4 0" stroke="#0010ff"/>
<path d="M300.2 858l16-13.5-1.6 0-15.8 13.7z"/>
<path class="s" d="M317.6 843.4l-17.4 14.6-3.4 .4" stroke="#0040ff"/>
<path d="M282.8 872l15.8-12.7-1.3 .2-15.4 12.7z"/>
<path class="s" d="M300.2 858l-17.4 14-3.3 .8" stroke="#0070ff"/>
<path d="M265.4 885.2l15.2-11.5-.6 .1-14.5 11.4z"/>
<path class="s" d="M282.8 872l-17.4 13.2-3.3 1.3" stroke="#0087ff"/>
<path class="s" d="M265.4 885.2l-17.3 12.3-3.4 1.7" stroke="#00b7ff"/>
<path class="s" d="M248.1 897.5l-17.4 11.3-3.3 2" stroke="#00cfff"/>
<path class="s" d="M230.7 908.8l-17.4 10.3-3.3 2.3" stroke="#00e7ff"/>
<path class="s" d="M213.3 919.1l-17.3 9.1-3.4 2.6" stroke="#0ff"/>
<path class="s" d="M196 928.2l-17.4 8-3.4 2.7" stroke="#0ff"/>
<path d="M161.2 943l13.9-5.5-.4 .4-14 5.5z"/>
<path class="s" d="M178.6 936.2l-17.4 6.8-3.4 2.7" stroke="#0ff"/>
<path class="s" d="M442.6 733.2l-3.4-1.7" stroke="#ff0078"/>
<path d="M425.2 749.5l16.5-15.5-2.3-1.2-16.5 15.6z"/>
<path class="s" d="M442.6 733.2l-17.4 16.3-3.4-1.6" stroke="#ff00bf"/>
<path d="M407.8 765.7l16.5-15.4-2.3-1.1-16.4 15.5z"/>
<path class="s" d="M425.2 749.5l-17.4 16.2-3.4-1.4" stroke="#ff00ef"/>
<path d="M390.4 781.7l16.5-15.2-2.2-.9-16.5 15.4z"/>
<path class="s" d="M407.8 765.7l-17.4 16-3.3-1.1" stroke="#df00ff"/>
<path d="M373 797.6l16.5-15-2.2-.8-16.4 15.2z"/>
<path class="s" d="M390.4 781.7l-17.4 15.9-3.3-.9" stroke="#9700ff"/>
<path d="M355.7 813.2l16.4-14.7-2.1-.6-16.3 14.9z"/>
<path class="s" d="M373 797.6l-17.3 15.6-3.4-.6" stroke="#6800ff"/>
<path d="M338.3 828.5l16.3-14.3-1.9-.4-16.3 14.5z"/>
<path class="s" d="M355.7 813.2l-17.4 15.3-3.3-.3" stroke="#3800ff"/>
<path d="M320.9 843.3l16.2-13.8-1.8-.2-16 14z"/>
<path class="s" d="M338.3 828.5l-17.4 14.8-3.3 .1" stroke="#0800ff"/>
<path d="M303.6 857.6l16-13.2-1.6 .1-15.8 13.3z"/>
<path class="s" d="M320.9 843.3l-17.3 14.3-3.4 .4" stroke="#0028ff"/>
<path d="M286.2 871.2l15.7-12.3-1.3 .2-15.3 12.3z"/>
<path class="s" d="M303.6 857.6l-17.4 13.6-3.4 .8" stroke="#0058ff"/>
<path d="M268.8 884l15.1-11.1-.6 .1-14.3 10.9z"/>
<path class="s" d="M286.2 871.2l-17.4 12.8-3.4 1.2" stroke="#0087ff"/>
<path class="s" d="M268.8 884l-17.4 11.9-3.3 1.6" stroke="#009fff"/>
<path d="M234 906.8l8.7-5.4 5.9-2.9 7.7-5z"/>
<path class="s" d="M251.4 895.9l-17.4 10.9-3.3 2" stroke="#00b7ff"/>
<path class="s" d="M234 906.8l-17.3 10-3.4 2.3" stroke="#00cfff"/>
<path class="s" d="M216.7 916.8l-17.4 8.9-3.3 2.5" stroke="#00e7ff"/>
<path class="s" d="M199.3 925.7l-17.4 7.8-3.3 2.7" stroke="#00e7ff"/>
<path d="M164.6 940.2l13.9-5.4-.5 .4-14 5.5z"/>
<path class="s" d="M181.9 933.5l-17.3 6.7-3.4 2.8" stroke="#00e7ff"/>
<path class="s" d="M445.9 735l-3.3-1.8" stroke="#ff0078"/>
<path d="M428.5 751.1l16.5-15.3-2.3-1.3-16.5 15.5z"/>
<path class="s" d="M445.9 735l-17.4 16.1-3.3-1.6" stroke="#ff00a7"/>
<path d="M411.2 767.1l16.5-15.2-2.3-1.1-16.5 15.3z"/>
<path class="s" d="M428.5 751.1l-17.3 16-3.4-1.4" stroke="#ff00ef"/>
<path d="M393.8 783l16.5-15.1-2.3-.9-16.4 15.2z"/>
<path class="s" d="M411.2 767.1l-17.4 15.9-3.4-1.3" stroke="#df00ff"/>
<path d="M376.4 798.6l16.5-14.8-2.2-.8-16.4 15z"/>
<path class="s" d="M393.8 783l-17.4 15.6-3.4-1" stroke="#af00ff"/>
<path d="M359 814l16.4-14.5-2.1-.6-16.3 14.6z"/>
<path class="s" d="M376.4 798.6l-17.4 15.4-3.3-.8" stroke="#6800ff"/>
<path d="M341.6 828.9l16.4-14-2-.5-16.2 14.3z"/>
<path class="s" d="M359 814l-17.4 14.9-3.3-.4" stroke="#3800ff"/>
<path d="M324.3 843.4l16.2-13.5-1.9-.2-16 13.7z"/>
<path class="s" d="M341.6 828.9l-17.3 14.5-3.4-.1" stroke="#0800ff"/>
<path d="M306.9 857.3l16-12.8-1.6 0-15.8 12.9z"/>
<path class="s" d="M324.3 843.4l-17.4 13.9-3.3 .3" stroke="#0028ff"/>
<path d="M289.5 870.4l15.7-11.9-1.2 .2-15.3 11.9z"/>
<path class="s" d="M306.9 857.3l-17.4 13.1-3.3 .8" stroke="#0040ff"/>
<path d="M272.2 882.8l15-10.7-.6 .1-14.2 10.5z"/>
<path class="s" d="M289.5 870.4l-17.3 12.4-3.4 1.2" stroke="#0070ff"/>
<path class="s" d="M272.2 882.8l-17.4 11.5-3.4 1.6" stroke="#0087ff"/>
<path class="s" d="M254.8 894.3l-17.4 10.5-3.4 2" stroke="#009fff"/>
<path d="M220 914.5l-13.8 7.6 27.3-16.2-6.1 3.5z"/>
<path class="s" d="M237.4 904.8l-17.4 9.7-3.3 2.3" stroke="#00b7ff"/>
<path class="s" d="M220 914.5l-17.4 8.6-3.3 2.6" stroke="#00cfff"/>
<path class="s" d="M202.6 923.1l-17.3 7.7-3.4 2.7" stroke="#00cfff"/>
<path d="M167.9 937.5l14-5.4-.5 .4-14.1 5.5z"/>
<path class="s" d="M185.3 930.8l-17.4 6.7-3.3 2.7" stroke="#00cfff"/>
<path class="s" d="M449.2 736.8l-3.3-1.8" stroke="#ff0078"/>
<path d="M431.9 752.7l16.5-15.2-2.3-1.2-16.5 15.3z"/>
<path class="s" d="M449.2 736.8l-17.3 15.9-3.4-1.6" stroke="#ff00a7"/>
<path d="M414.5 768.6l16.5-15.1-2.3-1.1-16.5 15.2z"/>
<path class="s" d="M431.9 752.7l-17.4 15.9-3.3-1.5" stroke="#ff00ef"/>
<path d="M397.1 784.3l16.5-14.9-2.2-1-16.5 15z"/>
<path class="s" d="M414.5 768.6l-17.4 15.7-3.3-1.3" stroke="#df00ff"/>
<path d="M379.8 799.7l16.4-14.6-2.2-.9-16.4 14.8z"/>
<path class="s" d="M397.1 784.3l-17.3 15.4-3.4-1.1" stroke="#af00ff"/>
<path d="M362.4 814.8l16.4-14.3-2.1-.6-16.4 14.4z"/>
<path class="s" d="M379.8 799.7l-17.4 15.1-3.4-.8" stroke="#8000ff"/>
<path d="M345 829.4l16.3-13.7-2-.5-16.2 13.9z"/>
<path class="s" d="M362.4 814.8l-17.4 14.6-3.4-.5" stroke="#5000ff"/>
<path d="M327.6 843.5l16.2-13.1-1.8-.3-16.1 13.4z"/>
<path class="s" d="M345 829.4l-17.4 14.1-3.3-.1" stroke="#2000ff"/>
<path d="M310.2 857l16.1-12.4-1.7-.1-15.7 12.6z"/>
<path class="s" d="M327.6 843.5l-17.4 13.5-3.3 .3" stroke="#0010ff"/>
<path d="M292.9 869.7l15.7-11.5-1.3 .1-15.3 11.6z"/>
<path class="s" d="M310.2 857l-17.3 12.7-3.4 .7" stroke="#0040ff"/>
<path d="M275.5 881.7l15.1-10.4-.6 .1-14.3 10.2z"/>
<path class="s" d="M292.9 869.7l-17.4 12-3.3 1.1" stroke="#0058ff"/>
<path class="s" d="M275.5 881.7l-17.4 11-3.3 1.6" stroke="#0070ff"/>
<path d="M240.8 902.9l8.2-4.8 6.3-2.9 13.5-8.2z"/>
<path class="s" d="M258.1 892.7l-17.3 10.2-3.4 1.9" stroke="#0087ff"/>
<path class="s" d="M240.8 902.9l-17.4 9.3-3.4 2.3" stroke="#009fff"/>
<path class="s" d="M223.4 912.2l-17.4 8.4-3.4 2.5" stroke="#009fff"/>
<path class="s" d="M206 920.6l-17.4 7.6-3.3 2.6" stroke="#00b7ff"/>
<path d="M171.2 934.8l13.9-5.3-.4 .3-13.9 5.4z"/>
<path class="s" d="M188.6 928.2l-17.4 6.6-3.3 2.7" stroke="#00b7ff"/>
<path class="s" d="M452.6 738.6l-3.4-1.8" stroke="#ff0078"/>
<path d="M435.2 754.4l16.5-15.1-2.3-1.2-16.5 15.2z"/>
<path class="s" d="M452.6 738.6l-17.4 15.8-3.3-1.7" stroke="#ff00a7"/>
<path d="M417.8 770.1l16.6-14.9-2.3-1.1-16.5 15z"/>
<path class="s" d="M435.2 754.4l-17.4 15.7-3.3-1.5" stroke="#ff00ef"/>
<path d="M400.5 785.6l16.5-14.7-2.3-1-16.4 14.8z"/>
<path class="s" d="M417.8 770.1l-17.3 15.5-3.4-1.3" stroke="#df00ff"/>
<path d="M383.1 800.9l16.4-14.4-2.2-.9-16.4 14.5z"/>
<path class="s" d="M400.5 785.6l-17.4 15.3-3.3-1.2" stroke="#af00ff"/>
<path d="M365.7 815.7l16.4-14-2.1-.8-16.3 14.2z"/>
<path class="s" d="M383.1 800.9l-17.4 14.8-3.3-.9" stroke="#8000ff"/>
<path d="M348.4 830l16.3-13.5-2.1-.5-16.2 13.7z"/>
<path class="s" d="M365.7 815.7l-17.3 14.3-3.4-.6" stroke="#5000ff"/>
<path d="M331 843.8l16.2-12.9-1.9-.3-16.1 13.1z"/>
<path class="s" d="M348.4 830l-17.4 13.8-3.4-.3" stroke="#2000ff"/>
<path d="M313.6 856.9l16-12.1-1.6-.1-15.9 12.2z"/>
<path class="s" d="M331 843.8l-17.4 13.1-3.4 .1" stroke="#0010ff"/>
<path d="M296.2 869.2l15.8-11.2-1.4 .1-15.4 11.3z"/>
<path class="s" d="M313.6 856.9l-17.4 12.3-3.3 .5" stroke="#0028ff"/>
<path d="M278.8 880.7l15.2-10-.7 .1-14.5 10z"/>
<path class="s" d="M296.2 869.2l-17.4 11.5-3.3 1" stroke="#0040ff"/>
<path class="s" d="M278.8 880.7l-17.3 10.7-3.4 1.3" stroke="#0058ff"/>
<path class="s" d="M261.5 891.4l-17.4 9.9-3.3 1.6" stroke="#0070ff"/>
<path class="s" d="M244.1 901.3l-17.4 8.9-3.3 2" stroke="#0087ff"/>
<path class="s" d="M226.7 910.2l-17.3 8.2-3.4 2.2" stroke="#0087ff"/>
<path class="s" d="M209.4 918.4l-17.4 7.4-3.4 2.4" stroke="#009fff"/>
<path class="s" d="M192 925.8l-17.4 6.6-3.4 2.4" stroke="#009fff"/>
<path class="s" d="M456 740.4l-3.4-1.8" stroke="#ff0078"/>
<path d="M438.6 756.2l16.5-15-2.3-1.3-16.5 15.1z"/>
<path class="s" d="M456 740.4l-17.4 15.8-3.4-1.8" stroke="#ff00a7"/>
<path d="M421.2 771.7l16.5-14.8-2.3-1.1-16.5 14.9z"/>
<path class="s" d="M438.6 756.2l-17.4 15.5-3.4-1.6" stroke="#ff00d7"/>
<path d="M403.8 787.1l16.5-14.6-2.3-1.1-16.4 14.7z"/>
<path class="s" d="M421.2 771.7l-17.4 15.4-3.3-1.5" stroke="#df00ff"/>
<path d="M386.4 802.1l16.5-14.2-2.2-1-16.4 14.4z"/>
<path class="s" d="M403.8 787.1l-17.4 15-3.3-1.2" stroke="#af00ff"/>
<path d="M369.1 816.7l16.4-13.8-2.2-.8-16.3 14z"/>
<path class="s" d="M386.4 802.1l-17.3 14.6-3.4-1" stroke="#8000ff"/>
<path d="M351.7 830.8l16.3-13.3-2-.6-16.3 13.4z"/>
<path class="s" d="M369.1 816.7l-17.4 14.1-3.3-.8" stroke="#5000ff"/>
<path d="M334.3 844.2l16.3-12.6-2-.4-16.1 12.8z"/>
<path class="s" d="M351.7 830.8l-17.4 13.4-3.3-.4" stroke="#2000ff"/>
<path d="M317 857l16-11.8-1.7-.3-15.9 12z"/>
<path class="s" d="M334.3 844.2l-17.3 12.8-3.4-.1" stroke="#0800ff"/>
<path d="M299.6 868.9l15.8-10.9-1.5 0-15.5 11z"/>
<path class="s" d="M317 857l-17.4 11.9-3.4 .3" stroke="#0010ff"/>
<path d="M282.2 880.1l15.4-9.9-1 .1-14.9 9.9z"/>
<path class="s" d="M299.6 868.9l-17.4 11.2-3.4 .6" stroke="#0040ff"/>
<path class="s" d="M282.2 880.1l-17.4 10.3-3.3 1" stroke="#0058ff"/>
<path class="s" d="M264.8 890.4l-17.4 9.5-3.3 1.4" stroke="#0058ff"/>
<path class="s" d="M247.4 899.9l-17.3 8.8-3.4 1.5" stroke="#0070ff"/>
<path class="s" d="M230.1 908.7l-17.4 8-3.3 1.7" stroke="#0087ff"/>
<path class="s" d="M212.7 916.7l-17.4 7.3-3.3 1.8" stroke="#0087ff"/>
<path class="s" d="M195.3 924l-17.3 6.5-3.4 1.9" stroke="#0087ff"/>
<path class="s" d="M459.3 742.3l-3.3-1.9" stroke="#ff0078"/>
<path d="M441.9 757.9l16.5-14.9-2.3-1.3-16.5 15z"/>
<path class="s" d="M459.3 742.3l-17.4 15.6-3.3-1.7" stroke="#ff00a7"/>
<path d="M424.6 773.4l16.4-14.7-2.3-1.2-16.4 14.8z"/>
<path class="s" d="M441.9 757.9l-17.3 15.5-3.4-1.7" stroke="#ff00d7"/>
<path d="M407.2 788.6l16.5-14.4-2.3-1.2-16.5 14.6z"/>
<path class="s" d="M424.6 773.4l-17.4 15.2-3.4-1.5" stroke="#df00ff"/>
<path d="M389.8 803.4l16.4-14-2.2-1-16.4 14.2z"/>
<path class="s" d="M407.2 788.6l-17.4 14.8-3.4-1.3" stroke="#af00ff"/>
<path d="M372.4 817.8l16.4-13.6-2.1-.8-16.4 13.7z"/>
<path class="s" d="M389.8 803.4l-17.4 14.4-3.3-1.1" stroke="#8000ff"/>
<path d="M355 831.7l16.4-13.1-2.1-.7-16.3 13.2z"/>
<path class="s" d="M372.4 817.8l-17.4 13.9-3.3-.9" stroke="#6800ff"/>
<path d="M337.7 844.9l16.2-12.4-2-.5-16.1 12.5z"/>
<path class="s" d="M355 831.7l-17.3 13.2-3.4-.7" stroke="#3800ff"/>
<path d="M320.3 857.3l16.1-11.6-1.8-.3-16 11.7z"/>
<path class="s" d="M337.7 844.9l-17.4 12.4-3.3-.3" stroke="#0800ff"/>
<path d="M302.9 869l16-10.7-1.7-.2-15.7 10.9z"/>
<path class="s" d="M320.3 857.3l-17.4 11.7-3.3-.1" stroke="#0010ff"/>
<path d="M285.6 879.9l15.6-9.8-1.3-.1-15.4 9.9z"/>
<path class="s" d="M302.9 869l-17.3 10.9-3.4 .2" stroke="#0028ff"/>
<path d="M268.2 889.9l15.2-8.8-.9 .1-14.8 8.8z"/>
<path class="s" d="M285.6 879.9l-17.4 10-3.4 .5" stroke="#0040ff"/>
<path class="s" d="M268.2 889.9l-17.4 9.3-3.4 .7" stroke="#0058ff"/>
<path class="s" d="M250.8 899.2l-17.4 8.6-3.3 .9" stroke="#0058ff"/>
<path class="s" d="M233.4 907.8l-17.4 7.8-3.3 1.1" stroke="#0070ff"/>
<path class="s" d="M216 915.6l-17.3 7.2-3.4 1.2" stroke="#0070ff"/>
<path class="s" d="M198.7 922.8l-17.4 6.5-3.3 1.2" stroke="#0070ff"/>
<path class="s" d="M462.6 744.1l-3.3-1.8" stroke="#ff0078"/>
<path d="M445.3 759.7l16.5-14.8-2.3-1.3-16.5 14.9z"/>
<path class="s" d="M462.6 744.1l-17.3 15.6-3.4-1.8" stroke="#ff00a7"/>
<path d="M427.9 775l16.5-14.5-2.3-1.3-16.5 14.7z"/>
<path class="s" d="M445.3 759.7l-17.4 15.3-3.3-1.6" stroke="#ff00d7"/>
<path d="M410.5 790.1l16.5-14.3-2.3-1.1-16.4 14.4z"/>
<path class="s" d="M427.9 775l-17.4 15.1-3.3-1.5" stroke="#f700ff"/>
<path d="M393.2 804.9l16.4-14-2.2-1-16.5 14z"/>
<path class="s" d="M410.5 790.1l-17.3 14.8-3.4-1.5" stroke="#c700ff"/>
<path d="M375.8 819.1l16.4-13.5-2.2-.9-16.4 13.6z"/>
<path class="s" d="M393.2 804.9l-17.4 14.2-3.4-1.3" stroke="#9700ff"/>
<path d="M358.4 832.8l16.4-12.9-2.2-.8-16.3 13z"/>
<path class="s" d="M375.8 819.1l-17.4 13.7-3.4-1.1" stroke="#6800ff"/>
<path d="M341 845.8l16.3-12.2-2-.7-16.3 12.3z"/>
<path class="s" d="M358.4 832.8l-17.4 13-3.3-.9" stroke="#3800ff"/>
<path d="M323.6 858l16.3-11.4-2-.5-16.1 11.5z"/>
<path class="s" d="M341 845.8l-17.4 12.2-3.3-.7" stroke="#2000ff"/>
<path d="M306.3 869.5l16.1-10.6-1.9-.4-16 10.7z"/>
<path class="s" d="M323.6 858l-17.3 11.5-3.4-.5" stroke="#0010ff"/>
<path d="M288.9 880.2l15.9-9.8-1.6-.3-15.8 9.9z"/>
<path class="s" d="M306.3 869.5l-17.4 10.7-3.3-.3" stroke="#0028ff"/>
<path d="M271.5 890.1l15.7-9-1.4-.1-15.6 9z"/>
<path class="s" d="M288.9 880.2l-17.4 9.9-3.3-.2" stroke="#0040ff"/>
<path d="M254.2 899.2l15.4-8.1-1.2-.1-15.2 8.2z"/>
<path class="s" d="M271.5 890.1l-17.3 9.1-3.4 0" stroke="#0040ff"/>
<path d="M236.8 907.6l15-7.3-.7 0-14.9 7.3z"/>
<path class="s" d="M254.2 899.2l-17.4 8.4-3.4 .2" stroke="#0058ff"/>
<path d="M219.4 915.4l14.6-6.6-.3 .1-14.5 6.5z"/>
<path class="s" d="M236.8 907.6l-17.4 7.8-3.4 .2" stroke="#0058ff"/>
<path class="s" d="M219.4 915.4l-17.4 7.1-3.3 .3" stroke="#0058ff"/>
<path class="s" d="M202 922.5l-17.4 6.5-3.3 .3" stroke="#0070ff"/>
<path class="s" d="M466 746l-3.4-1.9" stroke="#ff0078"/>
<path d="M448.6 761.5l16.5-14.7-2.3-1.3-16.5 14.7z"/>
<path class="s" d="M466 746l-17.4 15.5-3.3-1.8" stroke="#ff00a7"/>
<path d="M431.2 776.8l16.5-14.5-2.3-1.3-16.4 14.6z"/>
<path class="s" d="M448.6 761.5l-17.4 15.3-3.3-1.8" stroke="#ff00d7"/>
<path d="M413.9 791.7l16.5-14.2-2.3-1.1-16.5 14.3z"/>
<path class="s" d="M431.2 776.8l-17.3 14.9-3.4-1.6" stroke="#f700ff"/>
<path d="M396.5 806.4l16.5-13.9-2.3-1.1-16.4 13.9z"/>
<path class="s" d="M413.9 791.7l-17.4 14.7-3.3-1.5" stroke="#c700ff"/>
<path d="M379.1 820.5l16.4-13.4-2.2-1-16.4 13.5z"/>
<path class="s" d="M396.5 806.4l-17.4 14.1-3.3-1.4" stroke="#9700ff"/>
<path d="M361.8 834l16.3-12.7-2.2-.9-16.3 12.8z"/>
<path class="s" d="M379.1 820.5l-17.3 13.5-3.4-1.2" stroke="#6800ff"/>
<path d="M344.4 846.9l16.3-12.1-2.1-.8-16.3 12.2z"/>
<path class="s" d="M361.8 834l-17.4 12.9-3.4-1.1" stroke="#3800ff"/>
<path d="M327 859l16.3-11.3-2.1-.7-16.2 11.4z"/>
<path class="s" d="M344.4 846.9l-17.4 12.1-3.4-1" stroke="#2000ff"/>
<path d="M309.6 870.4l16.2-10.6-2-.6-16.1 10.7z"/>
<path class="s" d="M327 859l-17.4 11.4-3.3-.9" stroke="#0800ff"/>
<path d="M292.2 880.9l16.1-9.7-1.9-.5-16 9.8z"/>
<path class="s" d="M309.6 870.4l-17.4 10.5-3.3-.7" stroke="#0010ff"/>
<path d="M274.9 890.7l15.9-9-1.7-.4-15.9 9.1z"/>
<path class="s" d="M292.2 880.9l-17.3 9.8-3.4-.6" stroke="#0028ff"/>
<path d="M257.5 899.8l15.8-8.3-1.6-.3-15.8 8.3z"/>
<path class="s" d="M274.9 890.7l-17.4 9.1-3.3-.6" stroke="#0040ff"/>
<path d="M240.1 908.1l15.7-7.5-1.5-.3-15.6 7.6z"/>
<path class="s" d="M257.5 899.8l-17.4 8.3-3.3-.5" stroke="#0040ff"/>
<path d="M222.8 915.8l15.5-6.8-1.4-.2-15.4 6.9z"/>
<path class="s" d="M240.1 908.1l-17.3 7.7-3.4-.4" stroke="#0058ff"/>
<path d="M205.4 922.9l15.3-6.2-1.2-.2-15.3 6.3z"/>
<path class="s" d="M222.8 915.8l-17.4 7.1-3.4-.4" stroke="#0058ff"/>
<path d="M188 929.5l15.2-5.7-1-.2-15.2 5.7z"/>
<path class="s" d="M205.4 922.9l-17.4 6.6-3.4-.5" stroke="#0058ff"/>
<path class="s" d="M469.4 747.9l-3.4-1.9" stroke="#ff0078"/>
<path d="M452 763.3l16.5-14.6-2.4-1.4-16.4 14.7z"/>
<path class="s" d="M469.4 747.9l-17.4 15.4-3.4-1.8" stroke="#ff00a7"/>
<path d="M434.6 778.5l16.5-14.4-2.3-1.3-16.5 14.5z"/>
<path class="s" d="M452 763.3l-17.4 15.2-3.4-1.7" stroke="#ff00d7"/>
<path d="M417.2 793.4l16.5-14.1-2.3-1.2-16.5 14.2z"/>
<path class="s" d="M434.6 778.5l-17.4 14.9-3.3-1.7" stroke="#f700ff"/>
<path d="M399.8 807.9l16.5-13.7-2.3-1.2-16.4 13.9z"/>
<path class="s" d="M417.2 793.4l-17.4 14.5-3.3-1.5" stroke="#c700ff"/>
<path d="M382.5 822l16.4-13.3-2.2-1.1-16.5 13.4z"/>
<path class="s" d="M399.8 807.9l-17.3 14.1-3.4-1.5" stroke="#9700ff"/>
<path d="M365.1 835.4l16.4-12.7-2.2-.9-16.4 12.7z"/>
<path class="s" d="M382.5 822l-17.4 13.4-3.3-1.4" stroke="#6800ff"/>
<path d="M347.7 848.2l16.4-12-2.2-.9-16.3 12.1z"/>
<path class="s" d="M365.1 835.4l-17.4 12.8-3.3-1.3" stroke="#3800ff"/>
<path d="M330.4 860.3l16.2-11.3-2.1-.9-16.3 11.4z"/>
<path class="s" d="M347.7 848.2l-17.3 12.1-3.4-1.3" stroke="#2000ff"/>
<path d="M313 871.6l16.2-10.5-2.1-.8-16.2 10.6z"/>
<path class="s" d="M330.4 860.3l-17.4 11.3-3.4-1.2" stroke="#0800ff"/>
<path d="M295.6 882.1l16.2-9.8-2.1-.7-16.1 9.8z"/>
<path class="s" d="M313 871.6l-17.4 10.5-3.4-1.2" stroke="#0010ff"/>
<path d="M278.2 891.8l16.1-9-1.9-.7-16.1 9.1z"/>
<path class="s" d="M295.6 882.1l-17.4 9.7-3.3-1.1" stroke="#0028ff"/>
<path d="M260.8 900.9l16.1-8.4-1.9-.6-16 8.3z"/>
<path class="s" d="M278.2 891.8l-17.4 9.1-3.3-1.1" stroke="#0040ff"/>
<path d="M243.5 909.2l15.9-7.7-1.8-.5-15.9 7.6z"/>
<path class="s" d="M260.8 900.9l-17.3 8.3-3.4-1.1" stroke="#0040ff"/>
<path d="M226.1 916.9l15.9-7-1.8-.6-15.8 7z"/>
<path class="s" d="M243.5 909.2l-17.4 7.7-3.3-1.1" stroke="#0058ff"/>
<path d="M208.7 924l15.8-6.5-1.7-.5-15.8 6.5z"/>
<path class="s" d="M226.1 916.9l-17.4 7.1-3.3-1.1" stroke="#0058ff"/>
<path d="M191.4 930.5l15.6-5.9-1.6-.5-15.7 5.9z"/>
<path class="s" d="M208.7 924l-17.3 6.5-3.4-1" stroke="#0058ff"/>
<path class="s" d="M472.7 749.8l-3.3-1.9" stroke="#ff0078"/>
<path d="M455.3 765.1l16.5-14.5-2.3-1.4-16.5 14.6z"/>
<path class="s" d="M472.7 749.8l-17.4 15.3-3.3-1.8" stroke="#ff00a7"/>
<path d="M438 780.3l16.4-14.4-2.3-1.3-16.5 14.4z"/>
<path class="s" d="M455.3 765.1l-17.3 15.2-3.4-1.8" stroke="#ff00d7"/>
<path d="M420.6 795.1l16.5-14.1-2.4-1.2-16.4 14.1z"/>
<path class="s" d="M438 780.3l-17.4 14.8-3.4-1.7" stroke="#f700ff"/>
<path d="M403.2 809.6l16.5-13.7-2.3-1.2-16.5 13.8z"/>
<path class="s" d="M420.6 795.1l-17.4 14.5-3.4-1.7" stroke="#c700ff"/>
<path d="M385.8 823.6l16.5-13.2-2.3-1.2-16.4 13.3z"/>
<path class="s" d="M403.2 809.6l-17.4 14-3.3-1.6" stroke="#9700ff"/>
<path d="M368.4 837l16.5-12.6-2.3-1.1-16.4 12.7z"/>
<path class="s" d="M385.8 823.6l-17.4 13.4-3.3-1.6" stroke="#6800ff"/>
<path d="M351.1 849.8l16.3-12-2.2-1.1-16.3 12.1z"/>
<path class="s" d="M368.4 837l-17.3 12.8-3.4-1.6" stroke="#5000ff"/>
<path d="M333.7 861.8l16.3-11.3-2.2-1-16.3 11.3z"/>
<path class="s" d="M351.1 849.8l-17.4 12-3.3-1.5" stroke="#2000ff"/>
<path d="M316.3 873.1l16.3-10.5-2.2-1-16.2 10.5z"/>
<path class="s" d="M333.7 861.8l-17.4 11.3-3.3-1.5" stroke="#0800ff"/>
<path d="M299 883.6l16.2-9.8-2.2-1-16.2 9.9z"/>
<path class="s" d="M316.3 873.1l-17.3 10.5-3.4-1.5" stroke="#0010ff"/>
<path d="M281.6 893.3l16.2-9-2.1-1-16.2 9.1z"/>
<path class="s" d="M299 883.6l-17.4 9.7-3.4-1.5" stroke="#0028ff"/>
<path d="M264.2 902.4l16.1-8.4-2-.9-16.2 8.3z"/>
<path class="s" d="M281.6 893.3l-17.4 9.1-3.4-1.5" stroke="#0040ff"/>
<path d="M246.8 910.7l16.1-7.7-2-.9-16.1 7.7z"/>
<path class="s" d="M264.2 902.4l-17.4 8.3-3.3-1.5" stroke="#0040ff"/>
<path d="M229.4 918.4l16.1-7.1-2-.9-16 7.1z"/>
<path class="s" d="M246.8 910.7l-17.4 7.7-3.3-1.5" stroke="#0040ff"/>
<path d="M212.1 925.5l15.9-6.6-1.9-.8-16 6.5z"/>
<path class="s" d="M229.4 918.4l-17.3 7.1-3.4-1.5" stroke="#0058ff"/>
<path d="M194.7 932l15.9-6-1.9-.8-15.9 5.9z"/>
<path class="s" d="M212.1 925.5l-17.4 6.5-3.3-1.5" stroke="#0058ff"/>
<path class="s" d="M476 751.7l-3.3-1.9" stroke="#ff0078"/>
<path d="M458.7 767l16.5-14.5-2.4-1.4-16.5 14.6z"/>
<path class="s" d="M476 751.7l-17.3 15.3-3.4-1.9" stroke="#ff00a7"/>
<path d="M441.3 782.1l16.5-14.3-2.3-1.3-16.5 14.3z"/>
<path class="s" d="M458.7 767l-17.4 15.1-3.3-1.8" stroke="#ff00d7"/>
<path d="M423.9 796.9l16.5-14-2.3-1.3-16.5 14.1z"/>
<path class="s" d="M441.3 782.1l-17.4 14.8-3.3-1.8" stroke="#f700ff"/>
<path d="M406.6 811.4l16.4-13.7-2.3-1.3-16.4 13.8z"/>
<path class="s" d="M423.9 796.9l-17.3 14.5-3.4-1.8" stroke="#c700ff"/>
<path d="M389.2 825.4l16.4-13.3-2.3-1.2-16.4 13.3z"/>
<path class="s" d="M406.6 811.4l-17.4 14-3.4-1.8" stroke="#9700ff"/>
<path d="M371.8 838.8l16.4-12.7-2.3-1.2-16.4 12.7z"/>
<path class="s" d="M389.2 825.4l-17.4 13.4-3.4-1.8" stroke="#6800ff"/>
<path d="M354.4 851.6l16.4-12.1-2.3-1.2-16.3 12.1z"/>
<path class="s" d="M371.8 838.8l-17.4 12.8-3.3-1.8" stroke="#5000ff"/>
<path d="M337 863.6l16.4-11.3-2.2-1.2-16.4 11.3z"/>
<path class="s" d="M354.4 851.6l-17.4 12-3.3-1.8" stroke="#2000ff"/>
<path d="M319.7 874.9l16.3-10.6-2.2-1.2-16.4 10.6z"/>
<path class="s" d="M337 863.6l-17.3 11.3-3.4-1.8" stroke="#0800ff"/>
<path d="M302.3 885.4l16.3-9.8-2.2-1.2-16.3 9.8z"/>
<path class="s" d="M319.7 874.9l-17.4 10.5-3.3-1.8" stroke="#0010ff"/>
<path d="M284.9 895.2l16.3-9.1-2.2-1.2-16.3 9.1z"/>
<path class="s" d="M302.3 885.4l-17.4 9.8-3.3-1.9" stroke="#0028ff"/>
<path d="M267.6 904.2l16.1-8.4-2.1-1.2-16.2 8.4z"/>
<path class="s" d="M284.9 895.2l-17.3 9-3.4-1.8" stroke="#0040ff"/>
<path d="M250.2 912.5l16.1-7.7-2.1-1.2-16.2 7.7z"/>
<path class="s" d="M267.6 904.2l-17.4 8.3-3.4-1.8" stroke="#0040ff"/>
<path d="M232.8 920.2l16.1-7.1-2.1-1.2-16.1 7.1z"/>
<path class="s" d="M250.2 912.5l-17.4 7.7-3.4-1.8" stroke="#0040ff"/>
<path d="M215.4 927.3l16.1-6.5-2.1-1.2-16.1 6.5z"/>
<path class="s" d="M232.8 920.2l-17.4 7.1-3.3-1.8" stroke="#0058ff"/>
<path d="M198 933.8l16.1-6-2.1-1.1-16 6z"/>
<path class="s" d="M215.4 927.3l-17.4 6.5-3.3-1.8" stroke="#0058ff"/>
<path class="s" d="M479.4 753.6l-3.4-1.9" stroke="#ff0078"/>
<path d="M462 768.9l16.5-14.5-2.3-1.3-16.5 14.5z"/>
<path class="s" d="M479.4 753.6l-17.4 15.3-3.3-1.9" stroke="#ff00a7"/>
<path d="M444.6 784l16.5-14.3-2.3-1.4-16.5 14.4z"/>
<path class="s" d="M462 768.9l-17.4 15.1-3.3-1.9" stroke="#ff00d7"/>
<path d="M427.3 798.8l16.5-14.1-2.4-1.3-16.5 14.1z"/>
<path class="s" d="M444.6 784l-17.3 14.8-3.4-1.9" stroke="#f700ff"/>
<path d="M409.9 813.2l16.5-13.7-2.4-1.3-16.4 13.7z"/>
<path class="s" d="M427.3 798.8l-17.4 14.4-3.3-1.8" stroke="#c700ff"/>
<path d="M392.5 827.2l16.5-13.2-2.3-1.3-16.5 13.2z"/>
<path class="s" d="M409.9 813.2l-17.4 14-3.3-1.8" stroke="#9700ff"/>
<path d="M375.2 840.7l16.4-12.7-2.3-1.3-16.5 12.7z"/>
<path class="s" d="M392.5 827.2l-17.3 13.5-3.4-1.9" stroke="#6800ff"/>
<path d="M357.8 853.5l16.4-12.1-2.3-1.3-16.4 12.1z"/>
<path class="s" d="M375.2 840.7l-17.4 12.8-3.4-1.9" stroke="#5000ff"/>
<path d="M340.4 865.6l16.4-11.4-2.3-1.3-16.4 11.3z"/>
<path class="s" d="M357.8 853.5l-17.4 12.1-3.4-2" stroke="#2000ff"/>
<path d="M323 876.9l16.4-10.6-2.3-1.4-16.4 10.6z"/>
<path class="s" d="M340.4 865.6l-17.4 11.3-3.3-2" stroke="#0800ff"/>
<path d="M305.6 887.5l16.4-9.9-2.3-1.4-16.3 9.9z"/>
<path class="s" d="M323 876.9l-17.4 10.6-3.3-2.1" stroke="#0010ff"/>
<path d="M288.3 897.3l16.3-9.2-2.3-1.4-16.3 9.1z"/>
<path class="s" d="M305.6 887.5l-17.3 9.8-3.4-2.1" stroke="#0028ff"/>
<path d="M270.9 906.3l16.2-8.4-2.2-1.5-16.3 8.5z"/>
<path class="s" d="M288.3 897.3l-17.4 9-3.3-2.1" stroke="#0040ff"/>
<path d="M253.5 914.7l16.2-7.8-2.2-1.5-16.2 7.8z"/>
<path class="s" d="M270.9 906.3l-17.4 8.4-3.3-2.2" stroke="#0040ff"/>
<path d="M236.2 922.4l16.1-7.2-2.2-1.4-16.2 7.1z"/>
<path class="s" d="M253.5 914.7l-17.3 7.7-3.4-2.2" stroke="#0040ff"/>
<path d="M218.8 929.5l16.1-6.6-2.2-1.4-16.1 6.5z"/>
<path class="s" d="M236.2 922.4l-17.4 7.1-3.4-2.2" stroke="#0058ff"/>
<path d="M201.4 936l16.1-6-2.2-1.5-16.1 6.1z"/>
<path class="s" d="M218.8 929.5l-17.4 6.5-3.4-2.2" stroke="#0058ff"/>
<path class="s" d="M482.8 755.6l-3.4-2" stroke="#ff0078"/>
<path d="M465.4 770.9l16.5-14.5-2.4-1.4-16.5 14.5z"/>
<path class="s" d="M482.8 755.6l-17.4 15.3-3.4-2" stroke="#ff00a7"/>
<path d="M448 785.9l16.5-14.3-2.3-1.3-16.5 14.3z"/>
<path class="s" d="M465.4 770.9l-17.4 15-3.4-1.9" stroke="#ff00d7"/>
<path d="M430.6 800.7l16.5-14-2.3-1.4-16.5 14.1z"/>
<path class="s" d="M448 785.9l-17.4 14.8-3.3-1.9" stroke="#f700ff"/>
<path d="M413.2 815.2l16.5-13.7-2.3-1.4-16.5 13.7z"/>
<path class="s" d="M430.6 800.7l-17.4 14.5-3.3-2" stroke="#c700ff"/>
<path d="M395.9 829.3l16.4-13.3-2.3-1.4-16.5 13.2z"/>
<path class="s" d="M413.2 815.2l-17.3 14.1-3.4-2.1" stroke="#9700ff"/>
<path d="M378.5 842.8l16.4-12.8-2.3-1.4-16.4 12.7z"/>
<path class="s" d="M395.9 829.3l-17.4 13.5-3.3-2.1" stroke="#6800ff"/>
<path d="M361.1 855.6l16.4-12.1-2.3-1.5-16.4 12.1z"/>
<path class="s" d="M378.5 842.8l-17.4 12.8-3.3-2.1" stroke="#5000ff"/>
<path d="M343.8 867.8l16.3-11.5-2.3-1.5-16.4 11.4z"/>
<path class="s" d="M361.1 855.6l-17.3 12.2-3.4-2.2" stroke="#2000ff"/>
<path d="M326.4 879.2l16.3-10.8-2.3-1.5-16.4 10.7z"/>
<path class="s" d="M343.8 867.8l-17.4 11.4-3.4-2.3" stroke="#0800ff"/>
<path d="M309 889.8l16.3-10-2.3-1.6-16.4 10z"/>
<path class="s" d="M326.4 879.2l-17.4 10.6-3.4-2.3" stroke="#0010ff"/>
<path d="M291.6 899.6l16.3-9.2-2.3-1.6-16.3 9.2z"/>
<path class="s" d="M309 889.8l-17.4 9.8-3.3-2.3" stroke="#0028ff"/>
<path d="M274.2 908.7l16.3-8.5-2.3-1.6-16.3 8.4z"/>
<path class="s" d="M291.6 899.6l-17.4 9.1-3.3-2.4" stroke="#0040ff"/>
<path d="M256.9 917.1l16.2-7.9-2.3-1.6-16.3 7.8z"/>
<path class="s" d="M274.2 908.7l-17.3 8.4-3.4-2.4" stroke="#0040ff"/>
<path d="M239.5 924.8l16.2-7.2-2.3-1.7-16.2 7.2z"/>
<path class="s" d="M256.9 917.1l-17.4 7.7-3.3-2.4" stroke="#0058ff"/>
<path d="M222.1 931.9l16.2-6.6-2.3-1.7-16.2 6.6z"/>
<path class="s" d="M239.5 924.8l-17.4 7.1-3.3-2.4" stroke="#0058ff"/>
<path d="M204.8 938.4l16.1-6-2.3-1.7-16.1 6.1z"/>
<path class="s" d="M222.1 931.9l-17.3 6.5-3.4-2.4" stroke="#0058ff"/>
<path class="s" d="M486.1 757.6l-3.3-2" stroke="#ff0078"/>
<path d="M468.7 772.9l16.5-14.5-2.3-1.4-16.5 14.5z"/>
<path class="s" d="M486.1 757.6l-17.4 15.3-3.3-2" stroke="#ff00a7"/>
<path d="M451.4 788l16.5-14.4-2.4-1.4-16.5 14.3z"/>
<path class="s" d="M468.7 772.9l-17.3 15.1-3.4-2.1" stroke="#ff00d7"/>
<path d="M434 802.8l16.5-14.1-2.4-1.4-16.5 14.1z"/>
<path class="s" d="M451.4 788l-17.4 14.8-3.4-2.1" stroke="#f700ff"/>
<path d="M416.6 817.3l16.5-13.7-2.4-1.5-16.5 13.7z"/>
<path class="s" d="M434 802.8l-17.4 14.5-3.4-2.1" stroke="#c700ff"/>
<path d="M399.2 831.4l16.5-13.3-2.4-1.5-16.5 13.3z"/>
<path class="s" d="M416.6 817.3l-17.4 14.1-3.3-2.1" stroke="#9700ff"/>
<path d="M381.8 845l16.5-12.9-2.4-1.5-16.4 12.8z"/>
<path class="s" d="M399.2 831.4l-17.4 13.6-3.3-2.2" stroke="#6800ff"/>
<path d="M364.5 858l16.4-12.3-2.4-1.6-16.4 12.2z"/>
<path class="s" d="M381.8 845l-17.3 13-3.4-2.4" stroke="#5000ff"/>
<path d="M347.1 870.2l16.4-11.6-2.4-1.6-16.4 11.5z"/>
<path class="s" d="M364.5 858l-17.4 12.2-3.3-2.4" stroke="#2000ff"/>
<path d="M329.7 881.7l16.4-10.8-2.4-1.8-16.4 10.8z"/>
<path class="s" d="M347.1 870.2l-17.4 11.5-3.3-2.5" stroke="#0800ff"/>
<path d="M312.4 892.4l16.3-10.1-2.4-1.8-16.4 10z"/>
<path class="s" d="M329.7 881.7l-17.3 10.7-3.4-2.6" stroke="#0010ff"/>
<path d="M295 902.2l16.3-9.2-2.4-1.9-16.3 9.2z"/>
<path class="s" d="M312.4 892.4l-17.4 9.8-3.4-2.6" stroke="#0028ff"/>
<path d="M277.6 911.4l16.3-8.6-2.4-1.9-16.3 8.5z"/>
<path class="s" d="M295 902.2l-17.4 9.2-3.4-2.7" stroke="#0040ff"/>
<path d="M260.2 919.8l16.3-7.9-2.4-1.9-16.3 7.8z"/>
<path class="s" d="M277.6 911.4l-17.4 8.4-3.3-2.7" stroke="#0040ff"/>
<path d="M242.8 927.5l16.3-7.2-2.4-2-16.2 7.3z"/>
<path class="s" d="M260.2 919.8l-17.4 7.7-3.3-2.7" stroke="#0058ff"/>
<path d="M225.5 934.6l16.2-6.6-2.4-1.9-16.2 6.6z"/>
<path class="s" d="M242.8 927.5l-17.3 7.1-3.4-2.7" stroke="#0058ff"/>
<path d="M208.1 941.1l16.2-6.1-2.4-1.9-16.2 6.1z"/>
<path class="s" d="M225.5 934.6l-17.4 6.5-3.3-2.7" stroke="#0058ff"/>
<path class="s" d="M489.4 759.7l-3.3-2.1" stroke="#ff0078"/>
<path d="M472.1 775l16.5-14.5-2.4-1.5-16.5 14.5z"/>
<path class="s" d="M489.4 759.7l-17.3 15.3-3.4-2.1" stroke="#ff00a7"/>
<path d="M454.7 790.2l16.5-14.4-2.4-1.5-16.5 14.3z"/>
<path class="s" d="M472.1 775l-17.4 15.2-3.3-2.2" stroke="#ff00d7"/>
<path d="M437.3 805.1l16.5-14.2-2.4-1.6-16.5 14.2z"/>
<path class="s" d="M454.7 790.2l-17.4 14.9-3.3-2.3" stroke="#f700ff"/>
<path d="M420 819.7l16.4-13.9-2.4-1.6-16.5 13.8z"/>
<path class="s" d="M437.3 805.1l-17.3 14.6-3.4-2.4" stroke="#c700ff"/>
<path d="M402.6 833.9l16.5-13.5-2.5-1.7-16.5 13.4z"/>
<path class="s" d="M420 819.7l-17.4 14.2-3.4-2.5" stroke="#9700ff"/>
<path d="M385.2 847.6l16.5-13-2.5-1.8-16.4 12.9z"/>
<path class="s" d="M402.6 833.9l-17.4 13.7-3.4-2.6" stroke="#6800ff"/>
<path d="M367.8 860.6l16.5-12.3-2.5-1.9-16.4 12.3z"/>
<path class="s" d="M385.2 847.6l-17.4 13-3.3-2.6" stroke="#3800ff"/>
<path d="M350.4 873l16.5-11.7-2.5-2-16.4 11.6z"/>
<path class="s" d="M367.8 860.6l-17.4 12.4-3.3-2.8" stroke="#2000ff"/>
<path d="M333.1 884.6l16.4-10.9-2.5-2.1-16.4 10.8z"/>
<path class="s" d="M350.4 873l-17.3 11.6-3.4-2.9" stroke="#0800ff"/>
<path d="M315.7 895.4l16.4-10.2-2.5-2.2-16.4 10.1z"/>
<path class="s" d="M333.1 884.6l-17.4 10.8-3.3-3" stroke="#0010ff"/>
<path d="M298.3 905.3l16.4-9.3-2.5-2.3-16.4 9.3z"/>
<path class="s" d="M315.7 895.4l-17.4 9.9-3.3-3.1" stroke="#0028ff"/>
<path d="M281 914.5l16.3-8.6-2.5-2.3-16.3 8.6z"/>
<path class="s" d="M298.3 905.3l-17.3 9.2-3.4-3.1" stroke="#0040ff"/>
<path d="M263.6 922.9l16.3-7.9-2.5-2.3-16.3 7.9z"/>
<path class="s" d="M281 914.5l-17.4 8.4-3.4-3.1" stroke="#0058ff"/>
<path d="M246.2 930.6l16.3-7.2-2.5-2.3-16.3 7.2z"/>
<path class="s" d="M263.6 922.9l-17.4 7.7-3.4-3.1" stroke="#0058ff"/>
<path d="M228.8 937.7l16.3-6.6-2.5-2.3-16.2 6.6z"/>
<path class="s" d="M246.2 930.6l-17.4 7.1-3.3-3.1" stroke="#0058ff"/>
<path d="M211.4 944.3l16.3-6.1-2.5-2.3-16.2 6z"/>
<path class="s" d="M228.8 937.7l-17.4 6.6-3.3-3.2" stroke="#0058ff"/>
<path class="s" d="M492.8 761.9l-3.4-2.2" stroke="#ff0078"/>
<path d="M475.4 777.3l16.5-14.6-2.4-1.6-16.5 14.6z"/>
<path class="s" d="M492.8 761.9l-17.4 15.4-3.3-2.3" stroke="#ff00a7"/>
<path d="M458 792.6l16.6-14.5-2.4-1.7-16.6 14.4z"/>
<path class="s" d="M475.4 777.3l-17.4 15.3-3.3-2.4" stroke="#ff00d7"/>
<path d="M440.7 807.6l16.5-14.3-2.4-1.7-16.6 14.2z"/>
<path class="s" d="M458 792.6l-17.3 15-3.4-2.5" stroke="#f700ff"/>
<path d="M423.3 822.4l16.5-14-2.4-1.9-16.6 13.9z"/>
<path class="s" d="M440.7 807.6l-17.4 14.8-3.3-2.7" stroke="#c700ff"/>
<path d="M405.9 836.8l16.5-13.7-2.4-2-16.6 13.5z"/>
<path class="s" d="M423.3 822.4l-17.4 14.4-3.3-2.9" stroke="#9700ff"/>
<path d="M388.6 850.7l16.5-13.2-2.6-2.2-16.5 13z"/>
<path class="s" d="M405.9 836.8l-17.3 13.9-3.4-3.1" stroke="#6800ff"/>
<path d="M371.2 864l16.5-12.6-2.6-2.4-16.5 12.4z"/>
<path class="s" d="M388.6 850.7l-17.4 13.3-3.4-3.4" stroke="#3800ff"/>
<path d="M353.8 876.5l16.5-11.9-2.6-2.5-16.5 11.7z"/>
<path class="s" d="M371.2 864l-17.4 12.5-3.4-3.5" stroke="#2000ff"/>
<path d="M336.4 888.3l16.5-11.2-2.6-2.7-16.5 11z"/>
<path class="s" d="M353.8 876.5l-17.4 11.8-3.3-3.7" stroke="#0010ff"/>
<path d="M319 899.2l16.5-10.3-2.6-2.9-16.5 10.2z"/>
<path class="s" d="M336.4 888.3l-17.4 10.9-3.3-3.8" stroke="#0028ff"/>
<path d="M301.7 909.2l16.4-9.5-2.6-2.9-16.4 9.4z"/>
<path class="s" d="M319 899.2l-17.3 10-3.4-3.9" stroke="#0040ff"/>
<path d="M284.3 918.4l16.4-8.7-2.6-3-16.4 8.6z"/>
<path class="s" d="M301.7 909.2l-17.4 9.2-3.3-3.9" stroke="#0058ff"/>
<path d="M266.9 926.9l16.4-8-2.6-3.1-16.4 8z"/>
<path class="s" d="M284.3 918.4l-17.4 8.5-3.3-4" stroke="#0058ff"/>
<path d="M249.6 934.6l16.3-7.3-2.6-3.1-16.4 7.3z"/>
<path class="s" d="M266.9 926.9l-17.3 7.7-3.4-4" stroke="#0058ff"/>
<path d="M232.2 941.7l16.3-6.7-2.6-3-16.3 6.6z"/>
<path class="s" d="M249.6 934.6l-17.4 7.1-3.4-4" stroke="#0070ff"/>
<path d="M214.8 948.2l16.3-6.1-2.6-3.1-16.3 6.1z"/>
<path class="s" d="M232.2 941.7l-17.4 6.5-3.4-3.9" stroke="#0070ff"/>
<path class="s" d="M496.2 764.3l-3.4-2.4" stroke="#ff0078"/>
<path d="M478.8 779.9l16.5-14.8-2.4-1.8-16.6 14.7z"/>
<path class="s" d="M496.2 764.3l-17.4 15.6-3.4-2.6" stroke="#ff00a7"/>
<path d="M461.4 795.3l16.5-14.7-2.4-1.8-16.6 14.5z"/>
<path class="s" d="M478.8 779.9l-17.4 15.4-3.4-2.7" stroke="#ff00d7"/>
<path d="M444 810.6l16.6-14.5-2.5-2.1-16.6 14.4z"/>
<path class="s" d="M461.4 795.3l-17.4 15.3-3.3-3" stroke="#f700ff"/>
<path d="M426.6 825.7l16.6-14.3-2.5-2.3-16.6 14.1z"/>
<path class="s" d="M444 810.6l-17.4 15.1-3.3-3.3" stroke="#af00ff"/>
<path d="M409.3 840.3l16.5-13.9-2.6-2.5-16.5 13.7z"/>
<path class="s" d="M426.6 825.7l-17.3 14.6-3.4-3.5" stroke="#8000ff"/>
<path d="M391.9 854.5l16.5-13.5-2.6-2.7-16.5 13.2z"/>
<path class="s" d="M409.3 840.3l-17.4 14.2-3.3-3.8" stroke="#5000ff"/>
<path d="M374.5 868.1l16.5-12.9-2.6-3-16.5 12.6z"/>
<path class="s" d="M391.9 854.5l-17.4 13.6-3.3-4.1" stroke="#3800ff"/>
<path d="M357.2 881l16.4-12.2-2.6-3.3-16.5 11.9z"/>
<path class="s" d="M374.5 868.1l-17.3 12.9-3.4-4.5" stroke="#0800ff"/>
<path d="M339.8 893l16.4-11.4-2.7-3.6-16.4 11.2z"/>
<path class="s" d="M357.2 881l-17.4 12-3.4-4.7" stroke="#0010ff"/>
<path d="M322.4 904.2l16.4-10.6-2.7-3.8-16.4 10.3z"/>
<path class="s" d="M339.8 893l-17.4 11.2-3.4-5" stroke="#0040ff"/>
<path d="M305 914.4l16.4-9.7-2.7-4.1-16.4 9.5z"/>
<path class="s" d="M322.4 904.2l-17.4 10.2-3.3-5.2" stroke="#0058ff"/>
<path d="M287.6 923.7l16.5-8.8-2.8-4.2-16.4 8.7z"/>
<path class="s" d="M305 914.4l-17.4 9.3-3.3-5.3" stroke="#0058ff"/>
<path d="M270.3 932.1l16.4-8-2.8-4.3-16.4 8z"/>
<path class="s" d="M287.6 923.7l-17.3 8.4-3.4-5.2" stroke="#0070ff"/>
<path d="M252.9 939.9l16.4-7.3-2.8-4.3-16.4 7.2z"/>
<path class="s" d="M270.3 932.1l-17.4 7.8-3.3-5.3" stroke="#0070ff"/>
<path d="M235.5 947l16.4-6.7-2.8-4.3-16.3 6.7z"/>
<path class="s" d="M252.9 939.9l-17.4 7.1-3.3-5.3" stroke="#0070ff"/>
<path d="M218.2 953.5l16.3-6.1-2.8-4.3-16.3 6.1z"/>
<path class="s" d="M235.5 947l-17.3 6.5-3.4-5.3" stroke="#0087ff"/>
<path class="s" d="M499.5 766.7l-3.3-2.4" stroke="#ff0078"/>
<path d="M482.1 782.5l16.6-15-2.5-1.8-16.6 14.9z"/>
<path class="s" d="M499.5 766.7l-17.4 15.8-3.3-2.6" stroke="#ff00a7"/>
<path d="M464.8 798.3l16.5-15-2.5-2-16.6 14.8z"/>
<path class="s" d="M482.1 782.5l-17.3 15.8-3.4-3" stroke="#ff00d7"/>
<path d="M447.4 813.9l16.5-14.9-2.5-2.2-16.6 14.6z"/>
<path class="s" d="M464.8 798.3l-17.4 15.6-3.4-3.3" stroke="#df00ff"/>
<path d="M430 829.2l16.5-14.6-2.5-2.5-16.6 14.4z"/>
<path class="s" d="M447.4 813.9l-17.4 15.3-3.4-3.5" stroke="#af00ff"/>
<path d="M412.6 844.3l16.6-14.3-2.6-2.8-16.6 14z"/>
<path class="s" d="M430 829.2l-17.4 15.1-3.3-4" stroke="#8000ff"/>
<path d="M395.2 859l16.6-14-2.7-3.1-16.5 13.5z"/>
<path class="s" d="M412.6 844.3l-17.4 14.7-3.3-4.5" stroke="#5000ff"/>
<path d="M377.9 873l16.5-13.4-2.7-3.5-16.6 12.9z"/>
<path class="s" d="M395.2 859l-17.3 14-3.4-4.9" stroke="#2000ff"/>
<path d="M360.5 886.3l16.5-12.6-2.7-4-16.6 12.2z"/>
<path class="s" d="M377.9 873l-17.4 13.3-3.3-5.3" stroke="#0010ff"/>
<path d="M343.1 898.8l16.5-11.8-2.8-4.4-16.5 11.4z"/>
<path class="s" d="M360.5 886.3l-17.4 12.5-3.3-5.8" stroke="#0028ff"/>
<path d="M325.8 910.2l16.4-10.8-2.8-4.8-16.5 10.5z"/>
<path class="s" d="M343.1 898.8l-17.3 11.4-3.4-6" stroke="#0058ff"/>
<path d="M308.4 920.7l16.4-9.9-2.8-5.1-16.5 9.6z"/>
<path class="s" d="M325.8 910.2l-17.4 10.5-3.4-6.3" stroke="#0070ff"/>
<path d="M291 930.1l16.4-8.9-2.8-5.4-16.4 8.8z"/>
<path class="s" d="M308.4 920.7l-17.4 9.4-3.4-6.4" stroke="#0070ff"/>
<path d="M273.6 938.7l16.4-8.1-2.8-5.5-16.4 8z"/>
<path class="s" d="M291 930.1l-17.4 8.6-3.3-6.6" stroke="#0087ff"/>
<path d="M256.2 946.5l16.4-7.4-2.8-5.5-16.4 7.3z"/>
<path class="s" d="M273.6 938.7l-17.4 7.8-3.3-6.6" stroke="#0087ff"/>
<path d="M238.9 953.6l16.3-6.7-2.8-5.6-16.4 6.7z"/>
<path class="s" d="M256.2 946.5l-17.3 7.1-3.4-6.6" stroke="#009fff"/>
<path d="M221.5 960.1l16.3-6.1-2.8-5.6-16.3 6.1z"/>
<path class="s" d="M238.9 953.6l-17.4 6.5-3.3-6.6" stroke="#009fff"/>
<path class="s" d="M502.8 769l-3.3-2.3" stroke="#ff0078"/>
<path d="M485.5 785l16.5-15.2-2.4-1.7-16.6 15.1z"/>
<path class="s" d="M502.8 769l-17.3 16-3.4-2.5" stroke="#ff00a7"/>
<path d="M468.1 801l16.5-15.2-2.4-1.8-16.6 15z"/>
<path class="s" d="M485.5 785l-17.4 16-3.3-2.7" stroke="#ff00ef"/>
<path d="M450.7 816.8l16.6-15.1-2.5-2-16.6 14.9z"/>
<path class="s" d="M468.1 801l-17.4 15.8-3.3-2.9" stroke="#df00ff"/>
<path d="M433.4 832.5l16.5-14.9-2.5-2.3-16.6 14.7z"/>
<path class="s" d="M450.7 816.8l-17.3 15.7-3.4-3.3" stroke="#af00ff"/>
<path d="M416 848l16.5-14.8-2.5-2.5-16.6 14.4z"/>
<path class="s" d="M433.4 832.5l-17.4 15.5-3.4-3.7" stroke="#6800ff"/>
<path d="M398.6 863.1l16.5-14.4-2.6-2.9-16.6 14z"/>
<path class="s" d="M416 848l-17.4 15.1-3.4-4.1" stroke="#3800ff"/>
<path d="M381.2 877.6l16.6-13.8-2.7-3.3-16.6 13.4z"/>
<path class="s" d="M398.6 863.1l-17.4 14.5-3.3-4.6" stroke="#0800ff"/>
<path d="M363.8 891.4l16.6-13.1-2.7-3.7-16.6 12.6z"/>
<path class="s" d="M381.2 877.6l-17.4 13.8-3.3-5.1" stroke="#0028ff"/>
<path d="M346.5 904.3l16.5-12.2-2.8-4.2-16.5 11.8z"/>
<path class="s" d="M363.8 891.4l-17.3 12.9-3.4-5.5" stroke="#0040ff"/>
<path d="M329.1 916.1l16.5-11.2-2.8-4.6-16.5 10.9z"/>
<path class="s" d="M346.5 904.3l-17.4 11.8-3.3-5.9" stroke="#0070ff"/>
<path d="M311.7 926.9l16.5-10.2-2.9-5-16.4 9.9z"/>
<path class="s" d="M329.1 916.1l-17.4 10.8-3.3-6.2" stroke="#0087ff"/>
<path d="M294.4 936.5l16.4-9.1-2.9-5.3-16.4 9z"/>
<path class="s" d="M311.7 926.9l-17.3 9.6-3.4-6.4" stroke="#0087ff"/>
<path d="M277 945.1l16.4-8.1-2.9-5.4-16.4 8.1z"/>
<path class="s" d="M294.4 936.5l-17.4 8.6-3.4-6.4" stroke="#009fff"/>
<path d="M259.6 953l16.4-7.4-2.9-5.5-16.3 7.3z"/>
<path class="s" d="M277 945.1l-17.4 7.9-3.4-6.5" stroke="#009fff"/>
<path d="M242.2 960.1l16.4-6.7-2.9-5.5-16.3 6.6z"/>
<path class="s" d="M259.6 953l-17.4 7.1-3.3-6.5" stroke="#00b7ff"/>
<path d="M224.8 966.6l16.4-6.1-2.9-5.6-16.3 6.2z"/>
<path class="s" d="M242.2 960.1l-17.4 6.5-3.3-6.5" stroke="#00b7ff"/>
<path class="s" d="M506.2 771.2l-3.4-2.2" stroke="#ff0078"/>
<path d="M488.8 787.3l16.6-15.3-2.4-1.6-16.6 15.3z"/>
<path class="s" d="M506.2 771.2l-17.4 16.1-3.3-2.3" stroke="#ff00a7"/>
<path d="M471.4 803.4l16.6-15.3-2.4-1.7-16.6 15.2z"/>
<path class="s" d="M488.8 787.3l-17.4 16.1-3.3-2.4" stroke="#ff00ef"/>
<path d="M454.1 819.4l16.5-15.3-2.4-1.7-16.6 15.1z"/>
<path class="s" d="M471.4 803.4l-17.3 16-3.4-2.6" stroke="#df00ff"/>
<path d="M436.7 835.3l16.6-15.1-2.5-2-16.6 15z"/>
<path class="s" d="M454.1 819.4l-17.4 15.9-3.3-2.8" stroke="#af00ff"/>
<path d="M419.3 851.1l16.6-15-2.5-2.1-16.6 14.7z"/>
<path class="s" d="M436.7 835.3l-17.4 15.8-3.3-3.1" stroke="#6800ff"/>
<path d="M402 866.6l16.5-14.8-2.6-2.3-16.5 14.3z"/>
<path class="s" d="M419.3 851.1l-17.3 15.5-3.4-3.5" stroke="#3800ff"/>
<path d="M384.6 881.5l16.5-14.2-2.6-2.7-16.6 13.8z"/>
<path class="s" d="M402 866.6l-17.4 14.9-3.4-3.9" stroke="#0800ff"/>
<path d="M367.2 895.8l16.5-13.6-2.6-3.1-16.6 13.2z"/>
<path class="s" d="M384.6 881.5l-17.4 14.3-3.4-4.4" stroke="#0028ff"/>
<path d="M349.8 909.1l16.5-12.6-2.7-3.6-16.5 12.3z"/>
<path class="s" d="M367.2 895.8l-17.4 13.3-3.3-4.8" stroke="#0058ff"/>
<path d="M332.4 921.4l16.5-11.6-2.7-4-16.5 11.3z"/>
<path class="s" d="M349.8 909.1l-17.4 12.3-3.3-5.3" stroke="#0070ff"/>
<path d="M315.1 932.4l16.4-10.4-2.7-4.4-16.5 10.2z"/>
<path class="s" d="M332.4 921.4l-17.3 11-3.4-5.5" stroke="#0087ff"/>
<path d="M297.7 942.2l16.4-9.3-2.8-4.6-16.4 9.1z"/>
<path class="s" d="M315.1 932.4l-17.4 9.8-3.3-5.7" stroke="#009fff"/>
<path d="M280.3 950.9l16.4-8.2-2.8-4.8-16.4 8.2z"/>
<path class="s" d="M297.7 942.2l-17.4 8.7-3.3-5.8" stroke="#00b7ff"/>
<path d="M263 958.7l16.3-7.3-2.8-4.8-16.3 7.3z"/>
<path class="s" d="M280.3 950.9l-17.3 7.8-3.4-5.7" stroke="#00b7ff"/>
<path d="M245.6 965.8l16.3-6.6-2.8-4.9-16.3 6.7z"/>
<path class="s" d="M263 958.7l-17.4 7.1-3.4-5.7" stroke="#00cfff"/>
<path d="M228.2 972.4l16.3-6.2-2.8-4.8-16.3 6.1z"/>
<path class="s" d="M245.6 965.8l-17.4 6.6-3.4-5.8" stroke="#00cfff"/>
<path class="s" d="M509.6 773.4l-3.4-2.2" stroke="#ff0078"/>
<path d="M492.2 789.6l16.5-15.4-2.4-1.6-16.5 15.3z"/>
<path class="s" d="M509.6 773.4l-17.4 16.2-3.4-2.3" stroke="#ff00a7"/>
<path d="M474.8 805.9l16.6-15.5-2.5-1.7-16.6 15.3z"/>
<path class="s" d="M492.2 789.6l-17.4 16.3-3.4-2.5" stroke="#ff00ef"/>
<path d="M457.4 822.1l16.6-15.5-2.5-1.8-16.6 15.3z"/>
<path class="s" d="M474.8 805.9l-17.4 16.2-3.3-2.7" stroke="#df00ff"/>
<path d="M440 838.3l16.6-15.4-2.5-2-16.6 15.2z"/>
<path class="s" d="M457.4 822.1l-17.4 16.2-3.3-3" stroke="#9700ff"/>
<path d="M422.7 854.4l16.5-15.3-2.5-2.3-16.6 15.1z"/>
<path class="s" d="M440 838.3l-17.3 16.1-3.4-3.3" stroke="#6800ff"/>
<path d="M405.3 870.3l16.6-15.1-2.6-2.6-16.6 14.8z"/>
<path class="s" d="M422.7 854.4l-17.4 15.9-3.3-3.7" stroke="#3800ff"/>
<path d="M387.9 885.8l16.6-14.7-2.7-3-16.5 14.3z"/>
<path class="s" d="M405.3 870.3l-17.4 15.5-3.3-4.3" stroke="#0010ff"/>
<path d="M370.6 900.7l16.5-14.1-2.7-3.5-16.6 13.6z"/>
<path class="s" d="M387.9 885.8l-17.3 14.9-3.4-4.9" stroke="#0040ff"/>
<path d="M353.2 914.7l16.5-13.3-2.8-4-16.5 12.7z"/>
<path class="s" d="M370.6 900.7l-17.4 14-3.4-5.6" stroke="#0070ff"/>
<path d="M335.8 927.4l16.5-12.1-2.8-4.6-16.5 11.6z"/>
<path class="s" d="M353.2 914.7l-17.4 12.7-3.4-6" stroke="#0087ff"/>
<path d="M318.4 938.9l16.5-10.8-2.8-5.2-16.5 10.5z"/>
<path class="s" d="M335.8 927.4l-17.4 11.5-3.3-6.5" stroke="#00b7ff"/>
<path d="M301 949l16.5-9.5-2.9-5.6-16.4 9.3z"/>
<path class="s" d="M318.4 938.9l-17.4 10.1-3.3-6.8" stroke="#00cfff"/>
<path d="M283.7 957.9l16.4-8.4-2.9-5.8-16.4 8.2z"/>
<path class="s" d="M301 949l-17.3 8.9-3.4-7" stroke="#00cfff"/>
<path d="M266.3 965.8l16.4-7.5-2.9-5.9-16.4 7.3z"/>
<path class="s" d="M283.7 957.9l-17.4 7.9-3.3-7.1" stroke="#00e7ff"/>
<path d="M248.9 972.9l16.4-6.7-2.9-6-16.4 6.6z"/>
<path class="s" d="M266.3 965.8l-17.4 7.1-3.3-7.1" stroke="#00e7ff"/>
<path d="M231.6 979.4l16.3-6.1-2.9-6.1-16.3 6.1z"/>
<path class="s" d="M248.9 972.9l-17.3 6.5-3.4-7" stroke="#00e7ff"/>
<path class="s" d="M512.9 775.9l-3.3-2.5" stroke="#ff0078"/>
<path d="M495.5 792.4l16.6-15.7-2.5-1.9-16.6 15.5z"/>
<path class="s" d="M512.9 775.9l-17.4 16.5-3.3-2.8" stroke="#ff00bf"/>
<path d="M478.2 809l16.5-15.9-2.5-2-16.6 15.5z"/>
<path class="s" d="M495.5 792.4l-17.3 16.6-3.4-3.1" stroke="#ff00ef"/>
<path d="M460.8 825.6l16.6-15.9-2.6-2.3-16.6 15.5z"/>
<path class="s" d="M478.2 809l-17.4 16.6-3.4-3.5" stroke="#c700ff"/>
<path d="M443.4 842.4l16.6-16-2.6-2.8-16.7 15.6z"/>
<path class="s" d="M460.8 825.6l-17.4 16.8-3.4-4.1" stroke="#9700ff"/>
<path d="M426 859.2l16.6-16-2.7-3.3-16.6 15.4z"/>
<path class="s" d="M443.4 842.4l-17.4 16.8-3.3-4.8" stroke="#5000ff"/>
<path d="M408.6 876l16.6-16-2.7-3.9-16.6 15.2z"/>
<path class="s" d="M426 859.2l-17.4 16.8-3.3-5.7" stroke="#2000ff"/>
<path d="M391.3 892.6l16.5-15.8-2.8-4.8-16.6 14.9z"/>
<path class="s" d="M408.6 876l-17.3 16.6-3.4-6.8" stroke="#0028ff"/>
<path d="M373.9 908.8l16.5-15.4-2.8-5.8-16.6 14.2z"/>
<path class="s" d="M391.3 892.6l-17.4 16.2-3.3-8.1" stroke="#0058ff"/>
<path d="M356.5 924.2l16.5-14.6-2.9-7.1-16.5 13.3z"/>
<path class="s" d="M373.9 908.8l-17.4 15.4-3.3-9.5" stroke="#009fff"/>
<path d="M339.2 938.5l16.4-13.5-3-8.6-16.5 12.2z"/>
<path class="s" d="M356.5 924.2l-17.3 14.3-3.4-11.1" stroke="#00cfff"/>
<path d="M321.8 951.2l16.4-12.1-3-9.9-16.5 10.8z"/>
<path class="s" d="M339.2 938.5l-17.4 12.7-3.4-12.3" stroke="#00e7ff"/>
<path d="M304.4 962.2l16.4-10.4-3.1-11.2-16.4 9.5z"/>
<path class="s" d="M321.8 951.2l-17.4 11-3.4-13.2" stroke="#0ff"/>
<path d="M287 971.7l16.4-8.9-3.1-12.2-16.4 8.4z"/>
<path class="s" d="M304.4 962.2l-17.4 9.5-3.3-13.8" stroke="#00ffe7"/>
<path d="M269.6 979.9l16.4-7.7-3.1-12.8-16.3 7.5z"/>
<path class="s" d="M287 971.7l-17.4 8.2-3.3-14.1" stroke="#00ffcf"/>
<path d="M252.3 987.1l16.3-6.8-3.1-13-16.3 6.7z"/>
<path class="s" d="M269.6 979.9l-17.3 7.2-3.4-14.2" stroke="#00ffcf"/>
<path d="M234.9 993.7l16.3-6.2-3.1-13.2-16.3 6.2z"/>
<path class="s" d="M252.3 987.1l-17.4 6.6-3.3-14.3" stroke="#00ffcf"/>
<path class="s" d="M516.2 778.7l-3.3-2.8" stroke="#ff0078"/>
<path d="M498.9 795.6l16.6-16.1-2.6-2.1-16.6 15.7z"/>
<path class="s" d="M516.2 778.7l-17.3 16.9-3.4-3.2" stroke="#ff00bf"/>
<path d="M481.5 812.7l16.6-16.3-2.6-2.5-16.6 15.9z"/>
<path class="s" d="M498.9 795.6l-17.4 17.1-3.3-3.7" stroke="#f700ff"/>
<path d="M464.1 830l16.6-16.5-2.6-3-16.7 16z"/>
<path class="s" d="M481.5 812.7l-17.4 17.3-3.3-4.4" stroke="#c700ff"/>
<path d="M446.8 847.7l16.5-16.9-2.7-3.5-16.6 16z"/>
<path class="s" d="M464.1 830l-17.3 17.7-3.4-5.3" stroke="#8000ff"/>
<path d="M429.4 865.6l16.6-17.1-2.8-4.4-16.6 16.1z"/>
<path class="s" d="M446.8 847.7l-17.4 17.9-3.4-6.4" stroke="#3800ff"/>
<path d="M412 883.9l16.6-17.4-2.9-5.5-16.6 16.1z"/>
<path class="s" d="M429.4 865.6l-17.4 18.3-3.4-7.9" stroke="#0010ff"/>
<path d="M394.6 902.6l16.6-17.8-2.9-6.9-16.6 15.9z"/>
<path class="s" d="M412 883.9l-17.4 18.7-3.3-10" stroke="#0058ff"/>
<path d="M377.2 921.4l16.6-17.9-3-8.9-16.6 15.4z"/>
<path class="s" d="M394.6 902.6l-17.4 18.8-3.3-12.6" stroke="#009fff"/>
<path d="M359.9 940.1l16.5-17.8-3.1-11.5-16.5 14.7z"/>
<path class="s" d="M377.2 921.4l-17.3 18.7-3.4-15.9" stroke="#00e7ff"/>
<path d="M342.5 958.3l16.5-17.2-3.2-14.9-16.4 13.5z"/>
<path class="s" d="M359.9 940.1l-17.4 18.2-3.3-19.8" stroke="#00ffcf"/>
<path d="M325.1 975.1l16.4-15.9-3.1-18.8-16.5 12z"/>
<path class="s" d="M342.5 958.3l-17.4 16.8-3.3-23.9" stroke="#00ff9f"/>
<path d="M307.8 989.6l16.3-13.7-3.2-22.9-16.4 10.5z"/>
<path class="s" d="M325.1 975.1l-17.3 14.5-3.4-27.4" stroke="#00ff70"/>
<path d="M290.4 1001.6l16.3-11.3-3.2-26.3-16.3 8.9z"/>
<path class="s" d="M307.8 989.6l-17.4 12-3.4-29.9" stroke="#00ff40"/>
<path d="M273 1011.1l16.3-8.9-3.2-28.8-16.3 7.7z"/>
<path class="s" d="M290.4 1001.6l-17.4 9.5-3.4-31.2" stroke="#00ff28"/>
<path d="M255.6 1018.8l16.3-7.2-3.2-30.1-16.3 6.8z"/>
<path class="s" d="M273 1011.1l-17.4 7.7-3.3-31.7" stroke="#00ff28"/>
<path d="M238.2 1025.5l16.4-6.2-3.3-30.6-16.3 6.1z"/>
<path class="s" d="M255.6 1018.8l-17.4 6.7-3.3-31.8" stroke="#00ff28"/>
<path class="s" d="M519.6 781.2l-3.4-2.5" stroke="#ff0078"/>
<path d="M502.2 798.4l16.6-16.4-2.5-1.9-16.6 16.2z"/>
<path class="s" d="M519.6 781.2l-17.4 17.2-3.3-2.8" stroke="#ff00bf"/>
<path d="M484.8 815.9l16.6-16.7-2.5-2.1-16.6 16.4z"/>
<path class="s" d="M502.2 798.4l-17.4 17.5-3.3-3.2" stroke="#f700ff"/>
<path d="M467.5 833.7l16.6-17-2.6-2.5-16.6 16.6z"/>
<path class="s" d="M484.8 815.9l-17.3 17.8-3.4-3.7" stroke="#af00ff"/>
<path d="M450.1 851.9l16.6-17.4-2.6-2.9-16.7 16.9z"/>
<path class="s" d="M467.5 833.7l-17.4 18.2-3.3-4.2" stroke="#6800ff"/>
<path d="M432.7 870.7l16.6-17.9-2.6-3.5-16.7 17.3z"/>
<path class="s" d="M450.1 851.9l-17.4 18.8-3.3-5.1" stroke="#2000ff"/>
<path d="M415.4 890.1l16.6-18.5-2.8-4.2-16.7 17.5z"/>
<path class="s" d="M432.7 870.7l-17.3 19.4-3.4-6.2" stroke="#0028ff"/>
<path d="M398 910.3l16.6-19.3-2.8-5.2-16.7 17.9z"/>
<path class="s" d="M415.4 890.1l-17.4 20.2-3.4-7.7" stroke="#0070ff"/>
<path d="M380.6 931.4l16.6-20.1-2.9-6.8-16.7 18.1z"/>
<path class="s" d="M398 910.3l-17.4 21.1-3.4-10" stroke="#00cfff"/>
<path d="M363.2 953.3l16.6-20.9-3-8.9-16.6 17.9z"/>
<path class="s" d="M380.6 931.4l-17.4 21.9-3.3-13.2" stroke="#00ffcf"/>
<path d="M345.8 975.7l16.6-21.3-3.1-12.1-16.5 17.3z"/>
<path class="s" d="M363.2 953.3l-17.4 22.4-3.3-17.4" stroke="#00ff70"/>
<path d="M328.5 997.8l16.4-20.9-3.1-16.4-16.5 15.9z"/>
<path class="s" d="M345.8 975.7l-17.3 22.1-3.4-22.7" stroke="#00ff28"/>
<path d="M311.1 1017.7l16.4-18.8-3.2-21.7-16.4 13.7z"/>
<path class="s" d="M328.5 997.8l-17.4 19.9-3.3-28.1" stroke="#38ff00"/>
<path d="M293.7 1033.2l16.4-14.6-3.2-27-16.4 11.2z"/>
<path class="s" d="M311.1 1017.7l-17.4 15.5-3.3-31.6" stroke="#68ff00"/>
<path d="M276.4 1043.9l16.3-10-3.2-30.6-16.4 9z"/>
<path class="s" d="M293.7 1033.2l-17.3 10.7-3.4-32.8" stroke="#80ff00"/>
<path d="M259 1051.4l16.3-7.1-3.2-31.6-16.4 7.3z"/>
<path class="s" d="M276.4 1043.9l-17.4 7.5-3.4-32.6" stroke="#80ff00"/>
<path d="M241.6 1057.7l16.3-5.9-3.2-31.4-16.3 6.2z"/>
<path class="s" d="M259 1051.4l-17.4 6.3-3.4-32.2" stroke="#80ff00"/>
<path class="s" d="M523 783.3l-3.4-2.1" stroke="#ff0078"/>
<path d="M505.6 800.6l16.5-16.5-2.3-1.5-16.6 16.4z"/>
<path class="s" d="M523 783.3l-17.4 17.3-3.4-2.2" stroke="#ff00bf"/>
<path d="M488.2 818.1l16.6-16.7-2.4-1.6-16.6 16.7z"/>
<path class="s" d="M505.6 800.6l-17.4 17.5-3.4-2.2" stroke="#f700ff"/>
<path d="M470.8 836.1l16.6-17.2-2.4-1.6-16.6 17.1z"/>
<path class="s" d="M488.2 818.1l-17.4 18-3.3-2.4" stroke="#af00ff"/>
<path d="M453.4 854.7l16.7-17.8-2.5-1.7-16.6 17.4z"/>
<path class="s" d="M470.8 836.1l-17.4 18.6-3.3-2.8" stroke="#6800ff"/>
<path d="M436.1 873.9l16.6-18.4-2.5-2.1-16.7 18.1z"/>
<path class="s" d="M453.4 854.7l-17.3 19.2-3.4-3.2" stroke="#2000ff"/>
<path d="M418.7 894.1l16.7-19.3-2.6-2.5-16.7 18.7z"/>
<path class="s" d="M436.1 873.9l-17.4 20.2-3.3-4" stroke="#0028ff"/>
<path d="M401.3 915.6l16.7-20.6-2.7-3.2-16.7 19.5z"/>
<path class="s" d="M418.7 894.1l-17.4 21.5-3.3-5.3" stroke="#0087ff"/>
<path d="M384 938.6l16.6-22.1-2.7-4.3-16.8 20.3z"/>
<path class="s" d="M401.3 915.6l-17.3 23-3.4-7.2" stroke="#00e7ff"/>
<path d="M366.6 963.8l16.6-24.2-2.8-6.1-16.8 21z"/>
<path class="s" d="M384 938.6l-17.4 25.2-3.4-10.5" stroke="#00ff9f"/>
<path d="M349.2 991.9l16.6-26.9-3-9.4-16.7 21.5z"/>
<path class="s" d="M366.6 963.8l-17.4 28.1-3.4-16.2" stroke="#00ff28"/>
<path d="M331.8 1024.2l16.6-30.8-3.1-15.1-16.6 21z"/>
<path class="s" d="M349.2 991.9l-17.4 32.3-3.3-26.4" stroke="#68ff00"/>
<path d="M314.4 1061.5l16.6-35.4-3.3-25.7-16.5 18.8z"/>
<path class="s" d="M331.8 1024.2l-17.4 37.3-3.3-43.8" stroke="#ffd700"/>
<path d="M297.1 1098.9l16.4-35.3-3.3-43.6-16.4 14.6z"/>
<path class="s" d="M314.4 1061.5l-17.3 37.4-3.4-65.7" stroke="#ff1800"/>
<path d="M279.7 1113.3l16.3-13.5-3.3-64.7-16.3 10z"/>
<path class="s" d="M297.1 1098.9l-17.4 14.4-3.3-69.4" stroke="#f00"/>
<path d="M262.3 1111.7l16.3 1.5-3.3-67.7-16.3 7z"/>
<path class="s" d="M279.7 1113.3l-17.4-1.6-3.3-60.3" stroke="#ff1800"/>
<path d="M245 1113.8l16.2-1.9-3.2-59-16.3 6z"/>
<path class="s" d="M262.3 1111.7l-17.3 2.1-3.4-56.1" stroke="#ff3000"/>
<path class="s" d="M526.3 784.3l-3.3-1" stroke="#ff0078"/>
<path d="M508.9 801.1l16.5-15.9-2.1-.7-16.4 16.3z"/>
<path class="s" d="M526.3 784.3l-17.4 16.8-3.3-.5" stroke="#ff00bf"/>
<path d="M491.6 818l16.3-16-1.9-.3-16.2 16.4z"/>
<path class="s" d="M508.9 801.1l-17.3 16.9-3.4 .1" stroke="#ff00ef"/>
<path d="M474.2 835.3l16.2-16.1-1.7 0-15.8 16.4z"/>
<path class="s" d="M491.6 818l-17.4 17.3-3.4 .8" stroke="#c700ff"/>
<path d="M456.8 852.9l15.9-16.1-1.3 .3-14.9 16z"/>
<path class="s" d="M474.2 835.3l-17.4 17.6-3.4 1.8" stroke="#8000ff"/>
<path class="s" d="M456.8 852.9l-17.4 18-3.3 3" stroke="#3800ff"/>
<path class="s" d="M439.4 870.9l-17.4 18.6-3.3 4.6" stroke="#0010ff"/>
<path d="M404.7 908.5l10.8-11.9 2.3-3.1-14.4 17.8z"/>
<path class="s" d="M422 889.5l-17.3 19-3.4 7.1" stroke="#0058ff"/>
<path d="M387.3 928l14.8-16.5-1.7 3.5-15.5 20.5z"/>
<path class="s" d="M404.7 908.5l-17.4 19.5-3.3 10.6" stroke="#009fff"/>
<path d="M369.9 947.5l15.6-17.5-2.5 8.1-15.9 22.9z"/>
<path class="s" d="M387.3 928l-17.4 19.5-3.3 16.3" stroke="#00e7ff"/>
<path d="M352.6 966.4l15.9-17.3-3 14.3-16 25.9z"/>
<path class="s" d="M369.9 947.5l-17.3 18.9-3.4 25.5" stroke="#00ffcf"/>
<path d="M335.2 983.7l16.1-16-3.2 23.9-16 29.9z"/>
<path class="s" d="M352.6 966.4l-17.4 17.3-3.4 40.5" stroke="#00ff87"/>
<path d="M317.8 998.3l16.2-13.6-3.3 39.2-16.1 34.7z"/>
<path class="s" d="M335.2 983.7l-17.4 14.6-3.4 63.2" stroke="#00ff58"/>
<path d="M300.4 1009.5l16.3-10.5-3.3 62.2-16.2 34.9z"/>
<path class="s" d="M317.8 998.3l-17.4 11.2-3.3 89.4" stroke="#00ff40"/>
<path d="M283 1017.9l16.3-7.9-3.3 88.4-16.2 13.4z"/>
<path class="s" d="M300.4 1009.5l-17.4 8.4-3.3 95.4" stroke="#00ff28"/>
<path d="M265.7 1024.9l16.2-6.5-3.3 93.7-16.2-1.5z"/>
<path class="s" d="M283 1017.9l-17.3 7-3.4 86.8" stroke="#00ff28"/>
<path d="M248.3 1031.2l16.3-5.9-3.3 85.5-16.3 1.9z"/>
<path class="s" d="M265.7 1024.9l-17.4 6.3-3.3 82.6" stroke="#00ff28"/>
<path class="s" d="M529.6 786.5l-3.3-2.2" stroke="#ff0078"/>
<path d="M512.3 803.2l16.5-15.9-2.4-1.6-16.5 16z"/>
<path class="s" d="M529.6 786.5l-17.3 16.7-3.4-2.1" stroke="#ff00bf"/>
<path d="M494.9 820l16.6-16-2.4-1.5-16.6 16.1z"/>
<path class="s" d="M512.3 803.2l-17.4 16.8-3.3-2" stroke="#ff00ef"/>
<path d="M477.5 836.9l16.6-16.1-2.4-1.4-16.5 16.4z"/>
<path class="s" d="M494.9 820l-17.4 16.9-3.3-1.6" stroke="#c700ff"/>
<path d="M460.2 853.8l16.5-16.1-2.3-1.1-16.4 16.6z"/>
<path class="s" d="M477.5 836.9l-17.3 16.9-3.4-.9" stroke="#8000ff"/>
<path d="M442.8 870.6l16.4-15.9-2.1-.6-16 16.7z"/>
<path class="s" d="M460.2 853.8l-17.4 16.8-3.4 .3" stroke="#5000ff"/>
<path d="M425.4 887.2l16.1-15.3-1.6 .1-13.7 14.7z"/>
<path class="s" d="M442.8 870.6l-17.4 16.6-3.4 2.3" stroke="#0800ff"/>
<path class="s" d="M425.4 887.2l-17.4 16.1-3.3 5.2" stroke="#0028ff"/>
<path d="M390.6 918.4l14.5-12.6-1.3 2.1-15.6 17.4z"/>
<path class="s" d="M408 903.3l-17.4 15.1-3.3 9.6" stroke="#0058ff"/>
<path d="M373.3 932.1l15.7-12.5-2.7 7.8-15.9 17.9z"/>
<path class="s" d="M390.6 918.4l-17.3 13.7-3.4 15.4" stroke="#0087ff"/>
<path d="M355.9 944l16.1-11-3.1 14-16.1 17.5z"/>
<path class="s" d="M373.3 932.1l-17.4 11.9-3.3 22.4" stroke="#009fff"/>
<path d="M338.5 954.1l16.2-9.4-3.2 21.2-16.1 16.1z"/>
<path class="s" d="M355.9 944l-17.4 10.1-3.3 29.6" stroke="#00b7ff"/>
<path d="M321.2 962.7l16.2-8-3.3 28.5-16.2 13.5z"/>
<path class="s" d="M338.5 954.1l-17.3 8.6-3.4 35.6" stroke="#00cfff"/>
<path d="M303.8 970l16.2-6.9-3.2 34.5-16.3 10.5z"/>
<path class="s" d="M321.2 962.7l-17.4 7.3-3.4 39.5" stroke="#00cfff"/>
<path d="M286.4 976.7l16.2-6.3-3.2 38.4-16.2 7.9z"/>
<path class="s" d="M303.8 970l-17.4 6.7-3.4 41.2" stroke="#00cfff"/>
<path d="M269 983l16.3-5.9-3.3 40.1-16.2 6.5z"/>
<path class="s" d="M286.4 976.7l-17.4 6.3-3.3 41.9" stroke="#00cfff"/>
<path d="M251.6 989.2l16.3-5.8-3.3 40.7-16.2 5.9z"/>
<path class="s" d="M269 983l-17.4 6.2-3.3 42" stroke="#00cfff"/>
<path class="s" d="M533 787.1l-3.4-.6" stroke="#ff0078"/>
<path d="M515.6 802.9l16.4-14.8-2-.4-16 15.4z"/>
<path class="s" d="M533 787.1l-17.4 15.8-3.3 .3" stroke="#ff00a7"/>
<path d="M498.2 818.5l16.1-14.3-1.5 .1-15 14.4z"/>
<path class="s" d="M515.6 802.9l-17.4 15.6-3.3 1.5" stroke="#ff00d7"/>
<path d="M480.9 833.8l14.6-12.8 0 0 11.7-11.4z"/>
<path class="s" d="M498.2 818.5l-17.3 15.3-3.4 3.1" stroke="#df00ff"/>
<path d="M463.5 848.6l-4.8 4.1 18.1-16.6-14 13.6z"/>
<path class="s" d="M480.9 833.8l-17.4 14.8-3.3 5.2" stroke="#af00ff"/>
<path d="M446.1 862.7l14.6-11.8-1.4 2.2-15.4 14.9z"/>
<path class="s" d="M463.5 848.6l-17.4 14.1-3.3 7.9" stroke="#8000ff"/>
<path d="M428.8 876l15.6-11.9-2.5 5.9-15.9 15.1z"/>
<path class="s" d="M446.1 862.7l-17.3 13.3-3.4 11.2" stroke="#6800ff"/>
<path d="M411.4 888.1l15.9-11.1-2.9 9.6-16 14.8z"/>
<path class="s" d="M428.8 876l-17.4 12.1-3.4 15.2" stroke="#3800ff"/>
<path d="M394 899l16.1-10.1-3.1 13.8-16.1 14z"/>
<path class="s" d="M411.4 888.1l-17.4 10.9-3.4 19.4" stroke="#2000ff"/>
<path d="M376.6 908.7l16.2-9-3.2 18.1-16.1 12.7z"/>
<path class="s" d="M394 899l-17.4 9.7-3.3 23.4" stroke="#0800ff"/>
<path d="M359.2 917.3l16.2-8-3.1 22.1-16.2 11.2z"/>
<path class="s" d="M376.6 908.7l-17.4 8.6-3.3 26.7" stroke="#0800ff"/>
<path d="M341.9 925l16.2-7.2-3.2 25.5-16.2 9.5z"/>
<path class="s" d="M359.2 917.3l-17.3 7.7-3.4 29.1" stroke="#0010ff"/>
<path d="M324.5 932.1l16.2-6.6-3.2 27.9-16.2 8z"/>
<path class="s" d="M341.9 925l-17.4 7.1-3.3 30.6" stroke="#0010ff"/>
<path d="M307.1 938.8l16.2-6.2-3.2 29.3-16.2 6.9z"/>
<path class="s" d="M324.5 932.1l-17.4 6.7-3.3 31.2" stroke="#0010ff"/>
<path d="M289.8 945.2l16.2-6-3.2 30-16.3 6.2z"/>
<path class="s" d="M307.1 938.8l-17.3 6.4-3.4 31.5" stroke="#0010ff"/>
<path d="M272.4 951.5l16.2-5.9-3.2 30.3-16.2 5.9z"/>
<path class="s" d="M289.8 945.2l-17.4 6.3-3.4 31.5" stroke="#0010ff"/>
<path d="M255 957.7l16.2-5.8-3.2 30.3-16.2 5.8z"/>
<path class="s" d="M272.4 951.5l-17.4 6.2-3.4 31.5" stroke="#0010ff"/>
<path class="s" d="M536.4 786.9l-3.4 .2" stroke="#ff0060"/>
<path d="M519 801.5l15.9-13.4-1.4 .1-14.7 13.3z"/>
<path class="s" d="M536.4 786.9l-17.4 14.6-3.4 1.4" stroke="#ff008f"/>
<path d="M501.6 815.7l14.2-11.6 .4-.2 18-16.2z"/>
<path class="s" d="M519 801.5l-17.4 14.2-3.4 2.8" stroke="#ff00bf"/>
<path d="M484.2 829.4l-4.7 3.8 18-15.5-13.3 11.7z"/>
<path class="s" d="M501.6 815.7l-17.4 13.7-3.3 4.4" stroke="#ff00ef"/>
<path d="M466.8 842.5l14.2-10.6-.9 1.2-15.1 12.8z"/>
<path class="s" d="M484.2 829.4l-17.4 13.1-3.3 6.1" stroke="#df00ff"/>
<path d="M449.5 854.9l15.3-10.9-2.2 3.9-15.5 12.7z"/>
<path class="s" d="M466.8 842.5l-17.3 12.4-3.4 7.8" stroke="#c700ff"/>
<path d="M432.1 866.4l15.7-10.4-2.6 6-15.8 12.1z"/>
<path class="s" d="M449.5 854.9l-17.4 11.5-3.3 9.6" stroke="#9700ff"/>
<path d="M414.7 876.9l15.9-9.6-2.8 8-15.9 11.1z"/>
<path class="s" d="M432.1 866.4l-17.4 10.5-3.3 11.2" stroke="#8000ff"/>
<path d="M397.4 886.4l16-8.8-3 9.8-16 10z"/>
<path class="s" d="M414.7 876.9l-17.3 9.5-3.4 12.6" stroke="#8000ff"/>
<path d="M380 895.1l16-8-2.9 11.2-16.1 8.9z"/>
<path class="s" d="M397.4 886.4l-17.4 8.7-3.4 13.6" stroke="#6800ff"/>
<path d="M362.6 903.1l16.1-7.4-3 12.2-16.1 8z"/>
<path class="s" d="M380 895.1l-17.4 8-3.4 14.2" stroke="#6800ff"/>
<path d="M345.2 910.5l16.1-6.9-3 12.9-16.1 7.2z"/>
<path class="s" d="M362.6 903.1l-17.4 7.4-3.3 14.5" stroke="#5000ff"/>
<path d="M327.8 917.4l16.2-6.4-3.1 13.2-16.1 6.6z"/>
<path class="s" d="M345.2 910.5l-17.4 6.9-3.3 14.7" stroke="#5000ff"/>
<path d="M310.5 924l16.1-6.1-3 13.4-16.2 6.2z"/>
<path class="s" d="M327.8 917.4l-17.3 6.6-3.4 14.8" stroke="#5000ff"/>
<path d="M293.1 930.5l16.1-6-3 13.4-16.2 6z"/>
<path class="s" d="M310.5 924l-17.4 6.5-3.3 14.7" stroke="#5000ff"/>
<path d="M275.7 936.8l16.2-5.9-3.1 13.4-16.1 5.9z"/>
<path class="s" d="M293.1 930.5l-17.4 6.3-3.3 14.7" stroke="#5000ff"/>
<path d="M258.4 943.1l16.1-5.8-3.1 13.3-16.1 5.8z"/>
<path class="s" d="M275.7 936.8l-17.3 6.3-3.4 14.6" stroke="#5000ff"/>
<path class="s" d="M539.7 785.1l-3.3 1.8" stroke="#ff0048"/>
<path class="s" d="M539.7 785.1l-17.4 12.6-3.3 3.8" stroke="#ff0078"/>
<path d="M505 810.1l13.2-9.4 0 0-14.9 12.2z"/>
<path class="s" d="M522.3 797.7l-17.3 12.4-3.4 5.6" stroke="#ff008f"/>
<path d="M487.6 822l15.2-10.5-2 3.4-15.6 12.3z"/>
<path class="s" d="M505 810.1l-17.4 11.9-3.4 7.4" stroke="#ff00bf"/>
<path d="M470.2 833.3l15.7-10.2-2.6 5.6-15.8 11.9z"/>
<path class="s" d="M487.6 822l-17.4 11.3-3.4 9.2" stroke="#ff00d7"/>
<path d="M452.8 844.1l15.9-9.8-2.8 7.5-15.9 11.4z"/>
<path class="s" d="M470.2 833.3l-17.4 10.8-3.3 10.8" stroke="#ff00ef"/>
<path d="M435.4 854.3l16-9.4-2.9 9.3-16 10.6z"/>
<path class="s" d="M452.8 844.1l-17.4 10.2-3.3 12.1" stroke="#f700ff"/>
<path d="M418.1 863.8l16-8.8-2.9 10.6-16.1 9.8z"/>
<path class="s" d="M435.4 854.3l-17.3 9.5-3.4 13.1" stroke="#df00ff"/>
<path d="M400.7 872.7l16.1-8.2-3 11.6-16.1 8.9z"/>
<path class="s" d="M418.1 863.8l-17.4 8.9-3.3 13.7" stroke="#c700ff"/>
<path d="M383.3 881l16.1-7.7-3 12.4-16.1 8z"/>
<path class="s" d="M400.7 872.7l-17.4 8.3-3.3 14.1" stroke="#c700ff"/>
<path d="M366 888.8l16.1-7.2-3.1 12.8-16.1 7.3z"/>
<path class="s" d="M383.3 881l-17.3 7.8-3.4 14.3" stroke="#c700ff"/>
<path d="M348.6 896.2l16.1-6.8-3 12.9-16.2 6.8z"/>
<path class="s" d="M366 888.8l-17.4 7.4-3.4 14.3" stroke="#af00ff"/>
<path d="M331.2 903.3l16.1-6.6-3 13-16.1 6.4z"/>
<path class="s" d="M348.6 896.2l-17.4 7.1-3.4 14.1" stroke="#af00ff"/>
<path d="M313.8 910.1l16.2-6.3-3.1 12.8-16.1 6.1z"/>
<path class="s" d="M331.2 903.3l-17.4 6.8-3.3 13.9" stroke="#af00ff"/>
<path d="M296.4 916.7l16.2-6.2-3.1 12.7-16.1 6z"/>
<path class="s" d="M313.8 910.1l-17.4 6.6-3.3 13.8" stroke="#af00ff"/>
<path d="M279.1 923.1l16.1-6-3 12.6-16.2 5.8z"/>
<path class="s" d="M296.4 916.7l-17.3 6.4-3.4 13.7" stroke="#af00ff"/>
<path d="M261.7 929.4l16.1-5.9-3 12.5-16.1 5.8z"/>
<path class="s" d="M279.1 923.1l-17.4 6.3-3.3 13.7" stroke="#af00ff"/>
<path class="s" d="M543 783.9l-3.3 1.2" stroke="#ff0048"/>
<path class="s" d="M543 783.9l-17.3 11-3.4 2.8" stroke="#ff0060"/>
<path d="M508.3 805.6l11.3-6.9 2-1.8-14.4 10.2z"/>
<path class="s" d="M525.7 794.9l-17.4 10.7-3.3 4.5" stroke="#ff0078"/>
<path d="M490.9 816.1l14.9-8.9-1.6 2.1-15.4 10.5z"/>
<path class="s" d="M508.3 805.6l-17.4 10.5-3.3 5.9" stroke="#ff008f"/>
<path d="M473.6 826.1l15.4-8.9-2.2 4-15.7 10.2z"/>
<path class="s" d="M490.9 816.1l-17.3 10-3.4 7.2" stroke="#ff00a7"/>
<path d="M456.2 835.7l15.7-8.7-2.6 5.6-15.8 9.8z"/>
<path class="s" d="M473.6 826.1l-17.4 9.6-3.4 8.4" stroke="#ff00bf"/>
<path d="M438.8 844.9l15.9-8.4-2.8 6.9-15.9 9.3z"/>
<path class="s" d="M456.2 835.7l-17.4 9.2-3.4 9.4" stroke="#ff00bf"/>
<path d="M421.4 853.6l16-8-2.8 7.9-16 8.8z"/>
<path class="s" d="M438.8 844.9l-17.4 8.7-3.3 10.2" stroke="#ff00d7"/>
<path d="M404 861.9l16.1-7.6-2.9 8.7-16 8.2z"/>
<path class="s" d="M421.4 853.6l-17.4 8.3-3.3 10.8" stroke="#ff00d7"/>
<path d="M386.7 869.8l16-7.3-2.9 9.4-16 7.7z"/>
<path class="s" d="M404 861.9l-17.3 7.9-3.4 11.2" stroke="#ff00ef"/>
<path d="M369.3 877.4l16.1-7-3 9.8-16 7.2z"/>
<path class="s" d="M386.7 869.8l-17.4 7.6-3.3 11.4" stroke="#ff00ef"/>
<path d="M351.9 884.6l16.1-6.7-3 10.1-16 6.9z"/>
<path class="s" d="M369.3 877.4l-17.4 7.2-3.3 11.6" stroke="#ff00ef"/>
<path d="M334.6 891.6l16-6.4-2.9 10.2-16.1 6.5z"/>
<path class="s" d="M351.9 884.6l-17.3 7-3.4 11.7" stroke="#f700ff"/>
<path d="M317.2 898.4l16.1-6.3-3 10.3-16.1 6.3z"/>
<path class="s" d="M334.6 891.6l-17.4 6.8-3.4 11.7" stroke="#f700ff"/>
<path d="M299.8 905l16.1-6.1-3 10.3-16.1 6.1z"/>
<path class="s" d="M317.2 898.4l-17.4 6.6-3.4 11.7" stroke="#f700ff"/>
<path d="M282.4 911.4l16.1-5.9-3 10.3-16 6z"/>
<path class="s" d="M299.8 905l-17.4 6.4-3.3 11.7" stroke="#f700ff"/>
<path d="M265 917.7l16.1-5.8-2.9 10.3-16.1 5.9z"/>
<path class="s" d="M282.4 911.4l-17.4 6.3-3.3 11.7" stroke="#f700ff"/>
<path class="s" d="M546.4 784l-3.4-.1" stroke="#ff0030"/>
<path d="M529 794l15.6-9-1.2 0-14.3 9z"/>
<path class="s" d="M546.4 784l-17.4 10-3.3 .9" stroke="#ff0048"/>
<path class="s" d="M529 794l-17.4 9.9-3.3 1.7" stroke="#ff0060"/>
<path d="M494.3 813.5l-25.4 13.9 7.4-3.8 21.8-13.1z"/>
<path class="s" d="M511.6 803.9l-17.3 9.6-3.4 2.6" stroke="#ff0078"/>
<path class="s" d="M494.3 813.5l-17.4 9.2-3.3 3.4" stroke="#ff0078"/>
<path d="M459.5 831.6l14.3-7.3-.9 .9-14.9 8.3z"/>
<path class="s" d="M476.9 822.7l-17.4 8.9-3.3 4.1" stroke="#ff008f"/>
<path d="M442.2 840.1l15-7.4-1.7 2.2-15.3 8z"/>
<path class="s" d="M459.5 831.6l-17.3 8.5-3.4 4.8" stroke="#ff00a7"/>
<path d="M424.8 848.3l15.3-7.2-2 2.9-15.5 7.8z"/>
<path class="s" d="M442.2 840.1l-17.4 8.2-3.4 5.3" stroke="#ff00a7"/>
<path d="M407.4 856.1l15.6-7-2.3 3.7-15.7 7.4z"/>
<path class="s" d="M424.8 848.3l-17.4 7.8-3.4 5.8" stroke="#ff00bf"/>
<path d="M390 863.7l15.7-6.8-2.4 4.2-15.7 7.1z"/>
<path class="s" d="M407.4 856.1l-17.4 7.6-3.3 6.1" stroke="#ff00bf"/>
<path d="M372.6 871l15.8-6.6-2.5 4.6-15.8 6.8z"/>
<path class="s" d="M390 863.7l-17.4 7.3-3.3 6.4" stroke="#ff00bf"/>
<path d="M355.3 878l15.8-6.4-2.6 4.9-15.8 6.6z"/>
<path class="s" d="M372.6 871l-17.3 7-3.4 6.6" stroke="#ff00bf"/>
<path d="M337.9 884.9l15.8-6.3-2.6 5.2-15.8 6.3z"/>
<path class="s" d="M355.3 878l-17.4 6.9-3.3 6.7" stroke="#ff00d7"/>
<path d="M320.5 891.5l15.9-6-2.6 5.3-15.9 6.1z"/>
<path class="s" d="M337.9 884.9l-17.4 6.6-3.3 6.9" stroke="#ff00d7"/>
<path d="M303.2 898.1l15.8-6-2.6 5.4-15.9 6.1z"/>
<path class="s" d="M320.5 891.5l-17.3 6.6-3.4 6.9" stroke="#ff00d7"/>
<path d="M285.8 904.5l15.9-5.9-2.7 5.5-15.9 5.9z"/>
<path class="s" d="M303.2 898.1l-17.4 6.4-3.4 6.9" stroke="#ff00d7"/>
<path d="M268.4 910.8l15.9-5.8-2.7 5.6-15.9 5.7z"/>
<path class="s" d="M285.8 904.5l-17.4 6.3-3.4 6.9" stroke="#ff00d7"/>
<path class="s" d="M549.8 784.6l-3.4-.6" stroke="#ff0030"/>
<path d="M532.4 794l15.8-8.6-1.6-.3-15.3 8.9z"/>
<path class="s" d="M549.8 784.6l-17.4 9.4-3.4 0" stroke="#ff0048"/>
<path d="M515 803.2l15.2-8.1-.9 0-14.1 8.1z"/>
<path class="s" d="M532.4 794l-17.4 9.2-3.4 .7" stroke="#ff0048"/>
<path class="s" d="M515 803.2l-17.4 9-3.3 1.3" stroke="#ff0060"/>
<path class="s" d="M497.6 812.2l-17.4 8.6-3.3 1.9" stroke="#ff0078"/>
<path class="s" d="M480.2 820.8l-17.3 8.4-3.4 2.4" stroke="#ff0078"/>
<path class="s" d="M462.9 829.2l-17.4 8.1-3.3 2.8" stroke="#ff008f"/>
<path d="M428.1 845.1l13.7-6.1-.2 .2-14.3 6.7z"/>
<path class="s" d="M445.5 837.3l-17.4 7.8-3.3 3.2" stroke="#ff008f"/>
<path d="M410.8 852.6l14.4-6.2-1 1-14.8 6.6z"/>
<path class="s" d="M428.1 845.1l-17.3 7.5-3.4 3.5" stroke="#ff008f"/>
<path d="M393.4 859.9l14.8-6.2-1.4 1.5-15 6.5z"/>
<path class="s" d="M410.8 852.6l-17.4 7.3-3.4 3.8" stroke="#ff008f"/>
<path d="M376 867l15.1-6.1-1.7 1.9-15.2 6.3z"/>
<path class="s" d="M393.4 859.9l-17.4 7.1-3.4 4" stroke="#ff00a7"/>
<path d="M358.6 873.9l15.2-6-1.8 2.2-15.3 6.2z"/>
<path class="s" d="M376 867l-17.4 6.9-3.3 4.1" stroke="#ff00a7"/>
<path d="M341.2 880.6l15.4-5.9-2 2.4-15.3 6.1z"/>
<path class="s" d="M358.6 873.9l-17.4 6.7-3.3 4.3" stroke="#ff00a7"/>
<path d="M323.9 887.2l15.3-5.8-2 2.6-15.4 5.9z"/>
<path class="s" d="M341.2 880.6l-17.3 6.6-3.4 4.3" stroke="#ff00a7"/>
<path d="M306.5 893.7l15.4-5.8-2.1 2.7-15.4 5.8z"/>
<path class="s" d="M323.9 887.2l-17.4 6.5-3.3 4.4" stroke="#ff00a7"/>
<path d="M289.1 900.1l15.5-5.7-2.1 2.8-15.5 5.7z"/>
<path class="s" d="M306.5 893.7l-17.4 6.4-3.3 4.4" stroke="#ff00a7"/>
<path d="M271.8 906.3l15.4-5.5-2.1 2.8-15.5 5.6z"/>
<path class="s" d="M289.1 900.1l-17.3 6.2-3.4 4.5" stroke="#ff00a7"/>
<path class="s" d="M553.1 785.3l-3.3-.7" stroke="#ff0018"/>
<path d="M535.7 794.1l15.8-8-1.6-.4-15.3 8.3z"/>
<path class="s" d="M553.1 785.3l-17.4 8.8-3.3-.1" stroke="#ff0030"/>
<path d="M518.4 802.7l15.2-7.6-1 0-14.3 7.6z"/>
<path class="s" d="M535.7 794.1l-17.3 8.6-3.4 .5" stroke="#ff0048"/>
<path class="s" d="M518.4 802.7l-17.4 8.4-3.4 1.1" stroke="#ff0048"/>
<path d="M483.6 819.3l10-4.7 4.4-1.4 9.9-5z"/>
<path class="s" d="M501 811.1l-17.4 8.2-3.4 1.5" stroke="#ff0060"/>
<path class="s" d="M483.6 819.3l-17.4 8-3.3 1.9" stroke="#ff0060"/>
<path class="s" d="M466.2 827.3l-17.4 7.8-3.3 2.2" stroke="#ff0060"/>
<path class="s" d="M448.8 835.1l-17.3 7.5-3.4 2.5" stroke="#ff0078"/>
<path class="s" d="M431.5 842.6l-17.4 7.3-3.3 2.7" stroke="#ff0078"/>
<path d="M396.7 857l13.9-5.7-.4 .4-14.1 5.9z"/>
<path class="s" d="M414.1 849.9l-17.4 7.1-3.3 2.9" stroke="#ff0078"/>
<path d="M379.4 864l14.2-5.7-.8 .7-14.4 5.8z"/>
<path class="s" d="M396.7 857l-17.3 7-3.4 3" stroke="#ff0078"/>
<path d="M362 870.8l14.4-5.7-1 1-14.5 5.7z"/>
<path class="s" d="M379.4 864l-17.4 6.8-3.4 3.1" stroke="#ff008f"/>
<path d="M344.6 877.5l14.6-5.7-1.2 1.1-14.6 5.7z"/>
<path class="s" d="M362 870.8l-17.4 6.7-3.4 3.1" stroke="#ff008f"/>
<path d="M327.2 884l14.7-5.5-1.2 1.2-14.8 5.6z"/>
<path class="s" d="M344.6 877.5l-17.4 6.5-3.3 3.2" stroke="#ff008f"/>
<path d="M309.8 890.5l14.8-5.5-1.3 1.3-14.8 5.5z"/>
<path class="s" d="M327.2 884l-17.4 6.5-3.3 3.2" stroke="#ff008f"/>
<path d="M292.5 896.8l14.8-5.4-1.4 1.3-14.8 5.5z"/>
<path class="s" d="M309.8 890.5l-17.3 6.3-3.4 3.3" stroke="#ff008f"/>
<path d="M275.1 903.1l14.9-5.4-1.5 1.4-14.8 5.4z"/>
<path class="s" d="M292.5 896.8l-17.4 6.3-3.3 3.2" stroke="#ff008f"/>
<path class="s" d="M556.4 786.1l-3.3-.8" stroke="#ff0018"/>
<path d="M539.1 794.3l15.8-7.5-1.7-.4-15.3 7.8z"/>
<path class="s" d="M556.4 786.1l-17.3 8.2-3.4-.2" stroke="#ff0030"/>
<path d="M521.7 802.4l15.3-7.2-1.1 0-14.6 7.2z"/>
<path class="s" d="M539.1 794.3l-17.4 8.1-3.3 .3" stroke="#ff0030"/>
<path class="s" d="M521.7 802.4l-17.4 8-3.3 .7" stroke="#ff0048"/>
<path class="s" d="M504.3 810.4l-17.3 7.8-3.4 1.1" stroke="#ff0048"/>
<path class="s" d="M487 818.2l-17.4 7.6-3.4 1.5" stroke="#ff0048"/>
<path class="s" d="M469.6 825.8l-17.4 7.6-3.4 1.7" stroke="#ff0060"/>
<path class="s" d="M452.2 833.4l-17.4 7.3-3.3 1.9" stroke="#ff0060"/>
<path class="s" d="M434.8 840.7l-17.4 7.2-3.3 2" stroke="#ff0060"/>
<path class="s" d="M417.4 847.9l-17.3 7-3.4 2.1" stroke="#ff0060"/>
<path class="s" d="M400.1 854.9l-17.4 6.9-3.3 2.2" stroke="#ff0060"/>
<path class="s" d="M382.7 861.8l-17.4 6.8-3.3 2.2" stroke="#ff0078"/>
<path class="s" d="M365.3 868.6l-17.3 6.6-3.4 2.3" stroke="#ff0078"/>
<path class="s" d="M348 875.2l-17.4 6.5-3.4 2.3" stroke="#ff0078"/>
<path class="s" d="M330.6 881.7l-17.4 6.5-3.4 2.3" stroke="#ff0078"/>
<path class="s" d="M313.2 888.2l-17.4 6.3-3.3 2.3" stroke="#ff0078"/>
<path class="s" d="M295.8 894.5l-17.4 6.3-3.3 2.3" stroke="#ff0078"/>
<path class="s" d="M559.8 787.2l-3.4-1.1" stroke="#ff0018"/>
<path d="M542.4 795l15.9-7.1-1.8-.6-15.7 7.4z"/>
<path class="s" d="M559.8 787.2l-17.4 7.8-3.3-.7" stroke="#ff0018"/>
<path d="M525 802.7l15.7-6.9-1.5-.4-15.4 7.2z"/>
<path class="s" d="M542.4 795l-17.4 7.7-3.3-.3" stroke="#ff0030"/>
<path d="M507.7 810.4l15.3-6.8-1.1-.1-15 6.9z"/>
<path class="s" d="M525 802.7l-17.3 7.7-3.4 0" stroke="#ff0030"/>
<path d="M490.3 817.9l14.9-6.4-.6 0-14.4 6.4z"/>
<path class="s" d="M507.7 810.4l-17.4 7.5-3.3 .3" stroke="#ff0030"/>
<path class="s" d="M490.3 817.9l-17.4 7.5-3.3 .4" stroke="#ff0048"/>
<path class="s" d="M472.9 825.4l-17.3 7.3-3.4 .7" stroke="#ff0048"/>
<path class="s" d="M455.6 832.7l-17.4 7.2-3.4 .8" stroke="#ff0048"/>
<path class="s" d="M438.2 839.9l-17.4 7.1-3.4 .9" stroke="#ff0048"/>
<path class="s" d="M420.8 847l-17.4 6.9-3.3 1" stroke="#ff0060"/>
<path class="s" d="M403.4 853.9l-17.4 6.9-3.3 1" stroke="#ff0060"/>
<path class="s" d="M386 860.8l-17.3 6.7-3.4 1.1" stroke="#ff0060"/>
<path class="s" d="M368.7 867.5l-17.4 6.6-3.3 1.1" stroke="#ff0060"/>
<path d="M333.9 880.7l-1.3 .5 15.7-5 1.7-.6z"/>
<path class="s" d="M351.3 874.1l-17.4 6.6-3.3 1" stroke="#ff0060"/>
<path d="M316.6 887.1l-3.7 1.4 18-5.7 3.7-1.4z"/>
<path class="s" d="M333.9 880.7l-17.3 6.4-3.4 1.1" stroke="#ff0060"/>
<path class="s" d="M316.6 887.1l-17.4 6.4-3.4 1" stroke="#ff0060"/>
<path class="s" d="M299.2 893.5l-17.4 6.3-3.4 1" stroke="#ff0060"/>
<path class="s" d="M563.2 788.7l-3.4-1.5" stroke="#ff0018"/>
<path d="M545.8 796.2l16-6.9-2-.9-15.9 7.1z"/>
<path class="s" d="M563.2 788.7l-17.4 7.5-3.4-1.2" stroke="#ff0018"/>
<path d="M528.4 803.7l15.9-6.9-1.8-.6-15.8 7z"/>
<path class="s" d="M545.8 796.2l-17.4 7.5-3.4-1" stroke="#ff0018"/>
<path d="M511 811.1l15.8-6.7-1.7-.5-15.6 6.9z"/>
<path class="s" d="M528.4 803.7l-17.4 7.4-3.3-.7" stroke="#ff0030"/>
<path d="M493.6 818.5l15.7-6.6-1.5-.4-15.5 6.8z"/>
<path class="s" d="M511 811.1l-17.4 7.4-3.3-.6" stroke="#ff0030"/>
<path d="M476.3 825.8l15.4-6.5-1.3-.2-15.3 6.5z"/>
<path class="s" d="M493.6 818.5l-17.3 7.3-3.4-.4" stroke="#ff0030"/>
<path d="M458.9 833l15.3-6.4-1.1-.1-15.2 6.4z"/>
<path class="s" d="M476.3 825.8l-17.4 7.2-3.3-.3" stroke="#ff0030"/>
<path d="M441.5 840.1l15.2-6.2-1-.1-15 6.2z"/>
<path class="s" d="M458.9 833l-17.4 7.1-3.3-.2" stroke="#ff0048"/>
<path d="M424.2 847.1l14.9-6.1-.7 0-14.9 6z"/>
<path class="s" d="M441.5 840.1l-17.3 7-3.4-.1" stroke="#ff0048"/>
<path d="M406.8 854l14.8-5.9-.6 0-14.7 5.9z"/>
<path class="s" d="M424.2 847.1l-17.4 6.9-3.4-.1" stroke="#ff0048"/>
<path d="M389.4 860.8l14.7-5.8-.5 0-14.6 5.8z"/>
<path class="s" d="M406.8 854l-17.4 6.8-3.4 0" stroke="#ff0048"/>
<path d="M372 867.5l14.6-5.6-.3 0-14.6 5.6z"/>
<path class="s" d="M389.4 860.8l-17.4 6.7-3.3 0" stroke="#ff0048"/>
<path d="M354.6 874.1l14.6-5.5-.3 0-14.5 5.5z"/>
<path class="s" d="M372 867.5l-17.4 6.6-3.3 0" stroke="#ff0048"/>
<path d="M337.3 880.7l14.4-5.5-.2 0-14.4 5.5z"/>
<path class="s" d="M354.6 874.1l-17.3 6.6-3.4 0" stroke="#ff0060"/>
<path d="M319.9 887.1l14.4-5.3-.2 0-14.4 5.3z"/>
<path class="s" d="M337.3 880.7l-17.4 6.4-3.3 0" stroke="#ff0060"/>
<path d="M302.5 893.5l14.4-5.3-.2 0-14.3 5.3z"/>
<path class="s" d="M319.9 887.1l-17.4 6.4-3.3 0" stroke="#ff0060"/>
<path d="M285.2 899.7l14.3-5.1-.1 0-14.3 5.1z"/>
<path class="s" d="M302.5 893.5l-17.3 6.2-3.4 .1" stroke="#ff0060"/>
<path class="s" d="M566.5 790.3l-3.3-1.6" stroke="#ff0018"/>
<path d="M549.1 797.7l16.1-6.8-2.1-1-16 6.9z"/>
<path class="s" d="M566.5 790.3l-17.4 7.4-3.3-1.5" stroke="#ff0018"/>
<path d="M531.8 805l15.9-6.7-1.9-.9-16 6.9z"/>
<path class="s" d="M549.1 797.7l-17.3 7.3-3.4-1.3" stroke="#ff0018"/>
<path d="M514.4 812.3l15.9-6.7-1.9-.7-15.9 6.8z"/>
<path class="s" d="M531.8 805l-17.4 7.3-3.4-1.2" stroke="#ff0030"/>
<path d="M497 819.6l15.9-6.6-1.8-.7-15.8 6.7z"/>
<path class="s" d="M514.4 812.3l-17.4 7.3-3.4-1.1" stroke="#ff0030"/>
<path d="M479.6 826.7l15.8-6.5-1.7-.5-15.7 6.6z"/>
<path class="s" d="M497 819.6l-17.4 7.1-3.3-.9" stroke="#ff0030"/>
<path d="M462.2 833.8l15.8-6.4-1.7-.5-15.6 6.5z"/>
<path class="s" d="M479.6 826.7l-17.4 7.1-3.3-.8" stroke="#ff0030"/>
<path d="M444.9 840.9l15.6-6.4-1.5-.4-15.6 6.4z"/>
<path class="s" d="M462.2 833.8l-17.3 7.1-3.4-.8" stroke="#ff0030"/>
<path d="M427.5 847.8l15.6-6.2-1.5-.4-15.6 6.3z"/>
<path class="s" d="M444.9 840.9l-17.4 6.9-3.3-.7" stroke="#ff0048"/>
<path d="M410.1 854.7l15.6-6.2-1.5-.3-15.5 6.2z"/>
<path class="s" d="M427.5 847.8l-17.4 6.9-3.3-.7" stroke="#ff0048"/>
<path d="M392.8 861.5l15.5-6.1-1.4-.3-15.5 6.1z"/>
<path class="s" d="M410.1 854.7l-17.3 6.8-3.4-.7" stroke="#ff0048"/>
<path d="M375.4 868.2l15.4-6-1.3-.3-15.5 6z"/>
<path class="s" d="M392.8 861.5l-17.4 6.7-3.4-.7" stroke="#ff0048"/>
<path d="M358 874.8l15.4-5.9-1.3-.2-15.4 5.8z"/>
<path class="s" d="M375.4 868.2l-17.4 6.6-3.4-.7" stroke="#ff0048"/>
<path d="M340.6 881.3l15.4-5.8-1.3-.2-15.3 5.8z"/>
<path class="s" d="M358 874.8l-17.4 6.5-3.3-.6" stroke="#ff0048"/>
<path d="M323.2 887.8l15.4-5.7-1.2-.3-15.4 5.7z"/>
<path class="s" d="M340.6 881.3l-17.4 6.5-3.3-.7" stroke="#ff0048"/>
<path d="M305.9 894.1l15.3-5.6-1.2-.2-15.4 5.6z"/>
<path class="s" d="M323.2 887.8l-17.3 6.3-3.4-.6" stroke="#ff0048"/>
<path d="M288.5 900.4l15.3-5.6-1.2-.2-15.3 5.5z"/>
<path class="s" d="M305.9 894.1l-17.4 6.3-3.3-.7" stroke="#ff0048"/>
</g>
<path stroke="#262626" stroke-width="1.2" fill="none" d="M74.1 1043L74.1 759.8M74.1 1043L288.5 1172.8M288.5 1172.8L566.5 1073.2M288.5 1172.8L294.7 1176.6M358 1147.9L364.2 1151.7M427.5 1123L433.7 1126.8M497 1098.1L503.2 1101.9M566.5 1073.2L572.7 1077M248.3 1148.5L240.8 1151.2M181.3 1107.9L173.8 1110.6M114.3 1067.4L106.8 1070.1M74.1 829.1L66.4 824.5M74.1 900.4L66.4 895.8M74.1 971.7L66.4 967.1M74.1 1043L66.4 1038.4"/>
<g class="tk"><text x="300.7" y="1201.7">0</text><text x="370.2" y="1176.8">20</text><text x="439.7" y="1151.9">40</text><text x="509.2" y="1127">60</text><text x="578.7" y="1102.1">80</text><text x="234.3" y="1173.8" text-anchor="end">5</text><text x="167.3" y="1133.2" text-anchor="end">10</text><text x="100.3" y="1092.7" text-anchor="end">15</text><text x="60.8" y="829.5" text-anchor="end">-10</text><text x="60.8" y="900.8" text-anchor="end">-20</text><text x="60.8" y="972.1" text-anchor="end">-30</text><text x="60.8" y="1043.4" text-anchor="end">-40</text></g>
<rect x="607.6" y="512.5" width="28.4" height="8.5" fill="#f00"/>
<rect x="607.6" y="504.5" width="28.4" height="8.5" fill="#ff1800"/>
<rect x="607.6" y="496.5" width="28.4" height="8.5" fill="#ff3000"/>
<rect x="607.6" y="488.4" width="28.4" height="8.5" fill="#ff4800"/>
<rect x="607.6" y="480.4" width="28.4" height="8.5" fill="#ff6000"/>
<rect x="607.6" y="472.4" width="28.4" height="8.5" fill="#ff7800"/>
<rect x="607.6" y="464.4" width="28.4" height="8.5" fill="#ff8f00"/>
<rect x="607.6" y="456.4" width="28.4" height="8.5" fill="#ffa700"/>
<rect x="607.6" y="448.4" width="28.4" height="8.5" fill="#ffbf00"/>
<rect x="607.6" y="440.4" width="28.4" height="8.5" fill="#ffd700"/>
<rect x="607.6" y="432.3" width="28.4" height="8.5" fill="#ffef00"/>
<rect x="607.6" y="424.3" width="28.4" height="8.5" fill="#f7ff00"/>
<rect x="607.6" y="416.3" width="28.4" height="8.5" fill="#dfff00"/>
<rect x="607.6" y="408.3" width="28.4" height="8.5" fill="#c7ff00"/>
<rect x="607.6" y="400.3" width="28.4" height="8.5" fill="#afff00"/>
<rect x="607.6" y="392.3" width="28.4" height="8.5" fill="#97ff00"/>
<rect x="607.6" y="384.3" width="28.4" height="8.5" fill="#80ff00"/>
<rect x="607.6" y="376.2" width="28.4" height="8.5" fill="#68ff00"/>
<rect x="607.6" y="368.2" width="28.4" height="8.5" fill="#50ff00"/>
<rect x="607.6" y="360.2" width="28.4" height="8.5" fill="#38ff00"/>
<rect x="607.6" y="352.2" width="28.4" height="8.5" fill="#20ff00"/>
<rect x="607.6" y="344.2" width="28.4" height="8.5" fill="#08ff00"/>
<rect x="607.6" y="336.2" width="28.4" height="8.5" fill="#00ff10"/>
<rect x="607.6" y="328.2" width="28.4" height="8.5" fill="#00ff28"/>
<rect x="607.6" y="320.1" width="28.4" height="8.5" fill="#00ff40"/>
<rect x="607.6" y="312.1" width="28.4" height="8.5" fill="#00ff58"/>
<rect x="607.6" y="304.1" width="28.4" height="8.5" fill="#00ff70"/>
<rect x="607.6" y="296.1" width="28.4" height="8.5" fill="#00ff87"/>
<rect x="607.6" y="288.1" width="28.4" height="8.5" fill="#00ff9f"/>
<rect x="607.6" y="280.1" width="28.4" height="8.5" fill="#00ffb7"/>
<rect x="607.6" y="272.1" width="28.4" height="8.5" fill="#00ffcf"/>
<rect x="607.6" y="264.1" width="28.4" height="8.5" fill="#00ffe7"/>
<rect x="607.6" y="256" width="28.4" height="8.5" fill="#0ff"/>
<rect x="607.6" y="248" width="28.4" height="8.5" fill="#00e7ff"/>
<rect x="607.6" y="240" width="28.4" height="8.5" fill="#00cfff"/>
<rect x="607.6" y="232" width="28.4" height="8.5" fill="#00b7ff"/>
<rect x="607.6" y="224" width="28.4" height="8.5" fill="#009fff"/>
<rect x="607.6" y="216" width="28.4" height="8.5" fill="#0087ff"/>
<rect x="607.6" y="208" width="28.4" height="8.5" fill="#0070ff"/>
<rect x="607.6" y="199.9" width="28.4" height="8.5" fill="#0058ff"/>
<rect x="607.6" y="191.9" width="28.4" height="8.5" fill="#0040ff"/>
<rect x="607.6" y="183.9" width="28.4" height="8.5" fill="#0028ff"/>
<rect x="607.6" y="175.9" width="28.4" height="8.5" fill="#0010ff"/>
<rect x="607.6" y="167.9" width="28.4" height="8.5" fill="#0800ff"/>
<rect x="607.6" y="159.9" width="28.4" height="8.5" fill="#2000ff"/>
<rect x="607.6" y="151.9" width="28.4" height="8.5" fill="#3800ff"/>
<rect x="607.6" y="143.8" width="28.4" height="8.5" fill="#5000ff"/>
<rect x="607.6" y="135.8" width="28.4" height="8.5" fill="#6800ff"/>
<rect x="607.6" y="127.8" width="28.4" height="8.5" fill="#8000ff"/>
<rect x="607.6" y="119.8" width="28.4" height="8.5" fill="#9700ff"/>
<rect x="607.6" y="111.8" width="28.4" height="8.5" fill="#af00ff"/>
<rect x="607.6" y="103.8" width="28.4" height="8.5" fill="#c700ff"/>
<rect x="607.6" y="95.8" width="28.4" height="8.5" fill="#df00ff"/>
<rect x="607.6" y="87.7" width="28.4" height="8.5" fill="#f700ff"/>
<rect x="607.6" y="79.7" width="28.4" height="8.5" fill="#ff00ef"/>
<rect x="607.6" y="71.7" width="28.4" height="8.5" fill="#ff00d7"/>
<rect x="607.6" y="63.7" width="28.4" height="8.5" fill="#ff00bf"/>
<rect x="607.6" y="55.7" width="28.4" height="8.5" fill="#ff00a7"/>
<rect x="607.6" y="47.7" width="28.4" height="8.5" fill="#ff008f"/>
<rect x="607.6" y="39.7" width="28.4" height="8.5" fill="#ff0078"/>
<rect x="607.6" y="31.6" width="28.4" height="8.5" fill="#ff0060"/>
<rect x="607.6" y="23.6" width="28.4" height="8.5" fill="#ff0048"/>
<rect x="607.6" y="15.6" width="28.4" height="8.5" fill="#ff0030"/>
<rect x="607.6" y="7.6" width="28.4" height="8.5" fill="#ff0018"/>
<rect x="607.6" y="7.6" width="28.4" height="512.9" fill="none" stroke="#262626" stroke-width="1.1"/>
<path d="M636 472.9h-5.6M636 425.3h-5.6M636 377.7h-5.6M636 330.1h-5.6M636 282.5h-5.6M636 234.9h-5.6M636 187.3h-5.6M636 139.7h-5.6M636 92.1h-5.6M636 44.5h-5.6" stroke="#262626" stroke-width="1.1"/>
<g class="cb"><text x="643" y="480.1">-50</text><text x="643" y="432.5">-45</text><text x="643" y="384.9">-40</text><text x="643" y="337.3">-35</text><text x="643" y="289.7">-30</text><text x="643" y="242.1">-25</text><text x="643" y="194.5">-20</text><text x="643" y="146.9">-15</text><text x="643" y="99.3">-10</text><text x="643" y="51.7">-5</text></g>
<rect x="608.2" y="1165.3" width="28.5" height="8.5" fill="#f00"/>
<rect x="608.2" y="1157.3" width="28.5" height="8.5" fill="#ff1800"/>
<rect x="608.2" y="1149.3" width="28.5" height="8.5" fill="#ff3000"/>
<rect x="608.2" y="1141.3" width="28.5" height="8.5" fill="#ff4800"/>
<rect x="608.2" y="1133.2" width="28.5" height="8.5" fill="#ff6000"/>
<rect x="608.2" y="1125.2" width="28.5" height="8.5" fill="#ff7800"/>
<rect x="608.2" y="1117.2" width="28.5" height="8.5" fill="#ff8f00"/>
<rect x="608.2" y="1109.2" width="28.5" height="8.5" fill="#ffa700"/>
<rect x="608.2" y="1101.2" width="28.5" height="8.5" fill="#ffbf00"/>
<rect x="608.2" y="1093.2" width="28.5" height="8.5" fill="#ffd700"/>
<rect x="608.2" y="1085.2" width="28.5" height="8.5" fill="#ffef00"/>
<rect x="608.2" y="1077.2" width="28.5" height="8.5" fill="#f7ff00"/>
<rect x="608.2" y="1069.2" width="28.5" height="8.5" fill="#dfff00"/>
<rect x="608.2" y="1061.1" width="28.5" height="8.5" fill="#c7ff00"/>
<rect x="608.2" y="1053.1" width="28.5" height="8.5" fill="#afff00"/>
<rect x="608.2" y="1045.1" width="28.5" height="8.5" fill="#97ff00"/>
<rect x="608.2" y="1037.1" width="28.5" height="8.5" fill="#80ff00"/>
<rect x="608.2" y="1029.1" width="28.5" height="8.5" fill="#68ff00"/>
<rect x="608.2" y="1021.1" width="28.5" height="8.5" fill="#50ff00"/>
<rect x="608.2" y="1013.1" width="28.5" height="8.5" fill="#38ff00"/>
<rect x="608.2" y="1005.1" width="28.5" height="8.5" fill="#20ff00"/>
<rect x="608.2" y="997.1" width="28.5" height="8.5" fill="#08ff00"/>
<rect x="608.2" y="989" width="28.5" height="8.5" fill="#00ff10"/>
<rect x="608.2" y="981" width="28.5" height="8.5" fill="#00ff28"/>
<rect x="608.2" y="973" width="28.5" height="8.5" fill="#00ff40"/>
<rect x="608.2" y="965" width="28.5" height="8.5" fill="#00ff58"/>
<rect x="608.2" y="957" width="28.5" height="8.5" fill="#00ff70"/>
<rect x="608.2" y="949" width="28.5" height="8.5" fill="#00ff87"/>
<rect x="608.2" y="941" width="28.5" height="8.5" fill="#00ff9f"/>
<rect x="608.2" y="933" width="28.5" height="8.5" fill="#00ffb7"/>
<rect x="608.2" y="925" width="28.5" height="8.5" fill="#00ffcf"/>
<rect x="608.2" y="917" width="28.5" height="8.5" fill="#00ffe7"/>
<rect x="608.2" y="908.9" width="28.5" height="8.5" fill="#0ff"/>
<rect x="608.2" y="900.9" width="28.5" height="8.5" fill="#00e7ff"/>
<rect x="608.2" y="892.9" width="28.5" height="8.5" fill="#00cfff"/>
<rect x="608.2" y="884.9" width="28.5" height="8.5" fill="#00b7ff"/>
<rect x="608.2" y="876.9" width="28.5" height="8.5" fill="#009fff"/>
<rect x="608.2" y="868.9" width="28.5" height="8.5" fill="#0087ff"/>
<rect x="608.2" y="860.9" width="28.5" height="8.5" fill="#0070ff"/>
<rect x="608.2" y="852.9" width="28.5" height="8.5" fill="#0058ff"/>
<rect x="608.2" y="844.9" width="28.5" height="8.5" fill="#0040ff"/>
<rect x="608.2" y="836.8" width="28.5" height="8.5" fill="#0028ff"/>
<rect x="608.2" y="828.8" width="28.5" height="8.5" fill="#0010ff"/>
<rect x="608.2" y="820.8" width="28.5" height="8.5" fill="#0800ff"/>
<rect x="608.2" y="812.8" width="28.5" height="8.5" fill="#2000ff"/>
<rect x="608.2" y="804.8" width="28.5" height="8.5" fill="#3800ff"/>
<rect x="608.2" y="796.8" width="28.5" height="8.5" fill="#5000ff"/>
<rect x="608.2" y="788.8" width="28.5" height="8.5" fill="#6800ff"/>
<rect x="608.2" y="780.8" width="28.5" height="8.5" fill="#8000ff"/>
<rect x="608.2" y="772.8" width="28.5" height="8.5" fill="#9700ff"/>
<rect x="608.2" y="764.7" width="28.5" height="8.5" fill="#af00ff"/>
<rect x="608.2" y="756.7" width="28.5" height="8.5" fill="#c700ff"/>
<rect x="608.2" y="748.7" width="28.5" height="8.5" fill="#df00ff"/>
<rect x="608.2" y="740.7" width="28.5" height="8.5" fill="#f700ff"/>
<rect x="608.2" y="732.7" width="28.5" height="8.5" fill="#ff00ef"/>
<rect x="608.2" y="724.7" width="28.5" height="8.5" fill="#ff00d7"/>
<rect x="608.2" y="716.7" width="28.5" height="8.5" fill="#ff00bf"/>
<rect x="608.2" y="708.7" width="28.5" height="8.5" fill="#ff00a7"/>
<rect x="608.2" y="700.7" width="28.5" height="8.5" fill="#ff008f"/>
<rect x="608.2" y="692.6" width="28.5" height="8.5" fill="#ff0078"/>
<rect x="608.2" y="684.6" width="28.5" height="8.5" fill="#ff0060"/>
<rect x="608.2" y="676.6" width="28.5" height="8.5" fill="#ff0048"/>
<rect x="608.2" y="668.6" width="28.5" height="8.5" fill="#ff0030"/>
<rect x="608.2" y="660.6" width="28.5" height="8.5" fill="#ff0018"/>
<rect x="608.2" y="660.6" width="28.5" height="512.7" fill="none" stroke="#262626" stroke-width="1.1"/>
<path d="M636.7 1144.4h-5.6M636.7 1075.1h-5.6M636.7 1005.7h-5.6M636.7 936.4h-5.6M636.7 867h-5.6M636.7 797.7h-5.6M636.7 728.3h-5.6" stroke="#262626" stroke-width="1.1"/>
<g class="cb"><text x="643.7" y="1151.6">-35</text><text x="643.7" y="1082.3">-30</text><text x="643.7" y="1012.9">-25</text><text x="643.7" y="943.6">-20</text><text x="643.7" y="874.2">-15</text><text x="643.7" y="804.9">-10</text><text x="643.7" y="735.5">-5</text></g>
<g fill="none" stroke-width="2.7" stroke-linejoin="round">
<path d="M819.4 156.6l34.3-1.2 37.7-4.1 33.2-5 36.5-7.6 45.8-14.1 28.5-11.5 32-16.4 13.7-12.1 12.6-11.5 10.3-6.4 8-8.4 3.4-9.2 6.9-8.4-4.6-15.6-5.7-16.5" stroke="#00008f"/>
<path d="M819.4 200.7l34.3 .4 37.7 1.4 33.2 2.1 36.5 3.4 33.2 5 38.8 8.3 29.8 10.7 12.5 8 18.3 22.3 6.9 10.3 .7 12.5 2.2 11.5-1.8 9.1-6.8 13.7-9.2 11.5-13.7 14.8-16 9.2-22.9 9.8-38.8 11.4-29.7 4.6-27.5 3.9-50.2 7.5-34.3 1.6-33.2 0" stroke="#00008f"/>
<path d="M819.4 428.5l49.2-1.2 59.4-2.3 66.3-3.9 38.8-2.9 36.6-5.1 33.2-4.5 34.2-8.7 26.3-7.8 11.5-7.5 17.1-8.5 9.1-8.7 9.2-9.1 9.6-12.6 1.1-8-1.6-16-1.1-20.6-5.7-20.5-2.3-17.7-1.8-20.6-3.9-18.3-.5-22.9 1.6-18.2 4.6-22.9 6.8-22.9 11.5-27.4 11.4-25.1 9.1-25.2 3.5-18.7-4.6-13.3-3.4-10.3-6.9-8.5" stroke="#00008f"/>
<path d="M819.4 449.7l72-1.1 102.9-3 57.1-3.2 45.7-3.7 40-2.7 34.3-4.6 38.9-8 29.7-8 22.9-9.1 18.2-13.7 13.8-16 11.4-18.3 6.8-18.3 2.3-16 1.2-29.7-.5-34.3 .5-20-1.2-34.3 .5-45.7 3-36.6 5.7-32 5.7-29.7 2.3-21-3.5-17.8-5.7-14.3" stroke="#ffcf00"/>
<path d="M819.4 456.6l117.7-1.2 57.2-1.1 57.1-2.3 45.7-2.7 40-3 34.3-4.6 34.3-5.2 34.3-7.4 34.3-11.4 22.8-12.6 17.2-13.7 8-12.5 9.1-14.9 6.9-19.4 3.4-20.6 1.6-29.7-.4-34.3 0-31.4-.7-50.3 1.8-41.2 3.4-34.2 4.6-36.6 2.3-25.6-2.3-17.8-4.6-14.3" stroke="#ff4000"/>
<path d="M819.4 471.9l174.9-.9 80-1.2 62.8-1.8 34.3-2.3 36.6-3.4 36.6-6.9 32-8 20.5-6.8 19-6.4 17.6-10.8 18.3-14.8 13.7-18.3 9.2-22.9 5.7-27.4 2.3-34.3 1.1-29.7-.5-47.4 .5-45.7 1.1-45.8 2.3-38.8" stroke="#800000"/>
</g>
<path d="M1138.7 520.1V8.1M1209.8 520.1V8.1M1316.4 520.1V8.1M819 437.1H1387.4" stroke="#000" stroke-width="3" stroke-dasharray="11.6 9.79" fill="none"/>
<path d="M819 8.1H1387.4V520.1H819zM961.1 520.1v-5.6M961.1 8.1v5.6M1103.2 520.1v-5.6M1103.2 8.1v5.6M1245.3 520.1v-5.6M1245.3 8.1v5.6M819 456.1h5.6M1387.4 456.1h-5.6M819 392.1h5.6M1387.4 392.1h-5.6M819 328.1h5.6M1387.4 328.1h-5.6M819 264.1h5.6M1387.4 264.1h-5.6M819 200.1h5.6M1387.4 200.1h-5.6M819 136.1h5.6M1387.4 136.1h-5.6M819 72.1h5.6M1387.4 72.1h-5.6" stroke="#262626" stroke-width="1.1" fill="none"/>
<g class="tk"><text x="819" y="548.6" text-anchor="middle">0</text><text x="961.1" y="548.6" text-anchor="middle">20</text><text x="1103.2" y="548.6" text-anchor="middle">40</text><text x="1245.3" y="548.6" text-anchor="middle">60</text><text x="1387.4" y="548.6" text-anchor="middle">80</text><text x="810.4" y="527.9" text-anchor="end">2</text><text x="810.4" y="463.9" text-anchor="end">4</text><text x="810.4" y="399.9" text-anchor="end">6</text><text x="810.4" y="335.9" text-anchor="end">8</text><text x="810.4" y="271.9" text-anchor="end">10</text><text x="810.4" y="207.9" text-anchor="end">12</text><text x="810.4" y="143.9" text-anchor="end">14</text><text x="810.4" y="79.9" text-anchor="end">16</text><text x="810.4" y="15.9" text-anchor="end">18</text></g>
<path d="M1003.5 124.5h7M1007 121v7M1089.5 260.5h7M1093 257v7M1216 324.5h7M1219.5 321v7M1312.5 213h7M1316 209.5v7M1327.9 364.7h7M1331.4 361.2v7M1380 276h7M1383.5 272.5v7" stroke="#000" stroke-width="1" fill="none"/>
<g class="cl"><text x="1007.5" y="120">-20</text><text x="1093.5" y="256">-20</text><text x="1220.6" y="319.4">-20</text><text x="1280" y="241.1">-10</text><text x="1325.7" y="384.6">-8</text><text x="1358.4" y="284.7">-5</text></g>
<g fill="none" stroke-width="2.7" stroke-linejoin="round">
<path d="M819.4 809.4l36.6 .2 35.4 1.4 32 2.7 13.7 6.9 6.4 8.7-17.8 7.3-34.3 9.1-35.4 6.2-36.6 1.8" stroke="#00008f"/>
<path d="M819.4 1046.5l72 .2 68.6 1.4 36.6 2.8 36.5 4.5 32 5.7 8.7 8-15.5 3.5-29.7 4.5-32 2.3-59.5 1.6-117.7 .3" stroke="#00008f"/>
<path d="M1160 661.3l1.8 8.4-2.5 11.4 0 11.9 20.1 7.6 8 9.1 9.2 8 16.4 6.9 13.3 17.1 9.1 17.2 5.7 16 .7 13.7-2.9 18.3-8 22.8-11.5 20.6-11.4 16-18.3 27.4-17.1 26.3-13.7 28-2.3 13.7 2.3 16 6.8 16 14.9 18.3 16 12.6 16 10.3 9.1 10.2 10.3 8 4.1 9.2-.7 6.8-10.3 8-14.8 6.9-18.3 5.3-20.6 3.8-34.3 3.9-34.2 2.3-74.3 1.2-68.6 1.1-140.6 .7" stroke="#ffcf00"/>
<path d="M1241.1 661.3l3.9 8.4-1.1 6.9 2.5 16.4 9.6 8.3 6.9 15.3 9.1 9.1 8 19.4 5.3 20.6 1.1 16-2.3 20.6-7.5 27.4-11.5 26.3-11.4 26.3-16 37.7-8 28-1.6 18.3 2.3 20.6 9.6 22.8 11.4 14.9 11.5 12.5 5.7 9.2 6.1 6.8 2.6 11.5-1.2 5.7-8.7 10.3-11.4 6.8-16 5.7-29.7 5.3-38.9 3.9-45.7 3-45.7 2-51.4 .2-68.6 1-140.6 .9" stroke="#ff4000"/>
<path d="M1330.3 661.3l3 8.4 1.6 23.3 4.5 8.3 3.5 16.4 3.4 8 3.4 21.7 1.8 25.2-1.1 22.8-4.1 27.5-8 34.2-8 34.3-6.9 36-3.9 25.2-.6 25.1 2.2 20.6 6.9 26.3 5.7 10.3 6.2 13.7 2.5 11.4-.7 10.3-6.8 12.6-10.3 10.9-16 5.1-27.5 5.7-36.5 4.5-34.3 3.5-38.9 2.7-45.7 3-45.7 2.3-51.4 1.1-68.6 1.6-140.6 1.4" stroke="#800000"/>
</g>
<path d="M1138.7 1173V661.3M1209.8 1173V661.3M1316.4 1173V661.3M819 1089.7H1387.4" stroke="#000" stroke-width="3" stroke-dasharray="11.6 9.79" fill="none"/>
<path d="M819 661.3H1387.4V1173H819zM961.1 1173v-5.6M961.1 661.3v5.6M1103.2 1173v-5.6M1103.2 661.3v5.6M1245.3 1173v-5.6M1245.3 661.3v5.6M819 1109h5.6M1387.4 1109h-5.6M819 1045.1h5.6M1387.4 1045.1h-5.6M819 981.1h5.6M1387.4 981.1h-5.6M819 917.1h5.6M1387.4 917.1h-5.6M819 853.2h5.6M1387.4 853.2h-5.6M819 789.2h5.6M1387.4 789.2h-5.6M819 725.3h5.6M1387.4 725.3h-5.6" stroke="#262626" stroke-width="1.1" fill="none"/>
<g class="tk"><text x="819" y="1201.5" text-anchor="middle">0</text><text x="961.1" y="1201.5" text-anchor="middle">20</text><text x="1103.2" y="1201.5" text-anchor="middle">40</text><text x="1245.3" y="1201.5" text-anchor="middle">60</text><text x="1387.4" y="1201.5" text-anchor="middle">80</text><text x="810.4" y="1180.8" text-anchor="end">2</text><text x="810.4" y="1116.8" text-anchor="end">4</text><text x="810.4" y="1052.9" text-anchor="end">6</text><text x="810.4" y="988.9" text-anchor="end">8</text><text x="810.4" y="924.9" text-anchor="end">10</text><text x="810.4" y="861" text-anchor="end">12</text><text x="810.4" y="797" text-anchor="end">14</text><text x="810.4" y="733.1" text-anchor="end">16</text><text x="810.4" y="669.1" text-anchor="end">18</text></g>
<path d="M928.4 817.6h7M931.9 814.1v7M1026.2 1076.7h7M1029.7 1073.2v7M1260.5 857.1h7M1264 853.6v7M1167.5 1000.6h7M1171 997.1v7M1325 1025.3h7M1328.5 1021.8v7" stroke="#000" stroke-width="1" fill="none"/>
<g class="cl"><text x="932.6" y="812.6">-20</text><text x="1029.7" y="1071.4">-20</text><text x="1273.8" y="856">-8</text><text x="1171.4" y="994.9">-10</text><text x="1329.8" y="1020">-5</text></g>
<g class="lb">
<text x="0.9" y="541.7">Frequency(GHz)</text><text x="1.7" y="1194.6">Frequency(GHz)</text>
<text transform="translate(18.3 218) rotate(-90)" text-anchor="middle">Reflectivity(dB)</text>
<text transform="translate(18.8 871) rotate(-90)" text-anchor="middle">Reflectivity(dB)</text>
<text transform="translate(777.8 263.7) rotate(-90)" text-anchor="middle">Frequency(GHz)</text>
<text transform="translate(777.8 916.9) rotate(-90)" text-anchor="middle">Frequency(GHz)</text>
</g><g class="th">
<text x="423.5" y="553.7"><tspan font-style="italic">θ</tspan>(°)</text>
<text x="424.3" y="1206.6"><tspan font-style="italic">θ</tspan>(°)</text>
<text x="1084" y="577"><tspan font-style="italic">θ</tspan>(°)</text>
<text x="1084.5" y="1230"><tspan font-style="italic">θ</tspan>(°)</text>
</g><g class="cp">
<text x="348.5" y="623.5">(a)</text>
<text x="1077" y="624.5">(b)</text>
<text x="348.5" y="1272.5">(c)</text>
<text x="1077" y="1273">(d)</text>
</g>
</svg></body></html>
